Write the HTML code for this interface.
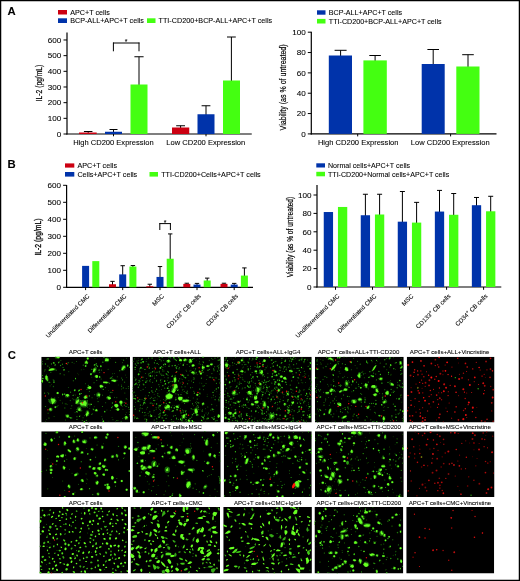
<!DOCTYPE html>
<html><head><meta charset="utf-8"><title>Figure</title>
<style>
html,body{margin:0;padding:0;background:#fff;}
body{width:520px;height:581px;overflow:hidden;position:relative;font-family:"Liberation Sans",sans-serif;}
#frame{position:absolute;left:0;top:0;width:520px;height:581px;box-sizing:border-box;border:1.3px solid #000;}
svg text{font-family:"Liberation Sans",sans-serif;fill:#000;stroke:#000;stroke-width:0.08px;}
</style></head><body>
<svg width="520" height="581" viewBox="0 0 520 581" style="position:absolute;left:0;top:0;will-change:transform">
<text x="7.5" y="15" font-size="11.3" text-anchor="start" font-weight="bold">A</text>
<text x="7.5" y="168.3" font-size="11.3" text-anchor="start" font-weight="bold">B</text>
<text x="7.7" y="359.3" font-size="11.3" text-anchor="start" font-weight="bold">C</text>
<rect x="58.00" y="10.00" width="9.00" height="4.50" fill="#cc0011"/>
<text x="70.2" y="15" font-size="7.2" text-anchor="start" font-weight="normal">APC+T cells</text>
<rect x="58.00" y="18.30" width="9.00" height="4.70" fill="#0033aa"/>
<text x="70.2" y="23.3" font-size="7.2" text-anchor="start" font-weight="normal">BCP-ALL+APC+T cells</text>
<rect x="147.00" y="18.30" width="8.50" height="4.70" fill="#44ff11"/>
<text x="158.6" y="23.3" font-size="7.2" text-anchor="start" font-weight="normal">TTI-CD200+BCP-ALL+APC+T cells</text>
<line x1="67.00" y1="32.50" x2="67.00" y2="134.50" stroke="#000" stroke-width="1.2"/>
<line x1="66.40" y1="134.00" x2="251.75" y2="134.00" stroke="#000" stroke-width="1.2"/>
<line x1="63.50" y1="134.00" x2="67.00" y2="134.00" stroke="#000" stroke-width="1"/>
<text x="61.2" y="136.75" font-size="8.1" text-anchor="end" font-weight="normal">0</text>
<line x1="63.50" y1="118.33" x2="67.00" y2="118.33" stroke="#000" stroke-width="1"/>
<text x="61.2" y="121.08" font-size="8.1" text-anchor="end" font-weight="normal">100</text>
<line x1="63.50" y1="102.66" x2="67.00" y2="102.66" stroke="#000" stroke-width="1"/>
<text x="61.2" y="105.41" font-size="8.1" text-anchor="end" font-weight="normal">200</text>
<line x1="63.50" y1="86.99" x2="67.00" y2="86.99" stroke="#000" stroke-width="1"/>
<text x="61.2" y="89.74" font-size="8.1" text-anchor="end" font-weight="normal">300</text>
<line x1="63.50" y1="71.32" x2="67.00" y2="71.32" stroke="#000" stroke-width="1"/>
<text x="61.2" y="74.07" font-size="8.1" text-anchor="end" font-weight="normal">400</text>
<line x1="63.50" y1="55.65" x2="67.00" y2="55.65" stroke="#000" stroke-width="1"/>
<text x="61.2" y="58.39999999999999" font-size="8.1" text-anchor="end" font-weight="normal">500</text>
<line x1="63.50" y1="39.98" x2="67.00" y2="39.98" stroke="#000" stroke-width="1"/>
<text x="61.2" y="42.72999999999999" font-size="8.1" text-anchor="end" font-weight="normal">600</text>
<text font-size="8.8" text-anchor="middle" style="stroke-width:0.2px" transform="translate(41.5 83) rotate(-90) scale(0.766 1)">IL-2 (pg/mL)</text>
<line x1="88.20" y1="131.50" x2="88.20" y2="133.00" stroke="#000" stroke-width="1"/>
<line x1="83.95" y1="131.50" x2="92.45" y2="131.50" stroke="#000" stroke-width="1"/>
<rect x="79.00" y="132.50" width="17.70" height="1.50" fill="#cc0011"/>
<line x1="113.50" y1="129.50" x2="113.50" y2="136.30" stroke="#000" stroke-width="1"/>
<line x1="109.50" y1="129.50" x2="117.50" y2="129.50" stroke="#000" stroke-width="1"/>
<rect x="105.00" y="131.75" width="17.00" height="2.25" fill="#0033aa"/>
<line x1="139.00" y1="56.75" x2="139.00" y2="90.00" stroke="#000" stroke-width="1"/>
<line x1="134.40" y1="56.75" x2="143.60" y2="56.75" stroke="#000" stroke-width="1"/>
<rect x="130.50" y="84.50" width="17.00" height="49.50" fill="#44ff11"/>
<line x1="113.00" y1="43.00" x2="139.50" y2="43.00" stroke="#000" stroke-width="1"/>
<line x1="113.40" y1="42.50" x2="113.40" y2="51.30" stroke="#000" stroke-width="1"/>
<line x1="139.00" y1="42.50" x2="139.00" y2="51.30" stroke="#000" stroke-width="1"/>
<text x="126" y="43.5" font-size="7" text-anchor="middle" font-weight="normal">*</text>
<line x1="180.60" y1="125.75" x2="180.60" y2="128.00" stroke="#000" stroke-width="1"/>
<line x1="176.20" y1="125.75" x2="185.00" y2="125.75" stroke="#000" stroke-width="1"/>
<rect x="172.00" y="127.50" width="17.25" height="6.50" fill="#cc0011"/>
<line x1="206.00" y1="105.75" x2="206.00" y2="136.30" stroke="#000" stroke-width="1"/>
<line x1="201.60" y1="105.75" x2="210.40" y2="105.75" stroke="#000" stroke-width="1"/>
<rect x="197.50" y="114.25" width="17.00" height="19.75" fill="#0033aa"/>
<line x1="231.40" y1="37.00" x2="231.40" y2="85.00" stroke="#000" stroke-width="1"/>
<line x1="227.00" y1="37.00" x2="235.80" y2="37.00" stroke="#000" stroke-width="1"/>
<rect x="223.00" y="80.50" width="17.00" height="53.50" fill="#44ff11"/>
<text x="113.4" y="145.2" font-size="7.55" text-anchor="middle" font-weight="normal">High CD200 Expression</text>
<text x="205.8" y="145.2" font-size="7.55" text-anchor="middle" font-weight="normal">Low CD200 Expression</text>
<rect x="317.00" y="10.30" width="8.50" height="4.40" fill="#0033aa"/>
<text x="328.8" y="15" font-size="7.15" text-anchor="start" font-weight="normal">BCP-ALL+APC+T cells</text>
<rect x="317.00" y="18.90" width="8.50" height="4.60" fill="#44ff11"/>
<text x="328.8" y="23.7" font-size="7.15" text-anchor="start" font-weight="normal">TTI-CD200+BCP-ALL+APC+T cells</text>
<line x1="311.30" y1="31.70" x2="311.30" y2="134.40" stroke="#000" stroke-width="1.2"/>
<line x1="310.70" y1="133.90" x2="496.50" y2="133.90" stroke="#000" stroke-width="1.2"/>
<line x1="307.80" y1="133.90" x2="311.30" y2="133.90" stroke="#000" stroke-width="1"/>
<text x="305.7" y="136.65" font-size="8.1" text-anchor="end" font-weight="normal">0</text>
<line x1="307.80" y1="113.56" x2="311.30" y2="113.56" stroke="#000" stroke-width="1"/>
<text x="305.7" y="116.31" font-size="8.1" text-anchor="end" font-weight="normal">20</text>
<line x1="307.80" y1="93.22" x2="311.30" y2="93.22" stroke="#000" stroke-width="1"/>
<text x="305.7" y="95.97000000000001" font-size="8.1" text-anchor="end" font-weight="normal">40</text>
<line x1="307.80" y1="72.88" x2="311.30" y2="72.88" stroke="#000" stroke-width="1"/>
<text x="305.7" y="75.63000000000001" font-size="8.1" text-anchor="end" font-weight="normal">60</text>
<line x1="307.80" y1="52.54" x2="311.30" y2="52.54" stroke="#000" stroke-width="1"/>
<text x="305.7" y="55.29000000000002" font-size="8.1" text-anchor="end" font-weight="normal">80</text>
<line x1="307.80" y1="32.20" x2="311.30" y2="32.20" stroke="#000" stroke-width="1"/>
<text x="305.7" y="34.95000000000002" font-size="8.1" text-anchor="end" font-weight="normal">100</text>
<text font-size="8.6" text-anchor="middle" style="stroke-width:0.2px" transform="translate(285.9 87.4) rotate(-90) scale(0.82 1)">Viability (as % of untreated)</text>
<line x1="340.60" y1="50.30" x2="340.60" y2="60.00" stroke="#000" stroke-width="1"/>
<line x1="334.60" y1="50.30" x2="346.60" y2="50.30" stroke="#000" stroke-width="1"/>
<rect x="328.80" y="55.50" width="23.20" height="78.40" fill="#0033aa"/>
<line x1="375.10" y1="55.50" x2="375.10" y2="65.00" stroke="#000" stroke-width="1"/>
<line x1="369.30" y1="55.50" x2="380.90" y2="55.50" stroke="#000" stroke-width="1"/>
<rect x="363.40" y="60.40" width="23.40" height="73.50" fill="#44ff11"/>
<line x1="357.70" y1="133.90" x2="357.70" y2="136.40" stroke="#000" stroke-width="1"/>
<line x1="433.20" y1="49.50" x2="433.20" y2="70.00" stroke="#000" stroke-width="1"/>
<line x1="427.40" y1="49.50" x2="439.00" y2="49.50" stroke="#000" stroke-width="1"/>
<rect x="421.70" y="64.00" width="23.00" height="69.90" fill="#0033aa"/>
<line x1="468.00" y1="54.70" x2="468.00" y2="70.00" stroke="#000" stroke-width="1"/>
<line x1="462.20" y1="54.70" x2="473.80" y2="54.70" stroke="#000" stroke-width="1"/>
<rect x="456.30" y="66.50" width="23.20" height="67.40" fill="#44ff11"/>
<line x1="450.60" y1="133.90" x2="450.60" y2="136.40" stroke="#000" stroke-width="1"/>
<text x="358.2" y="145.2" font-size="7.55" text-anchor="middle" font-weight="normal">High CD200 Expression</text>
<text x="450.2" y="145.2" font-size="7.55" text-anchor="middle" font-weight="normal">Low CD200 Expression</text>
<rect x="65.00" y="163.40" width="9.30" height="4.20" fill="#cc0011"/>
<text x="77.4" y="168.2" font-size="7.2" text-anchor="start" font-weight="normal">APC+T cells</text>
<rect x="65.00" y="172.00" width="9.30" height="4.60" fill="#0033aa"/>
<text x="77.4" y="176.7" font-size="7.2" text-anchor="start" font-weight="normal">Cells+APC+T cells</text>
<rect x="149.50" y="172.00" width="8.50" height="4.60" fill="#44ff11"/>
<text x="161.2" y="176.7" font-size="7.2" text-anchor="start" font-weight="normal">TTI-CD200+Cells+APC+T cells</text>
<line x1="66.60" y1="185.00" x2="66.60" y2="287.80" stroke="#000" stroke-width="1.2"/>
<line x1="66.00" y1="287.30" x2="253.00" y2="287.30" stroke="#000" stroke-width="1.2"/>
<line x1="63.10" y1="287.30" x2="66.60" y2="287.30" stroke="#000" stroke-width="1"/>
<text x="60.9" y="290.05" font-size="8.1" text-anchor="end" font-weight="normal">0</text>
<line x1="63.10" y1="270.30" x2="66.60" y2="270.30" stroke="#000" stroke-width="1"/>
<text x="60.9" y="273.05" font-size="8.1" text-anchor="end" font-weight="normal">100</text>
<line x1="63.10" y1="253.30" x2="66.60" y2="253.30" stroke="#000" stroke-width="1"/>
<text x="60.9" y="256.05" font-size="8.1" text-anchor="end" font-weight="normal">200</text>
<line x1="63.10" y1="236.30" x2="66.60" y2="236.30" stroke="#000" stroke-width="1"/>
<text x="60.9" y="239.05" font-size="8.1" text-anchor="end" font-weight="normal">300</text>
<line x1="63.10" y1="219.30" x2="66.60" y2="219.30" stroke="#000" stroke-width="1"/>
<text x="60.9" y="222.05" font-size="8.1" text-anchor="end" font-weight="normal">400</text>
<line x1="63.10" y1="202.30" x2="66.60" y2="202.30" stroke="#000" stroke-width="1"/>
<text x="60.9" y="205.05" font-size="8.1" text-anchor="end" font-weight="normal">500</text>
<line x1="63.10" y1="185.30" x2="66.60" y2="185.30" stroke="#000" stroke-width="1"/>
<text x="60.9" y="188.05" font-size="8.1" text-anchor="end" font-weight="normal">600</text>
<text font-size="8.7" text-anchor="middle" style="stroke-width:0.3px" transform="translate(41.1 237) rotate(-90) scale(0.786 1)">IL-2 (pg/mL)</text>
<rect x="82.10" y="265.88" width="7.00" height="21.42" fill="#0033aa"/>
<rect x="92.30" y="261.12" width="7.00" height="26.18" fill="#44ff11"/>
<line x1="85.60" y1="287.30" x2="85.60" y2="290.10" stroke="#000" stroke-width="1"/>
<line x1="112.50" y1="281.35" x2="112.50" y2="285.24" stroke="#000" stroke-width="1"/>
<line x1="110.30" y1="281.35" x2="114.70" y2="281.35" stroke="#000" stroke-width="1"/>
<rect x="109.00" y="284.24" width="7.00" height="3.06" fill="#cc0011"/>
<line x1="122.70" y1="265.71" x2="122.70" y2="275.38" stroke="#000" stroke-width="1"/>
<line x1="120.50" y1="265.71" x2="124.90" y2="265.71" stroke="#000" stroke-width="1"/>
<rect x="119.20" y="274.38" width="7.00" height="12.92" fill="#0033aa"/>
<line x1="132.90" y1="265.54" x2="132.90" y2="267.56" stroke="#000" stroke-width="1"/>
<line x1="130.70" y1="265.54" x2="135.10" y2="265.54" stroke="#000" stroke-width="1"/>
<rect x="129.40" y="266.56" width="7.00" height="20.74" fill="#44ff11"/>
<line x1="122.70" y1="287.30" x2="122.70" y2="290.10" stroke="#000" stroke-width="1"/>
<line x1="149.80" y1="284.24" x2="149.80" y2="287.28" stroke="#000" stroke-width="1"/>
<line x1="147.60" y1="284.24" x2="152.00" y2="284.24" stroke="#000" stroke-width="1"/>
<rect x="146.30" y="286.28" width="7.00" height="1.02" fill="#cc0011"/>
<line x1="160.00" y1="266.56" x2="160.00" y2="277.93" stroke="#000" stroke-width="1"/>
<line x1="157.80" y1="266.56" x2="162.20" y2="266.56" stroke="#000" stroke-width="1"/>
<rect x="156.50" y="276.93" width="7.00" height="10.37" fill="#0033aa"/>
<line x1="170.20" y1="233.92" x2="170.20" y2="259.74" stroke="#000" stroke-width="1"/>
<line x1="168.00" y1="233.92" x2="172.40" y2="233.92" stroke="#000" stroke-width="1"/>
<rect x="166.70" y="258.74" width="7.00" height="28.56" fill="#44ff11"/>
<line x1="160.00" y1="287.30" x2="160.00" y2="290.10" stroke="#000" stroke-width="1"/>
<line x1="186.80" y1="283.22" x2="186.80" y2="284.90" stroke="#000" stroke-width="1"/>
<line x1="184.60" y1="283.22" x2="189.00" y2="283.22" stroke="#000" stroke-width="1"/>
<rect x="183.30" y="283.90" width="7.00" height="3.40" fill="#cc0011"/>
<line x1="197.00" y1="283.39" x2="197.00" y2="285.58" stroke="#000" stroke-width="1"/>
<line x1="194.80" y1="283.39" x2="199.20" y2="283.39" stroke="#000" stroke-width="1"/>
<rect x="193.50" y="284.58" width="7.00" height="2.72" fill="#0033aa"/>
<line x1="207.20" y1="278.12" x2="207.20" y2="281.50" stroke="#000" stroke-width="1"/>
<line x1="205.00" y1="278.12" x2="209.40" y2="278.12" stroke="#000" stroke-width="1"/>
<rect x="203.70" y="280.50" width="7.00" height="6.80" fill="#44ff11"/>
<line x1="197.00" y1="287.30" x2="197.00" y2="290.10" stroke="#000" stroke-width="1"/>
<line x1="224.00" y1="283.22" x2="224.00" y2="284.90" stroke="#000" stroke-width="1"/>
<line x1="221.80" y1="283.22" x2="226.20" y2="283.22" stroke="#000" stroke-width="1"/>
<rect x="220.50" y="283.90" width="7.00" height="3.40" fill="#cc0011"/>
<line x1="234.20" y1="283.39" x2="234.20" y2="285.58" stroke="#000" stroke-width="1"/>
<line x1="232.00" y1="283.39" x2="236.40" y2="283.39" stroke="#000" stroke-width="1"/>
<rect x="230.70" y="284.58" width="7.00" height="2.72" fill="#0033aa"/>
<line x1="244.40" y1="267.92" x2="244.40" y2="276.57" stroke="#000" stroke-width="1"/>
<line x1="242.20" y1="267.92" x2="246.60" y2="267.92" stroke="#000" stroke-width="1"/>
<rect x="240.90" y="275.57" width="7.00" height="11.73" fill="#44ff11"/>
<line x1="234.20" y1="287.30" x2="234.20" y2="290.10" stroke="#000" stroke-width="1"/>
<line x1="159.40" y1="223.60" x2="170.80" y2="223.60" stroke="#000" stroke-width="1"/>
<line x1="159.80" y1="223.10" x2="159.80" y2="230.00" stroke="#000" stroke-width="1"/>
<line x1="170.40" y1="223.10" x2="170.40" y2="230.00" stroke="#000" stroke-width="1"/>
<text x="165" y="224.5" font-size="7" text-anchor="middle" font-weight="normal">*</text>
<text font-size="6.15" text-anchor="end" transform="translate(89.89999999999999 296.5) rotate(-45)">Undifferentiated CMC</text>
<text font-size="6.15" text-anchor="end" transform="translate(127.0 296.5) rotate(-45)">Differentiated CMC</text>
<text font-size="6.15" text-anchor="end" transform="translate(164.3 296.5) rotate(-45)">MSC</text>
<text font-size="6.15" text-anchor="end" transform="translate(201.3 296.5) rotate(-45)">CD133<tspan dy="-2.5" font-size="4.5">+</tspan><tspan dy="2.5"> CB cells</tspan></text>
<text font-size="6.15" text-anchor="end" transform="translate(238.5 296.5) rotate(-45)">CD34<tspan dy="-2.5" font-size="4.5">+</tspan><tspan dy="2.5"> CB cells</tspan></text>
<rect x="316.30" y="163.30" width="8.70" height="4.20" fill="#0033aa"/>
<text x="328" y="168.3" font-size="7.08" text-anchor="start" font-weight="normal">Normal cells+APC+T cells</text>
<rect x="316.30" y="171.80" width="8.70" height="4.50" fill="#44ff11"/>
<text x="328" y="176.8" font-size="7.08" text-anchor="start" font-weight="normal">TTI-CD200+Normal cells+APC+T cells</text>
<line x1="317.00" y1="185.00" x2="317.00" y2="287.50" stroke="#000" stroke-width="1.2"/>
<line x1="316.40" y1="287.00" x2="501.30" y2="287.00" stroke="#000" stroke-width="1.2"/>
<line x1="313.50" y1="287.00" x2="317.00" y2="287.00" stroke="#000" stroke-width="1"/>
<text x="311.4" y="289.75" font-size="8.1" text-anchor="end" font-weight="normal">0</text>
<line x1="313.50" y1="268.60" x2="317.00" y2="268.60" stroke="#000" stroke-width="1"/>
<text x="311.4" y="271.35" font-size="8.1" text-anchor="end" font-weight="normal">20</text>
<line x1="313.50" y1="250.20" x2="317.00" y2="250.20" stroke="#000" stroke-width="1"/>
<text x="311.4" y="252.95" font-size="8.1" text-anchor="end" font-weight="normal">40</text>
<line x1="313.50" y1="231.80" x2="317.00" y2="231.80" stroke="#000" stroke-width="1"/>
<text x="311.4" y="234.55" font-size="8.1" text-anchor="end" font-weight="normal">60</text>
<line x1="313.50" y1="213.40" x2="317.00" y2="213.40" stroke="#000" stroke-width="1"/>
<text x="311.4" y="216.14999999999998" font-size="8.1" text-anchor="end" font-weight="normal">80</text>
<line x1="313.50" y1="195.00" x2="317.00" y2="195.00" stroke="#000" stroke-width="1"/>
<text x="311.4" y="197.75" font-size="8.1" text-anchor="end" font-weight="normal">100</text>
<text font-size="8.8" text-anchor="middle" style="stroke-width:0.2px" transform="translate(292.7 237) rotate(-90) scale(0.75 1)">Viability (as % of untreated)</text>
<rect x="323.75" y="212.02" width="9.30" height="74.98" fill="#0033aa"/>
<rect x="337.95" y="206.96" width="9.30" height="80.04" fill="#44ff11"/>
<line x1="335.50" y1="287.00" x2="335.50" y2="289.80" stroke="#000" stroke-width="1"/>
<line x1="365.40" y1="194.26" x2="365.40" y2="216.24" stroke="#000" stroke-width="1"/>
<line x1="362.90" y1="194.26" x2="367.90" y2="194.26" stroke="#000" stroke-width="1"/>
<rect x="360.75" y="215.24" width="9.30" height="71.76" fill="#0033aa"/>
<line x1="379.60" y1="194.26" x2="379.60" y2="215.50" stroke="#000" stroke-width="1"/>
<line x1="377.10" y1="194.26" x2="382.10" y2="194.26" stroke="#000" stroke-width="1"/>
<rect x="374.95" y="214.50" width="9.30" height="72.50" fill="#44ff11"/>
<line x1="372.50" y1="287.00" x2="372.50" y2="289.80" stroke="#000" stroke-width="1"/>
<line x1="402.40" y1="191.50" x2="402.40" y2="222.68" stroke="#000" stroke-width="1"/>
<line x1="399.90" y1="191.50" x2="404.90" y2="191.50" stroke="#000" stroke-width="1"/>
<rect x="397.75" y="221.68" width="9.30" height="65.32" fill="#0033aa"/>
<line x1="416.60" y1="202.36" x2="416.60" y2="223.60" stroke="#000" stroke-width="1"/>
<line x1="414.10" y1="202.36" x2="419.10" y2="202.36" stroke="#000" stroke-width="1"/>
<rect x="411.95" y="222.60" width="9.30" height="64.40" fill="#44ff11"/>
<line x1="409.50" y1="287.00" x2="409.50" y2="289.80" stroke="#000" stroke-width="1"/>
<line x1="439.50" y1="190.40" x2="439.50" y2="212.56" stroke="#000" stroke-width="1"/>
<line x1="437.00" y1="190.40" x2="442.00" y2="190.40" stroke="#000" stroke-width="1"/>
<rect x="434.85" y="211.56" width="9.30" height="75.44" fill="#0033aa"/>
<line x1="453.70" y1="193.53" x2="453.70" y2="215.78" stroke="#000" stroke-width="1"/>
<line x1="451.20" y1="193.53" x2="456.20" y2="193.53" stroke="#000" stroke-width="1"/>
<rect x="449.05" y="214.78" width="9.30" height="72.22" fill="#44ff11"/>
<line x1="446.60" y1="287.00" x2="446.60" y2="289.80" stroke="#000" stroke-width="1"/>
<line x1="476.50" y1="197.48" x2="476.50" y2="206.21" stroke="#000" stroke-width="1"/>
<line x1="474.00" y1="197.48" x2="479.00" y2="197.48" stroke="#000" stroke-width="1"/>
<rect x="471.85" y="205.21" width="9.30" height="81.79" fill="#0033aa"/>
<line x1="490.70" y1="196.29" x2="490.70" y2="212.28" stroke="#000" stroke-width="1"/>
<line x1="488.20" y1="196.29" x2="493.20" y2="196.29" stroke="#000" stroke-width="1"/>
<rect x="486.05" y="211.28" width="9.30" height="75.72" fill="#44ff11"/>
<line x1="483.60" y1="287.00" x2="483.60" y2="289.80" stroke="#000" stroke-width="1"/>
<text font-size="6.15" text-anchor="end" transform="translate(339.8 296.5) rotate(-45)">Undifferentiated CMC</text>
<text font-size="6.15" text-anchor="end" transform="translate(376.8 296.5) rotate(-45)">Differentiated CMC</text>
<text font-size="6.15" text-anchor="end" transform="translate(413.8 296.5) rotate(-45)">MSC</text>
<text font-size="6.15" text-anchor="end" transform="translate(450.90000000000003 296.5) rotate(-45)">CD133<tspan dy="-2.5" font-size="4.5">+</tspan><tspan dy="2.5"> CB cells</tspan></text>
<text font-size="6.15" text-anchor="end" transform="translate(487.90000000000003 296.5) rotate(-45)">CD34<tspan dy="-2.5" font-size="4.5">+</tspan><tspan dy="2.5"> CB cells</tspan></text>
<defs><filter id="bl" x="-5%" y="-5%" width="110%" height="110%"><feGaussianBlur stdDeviation="0.42"/></filter></defs>
<text x="85.625" y="354.15" font-size="6.1" text-anchor="middle" font-weight="normal">APC+T cells</text>
<svg x="41.25" y="356.75" width="88.75" height="65.75" viewBox="0 0 88.75 65.75">
<rect width="88.75" height="65.75" fill="#000"/>
<g filter="url(#bl)">
<circle cx="40.1" cy="36.8" r="0.54" fill="rgb(46,184,23)"/>
<circle cx="45.1" cy="38.6" r="0.64" fill="rgb(27,108,13)"/>
<circle cx="42.2" cy="40.4" r="0.43" fill="rgb(27,108,13)"/>
<circle cx="26.9" cy="6.0" r="0.59" fill="rgb(43,173,21)"/>
<circle cx="52.8" cy="26.0" r="0.60" fill="rgb(35,142,17)"/>
<circle cx="54.6" cy="10.4" r="0.65" fill="rgb(21,86,10)"/>
<circle cx="5.6" cy="2.3" r="0.58" fill="rgb(28,115,14)"/>
<circle cx="69.1" cy="21.5" r="0.65" fill="rgb(40,160,20)"/>
<circle cx="46.1" cy="42.1" r="0.40" fill="rgb(37,148,18)"/>
<circle cx="7.5" cy="43.1" r="0.70" fill="rgb(34,137,17)"/>
<circle cx="88.4" cy="55.2" r="0.48" fill="rgb(43,175,21)"/>
<circle cx="67.3" cy="33.7" r="0.42" fill="rgb(22,88,11)"/>
<circle cx="68.0" cy="26.3" r="0.52" fill="rgb(30,122,15)"/>
<circle cx="85.0" cy="55.7" r="0.46" fill="rgb(21,85,10)"/>
<circle cx="82.3" cy="3.4" r="0.69" fill="rgb(33,133,16)"/>
<circle cx="35.3" cy="4.8" r="0.46" fill="rgb(41,165,20)"/>
<circle cx="59.9" cy="22.2" r="0.50" fill="rgb(31,124,15)"/>
<circle cx="85.6" cy="49.8" r="0.44" fill="rgb(25,100,12)"/>
<circle cx="62.7" cy="0.7" r="0.64" fill="rgb(36,144,18)"/>
<circle cx="15.8" cy="36.8" r="0.55" fill="rgb(35,142,17)"/>
<circle cx="87.4" cy="50.6" r="0.59" fill="rgb(34,138,17)"/>
<circle cx="10.3" cy="27.7" r="0.40" fill="rgb(28,112,14)"/>
<circle cx="76.7" cy="64.1" r="0.49" fill="rgb(40,160,20)"/>
<circle cx="78.5" cy="13.9" r="0.70" fill="rgb(33,135,16)"/>
<circle cx="53.4" cy="37.9" r="0.70" fill="rgb(22,90,11)"/>
<circle cx="18.9" cy="17.0" r="0.58" fill="rgb(45,183,22)"/>
<circle cx="73.7" cy="25.4" r="0.43" fill="rgb(23,94,11)"/>
<circle cx="51.7" cy="16.0" r="0.51" fill="rgb(40,161,20)"/>
<circle cx="55.2" cy="8.4" r="0.55" fill="rgb(40,160,20)"/>
<circle cx="51.0" cy="57.0" r="0.59" fill="rgb(27,108,13)"/>
<circle cx="27.6" cy="15.0" r="0.47" fill="rgb(40,163,20)"/>
<circle cx="16.8" cy="48.6" r="0.46" fill="rgb(38,155,19)"/>
<circle cx="84.3" cy="58.0" r="0.42" fill="rgb(40,162,20)"/>
<circle cx="4.2" cy="7.2" r="0.69" fill="rgb(37,150,18)"/>
<circle cx="21.2" cy="46.3" r="0.53" fill="rgb(29,117,14)"/>
<circle cx="80.3" cy="32.3" r="0.45" fill="rgb(37,151,18)"/>
<circle cx="63.9" cy="4.5" r="0.54" fill="rgb(28,114,14)"/>
<circle cx="58.0" cy="40.5" r="0.48" fill="rgb(23,94,11)"/>
<circle cx="81.4" cy="13.4" r="0.42" fill="rgb(21,87,10)"/>
<circle cx="36.5" cy="16.4" r="0.45" fill="rgb(22,90,11)"/>
<circle cx="32.7" cy="37.6" r="0.43" fill="rgb(25,101,12)"/>
<circle cx="12.3" cy="29.6" r="0.60" fill="rgb(31,127,15)"/>
<circle cx="61.3" cy="38.4" r="0.58" fill="rgb(25,102,12)"/>
<circle cx="82.0" cy="31.2" r="0.61" fill="rgb(32,130,16)"/>
<circle cx="85.4" cy="1.4" r="0.42" fill="rgb(41,166,20)"/>
<circle cx="6.0" cy="20.5" r="0.70" fill="rgb(25,102,12)"/>
<circle cx="6.7" cy="35.9" r="0.41" fill="rgb(44,179,22)"/>
<circle cx="83.1" cy="48.5" r="0.64" fill="rgb(25,101,12)"/>
<circle cx="81.2" cy="23.1" r="0.54" fill="rgb(43,172,21)"/>
<circle cx="6.9" cy="56.4" r="0.66" fill="rgb(22,88,11)"/>
<circle cx="50.8" cy="41.1" r="0.51" fill="rgb(33,133,16)"/>
<circle cx="1.1" cy="4.8" r="0.59" fill="rgb(24,96,12)"/>
<circle cx="88.2" cy="57.8" r="0.50" fill="rgb(44,178,22)"/>
<circle cx="82.9" cy="45.6" r="0.53" fill="rgb(35,143,17)"/>
<circle cx="74.4" cy="5.5" r="0.55" fill="rgb(45,181,22)"/>
<circle cx="27.5" cy="5.8" r="0.47" fill="rgb(21,87,10)"/>
<circle cx="62.0" cy="32.7" r="0.60" fill="rgb(40,163,20)"/>
<circle cx="43.2" cy="58.9" r="0.49" fill="rgb(33,132,16)"/>
<circle cx="60.2" cy="13.3" r="0.63" fill="rgb(26,106,13)"/>
<circle cx="30.4" cy="61.2" r="0.67" fill="rgb(37,148,18)"/>
<circle cx="29.0" cy="43.8" r="0.59" fill="rgb(27,110,13)"/>
<circle cx="71.3" cy="49.6" r="0.66" fill="rgb(27,110,13)"/>
<circle cx="34.1" cy="38.3" r="0.46" fill="rgb(31,125,15)"/>
<circle cx="11.9" cy="23.1" r="0.61" fill="rgb(22,90,11)"/>
<circle cx="84.3" cy="18.2" r="0.43" fill="rgb(26,106,13)"/>
<circle cx="41.8" cy="60.9" r="0.51" fill="rgb(34,137,17)"/>
<circle cx="46.1" cy="44.2" r="0.65" fill="rgb(44,176,22)"/>
<circle cx="87.2" cy="29.8" r="0.65" fill="rgb(23,94,11)"/>
<circle cx="24.7" cy="39.9" r="0.61" fill="rgb(42,171,21)"/>
<circle cx="50.6" cy="20.3" r="0.41" fill="rgb(39,157,19)"/>
<circle cx="12.1" cy="29.9" r="0.63" fill="rgb(22,88,11)"/>
<circle cx="23.6" cy="51.2" r="0.70" fill="rgb(22,91,11)"/>
<circle cx="10.2" cy="7.2" r="0.60" fill="rgb(38,153,19)"/>
<circle cx="71.7" cy="63.0" r="0.46" fill="rgb(43,172,21)"/>
<circle cx="73.1" cy="16.8" r="0.40" fill="rgb(44,176,22)"/>
<circle cx="41.9" cy="47.0" r="0.47" fill="rgb(26,107,13)"/>
<circle cx="69.1" cy="35.5" r="0.55" fill="rgb(37,151,18)"/>
<circle cx="88.5" cy="10.5" r="0.67" fill="rgb(43,174,21)"/>
<circle cx="7.7" cy="61.3" r="0.52" fill="rgb(44,177,22)"/>
<circle cx="40.0" cy="12.9" r="0.51" fill="rgb(21,85,10)"/>
<circle cx="50.5" cy="57.8" r="0.54" fill="rgb(32,128,16)"/>
<circle cx="57.8" cy="13.5" r="0.66" fill="rgb(44,177,22)"/>
<circle cx="70.8" cy="60.8" r="0.46" fill="rgb(25,100,12)"/>
<circle cx="79.9" cy="64.5" r="0.56" fill="rgb(31,124,15)"/>
<circle cx="70.2" cy="21.1" r="0.66" fill="rgb(44,176,22)"/>
<circle cx="30.9" cy="5.4" r="0.50" fill="rgb(35,141,17)"/>
<circle cx="37.4" cy="18.1" r="0.47" fill="rgb(22,88,11)"/>
<circle cx="77.0" cy="28.2" r="0.45" fill="rgb(22,89,11)"/>
<circle cx="29.7" cy="51.8" r="0.54" fill="rgb(25,102,12)"/>
<circle cx="88.7" cy="59.2" r="0.65" fill="rgb(37,151,18)"/>
<circle cx="61.2" cy="62.2" r="0.57" fill="rgb(37,148,18)"/>
<circle cx="61.2" cy="49.8" r="0.56" fill="rgb(35,141,17)"/>
<circle cx="25.8" cy="47.9" r="0.45" fill="rgb(41,166,20)"/>
<circle cx="45.6" cy="59.6" r="0.49" fill="rgb(29,117,14)"/>
<circle cx="33.8" cy="55.6" r="0.46" fill="rgb(40,163,20)"/>
<circle cx="75.5" cy="63.7" r="0.48" fill="rgb(38,152,19)"/>
<circle cx="44.2" cy="27.0" r="0.55" fill="rgb(24,99,12)"/>
<circle cx="53.7" cy="1.8" r="0.55" fill="rgb(22,90,11)"/>
<circle cx="35.6" cy="52.7" r="0.44" fill="rgb(39,157,19)"/>
<circle cx="8.3" cy="11.0" r="0.54" fill="rgb(38,153,19)"/>
<circle cx="81.7" cy="52.6" r="0.48" fill="rgb(34,136,17)"/>
<circle cx="42.0" cy="8.3" r="0.67" fill="rgb(35,140,17)"/>
<circle cx="83.0" cy="60.5" r="0.50" fill="rgb(38,152,19)"/>
<circle cx="17.0" cy="40.6" r="0.44" fill="rgb(29,118,14)"/>
<circle cx="69.2" cy="1.5" r="0.45" fill="rgb(27,109,13)"/>
<circle cx="1.1" cy="18.7" r="0.51" fill="rgb(44,177,22)"/>
<circle cx="55.0" cy="6.9" r="0.57" fill="rgb(44,178,22)"/>
<circle cx="75.6" cy="41.0" r="0.46" fill="rgb(44,176,22)"/>
<circle cx="47.1" cy="28.7" r="0.59" fill="rgb(33,133,16)"/>
<circle cx="73.2" cy="40.5" r="0.46" fill="rgb(38,153,19)"/>
<circle cx="56.0" cy="42.0" r="0.46" fill="rgb(38,152,19)"/>
<circle cx="48.2" cy="38.6" r="0.47" fill="rgb(25,102,12)"/>
<circle cx="65.7" cy="53.3" r="0.49" fill="rgb(27,108,13)"/>
<circle cx="28.0" cy="60.7" r="0.63" fill="rgb(28,112,14)"/>
<circle cx="17.3" cy="6.4" r="0.44" fill="rgb(28,115,14)"/>
<circle cx="7.8" cy="25.5" r="0.65" fill="rgb(35,140,17)"/>
<circle cx="37.4" cy="51.9" r="0.46" fill="rgb(25,101,12)"/>
<circle cx="55.7" cy="52.5" r="0.46" fill="rgb(24,97,12)"/>
<circle cx="60.6" cy="59.9" r="0.43" fill="rgb(32,131,16)"/>
<circle cx="44.9" cy="49.8" r="0.70" fill="rgb(37,149,18)"/>
<circle cx="73.9" cy="52.8" r="0.43" fill="rgb(36,146,18)"/>
<circle cx="3.3" cy="36.3" r="0.67" fill="rgb(37,150,18)"/>
<circle cx="42.7" cy="12.5" r="0.46" fill="rgb(24,99,12)"/>
<circle cx="74.6" cy="65.1" r="0.43" fill="rgb(42,171,21)"/>
<circle cx="5.5" cy="62.6" r="0.42" fill="rgb(36,144,18)"/>
<circle cx="8.6" cy="25.7" r="0.55" fill="rgb(34,139,17)"/>
<circle cx="38.2" cy="39.5" r="0.59" fill="rgb(21,86,10)"/>
<circle cx="3.6" cy="13.2" r="0.54" fill="rgb(34,137,17)"/>
<circle cx="65.6" cy="26.6" r="0.58" fill="rgb(27,109,13)"/>
<circle cx="8.4" cy="52.1" r="0.67" fill="rgb(31,126,15)"/>
<circle cx="71.2" cy="46.3" r="0.68" fill="rgb(41,165,20)"/>
<circle cx="50.6" cy="12.6" r="0.69" fill="rgb(39,159,19)"/>
<circle cx="71.4" cy="17.0" r="0.62" fill="rgb(24,99,12)"/>
<circle cx="69.0" cy="53.6" r="0.44" fill="rgb(34,136,17)"/>
<circle cx="29.3" cy="35.4" r="0.63" fill="rgb(33,132,16)"/>
<circle cx="67.9" cy="26.7" r="0.46" fill="rgb(44,177,22)"/>
<circle cx="70.8" cy="19.8" r="0.40" fill="rgb(24,97,12)"/>
<circle cx="31.6" cy="42.0" r="0.41" fill="rgb(41,164,20)"/>
<circle cx="24.2" cy="63.2" r="0.50" fill="rgb(30,123,15)"/>
<circle cx="58.6" cy="37.4" r="0.42" fill="rgb(38,153,19)"/>
<circle cx="45.7" cy="32.7" r="0.61" fill="rgb(28,112,14)"/>
<circle cx="67.6" cy="64.4" r="0.43" fill="rgb(21,87,10)"/>
<circle cx="9.6" cy="15.6" r="0.52" fill="rgb(35,141,17)"/>
<circle cx="4.5" cy="12.9" r="0.40" fill="rgb(33,133,16)"/>
<circle cx="22.9" cy="18.1" r="0.57" fill="rgb(32,128,16)"/>
<circle cx="45.1" cy="63.6" r="0.65" fill="rgb(39,157,19)"/>
<circle cx="8.8" cy="29.2" r="0.42" fill="rgb(41,167,20)"/>
<circle cx="53.0" cy="49.9" r="0.52" fill="rgb(22,90,11)"/>
<circle cx="83.3" cy="25.4" r="0.66" fill="rgb(26,106,13)"/>
<circle cx="48.1" cy="39.2" r="0.68" fill="rgb(34,139,17)"/>
<circle cx="37.3" cy="34.6" r="0.49" fill="rgb(40,161,20)"/>
<circle cx="47.1" cy="31.8" r="0.57" fill="rgb(29,119,14)"/>
<circle cx="25.2" cy="47.1" r="0.41" fill="rgb(30,122,15)"/>
<circle cx="68.6" cy="38.5" r="0.45" fill="rgb(41,166,20)"/>
<circle cx="67.0" cy="25.6" r="0.62" fill="rgb(31,125,15)"/>
<circle cx="4.5" cy="65.0" r="0.42" fill="rgb(31,125,15)"/>
<circle cx="80.4" cy="28.2" r="0.48" fill="rgb(36,146,18)"/>
<circle cx="67.1" cy="3.0" r="0.68" fill="rgb(24,97,12)"/>
<circle cx="64.1" cy="30.8" r="0.58" fill="rgb(29,116,14)"/>
<circle cx="10.2" cy="41.0" r="0.44" fill="rgb(35,143,17)"/>
<circle cx="76.4" cy="23.5" r="0.44" fill="rgb(26,104,13)"/>
<circle cx="39.3" cy="43.9" r="0.58" fill="rgb(35,143,17)"/>
<circle cx="56.8" cy="44.8" r="0.63" fill="rgb(32,131,16)"/>
<circle cx="47.1" cy="65.6" r="0.62" fill="rgb(30,122,15)"/>
<circle cx="21.2" cy="7.5" r="0.64" fill="rgb(31,124,15)"/>
<circle cx="55.5" cy="23.6" r="0.58" fill="rgb(29,119,14)"/>
<circle cx="64.4" cy="46.0" r="0.59" fill="rgb(27,109,13)"/>
<circle cx="66.9" cy="12.5" r="0.55" fill="rgb(29,116,14)"/>
<circle cx="57.9" cy="12.9" r="0.41" fill="rgb(43,172,21)"/>
<circle cx="5.4" cy="17.8" r="0.41" fill="rgb(34,139,17)"/>
<circle cx="3.4" cy="14.6" r="0.42" fill="rgb(30,120,15)"/>
<circle cx="7.7" cy="44.5" r="0.47" fill="rgb(38,155,19)"/>
<circle cx="87.1" cy="31.8" r="0.46" fill="rgb(32,130,16)"/>
<circle cx="30.5" cy="49.0" r="0.64" fill="rgb(23,94,11)"/>
<circle cx="39.7" cy="54.0" r="0.63" fill="rgb(45,183,22)"/>
<circle cx="39.4" cy="49.1" r="0.64" fill="rgb(33,134,16)"/>
<circle cx="32.7" cy="43.0" r="0.50" fill="rgb(40,161,20)"/>
<circle cx="48.7" cy="49.1" r="0.53" fill="rgb(27,108,13)"/>
<circle cx="32.8" cy="6.4" r="0.42" fill="rgb(31,126,15)"/>
<circle cx="7.4" cy="37.1" r="0.64" fill="rgb(36,147,18)"/>
<circle cx="41.1" cy="54.1" r="0.42" fill="rgb(21,86,10)"/>
<circle cx="18.9" cy="43.5" r="0.61" fill="rgb(23,95,11)"/>
<circle cx="43.9" cy="50.2" r="0.48" fill="rgb(31,126,15)"/>
<circle cx="12.7" cy="23.5" r="0.50" fill="rgb(44,177,22)"/>
<circle cx="80.4" cy="21.2" r="0.57" fill="rgb(35,141,17)"/>
<circle cx="81.5" cy="61.8" r="0.53" fill="rgb(30,120,15)"/>
<circle cx="71.3" cy="20.0" r="0.47" fill="rgb(31,125,15)"/>
<circle cx="85.9" cy="48.0" r="0.47" fill="rgb(37,151,18)"/>
<circle cx="32.1" cy="24.0" r="0.60" fill="rgb(32,131,16)"/>
<circle cx="51.9" cy="52.3" r="0.57" fill="rgb(44,179,22)"/>
<circle cx="70.7" cy="35.5" r="0.57" fill="rgb(40,160,20)"/>
<circle cx="15.7" cy="49.9" r="0.64" fill="rgb(30,121,15)"/>
<circle cx="19.6" cy="3.8" r="0.57" fill="rgb(26,105,13)"/>
<circle cx="85.8" cy="42.8" r="0.42" fill="rgb(34,139,17)"/>
<circle cx="48.5" cy="51.8" r="0.50" fill="rgb(23,95,11)"/>
<circle cx="24.3" cy="6.9" r="0.43" fill="rgb(31,125,15)"/>
<circle cx="56.3" cy="9.5" r="0.64" fill="rgb(45,180,22)"/>
<circle cx="37.5" cy="46.8" r="0.63" fill="rgb(36,147,18)"/>
<circle cx="46.3" cy="50.3" r="0.51" fill="rgb(33,135,16)"/>
<circle cx="71.6" cy="21.9" r="0.55" fill="rgb(25,102,12)"/>
<circle cx="47.7" cy="47.4" r="0.59" fill="rgb(43,175,21)"/>
<circle cx="4.1" cy="49.8" r="0.50" fill="rgb(42,170,21)"/>
<circle cx="0.3" cy="24.9" r="0.67" fill="rgb(24,96,12)"/>
<circle cx="85.0" cy="42.1" r="0.51" fill="rgb(38,152,19)"/>
<circle cx="0.9" cy="7.2" r="0.67" fill="rgb(34,138,17)"/>
<circle cx="21.8" cy="10.7" r="0.51" fill="rgb(41,166,20)"/>
<circle cx="14.9" cy="13.4" r="0.56" fill="rgb(34,139,17)"/>
<circle cx="24.3" cy="58.3" r="0.49" fill="rgb(36,145,18)"/>
<circle cx="10.2" cy="42.6" r="0.68" fill="rgb(46,184,23)"/>
<circle cx="81.0" cy="49.5" r="0.58" fill="rgb(21,87,10)"/>
<circle cx="80.7" cy="2.4" r="0.46" fill="rgb(24,98,12)"/>
<circle cx="31.9" cy="38.7" r="0.62" fill="rgb(40,161,20)"/>
<circle cx="52.8" cy="14.7" r="0.67" fill="rgb(27,108,13)"/>
<circle cx="35.7" cy="59.9" r="0.59" fill="rgb(31,124,15)"/>
<circle cx="83.6" cy="36.2" r="0.55" fill="rgb(29,118,14)"/>
<circle cx="35.7" cy="62.8" r="0.56" fill="rgb(42,169,21)"/>
<circle cx="84.9" cy="31.7" r="0.52" fill="rgb(28,113,14)"/>
<circle cx="19.3" cy="8.8" r="0.69" fill="rgb(33,134,16)"/>
<circle cx="70.5" cy="50.9" r="0.70" fill="rgb(46,185,23)"/>
<circle cx="58.4" cy="15.6" r="0.66" fill="rgb(21,86,10)"/>
<circle cx="80.3" cy="29.6" r="0.61" fill="rgb(29,116,14)"/>
<circle cx="53.8" cy="10.3" r="0.63" fill="rgb(26,105,13)"/>
<circle cx="12.8" cy="59.7" r="0.44" fill="rgb(37,151,18)"/>
<circle cx="65.8" cy="40.7" r="0.56" fill="rgb(37,151,18)"/>
<circle cx="13.4" cy="50.7" r="0.46" fill="rgb(21,85,10)"/>
<circle cx="81.3" cy="9.8" r="0.42" fill="rgb(25,101,12)"/>
<circle cx="24.0" cy="47.1" r="0.67" fill="rgb(24,97,12)"/>
<circle cx="61.6" cy="5.4" r="0.58" fill="rgb(45,180,22)"/>
<circle cx="76.1" cy="20.0" r="0.53" fill="rgb(27,109,13)"/>
<circle cx="81.4" cy="6.0" r="0.46" fill="rgb(35,141,17)"/>
<circle cx="48.2" cy="34.6" r="0.68" fill="rgb(26,105,13)"/>
<circle cx="85.5" cy="20.8" r="0.42" fill="rgb(34,136,17)"/>
<circle cx="27.1" cy="30.7" r="0.42" fill="rgb(44,176,22)"/>
<circle cx="6.6" cy="9.2" r="0.52" fill="rgb(42,170,21)"/>
<circle cx="41.0" cy="63.6" r="0.60" fill="rgb(25,100,12)"/>
<circle cx="1.1" cy="24.8" r="0.54" fill="rgb(43,175,21)"/>
<circle cx="26.0" cy="7.5" r="0.40" fill="rgb(45,183,22)"/>
<circle cx="88.0" cy="52.6" r="0.67" fill="rgb(27,111,13)"/>
<circle cx="13.5" cy="41.3" r="0.62" fill="rgb(38,154,19)"/>
<circle cx="84.7" cy="49.6" r="0.60" fill="rgb(39,156,19)"/>
<ellipse cx="22.8" cy="13.1" rx="0.99" ry="0.69" transform="rotate(170 22.8 13.1)" fill="#3ed818"/>
<ellipse cx="49.9" cy="47.6" rx="0.83" ry="0.71" transform="rotate(17 49.9 47.6)" fill="#3ed818"/>
<ellipse cx="12.5" cy="6.2" rx="0.97" ry="0.79" transform="rotate(32 12.5 6.2)" fill="#3ed818"/>
<ellipse cx="35.7" cy="55.0" rx="0.94" ry="0.59" transform="rotate(41 35.7 55.0)" fill="#3ed818"/>
<ellipse cx="13.9" cy="8.2" rx="0.86" ry="0.54" transform="rotate(166 13.9 8.2)" fill="#3ed818"/>
<ellipse cx="37.9" cy="33.6" rx="0.96" ry="0.80" transform="rotate(148 37.9 33.6)" fill="#3ed818"/>
<ellipse cx="34.3" cy="21.8" rx="0.86" ry="0.52" transform="rotate(72 34.3 21.8)" fill="#3ed818"/>
<ellipse cx="62.1" cy="64.6" rx="1.02" ry="0.81" transform="rotate(110 62.1 64.6)" fill="#3ed818"/>
<ellipse cx="1.6" cy="21.8" rx="0.84" ry="0.67" transform="rotate(19 1.6 21.8)" fill="#3ed818"/>
<ellipse cx="33.5" cy="33.5" rx="1.02" ry="0.86" transform="rotate(110 33.5 33.5)" fill="#3ed818"/>
<ellipse cx="14.1" cy="50.4" rx="1.06" ry="0.81" transform="rotate(63 14.1 50.4)" fill="#3ed818"/>
<ellipse cx="44.4" cy="9.3" rx="0.99" ry="0.88" transform="rotate(93 44.4 9.3)" fill="#3ed818"/>
<ellipse cx="63.5" cy="54.9" rx="0.78" ry="0.69" transform="rotate(113 63.5 54.9)" fill="#3ed818"/>
<ellipse cx="17.6" cy="5.5" rx="0.80" ry="0.62" transform="rotate(125 17.6 5.5)" fill="#3ed818"/>
<ellipse cx="29.2" cy="61.1" rx="0.84" ry="0.62" transform="rotate(22 29.2 61.1)" fill="#3ed818"/>
<ellipse cx="86.4" cy="8.9" rx="1.06" ry="0.81" transform="rotate(101 86.4 8.9)" fill="#3ed818"/>
<ellipse cx="49.7" cy="17.4" rx="1.06" ry="0.95" transform="rotate(147 49.7 17.4)" fill="#3ed818"/>
<ellipse cx="53.4" cy="8.1" rx="1.03" ry="0.71" transform="rotate(161 53.4 8.1)" fill="#3ed818"/>
<ellipse cx="21.4" cy="37.7" rx="1.03" ry="0.68" transform="rotate(99 21.4 37.7)" fill="#3ed818"/>
<ellipse cx="6.8" cy="2.1" rx="0.77" ry="0.69" transform="rotate(169 6.8 2.1)" fill="#3ed818"/>
<ellipse cx="58.4" cy="20.2" rx="0.97" ry="0.80" transform="rotate(69 58.4 20.2)" fill="#3ed818"/>
<ellipse cx="52.5" cy="52.9" rx="0.71" ry="0.47" transform="rotate(84 52.5 52.9)" fill="#3ed818"/>
<ellipse cx="12.7" cy="25.4" rx="0.93" ry="0.61" transform="rotate(94 12.7 25.4)" fill="#3ed818"/>
<ellipse cx="23.4" cy="37.3" rx="0.83" ry="0.66" transform="rotate(7 23.4 37.3)" fill="#3ed818"/>
<ellipse cx="59.6" cy="9.5" rx="1.08" ry="0.85" transform="rotate(85 59.6 9.5)" fill="#3ed818"/>
<ellipse cx="36.5" cy="41.0" rx="0.98" ry="0.81" transform="rotate(135 36.5 41.0)" fill="#3ed818"/>
<ellipse cx="43.1" cy="65.4" rx="1.04" ry="0.89" transform="rotate(74 43.1 65.4)" fill="#3ed818"/>
<ellipse cx="38.5" cy="37.2" rx="1.06" ry="0.80" transform="rotate(95 38.5 37.2)" fill="#3ed818"/>
<ellipse cx="38.4" cy="59.5" rx="0.83" ry="0.51" transform="rotate(131 38.4 59.5)" fill="#3ed818"/>
<ellipse cx="79.9" cy="48.1" rx="0.94" ry="0.78" transform="rotate(55 79.9 48.1)" fill="#3ed818"/>
<ellipse cx="16.1" cy="0.4" rx="2.70" ry="1.62" fill="#185f0a"/>
<ellipse cx="10.8" cy="12.8" rx="3.78" ry="1.30" transform="rotate(-10 10.8 12.8)" fill="#185f0a"/>
<ellipse cx="5.5" cy="21.6" rx="3.24" ry="1.62" transform="rotate(70 5.5 21.6)" fill="#185f0a"/>
<ellipse cx="45.1" cy="5.7" rx="1.94" ry="1.94" fill="#185f0a"/>
<ellipse cx="46.5" cy="1.8" rx="1.30" ry="1.30" fill="#185f0a"/>
<ellipse cx="53.6" cy="13.3" rx="3.24" ry="1.62" transform="rotate(-70 53.6 13.3)" fill="#185f0a"/>
<ellipse cx="55.0" cy="19.8" rx="1.73" ry="1.73" fill="#185f0a"/>
<ellipse cx="65.6" cy="3.2" rx="2.37" ry="2.37" fill="#185f0a"/>
<ellipse cx="82.3" cy="11.0" rx="3.02" ry="2.16" transform="rotate(-60 82.3 11.0)" fill="#185f0a"/>
<ellipse cx="64.2" cy="25.7" rx="2.70" ry="1.30" fill="#185f0a"/>
<ellipse cx="72.7" cy="23.9" rx="3.02" ry="1.30" fill="#185f0a"/>
<ellipse cx="60.3" cy="29.7" rx="1.94" ry="1.94" fill="#185f0a"/>
<ellipse cx="47.9" cy="31.0" rx="2.37" ry="1.62" fill="#185f0a"/>
<ellipse cx="57.1" cy="38.1" rx="2.16" ry="2.70" fill="#185f0a"/>
<ellipse cx="44.4" cy="40.4" rx="2.16" ry="1.62" fill="#185f0a"/>
<ellipse cx="26.2" cy="38.9" rx="2.16" ry="1.94" fill="#185f0a"/>
<ellipse cx="11.5" cy="44.6" rx="3.78" ry="3.02" fill="#185f0a"/>
<ellipse cx="36.3" cy="44.6" rx="2.37" ry="3.24" fill="#185f0a"/>
<ellipse cx="42.6" cy="46.9" rx="4.32" ry="3.78" fill="#185f0a"/>
<ellipse cx="38.0" cy="52.2" rx="2.37" ry="2.37" fill="#185f0a"/>
<ellipse cx="46.2" cy="56.6" rx="1.94" ry="3.02" fill="#185f0a"/>
<ellipse cx="26.2" cy="59.3" rx="1.94" ry="1.94" fill="#185f0a"/>
<ellipse cx="9.4" cy="52.7" rx="1.94" ry="1.94" fill="#185f0a"/>
<ellipse cx="67.4" cy="41.1" rx="2.37" ry="1.94" fill="#185f0a"/>
<ellipse cx="75.2" cy="49.0" rx="2.16" ry="2.16" fill="#185f0a"/>
<ellipse cx="76.6" cy="52.7" rx="1.62" ry="1.62" fill="#185f0a"/>
<ellipse cx="79.8" cy="45.7" rx="1.94" ry="1.94" fill="#185f0a"/>
<ellipse cx="85.1" cy="61.1" rx="1.94" ry="1.94" fill="#185f0a"/>
<ellipse cx="55.0" cy="53.4" rx="1.51" ry="1.51" fill="#185f0a"/>
<ellipse cx="16.4" cy="36.3" rx="1.30" ry="1.30" fill="#185f0a"/>
<ellipse cx="0.9" cy="24.8" rx="1.08" ry="1.62" fill="#185f0a"/>
<polygon points="18.5,0.8 16.9,1.7 15.8,1.1 15.1,0.4 14.2,-0.7 15.6,-1.2 18.1,-0.6" fill="#66ff22"/>
<polygon points="10.6,13.8 7.4,14.2 8.0,12.7 9.7,11.8 12.3,11.6 12.5,12.5 13.7,13.1" fill="#66ff22"/>
<polygon points="6.3,22.3 6.8,24.6 5.2,23.0 4.2,22.2 4.1,19.4 5.1,18.4 6.3,19.4" fill="#66ff22"/>
<polygon points="46.5,7.2 44.9,6.4 43.4,6.8 44.2,5.2 45.0,3.5 45.9,5.1 46.3,5.6" fill="#66ff22"/>
<ellipse cx="46.5" cy="1.8" rx="0.96" ry="0.96" fill="#66ff22"/>
<polygon points="54.3,13.3 53.9,14.1 52.6,15.4 51.5,15.0 52.6,11.2 53.8,12.2 54.6,11.6" fill="#66ff22"/>
<polygon points="56.5,18.6 56.8,20.2 55.9,21.2 54.9,21.1 54.2,20.1 53.9,19.5 54.7,18.3" fill="#66ff22"/>
<polygon points="65.4,4.3 63.6,4.3 63.8,3.2 64.5,1.5 66.3,1.9 67.7,2.9 66.9,4.3" fill="#66ff22"/>
<polygon points="84.1,10.4 82.8,11.6 81.3,13.5 80.0,13.5 81.1,10.8 81.9,9.5 83.3,9.3" fill="#66ff22"/>
<polygon points="65.3,25.1 67.0,25.5 65.4,26.5 63.9,26.2 61.8,26.0 61.9,25.0 63.9,25.0" fill="#66ff22"/>
<polygon points="73.1,25.2 71.6,24.4 69.8,23.4 72.2,23.0 74.0,23.2 75.1,23.8 74.4,24.7" fill="#66ff22"/>
<polygon points="59.6,28.1 60.8,28.8 62.3,29.6 61.4,30.2 60.2,30.6 59.0,31.0 58.2,29.1" fill="#66ff22"/>
<polygon points="46.0,30.5 47.0,30.0 48.7,29.3 50.1,30.3 49.8,32.0 47.5,32.4 47.0,31.3" fill="#66ff22"/>
<polygon points="56.4,39.2 56.2,38.1 56.8,36.9 57.7,36.7 59.0,37.4 58.5,39.7 57.0,39.1" fill="#66ff22"/>
<polygon points="43.0,40.3 43.7,38.7 44.9,39.1 46.0,40.3 45.4,41.3 44.3,41.9 42.9,41.7" fill="#66ff22"/>
<polygon points="26.4,40.3 25.7,39.5 24.0,38.6 25.3,37.6 26.7,37.3 28.1,38.4 26.9,39.5" fill="#66ff22"/>
<polygon points="14.4,43.8 13.0,45.8 11.0,47.7 10.4,45.5 10.0,44.2 9.5,41.7 12.9,42.1" fill="#66ff22"/>
<polygon points="37.0,45.5 36.1,46.7 34.2,47.0 35.1,43.8 35.8,43.7 37.5,42.5 37.8,44.2" fill="#66ff22"/>
<polygon points="42.2,44.9 43.8,43.6 45.6,46.2 44.8,49.5 42.7,48.7 40.1,48.7 38.1,46.2" fill="#66ff22"/>
<polygon points="37.0,53.7 36.9,52.3 37.3,51.7 37.9,51.4 38.9,51.5 39.4,52.8 38.9,54.6" fill="#66ff22"/>
<polygon points="45.5,56.0 46.1,54.6 47.0,54.9 47.7,56.6 46.7,58.1 45.4,59.9 44.2,58.0" fill="#66ff22"/>
<polygon points="27.2,60.3 26.3,60.7 25.6,60.0 24.4,59.3 25.5,58.5 26.7,58.4 27.7,58.7" fill="#66ff22"/>
<polygon points="8.8,53.4 8.0,53.2 8.5,51.5 9.7,51.5 10.3,52.1 10.1,53.1 10.2,54.0" fill="#66ff22"/>
<polygon points="69.8,41.9 67.7,42.9 66.8,41.7 66.3,41.2 66.2,39.7 67.4,40.1 69.1,40.4" fill="#66ff22"/>
<polygon points="76.3,47.6 77.2,49.2 75.6,50.7 74.3,50.2 73.0,49.1 73.4,47.5 75.6,47.3" fill="#66ff22"/>
<polygon points="75.9,51.8 76.7,51.6 77.5,52.1 78.2,53.0 76.8,53.9 76.0,53.7 75.1,52.7" fill="#66ff22"/>
<polygon points="79.7,47.4 78.9,46.4 78.1,45.5 78.7,43.9 80.4,44.1 81.1,45.1 81.0,46.3" fill="#66ff22"/>
<polygon points="86.1,61.3 85.2,61.7 84.1,62.9 84.1,61.0 84.0,59.9 84.9,59.1 86.5,60.4" fill="#66ff22"/>
<polygon points="54.4,53.1 54.7,53.0 55.5,52.2 55.9,53.3 56.3,54.6 55.0,54.3 53.8,54.0" fill="#66ff22"/>
<ellipse cx="16.4" cy="36.3" rx="0.96" ry="0.96" fill="#66ff22"/>
<polygon points="1.8,24.6 1.3,25.7 0.8,25.5 0.0,25.2 0.0,23.8 0.5,23.1 1.8,23.5" fill="#66ff22"/>
<circle cx="25.3" cy="6.7" r="0.72" fill="rgb(252,18,18)"/>
<circle cx="62.8" cy="15.9" r="0.72" fill="rgb(219,15,15)"/>
<circle cx="39.8" cy="32.8" r="0.72" fill="rgb(230,16,16)"/>
<circle cx="4.1" cy="39.3" r="0.72" fill="rgb(222,15,15)"/>
<circle cx="45.6" cy="39.3" r="0.72" fill="rgb(243,17,17)"/>
<circle cx="41.2" cy="46.0" r="0.72" fill="rgb(230,16,16)"/>
<circle cx="74.5" cy="45.1" r="0.72" fill="rgb(247,17,17)"/>
<circle cx="6.7" cy="53.1" r="0.72" fill="rgb(240,17,17)"/>
<circle cx="71.6" cy="33.6" r="0.72" fill="rgb(218,15,15)"/>
<circle cx="84.6" cy="46.4" r="0.72" fill="rgb(245,17,17)"/>
</g></svg>
<text x="176.925" y="354.15" font-size="6.1" text-anchor="middle" font-weight="normal">APC+T cells+ALL</text>
<svg x="132.50" y="356.75" width="88.25" height="65.75" viewBox="0 0 88.25 65.75">
<rect width="88.25" height="65.75" fill="#000"/>
<g filter="url(#bl)">
<circle cx="61.3" cy="34.6" r="0.56" fill="rgb(28,115,14)"/>
<circle cx="58.0" cy="61.8" r="0.70" fill="rgb(23,93,11)"/>
<circle cx="64.5" cy="57.3" r="0.66" fill="rgb(33,132,16)"/>
<circle cx="37.2" cy="52.9" r="0.59" fill="rgb(28,113,14)"/>
<circle cx="37.2" cy="8.1" r="0.43" fill="rgb(23,94,11)"/>
<circle cx="69.9" cy="8.1" r="0.57" fill="rgb(38,153,19)"/>
<circle cx="40.0" cy="19.5" r="0.49" fill="rgb(44,178,22)"/>
<circle cx="28.7" cy="4.1" r="0.64" fill="rgb(35,142,17)"/>
<circle cx="35.1" cy="23.4" r="0.47" fill="rgb(39,159,19)"/>
<circle cx="27.0" cy="29.9" r="0.49" fill="rgb(31,125,15)"/>
<circle cx="44.0" cy="61.4" r="0.54" fill="rgb(46,184,23)"/>
<circle cx="18.2" cy="19.4" r="0.67" fill="rgb(43,173,21)"/>
<circle cx="17.3" cy="55.1" r="0.67" fill="rgb(32,130,16)"/>
<circle cx="1.4" cy="41.8" r="0.70" fill="rgb(43,174,21)"/>
<circle cx="17.8" cy="41.6" r="0.68" fill="rgb(27,109,13)"/>
<circle cx="86.2" cy="42.7" r="0.62" fill="rgb(31,124,15)"/>
<circle cx="27.6" cy="59.2" r="0.61" fill="rgb(34,138,17)"/>
<circle cx="11.9" cy="45.8" r="0.53" fill="rgb(46,184,23)"/>
<circle cx="7.0" cy="14.7" r="0.44" fill="rgb(31,124,15)"/>
<circle cx="61.0" cy="17.7" r="0.47" fill="rgb(44,177,22)"/>
<circle cx="58.7" cy="52.0" r="0.64" fill="rgb(33,132,16)"/>
<circle cx="46.3" cy="7.6" r="0.47" fill="rgb(37,151,18)"/>
<circle cx="26.6" cy="60.9" r="0.47" fill="rgb(42,170,21)"/>
<circle cx="11.7" cy="43.9" r="0.69" fill="rgb(36,144,18)"/>
<circle cx="38.9" cy="34.7" r="0.67" fill="rgb(38,152,19)"/>
<circle cx="0.6" cy="38.6" r="0.48" fill="rgb(38,153,19)"/>
<circle cx="70.9" cy="5.7" r="0.70" fill="rgb(30,121,15)"/>
<circle cx="16.7" cy="11.8" r="0.56" fill="rgb(44,178,22)"/>
<circle cx="16.4" cy="59.0" r="0.59" fill="rgb(22,89,11)"/>
<circle cx="80.9" cy="38.5" r="0.68" fill="rgb(21,85,10)"/>
<circle cx="44.1" cy="11.8" r="0.63" fill="rgb(39,156,19)"/>
<circle cx="80.3" cy="21.1" r="0.63" fill="rgb(36,146,18)"/>
<circle cx="45.6" cy="33.2" r="0.61" fill="rgb(41,166,20)"/>
<circle cx="45.9" cy="62.6" r="0.58" fill="rgb(26,107,13)"/>
<circle cx="68.1" cy="7.4" r="0.47" fill="rgb(35,140,17)"/>
<circle cx="38.9" cy="50.8" r="0.61" fill="rgb(46,185,23)"/>
<circle cx="63.7" cy="17.1" r="0.47" fill="rgb(38,154,19)"/>
<circle cx="51.2" cy="32.8" r="0.46" fill="rgb(22,89,11)"/>
<circle cx="85.7" cy="3.5" r="0.66" fill="rgb(35,142,17)"/>
<circle cx="15.9" cy="10.0" r="0.58" fill="rgb(21,87,10)"/>
<circle cx="71.1" cy="33.1" r="0.48" fill="rgb(44,177,22)"/>
<circle cx="70.5" cy="4.8" r="0.57" fill="rgb(26,107,13)"/>
<circle cx="47.9" cy="52.0" r="0.59" fill="rgb(28,115,14)"/>
<circle cx="4.8" cy="28.0" r="0.49" fill="rgb(43,174,21)"/>
<circle cx="54.8" cy="34.5" r="0.63" fill="rgb(29,118,14)"/>
<circle cx="44.0" cy="42.7" r="0.45" fill="rgb(37,150,18)"/>
<circle cx="22.5" cy="10.5" r="0.60" fill="rgb(43,173,21)"/>
<circle cx="52.6" cy="29.9" r="0.52" fill="rgb(31,125,15)"/>
<circle cx="32.2" cy="14.2" r="0.44" fill="rgb(22,90,11)"/>
<circle cx="66.7" cy="39.5" r="0.44" fill="rgb(25,102,12)"/>
<circle cx="40.2" cy="49.0" r="0.40" fill="rgb(22,90,11)"/>
<circle cx="36.2" cy="34.6" r="0.52" fill="rgb(24,96,12)"/>
<circle cx="26.3" cy="27.9" r="0.69" fill="rgb(23,94,11)"/>
<circle cx="60.0" cy="47.1" r="0.58" fill="rgb(44,178,22)"/>
<circle cx="26.1" cy="7.8" r="0.53" fill="rgb(28,115,14)"/>
<circle cx="7.6" cy="14.9" r="0.50" fill="rgb(31,124,15)"/>
<circle cx="86.6" cy="40.2" r="0.45" fill="rgb(22,90,11)"/>
<circle cx="51.6" cy="65.4" r="0.50" fill="rgb(44,179,22)"/>
<circle cx="61.3" cy="56.8" r="0.68" fill="rgb(40,160,20)"/>
<circle cx="15.6" cy="56.5" r="0.51" fill="rgb(28,112,14)"/>
<circle cx="69.0" cy="14.2" r="0.47" fill="rgb(32,129,16)"/>
<circle cx="70.0" cy="52.9" r="0.46" fill="rgb(36,146,18)"/>
<circle cx="18.9" cy="30.8" r="0.54" fill="rgb(31,124,15)"/>
<circle cx="43.3" cy="41.2" r="0.66" fill="rgb(27,108,13)"/>
<circle cx="18.1" cy="25.2" r="0.41" fill="rgb(23,94,11)"/>
<circle cx="24.4" cy="62.4" r="0.41" fill="rgb(41,164,20)"/>
<circle cx="16.1" cy="17.2" r="0.57" fill="rgb(33,135,16)"/>
<circle cx="57.3" cy="14.3" r="0.51" fill="rgb(24,98,12)"/>
<circle cx="13.5" cy="61.6" r="0.44" fill="rgb(32,131,16)"/>
<circle cx="21.3" cy="55.2" r="0.41" fill="rgb(25,100,12)"/>
<circle cx="28.4" cy="25.3" r="0.66" fill="rgb(23,95,11)"/>
<circle cx="33.7" cy="16.9" r="0.60" fill="rgb(37,151,18)"/>
<circle cx="26.7" cy="40.0" r="0.41" fill="rgb(36,147,18)"/>
<circle cx="13.3" cy="39.1" r="0.46" fill="rgb(22,89,11)"/>
<circle cx="36.2" cy="31.5" r="0.44" fill="rgb(43,173,21)"/>
<circle cx="62.4" cy="17.1" r="0.54" fill="rgb(44,177,22)"/>
<circle cx="33.3" cy="57.9" r="0.56" fill="rgb(30,120,15)"/>
<circle cx="39.7" cy="9.0" r="0.66" fill="rgb(37,151,18)"/>
<circle cx="19.9" cy="19.2" r="0.58" fill="rgb(32,129,16)"/>
<circle cx="12.4" cy="55.8" r="0.59" fill="rgb(45,180,22)"/>
<circle cx="49.9" cy="53.2" r="0.49" fill="rgb(45,180,22)"/>
<circle cx="59.2" cy="60.4" r="0.57" fill="rgb(28,112,14)"/>
<circle cx="31.2" cy="8.0" r="0.66" fill="rgb(46,184,23)"/>
<circle cx="20.7" cy="41.6" r="0.64" fill="rgb(24,96,12)"/>
<circle cx="10.6" cy="32.4" r="0.52" fill="rgb(36,147,18)"/>
<circle cx="29.0" cy="32.7" r="0.47" fill="rgb(30,120,15)"/>
<circle cx="81.7" cy="13.3" r="0.45" fill="rgb(45,183,22)"/>
<circle cx="58.7" cy="15.8" r="0.62" fill="rgb(24,96,12)"/>
<circle cx="80.1" cy="52.9" r="0.57" fill="rgb(36,146,18)"/>
<circle cx="61.9" cy="36.4" r="0.67" fill="rgb(43,174,21)"/>
<circle cx="79.6" cy="7.9" r="0.67" fill="rgb(23,93,11)"/>
<circle cx="24.0" cy="24.8" r="0.49" fill="rgb(39,159,19)"/>
<circle cx="63.5" cy="58.3" r="0.41" fill="rgb(23,94,11)"/>
<circle cx="30.6" cy="58.6" r="0.49" fill="rgb(39,157,19)"/>
<circle cx="71.9" cy="58.3" r="0.54" fill="rgb(41,167,20)"/>
<circle cx="54.3" cy="62.8" r="0.41" fill="rgb(32,131,16)"/>
<circle cx="62.4" cy="14.2" r="0.59" fill="rgb(23,94,11)"/>
<circle cx="54.8" cy="27.0" r="0.42" fill="rgb(34,138,17)"/>
<circle cx="6.0" cy="30.5" r="0.51" fill="rgb(35,142,17)"/>
<circle cx="80.3" cy="2.5" r="0.61" fill="rgb(25,102,12)"/>
<circle cx="24.1" cy="32.5" r="0.69" fill="rgb(36,145,18)"/>
<circle cx="13.2" cy="12.7" r="0.48" fill="rgb(28,114,14)"/>
<circle cx="19.4" cy="34.2" r="0.69" fill="rgb(38,154,19)"/>
<circle cx="0.3" cy="36.0" r="0.63" fill="rgb(42,168,21)"/>
<circle cx="7.0" cy="54.1" r="0.69" fill="rgb(43,173,21)"/>
<circle cx="29.4" cy="22.8" r="0.49" fill="rgb(21,87,10)"/>
<circle cx="63.2" cy="45.7" r="0.45" fill="rgb(43,172,21)"/>
<circle cx="17.0" cy="10.6" r="0.59" fill="rgb(31,127,15)"/>
<circle cx="43.3" cy="37.1" r="0.52" fill="rgb(33,132,16)"/>
<circle cx="32.4" cy="43.9" r="0.47" fill="rgb(37,148,18)"/>
<circle cx="22.0" cy="21.4" r="0.68" fill="rgb(26,107,13)"/>
<circle cx="65.1" cy="57.7" r="0.65" fill="rgb(23,93,11)"/>
<circle cx="78.2" cy="20.4" r="0.55" fill="rgb(35,142,17)"/>
<circle cx="59.9" cy="2.7" r="0.66" fill="rgb(41,164,20)"/>
<circle cx="76.8" cy="3.5" r="0.52" fill="rgb(29,117,14)"/>
<circle cx="65.3" cy="45.6" r="0.61" fill="rgb(29,117,14)"/>
<circle cx="22.2" cy="47.1" r="0.46" fill="rgb(31,126,15)"/>
<circle cx="75.5" cy="13.5" r="0.65" fill="rgb(39,157,19)"/>
<circle cx="50.1" cy="27.7" r="0.44" fill="rgb(43,175,21)"/>
<circle cx="65.3" cy="17.7" r="0.44" fill="rgb(26,105,13)"/>
<circle cx="33.3" cy="44.0" r="0.60" fill="rgb(28,114,14)"/>
<circle cx="85.9" cy="31.0" r="0.68" fill="rgb(43,173,21)"/>
<circle cx="85.6" cy="8.8" r="0.48" fill="rgb(43,173,21)"/>
<circle cx="22.2" cy="43.8" r="0.68" fill="rgb(33,134,16)"/>
<circle cx="87.3" cy="3.2" r="0.70" fill="rgb(44,176,22)"/>
<circle cx="76.8" cy="12.7" r="0.62" fill="rgb(32,130,16)"/>
<circle cx="87.7" cy="7.9" r="0.67" fill="rgb(31,127,15)"/>
<circle cx="73.5" cy="56.3" r="0.51" fill="rgb(26,106,13)"/>
<circle cx="27.3" cy="52.6" r="0.49" fill="rgb(42,168,21)"/>
<circle cx="34.6" cy="40.6" r="0.44" fill="rgb(45,182,22)"/>
<circle cx="50.9" cy="44.4" r="0.56" fill="rgb(28,112,14)"/>
<circle cx="70.6" cy="9.7" r="0.65" fill="rgb(26,107,13)"/>
<circle cx="49.1" cy="59.0" r="0.53" fill="rgb(36,147,18)"/>
<circle cx="13.4" cy="58.2" r="0.57" fill="rgb(29,119,14)"/>
<circle cx="12.7" cy="41.1" r="0.50" fill="rgb(30,120,15)"/>
<circle cx="7.1" cy="13.2" r="0.48" fill="rgb(38,155,19)"/>
<circle cx="4.5" cy="4.2" r="0.49" fill="rgb(45,182,22)"/>
<circle cx="6.9" cy="12.0" r="0.44" fill="rgb(36,146,18)"/>
<circle cx="69.6" cy="65.2" r="0.55" fill="rgb(34,137,17)"/>
<circle cx="36.6" cy="53.1" r="0.57" fill="rgb(33,135,16)"/>
<circle cx="19.0" cy="40.5" r="0.48" fill="rgb(41,164,20)"/>
<circle cx="16.6" cy="19.1" r="0.70" fill="rgb(29,116,14)"/>
<circle cx="39.1" cy="54.8" r="0.41" fill="rgb(44,177,22)"/>
<circle cx="75.7" cy="62.1" r="0.44" fill="rgb(38,153,19)"/>
<circle cx="6.6" cy="23.6" r="0.57" fill="rgb(45,181,22)"/>
<circle cx="5.6" cy="30.6" r="0.42" fill="rgb(27,111,13)"/>
<circle cx="32.2" cy="50.4" r="0.64" fill="rgb(29,118,14)"/>
<circle cx="69.9" cy="48.4" r="0.49" fill="rgb(34,136,17)"/>
<circle cx="46.9" cy="43.8" r="0.43" fill="rgb(45,183,22)"/>
<circle cx="83.9" cy="26.4" r="0.52" fill="rgb(43,175,21)"/>
<circle cx="79.3" cy="41.0" r="0.57" fill="rgb(21,86,10)"/>
<circle cx="20.1" cy="25.5" r="0.55" fill="rgb(33,132,16)"/>
<circle cx="24.4" cy="65.2" r="0.59" fill="rgb(41,165,20)"/>
<circle cx="31.2" cy="18.4" r="0.50" fill="rgb(42,168,21)"/>
<circle cx="8.3" cy="22.0" r="0.45" fill="rgb(44,179,22)"/>
<circle cx="4.1" cy="8.6" r="0.60" fill="rgb(30,123,15)"/>
<circle cx="15.6" cy="7.0" r="0.51" fill="rgb(25,103,12)"/>
<circle cx="16.1" cy="1.4" r="0.55" fill="rgb(34,136,17)"/>
<circle cx="35.6" cy="21.1" r="0.65" fill="rgb(38,153,19)"/>
<circle cx="67.2" cy="1.4" r="0.50" fill="rgb(26,107,13)"/>
<circle cx="66.6" cy="7.1" r="0.53" fill="rgb(31,126,15)"/>
<circle cx="85.0" cy="14.4" r="0.63" fill="rgb(34,137,17)"/>
<circle cx="78.3" cy="53.4" r="0.60" fill="rgb(23,93,11)"/>
<circle cx="83.6" cy="21.2" r="0.63" fill="rgb(27,108,13)"/>
<circle cx="46.3" cy="0.7" r="0.59" fill="rgb(44,178,22)"/>
<circle cx="33.4" cy="42.3" r="0.58" fill="rgb(28,112,14)"/>
<circle cx="30.4" cy="28.9" r="0.59" fill="rgb(44,176,22)"/>
<circle cx="44.6" cy="37.3" r="0.44" fill="rgb(24,99,12)"/>
<circle cx="65.2" cy="48.9" r="0.60" fill="rgb(35,140,17)"/>
<circle cx="37.0" cy="25.3" r="0.51" fill="rgb(28,114,14)"/>
<circle cx="47.8" cy="2.8" r="0.56" fill="rgb(22,89,11)"/>
<circle cx="39.9" cy="18.7" r="0.58" fill="rgb(22,90,11)"/>
<circle cx="82.2" cy="10.0" r="0.50" fill="rgb(36,144,18)"/>
<circle cx="22.6" cy="41.0" r="0.62" fill="rgb(27,109,13)"/>
<circle cx="87.3" cy="26.4" r="0.63" fill="rgb(25,101,12)"/>
<circle cx="79.2" cy="7.3" r="0.65" fill="rgb(27,108,13)"/>
<circle cx="57.3" cy="61.7" r="0.64" fill="rgb(24,99,12)"/>
<circle cx="45.1" cy="65.3" r="0.46" fill="rgb(23,93,11)"/>
<circle cx="3.4" cy="22.5" r="0.64" fill="rgb(37,151,18)"/>
<circle cx="40.1" cy="35.3" r="0.46" fill="rgb(34,139,17)"/>
<circle cx="24.7" cy="42.3" r="0.43" fill="rgb(23,94,11)"/>
<circle cx="38.9" cy="49.8" r="0.42" fill="rgb(28,115,14)"/>
<circle cx="43.8" cy="3.7" r="0.69" fill="rgb(38,155,19)"/>
<circle cx="5.8" cy="61.9" r="0.45" fill="rgb(32,131,16)"/>
<circle cx="29.5" cy="61.1" r="0.65" fill="rgb(28,113,14)"/>
<circle cx="10.4" cy="11.9" r="0.41" fill="rgb(33,134,16)"/>
<circle cx="60.2" cy="30.6" r="0.42" fill="rgb(36,147,18)"/>
<circle cx="87.2" cy="13.6" r="0.49" fill="rgb(41,165,20)"/>
<circle cx="84.5" cy="63.8" r="0.60" fill="rgb(39,156,19)"/>
<circle cx="38.0" cy="1.0" r="0.61" fill="rgb(32,128,16)"/>
<circle cx="74.5" cy="62.2" r="0.58" fill="rgb(42,169,21)"/>
<circle cx="61.3" cy="11.9" r="0.45" fill="rgb(25,101,12)"/>
<circle cx="51.2" cy="2.7" r="0.43" fill="rgb(30,120,15)"/>
<circle cx="83.0" cy="40.1" r="0.49" fill="rgb(32,130,16)"/>
<circle cx="0.7" cy="4.5" r="0.62" fill="rgb(27,111,13)"/>
<circle cx="31.8" cy="20.4" r="0.46" fill="rgb(34,137,17)"/>
<circle cx="6.3" cy="17.5" r="0.65" fill="rgb(33,132,16)"/>
<circle cx="36.1" cy="30.0" r="0.44" fill="rgb(37,149,18)"/>
<circle cx="8.4" cy="33.8" r="0.47" fill="rgb(34,138,17)"/>
<circle cx="51.1" cy="18.7" r="0.69" fill="rgb(30,121,15)"/>
<circle cx="6.9" cy="42.6" r="0.68" fill="rgb(28,113,14)"/>
<circle cx="34.2" cy="48.9" r="0.47" fill="rgb(40,161,20)"/>
<circle cx="56.4" cy="24.1" r="0.48" fill="rgb(31,127,15)"/>
<circle cx="38.9" cy="62.8" r="0.60" fill="rgb(30,122,15)"/>
<circle cx="1.1" cy="40.1" r="0.52" fill="rgb(21,86,10)"/>
<circle cx="11.7" cy="58.9" r="0.52" fill="rgb(29,117,14)"/>
<circle cx="24.6" cy="6.7" r="0.58" fill="rgb(45,183,22)"/>
<circle cx="48.2" cy="6.5" r="0.43" fill="rgb(27,111,13)"/>
<circle cx="32.1" cy="24.6" r="0.58" fill="rgb(44,177,22)"/>
<circle cx="61.5" cy="65.1" r="0.60" fill="rgb(21,87,10)"/>
<circle cx="13.7" cy="4.8" r="0.54" fill="rgb(26,106,13)"/>
<circle cx="27.9" cy="44.1" r="0.42" fill="rgb(40,162,20)"/>
<circle cx="19.6" cy="1.4" r="0.53" fill="rgb(33,135,16)"/>
<circle cx="20.3" cy="35.6" r="0.70" fill="rgb(24,99,12)"/>
<circle cx="5.9" cy="30.4" r="0.64" fill="rgb(34,136,17)"/>
<circle cx="82.3" cy="34.0" r="0.46" fill="rgb(39,159,19)"/>
<circle cx="32.6" cy="9.4" r="0.43" fill="rgb(33,135,16)"/>
<circle cx="70.1" cy="0.2" r="0.61" fill="rgb(42,168,21)"/>
<circle cx="69.4" cy="59.6" r="0.64" fill="rgb(42,169,21)"/>
<circle cx="64.5" cy="51.0" r="0.53" fill="rgb(25,100,12)"/>
<circle cx="13.7" cy="24.4" r="0.68" fill="rgb(32,131,16)"/>
<circle cx="79.1" cy="1.6" r="0.52" fill="rgb(32,129,16)"/>
<circle cx="49.5" cy="64.1" r="0.64" fill="rgb(46,184,23)"/>
<circle cx="26.6" cy="33.4" r="0.42" fill="rgb(25,100,12)"/>
<circle cx="21.0" cy="43.6" r="0.55" fill="rgb(37,150,18)"/>
<circle cx="25.9" cy="51.1" r="0.58" fill="rgb(29,116,14)"/>
<circle cx="41.2" cy="65.1" r="0.54" fill="rgb(40,160,20)"/>
<circle cx="49.3" cy="30.2" r="0.64" fill="rgb(24,98,12)"/>
<circle cx="44.5" cy="9.5" r="0.56" fill="rgb(39,157,19)"/>
<circle cx="35.9" cy="40.3" r="0.69" fill="rgb(44,176,22)"/>
<circle cx="36.5" cy="0.7" r="0.64" fill="rgb(26,104,13)"/>
<circle cx="9.7" cy="48.5" r="0.45" fill="rgb(33,133,16)"/>
<circle cx="46.9" cy="1.9" r="0.55" fill="rgb(24,99,12)"/>
<circle cx="80.5" cy="35.7" r="0.65" fill="rgb(45,182,22)"/>
<circle cx="4.1" cy="27.4" r="0.46" fill="rgb(23,95,11)"/>
<circle cx="47.4" cy="43.2" r="0.50" fill="rgb(34,138,17)"/>
<circle cx="43.2" cy="43.0" r="0.68" fill="rgb(39,156,19)"/>
<circle cx="50.1" cy="32.9" r="0.52" fill="rgb(24,97,12)"/>
<circle cx="26.4" cy="48.6" r="0.47" fill="rgb(29,118,14)"/>
<circle cx="7.5" cy="52.1" r="0.51" fill="rgb(33,134,16)"/>
<circle cx="38.0" cy="29.6" r="0.49" fill="rgb(22,91,11)"/>
<circle cx="46.9" cy="10.7" r="0.56" fill="rgb(33,133,16)"/>
<circle cx="35.3" cy="14.6" r="0.61" fill="rgb(24,97,12)"/>
<circle cx="2.9" cy="23.6" r="0.56" fill="rgb(28,114,14)"/>
<circle cx="46.5" cy="48.2" r="0.52" fill="rgb(33,132,16)"/>
<circle cx="85.3" cy="0.5" r="0.51" fill="rgb(40,160,20)"/>
<circle cx="21.7" cy="63.3" r="0.51" fill="rgb(43,173,21)"/>
<circle cx="26.6" cy="40.1" r="0.42" fill="rgb(40,160,20)"/>
<circle cx="16.2" cy="7.8" r="0.63" fill="rgb(45,182,22)"/>
<circle cx="4.7" cy="6.1" r="0.58" fill="rgb(29,117,14)"/>
<circle cx="71.3" cy="62.1" r="0.66" fill="rgb(41,167,20)"/>
<circle cx="35.5" cy="18.8" r="0.43" fill="rgb(43,172,21)"/>
<circle cx="35.0" cy="14.8" r="0.50" fill="rgb(29,117,14)"/>
<circle cx="28.0" cy="53.9" r="0.49" fill="rgb(46,185,23)"/>
<circle cx="24.9" cy="65.7" r="0.41" fill="rgb(36,147,18)"/>
<circle cx="55.1" cy="36.3" r="0.59" fill="rgb(32,128,16)"/>
<circle cx="2.0" cy="61.4" r="0.46" fill="rgb(45,181,22)"/>
<circle cx="48.3" cy="54.2" r="0.53" fill="rgb(36,146,18)"/>
<circle cx="60.0" cy="64.7" r="0.45" fill="rgb(23,94,11)"/>
<circle cx="7.4" cy="45.1" r="0.51" fill="rgb(25,102,12)"/>
<circle cx="39.5" cy="28.7" r="0.53" fill="rgb(25,100,12)"/>
<circle cx="79.2" cy="47.8" r="0.69" fill="rgb(24,99,12)"/>
<circle cx="31.4" cy="54.7" r="0.43" fill="rgb(44,176,22)"/>
<circle cx="10.4" cy="20.4" r="0.57" fill="rgb(42,168,21)"/>
<circle cx="81.4" cy="13.9" r="0.50" fill="rgb(34,138,17)"/>
<circle cx="12.4" cy="62.3" r="0.66" fill="rgb(26,104,13)"/>
<circle cx="41.7" cy="2.1" r="0.68" fill="rgb(35,140,17)"/>
<circle cx="17.7" cy="46.2" r="0.55" fill="rgb(37,148,18)"/>
<circle cx="60.9" cy="25.5" r="0.54" fill="rgb(46,184,23)"/>
<circle cx="48.5" cy="56.2" r="0.58" fill="rgb(45,183,22)"/>
<circle cx="17.8" cy="22.8" r="0.60" fill="rgb(26,105,13)"/>
<circle cx="33.3" cy="52.8" r="0.52" fill="rgb(43,172,21)"/>
<circle cx="50.7" cy="55.4" r="0.63" fill="rgb(32,130,16)"/>
<circle cx="13.0" cy="46.3" r="0.50" fill="rgb(33,135,16)"/>
<circle cx="61.5" cy="15.4" r="0.51" fill="rgb(29,118,14)"/>
<circle cx="36.3" cy="3.0" r="0.64" fill="rgb(23,93,11)"/>
<circle cx="22.5" cy="16.0" r="0.53" fill="rgb(28,112,14)"/>
<circle cx="54.5" cy="36.8" r="0.67" fill="rgb(34,137,17)"/>
<circle cx="40.2" cy="32.0" r="0.46" fill="rgb(28,114,14)"/>
<circle cx="54.7" cy="44.7" r="0.65" fill="rgb(37,149,18)"/>
<circle cx="3.1" cy="45.9" r="0.45" fill="rgb(39,157,19)"/>
<circle cx="43.3" cy="32.2" r="0.69" fill="rgb(35,142,17)"/>
<circle cx="67.5" cy="53.0" r="0.47" fill="rgb(24,97,12)"/>
<circle cx="13.8" cy="64.8" r="0.62" fill="rgb(38,153,19)"/>
<circle cx="30.4" cy="10.7" r="0.57" fill="rgb(27,109,13)"/>
<circle cx="79.4" cy="60.7" r="0.50" fill="rgb(43,173,21)"/>
<circle cx="9.6" cy="51.8" r="0.58" fill="rgb(30,122,15)"/>
<circle cx="73.3" cy="64.6" r="0.47" fill="rgb(24,99,12)"/>
<circle cx="1.8" cy="35.3" r="0.60" fill="rgb(29,117,14)"/>
<circle cx="25.3" cy="36.9" r="0.55" fill="rgb(29,118,14)"/>
<circle cx="24.1" cy="18.7" r="0.68" fill="rgb(30,120,15)"/>
<circle cx="13.4" cy="25.6" r="0.66" fill="rgb(38,154,19)"/>
<circle cx="53.8" cy="35.8" r="0.45" fill="rgb(44,178,22)"/>
<circle cx="66.2" cy="46.2" r="0.63" fill="rgb(40,160,20)"/>
<circle cx="22.9" cy="3.6" r="0.51" fill="rgb(46,184,23)"/>
<circle cx="69.5" cy="15.3" r="0.61" fill="rgb(35,142,17)"/>
<circle cx="30.5" cy="14.2" r="0.55" fill="rgb(41,166,20)"/>
<circle cx="50.0" cy="22.9" r="0.42" fill="rgb(28,114,14)"/>
<circle cx="48.5" cy="37.8" r="0.62" fill="rgb(42,169,21)"/>
<circle cx="26.7" cy="0.2" r="0.69" fill="rgb(39,157,19)"/>
<circle cx="17.2" cy="24.2" r="0.66" fill="rgb(32,130,16)"/>
<circle cx="5.4" cy="43.8" r="0.44" fill="rgb(23,93,11)"/>
<circle cx="36.5" cy="9.4" r="0.69" fill="rgb(43,172,21)"/>
<circle cx="86.0" cy="60.5" r="0.42" fill="rgb(38,154,19)"/>
<circle cx="46.5" cy="12.1" r="0.61" fill="rgb(38,152,19)"/>
<circle cx="54.1" cy="60.8" r="0.43" fill="rgb(43,175,21)"/>
<circle cx="12.3" cy="12.7" r="0.55" fill="rgb(43,173,21)"/>
<circle cx="49.2" cy="63.9" r="0.43" fill="rgb(39,156,19)"/>
<circle cx="79.4" cy="16.8" r="0.61" fill="rgb(28,113,14)"/>
<circle cx="82.9" cy="64.2" r="0.66" fill="rgb(26,104,13)"/>
<circle cx="82.5" cy="1.3" r="0.64" fill="rgb(36,147,18)"/>
<circle cx="87.9" cy="37.6" r="0.49" fill="rgb(40,163,20)"/>
<circle cx="15.0" cy="50.6" r="0.69" fill="rgb(26,105,13)"/>
<circle cx="2.8" cy="7.3" r="0.69" fill="rgb(30,123,15)"/>
<circle cx="2.1" cy="2.1" r="0.61" fill="rgb(27,108,13)"/>
<circle cx="45.9" cy="38.1" r="0.60" fill="rgb(45,181,22)"/>
<circle cx="7.3" cy="24.4" r="0.69" fill="rgb(28,112,14)"/>
<circle cx="73.5" cy="26.8" r="0.47" fill="rgb(31,127,15)"/>
<circle cx="34.6" cy="59.1" r="0.48" fill="rgb(28,115,14)"/>
<circle cx="51.7" cy="34.6" r="0.56" fill="rgb(31,127,15)"/>
<circle cx="31.1" cy="42.8" r="0.45" fill="rgb(34,138,17)"/>
<circle cx="13.2" cy="16.7" r="0.47" fill="rgb(36,146,18)"/>
<circle cx="81.1" cy="12.2" r="0.60" fill="rgb(42,171,21)"/>
<circle cx="23.0" cy="34.4" r="0.57" fill="rgb(29,117,14)"/>
<circle cx="2.0" cy="20.4" r="0.49" fill="rgb(23,93,11)"/>
<circle cx="29.1" cy="47.8" r="0.41" fill="rgb(42,171,21)"/>
<circle cx="21.9" cy="6.1" r="0.63" fill="rgb(43,172,21)"/>
<circle cx="21.6" cy="14.3" r="0.57" fill="rgb(34,138,17)"/>
<circle cx="12.2" cy="44.0" r="0.67" fill="rgb(23,93,11)"/>
<circle cx="87.4" cy="25.5" r="0.53" fill="rgb(25,102,12)"/>
<circle cx="59.2" cy="15.3" r="0.51" fill="rgb(27,111,13)"/>
<circle cx="25.3" cy="39.0" r="0.42" fill="rgb(44,179,22)"/>
<circle cx="86.0" cy="60.0" r="0.55" fill="rgb(22,91,11)"/>
<circle cx="33.6" cy="4.3" r="0.44" fill="rgb(26,105,13)"/>
<circle cx="18.1" cy="57.7" r="0.68" fill="rgb(28,113,14)"/>
<circle cx="30.2" cy="61.2" r="0.64" fill="rgb(25,103,12)"/>
<circle cx="28.2" cy="2.8" r="0.44" fill="rgb(28,115,14)"/>
<circle cx="59.9" cy="58.0" r="0.67" fill="rgb(44,177,22)"/>
<circle cx="59.0" cy="24.2" r="0.44" fill="rgb(44,178,22)"/>
<circle cx="24.1" cy="61.7" r="0.70" fill="rgb(23,94,11)"/>
<circle cx="64.0" cy="44.5" r="0.49" fill="rgb(25,100,12)"/>
<circle cx="16.1" cy="8.1" r="0.56" fill="rgb(38,152,19)"/>
<circle cx="72.0" cy="29.1" r="0.48" fill="rgb(38,152,19)"/>
<circle cx="8.1" cy="43.0" r="0.42" fill="rgb(21,87,10)"/>
<circle cx="27.3" cy="50.0" r="0.55" fill="rgb(42,171,21)"/>
<circle cx="14.1" cy="21.7" r="0.43" fill="rgb(39,157,19)"/>
<circle cx="42.7" cy="58.7" r="0.54" fill="rgb(40,161,20)"/>
<circle cx="53.2" cy="55.6" r="0.41" fill="rgb(36,144,18)"/>
<circle cx="13.0" cy="30.8" r="0.41" fill="rgb(42,171,21)"/>
<circle cx="67.3" cy="26.3" r="0.48" fill="rgb(22,91,11)"/>
<circle cx="4.0" cy="26.4" r="0.69" fill="rgb(28,112,14)"/>
<circle cx="2.1" cy="27.9" r="0.58" fill="rgb(37,148,18)"/>
<circle cx="5.6" cy="1.6" r="0.40" fill="rgb(32,128,16)"/>
<circle cx="26.9" cy="2.7" r="0.65" fill="rgb(29,118,14)"/>
<circle cx="49.6" cy="45.2" r="0.59" fill="rgb(29,117,14)"/>
<circle cx="28.0" cy="23.4" r="0.57" fill="rgb(39,159,19)"/>
<circle cx="36.8" cy="35.5" r="0.48" fill="rgb(35,143,17)"/>
<circle cx="83.8" cy="32.3" r="0.68" fill="rgb(42,171,21)"/>
<circle cx="75.3" cy="58.0" r="0.54" fill="rgb(26,105,13)"/>
<circle cx="49.5" cy="60.5" r="0.45" fill="rgb(45,182,22)"/>
<circle cx="63.8" cy="15.5" r="0.52" fill="rgb(39,159,19)"/>
<circle cx="62.0" cy="22.3" r="0.43" fill="rgb(41,166,20)"/>
<circle cx="60.7" cy="22.8" r="0.43" fill="rgb(39,156,19)"/>
<circle cx="65.8" cy="52.6" r="0.51" fill="rgb(42,168,21)"/>
<circle cx="0.1" cy="32.6" r="0.55" fill="rgb(29,119,14)"/>
<circle cx="74.7" cy="37.4" r="0.43" fill="rgb(23,92,11)"/>
<circle cx="43.9" cy="31.7" r="0.44" fill="rgb(41,167,20)"/>
<circle cx="2.4" cy="35.4" r="0.43" fill="rgb(22,91,11)"/>
<circle cx="70.6" cy="15.4" r="0.64" fill="rgb(34,136,17)"/>
<circle cx="22.5" cy="59.4" r="0.43" fill="rgb(37,149,18)"/>
<circle cx="31.2" cy="3.8" r="0.55" fill="rgb(23,94,11)"/>
<circle cx="42.6" cy="19.1" r="0.55" fill="rgb(42,170,21)"/>
<circle cx="30.2" cy="12.9" r="0.61" fill="rgb(28,112,14)"/>
<circle cx="39.4" cy="19.6" r="0.68" fill="rgb(42,170,21)"/>
<circle cx="60.5" cy="52.4" r="0.48" fill="rgb(44,176,22)"/>
<circle cx="26.3" cy="57.9" r="0.64" fill="rgb(25,100,12)"/>
<circle cx="26.8" cy="16.0" r="0.69" fill="rgb(21,87,10)"/>
<circle cx="58.1" cy="31.0" r="0.58" fill="rgb(41,167,20)"/>
<circle cx="80.4" cy="61.3" r="0.66" fill="rgb(41,167,20)"/>
<circle cx="86.2" cy="10.5" r="0.69" fill="rgb(29,118,14)"/>
<circle cx="76.9" cy="20.4" r="0.58" fill="rgb(27,108,13)"/>
<circle cx="68.4" cy="17.2" r="0.59" fill="rgb(43,175,21)"/>
<circle cx="11.1" cy="47.8" r="0.53" fill="rgb(23,92,11)"/>
<circle cx="36.0" cy="25.9" r="0.66" fill="rgb(45,181,22)"/>
<circle cx="50.2" cy="62.0" r="0.68" fill="rgb(41,166,20)"/>
<circle cx="19.9" cy="46.8" r="0.41" fill="rgb(22,90,11)"/>
<circle cx="14.2" cy="52.3" r="0.47" fill="rgb(28,114,14)"/>
<circle cx="54.6" cy="7.7" r="0.55" fill="rgb(26,104,13)"/>
<circle cx="27.9" cy="17.9" r="0.41" fill="rgb(27,108,13)"/>
<circle cx="23.6" cy="50.7" r="0.50" fill="rgb(24,98,12)"/>
<circle cx="81.8" cy="59.9" r="0.56" fill="rgb(30,122,15)"/>
<circle cx="51.2" cy="19.9" r="0.63" fill="rgb(36,144,18)"/>
<circle cx="29.4" cy="18.4" r="0.70" fill="rgb(37,151,18)"/>
<circle cx="5.8" cy="6.4" r="0.56" fill="rgb(43,175,21)"/>
<circle cx="41.7" cy="49.0" r="0.49" fill="rgb(29,116,14)"/>
<circle cx="82.3" cy="23.9" r="0.50" fill="rgb(35,140,17)"/>
<circle cx="6.2" cy="3.4" r="0.49" fill="rgb(32,130,16)"/>
<circle cx="75.9" cy="56.3" r="0.52" fill="rgb(38,153,19)"/>
<circle cx="35.9" cy="15.5" r="0.67" fill="rgb(36,145,18)"/>
<circle cx="7.0" cy="28.2" r="0.61" fill="rgb(36,145,18)"/>
<circle cx="67.3" cy="36.5" r="0.68" fill="rgb(41,167,20)"/>
<circle cx="44.1" cy="62.3" r="0.56" fill="rgb(40,160,20)"/>
<circle cx="88.0" cy="34.7" r="0.45" fill="rgb(27,109,13)"/>
<circle cx="87.1" cy="40.5" r="0.57" fill="rgb(27,108,13)"/>
<circle cx="24.1" cy="47.3" r="0.68" fill="rgb(44,178,22)"/>
<circle cx="23.7" cy="52.4" r="0.61" fill="rgb(22,90,11)"/>
<circle cx="40.3" cy="28.4" r="0.69" fill="rgb(24,98,12)"/>
<circle cx="17.1" cy="16.6" r="0.57" fill="rgb(23,92,11)"/>
<circle cx="0.2" cy="30.6" r="0.53" fill="rgb(40,163,20)"/>
<circle cx="11.3" cy="28.0" r="0.64" fill="rgb(39,158,19)"/>
<circle cx="21.6" cy="53.6" r="0.60" fill="rgb(28,115,14)"/>
<circle cx="54.3" cy="3.1" r="0.57" fill="rgb(43,175,21)"/>
<circle cx="21.6" cy="37.5" r="0.41" fill="rgb(34,136,17)"/>
<circle cx="6.4" cy="25.7" r="0.59" fill="rgb(36,144,18)"/>
<circle cx="18.4" cy="16.1" r="0.55" fill="rgb(44,179,22)"/>
<circle cx="51.9" cy="20.8" r="0.44" fill="rgb(41,166,20)"/>
<circle cx="26.8" cy="14.5" r="0.55" fill="rgb(44,177,22)"/>
<circle cx="36.2" cy="26.2" r="0.48" fill="rgb(27,109,13)"/>
<circle cx="69.8" cy="46.6" r="0.46" fill="rgb(35,142,17)"/>
<circle cx="58.5" cy="13.5" r="0.49" fill="rgb(35,140,17)"/>
<circle cx="55.1" cy="27.0" r="0.59" fill="rgb(30,123,15)"/>
<circle cx="7.9" cy="48.3" r="0.66" fill="rgb(41,165,20)"/>
<circle cx="40.1" cy="24.7" r="0.69" fill="rgb(37,149,18)"/>
<circle cx="69.3" cy="26.4" r="0.42" fill="rgb(42,170,21)"/>
<circle cx="20.0" cy="15.0" r="0.68" fill="rgb(40,162,20)"/>
<circle cx="57.9" cy="44.0" r="0.46" fill="rgb(35,140,17)"/>
<circle cx="26.3" cy="39.5" r="0.56" fill="rgb(23,95,11)"/>
<circle cx="86.5" cy="22.5" r="0.52" fill="rgb(44,176,22)"/>
<circle cx="74.1" cy="22.7" r="0.48" fill="rgb(34,139,17)"/>
<circle cx="54.1" cy="14.5" r="0.49" fill="rgb(33,135,16)"/>
<circle cx="84.3" cy="49.1" r="0.42" fill="rgb(35,140,17)"/>
<circle cx="51.4" cy="54.0" r="0.52" fill="rgb(42,168,21)"/>
<circle cx="52.1" cy="46.8" r="0.50" fill="rgb(45,182,22)"/>
<circle cx="32.2" cy="31.4" r="0.61" fill="rgb(29,117,14)"/>
<circle cx="49.5" cy="35.8" r="0.44" fill="rgb(22,88,11)"/>
<circle cx="68.9" cy="21.4" r="0.55" fill="rgb(44,178,22)"/>
<circle cx="1.9" cy="49.8" r="0.56" fill="rgb(32,128,16)"/>
<circle cx="43.7" cy="11.0" r="0.64" fill="rgb(41,165,20)"/>
<circle cx="43.6" cy="32.0" r="0.60" fill="rgb(34,138,17)"/>
<circle cx="8.7" cy="3.2" r="0.56" fill="rgb(36,144,18)"/>
<circle cx="87.5" cy="37.4" r="0.51" fill="rgb(30,122,15)"/>
<circle cx="67.0" cy="5.0" r="0.56" fill="rgb(30,123,15)"/>
<circle cx="14.8" cy="23.9" r="0.51" fill="rgb(28,112,14)"/>
<circle cx="24.1" cy="23.6" r="0.55" fill="rgb(38,153,19)"/>
<circle cx="47.6" cy="26.2" r="0.44" fill="rgb(34,136,17)"/>
<circle cx="27.5" cy="57.4" r="0.47" fill="rgb(40,163,20)"/>
<circle cx="15.7" cy="7.7" r="0.59" fill="rgb(23,95,11)"/>
<circle cx="2.4" cy="12.6" r="0.55" fill="rgb(21,87,10)"/>
<circle cx="61.4" cy="1.8" r="0.66" fill="rgb(30,122,15)"/>
<circle cx="18.6" cy="46.3" r="0.50" fill="rgb(43,174,21)"/>
<circle cx="71.6" cy="59.5" r="0.61" fill="rgb(36,145,18)"/>
<circle cx="2.4" cy="60.3" r="0.57" fill="rgb(46,185,23)"/>
<circle cx="53.8" cy="64.9" r="0.56" fill="rgb(28,113,14)"/>
<circle cx="53.1" cy="21.0" r="0.69" fill="rgb(41,167,20)"/>
<circle cx="30.1" cy="28.9" r="0.45" fill="rgb(35,140,17)"/>
<circle cx="16.1" cy="39.0" r="0.45" fill="rgb(45,182,22)"/>
<circle cx="31.3" cy="46.4" r="0.63" fill="rgb(28,112,14)"/>
<circle cx="28.1" cy="56.2" r="0.51" fill="rgb(36,146,18)"/>
<circle cx="20.2" cy="47.2" r="0.66" fill="rgb(22,91,11)"/>
<circle cx="65.8" cy="50.4" r="0.56" fill="rgb(43,172,21)"/>
<circle cx="51.5" cy="6.3" r="0.58" fill="rgb(22,90,11)"/>
<circle cx="67.2" cy="32.3" r="0.66" fill="rgb(38,153,19)"/>
<circle cx="5.5" cy="6.7" r="0.67" fill="rgb(21,87,10)"/>
<circle cx="54.2" cy="36.4" r="0.60" fill="rgb(22,90,11)"/>
<circle cx="61.4" cy="21.2" r="0.63" fill="rgb(36,144,18)"/>
<circle cx="19.5" cy="1.3" r="0.51" fill="rgb(29,116,14)"/>
<circle cx="22.0" cy="19.2" r="0.40" fill="rgb(29,118,14)"/>
<circle cx="32.1" cy="27.4" r="0.48" fill="rgb(26,107,13)"/>
<circle cx="10.0" cy="55.6" r="0.60" fill="rgb(36,145,18)"/>
<circle cx="16.8" cy="35.8" r="0.66" fill="rgb(45,181,22)"/>
<circle cx="70.6" cy="29.2" r="0.55" fill="rgb(44,176,22)"/>
<circle cx="36.5" cy="25.6" r="0.48" fill="rgb(37,149,18)"/>
<circle cx="39.2" cy="37.8" r="0.64" fill="rgb(46,185,23)"/>
<circle cx="74.6" cy="18.7" r="0.49" fill="rgb(30,122,15)"/>
<circle cx="2.8" cy="52.4" r="0.54" fill="rgb(41,164,20)"/>
<circle cx="46.1" cy="24.2" r="0.61" fill="rgb(39,156,19)"/>
<circle cx="61.0" cy="49.0" r="0.43" fill="rgb(35,143,17)"/>
<circle cx="44.2" cy="14.9" r="0.70" fill="rgb(39,159,19)"/>
<circle cx="80.9" cy="54.9" r="0.43" fill="rgb(23,94,11)"/>
<circle cx="47.2" cy="22.1" r="0.55" fill="rgb(34,139,17)"/>
<circle cx="27.3" cy="56.7" r="0.51" fill="rgb(37,151,18)"/>
<circle cx="84.3" cy="35.0" r="0.40" fill="rgb(24,99,12)"/>
<circle cx="13.1" cy="25.6" r="0.63" fill="rgb(41,166,20)"/>
<circle cx="39.5" cy="65.1" r="0.58" fill="rgb(35,140,17)"/>
<circle cx="48.2" cy="3.7" r="0.45" fill="rgb(43,175,21)"/>
<circle cx="40.9" cy="59.2" r="0.55" fill="rgb(42,171,21)"/>
<circle cx="82.6" cy="42.9" r="0.70" fill="rgb(32,128,16)"/>
<circle cx="81.3" cy="40.4" r="0.47" fill="rgb(21,86,10)"/>
<circle cx="58.0" cy="14.1" r="0.47" fill="rgb(23,94,11)"/>
<circle cx="27.5" cy="11.7" r="0.56" fill="rgb(39,156,19)"/>
<circle cx="86.2" cy="12.1" r="0.64" fill="rgb(27,109,13)"/>
<circle cx="63.9" cy="49.9" r="0.50" fill="rgb(23,92,11)"/>
<circle cx="64.1" cy="47.1" r="0.59" fill="rgb(27,110,13)"/>
<circle cx="65.3" cy="58.3" r="0.69" fill="rgb(41,167,20)"/>
<circle cx="28.4" cy="17.1" r="0.46" fill="rgb(44,179,22)"/>
<circle cx="56.0" cy="40.4" r="0.41" fill="rgb(43,172,21)"/>
<circle cx="49.7" cy="25.2" r="0.48" fill="rgb(42,169,21)"/>
<circle cx="63.1" cy="12.2" r="0.60" fill="rgb(37,148,18)"/>
<circle cx="3.1" cy="38.9" r="0.68" fill="rgb(29,119,14)"/>
<circle cx="59.5" cy="4.3" r="0.61" fill="rgb(27,108,13)"/>
<circle cx="33.6" cy="61.5" r="0.61" fill="rgb(42,170,21)"/>
<circle cx="86.5" cy="44.0" r="0.61" fill="rgb(41,165,20)"/>
<circle cx="82.5" cy="21.0" r="0.42" fill="rgb(21,85,10)"/>
<circle cx="43.4" cy="25.3" r="0.48" fill="rgb(38,152,19)"/>
<circle cx="10.3" cy="23.7" r="0.51" fill="rgb(40,162,20)"/>
<circle cx="29.1" cy="9.8" r="0.59" fill="rgb(40,160,20)"/>
<circle cx="53.6" cy="13.4" r="0.55" fill="rgb(21,86,10)"/>
<circle cx="67.6" cy="37.2" r="0.53" fill="rgb(28,115,14)"/>
<circle cx="42.8" cy="2.8" r="0.66" fill="rgb(38,154,19)"/>
<circle cx="3.0" cy="12.5" r="0.47" fill="rgb(36,144,18)"/>
<circle cx="38.5" cy="24.7" r="0.63" fill="rgb(26,105,13)"/>
<circle cx="63.8" cy="3.4" r="0.44" fill="rgb(23,93,11)"/>
<circle cx="14.3" cy="2.5" r="0.47" fill="rgb(22,88,11)"/>
<circle cx="57.1" cy="9.5" r="0.41" fill="rgb(44,176,22)"/>
<circle cx="74.7" cy="39.6" r="0.58" fill="rgb(22,89,11)"/>
<circle cx="20.3" cy="11.8" r="0.43" fill="rgb(35,142,17)"/>
<circle cx="17.7" cy="42.1" r="0.42" fill="rgb(26,106,13)"/>
<circle cx="72.9" cy="52.0" r="0.44" fill="rgb(34,137,17)"/>
<circle cx="50.1" cy="33.4" r="0.40" fill="rgb(33,134,16)"/>
<circle cx="27.1" cy="64.9" r="0.46" fill="rgb(22,88,11)"/>
<circle cx="29.6" cy="0.6" r="0.58" fill="rgb(46,185,23)"/>
<circle cx="34.6" cy="35.6" r="0.44" fill="rgb(42,170,21)"/>
<circle cx="33.8" cy="46.6" r="0.68" fill="rgb(33,132,16)"/>
<circle cx="9.5" cy="42.9" r="0.49" fill="rgb(29,118,14)"/>
<circle cx="25.8" cy="49.3" r="0.43" fill="rgb(46,185,23)"/>
<circle cx="64.7" cy="42.3" r="0.52" fill="rgb(41,165,20)"/>
<circle cx="75.3" cy="50.3" r="0.57" fill="rgb(24,99,12)"/>
<circle cx="10.7" cy="27.3" r="0.51" fill="rgb(43,172,21)"/>
<circle cx="53.4" cy="63.0" r="0.67" fill="rgb(39,158,19)"/>
<circle cx="24.5" cy="15.4" r="0.60" fill="rgb(36,146,18)"/>
<circle cx="84.8" cy="9.5" r="0.55" fill="rgb(34,136,17)"/>
<circle cx="7.9" cy="51.1" r="0.42" fill="rgb(42,168,21)"/>
<circle cx="55.5" cy="18.4" r="0.69" fill="rgb(31,126,15)"/>
<circle cx="34.4" cy="17.6" r="0.66" fill="rgb(42,170,21)"/>
<circle cx="87.1" cy="17.3" r="0.55" fill="rgb(32,131,16)"/>
<circle cx="53.4" cy="35.7" r="0.46" fill="rgb(29,118,14)"/>
<circle cx="49.1" cy="22.3" r="0.43" fill="rgb(21,85,10)"/>
<circle cx="60.7" cy="41.2" r="0.48" fill="rgb(41,167,20)"/>
<circle cx="87.5" cy="41.9" r="0.53" fill="rgb(23,93,11)"/>
<circle cx="81.1" cy="52.7" r="0.62" fill="rgb(26,107,13)"/>
<ellipse cx="75.6" cy="61.5" rx="0.87" ry="0.60" transform="rotate(72 75.6 61.5)" fill="#3ed818"/>
<ellipse cx="27.6" cy="48.8" rx="0.89" ry="0.71" transform="rotate(27 27.6 48.8)" fill="#3ed818"/>
<ellipse cx="69.1" cy="63.6" rx="0.78" ry="0.61" transform="rotate(29 69.1 63.6)" fill="#3ed818"/>
<ellipse cx="3.1" cy="27.2" rx="0.77" ry="0.63" transform="rotate(103 3.1 27.2)" fill="#3ed818"/>
<ellipse cx="59.5" cy="63.6" rx="0.72" ry="0.46" transform="rotate(6 59.5 63.6)" fill="#3ed818"/>
<ellipse cx="40.5" cy="54.2" rx="0.97" ry="0.74" transform="rotate(154 40.5 54.2)" fill="#3ed818"/>
<ellipse cx="32.8" cy="7.4" rx="0.96" ry="0.58" transform="rotate(41 32.8 7.4)" fill="#3ed818"/>
<ellipse cx="2.6" cy="10.6" rx="0.73" ry="0.55" transform="rotate(23 2.6 10.6)" fill="#3ed818"/>
<ellipse cx="53.3" cy="54.2" rx="0.84" ry="0.53" transform="rotate(121 53.3 54.2)" fill="#3ed818"/>
<ellipse cx="64.3" cy="58.1" rx="0.92" ry="0.71" transform="rotate(155 64.3 58.1)" fill="#3ed818"/>
<ellipse cx="59.8" cy="64.1" rx="0.81" ry="0.68" transform="rotate(114 59.8 64.1)" fill="#3ed818"/>
<ellipse cx="41.3" cy="0.7" rx="0.89" ry="0.60" transform="rotate(108 41.3 0.7)" fill="#3ed818"/>
<ellipse cx="45.0" cy="33.6" rx="0.72" ry="0.46" transform="rotate(109 45.0 33.6)" fill="#3ed818"/>
<ellipse cx="60.2" cy="65.1" rx="1.02" ry="0.70" transform="rotate(82 60.2 65.1)" fill="#3ed818"/>
<ellipse cx="44.6" cy="52.9" rx="0.86" ry="0.75" transform="rotate(87 44.6 52.9)" fill="#3ed818"/>
<ellipse cx="35.1" cy="31.5" rx="0.84" ry="0.76" transform="rotate(8 35.1 31.5)" fill="#3ed818"/>
<ellipse cx="35.3" cy="5.2" rx="0.97" ry="0.63" transform="rotate(27 35.3 5.2)" fill="#3ed818"/>
<ellipse cx="37.4" cy="39.6" rx="1.01" ry="0.74" transform="rotate(53 37.4 39.6)" fill="#3ed818"/>
<ellipse cx="32.5" cy="58.4" rx="0.79" ry="0.47" transform="rotate(159 32.5 58.4)" fill="#3ed818"/>
<ellipse cx="42.6" cy="8.7" rx="0.75" ry="0.65" transform="rotate(135 42.6 8.7)" fill="#3ed818"/>
<ellipse cx="5.7" cy="44.4" rx="0.79" ry="0.58" transform="rotate(109 5.7 44.4)" fill="#3ed818"/>
<ellipse cx="4.5" cy="61.5" rx="0.83" ry="0.54" transform="rotate(140 4.5 61.5)" fill="#3ed818"/>
<ellipse cx="9.6" cy="2.4" rx="0.96" ry="0.71" transform="rotate(162 9.6 2.4)" fill="#3ed818"/>
<ellipse cx="69.8" cy="13.6" rx="0.72" ry="0.56" transform="rotate(85 69.8 13.6)" fill="#3ed818"/>
<ellipse cx="26.6" cy="60.3" rx="0.78" ry="0.62" transform="rotate(13 26.6 60.3)" fill="#3ed818"/>
<ellipse cx="81.5" cy="62.4" rx="0.95" ry="0.66" transform="rotate(130 81.5 62.4)" fill="#3ed818"/>
<ellipse cx="79.7" cy="52.3" rx="0.72" ry="0.54" transform="rotate(25 79.7 52.3)" fill="#3ed818"/>
<ellipse cx="48.2" cy="62.5" rx="1.05" ry="0.71" transform="rotate(99 48.2 62.5)" fill="#3ed818"/>
<ellipse cx="28.0" cy="11.1" rx="1.00" ry="0.83" transform="rotate(61 28.0 11.1)" fill="#3ed818"/>
<ellipse cx="37.1" cy="45.8" rx="0.99" ry="0.73" transform="rotate(21 37.1 45.8)" fill="#3ed818"/>
<ellipse cx="8.4" cy="11.1" rx="1.03" ry="0.77" transform="rotate(116 8.4 11.1)" fill="#3ed818"/>
<ellipse cx="32.2" cy="24.3" rx="0.77" ry="0.69" transform="rotate(109 32.2 24.3)" fill="#3ed818"/>
<ellipse cx="11.4" cy="46.2" rx="0.94" ry="0.74" transform="rotate(139 11.4 46.2)" fill="#3ed818"/>
<ellipse cx="53.7" cy="57.6" rx="1.09" ry="0.79" transform="rotate(117 53.7 57.6)" fill="#3ed818"/>
<ellipse cx="33.0" cy="27.0" rx="0.85" ry="0.67" transform="rotate(63 33.0 27.0)" fill="#3ed818"/>
<ellipse cx="31.1" cy="55.7" rx="1.02" ry="0.82" transform="rotate(152 31.1 55.7)" fill="#3ed818"/>
<ellipse cx="34.1" cy="42.3" rx="0.80" ry="0.56" transform="rotate(18 34.1 42.3)" fill="#3ed818"/>
<ellipse cx="70.5" cy="60.6" rx="0.82" ry="0.59" transform="rotate(21 70.5 60.6)" fill="#3ed818"/>
<ellipse cx="12.5" cy="42.0" rx="1.06" ry="0.66" transform="rotate(46 12.5 42.0)" fill="#3ed818"/>
<ellipse cx="67.0" cy="14.9" rx="1.05" ry="0.74" transform="rotate(85 67.0 14.9)" fill="#3ed818"/>
<ellipse cx="17.8" cy="19.1" rx="0.87" ry="0.59" transform="rotate(131 17.8 19.1)" fill="#3ed818"/>
<ellipse cx="2.7" cy="42.0" rx="1.02" ry="0.71" transform="rotate(34 2.7 42.0)" fill="#3ed818"/>
<ellipse cx="10.6" cy="5.1" rx="1.02" ry="0.79" transform="rotate(3 10.6 5.1)" fill="#3ed818"/>
<ellipse cx="40.0" cy="39.4" rx="0.83" ry="0.51" transform="rotate(76 40.0 39.4)" fill="#3ed818"/>
<ellipse cx="31.2" cy="63.9" rx="0.84" ry="0.74" transform="rotate(156 31.2 63.9)" fill="#3ed818"/>
<ellipse cx="50.7" cy="8.3" rx="1.02" ry="0.64" transform="rotate(100 50.7 8.3)" fill="#3ed818"/>
<ellipse cx="8.6" cy="6.1" rx="0.86" ry="0.56" transform="rotate(179 8.6 6.1)" fill="#3ed818"/>
<ellipse cx="51.0" cy="59.0" rx="1.08" ry="0.90" transform="rotate(116 51.0 59.0)" fill="#3ed818"/>
<ellipse cx="41.7" cy="51.1" rx="0.97" ry="0.63" transform="rotate(95 41.7 51.1)" fill="#3ed818"/>
<ellipse cx="36.5" cy="33.9" rx="0.99" ry="0.79" transform="rotate(103 36.5 33.9)" fill="#3ed818"/>
<ellipse cx="69.6" cy="54.3" rx="0.74" ry="0.47" transform="rotate(8 69.6 54.3)" fill="#3ed818"/>
<ellipse cx="14.2" cy="63.1" rx="0.82" ry="0.60" transform="rotate(84 14.2 63.1)" fill="#3ed818"/>
<ellipse cx="49.8" cy="18.4" rx="1.01" ry="0.71" transform="rotate(152 49.8 18.4)" fill="#3ed818"/>
<ellipse cx="70.9" cy="0.1" rx="0.92" ry="0.58" transform="rotate(159 70.9 0.1)" fill="#3ed818"/>
<ellipse cx="6.1" cy="17.6" rx="1.01" ry="0.78" transform="rotate(120 6.1 17.6)" fill="#3ed818"/>
<ellipse cx="36.0" cy="4.4" rx="2.16" ry="1.51" fill="#185f0a"/>
<ellipse cx="48.0" cy="3.6" rx="1.51" ry="1.51" fill="#185f0a"/>
<ellipse cx="52.5" cy="3.2" rx="2.37" ry="1.51" fill="#185f0a"/>
<ellipse cx="57.8" cy="4.4" rx="1.94" ry="2.37" fill="#185f0a"/>
<ellipse cx="60.4" cy="8.9" rx="1.73" ry="1.30" fill="#185f0a"/>
<ellipse cx="70.7" cy="11.0" rx="1.73" ry="2.16" fill="#185f0a"/>
<ellipse cx="75.5" cy="9.2" rx="1.94" ry="1.30" fill="#185f0a"/>
<ellipse cx="79.0" cy="7.4" rx="1.51" ry="1.30" fill="#185f0a"/>
<ellipse cx="60.8" cy="15.9" rx="2.16" ry="1.51" fill="#185f0a"/>
<ellipse cx="68.4" cy="16.8" rx="1.30" ry="1.30" fill="#185f0a"/>
<ellipse cx="42.4" cy="23.0" rx="1.73" ry="3.24" fill="#185f0a"/>
<ellipse cx="42.7" cy="30.1" rx="2.70" ry="3.24" fill="#185f0a"/>
<ellipse cx="41.0" cy="33.6" rx="2.16" ry="2.70" fill="#185f0a"/>
<ellipse cx="36.5" cy="39.8" rx="3.78" ry="3.24" fill="#185f0a"/>
<ellipse cx="48.0" cy="41.6" rx="2.70" ry="2.16" fill="#185f0a"/>
<ellipse cx="53.3" cy="43.9" rx="3.78" ry="1.94" fill="#185f0a"/>
<ellipse cx="34.8" cy="50.4" rx="3.02" ry="2.70" fill="#185f0a"/>
<ellipse cx="44.9" cy="49.9" rx="1.94" ry="1.94" fill="#185f0a"/>
<ellipse cx="70.7" cy="46.9" rx="1.51" ry="1.51" fill="#185f0a"/>
<ellipse cx="63.6" cy="54.0" rx="1.94" ry="3.24" fill="#185f0a"/>
<ellipse cx="51.6" cy="59.8" rx="1.73" ry="2.37" fill="#185f0a"/>
<ellipse cx="56.5" cy="64.1" rx="1.51" ry="1.51" fill="#185f0a"/>
<ellipse cx="64.8" cy="38.1" rx="1.30" ry="1.30" fill="#185f0a"/>
<ellipse cx="18.8" cy="59.3" rx="1.30" ry="1.08" fill="#185f0a"/>
<ellipse cx="86.1" cy="59.3" rx="1.30" ry="1.94" fill="#185f0a"/>
<polygon points="36.9,4.7 36.5,5.5 35.4,5.2 35.2,4.7 34.1,3.7 36.1,2.9 37.4,3.9" fill="#66ff22"/>
<polygon points="49.2,4.5 47.9,4.2 46.7,4.3 46.6,3.3 47.4,2.0 48.9,2.6 49.5,3.6" fill="#66ff22"/>
<polygon points="50.9,3.9 51.7,3.1 52.2,1.7 53.6,2.1 53.8,3.3 53.0,3.7 52.1,4.4" fill="#66ff22"/>
<polygon points="56.7,2.7 58.0,2.1 59.1,3.5 59.4,5.5 58.1,5.6 56.6,6.3 57.1,4.3" fill="#66ff22"/>
<polygon points="61.5,7.7 62.3,8.5 61.2,9.5 60.0,9.9 59.3,9.1 59.5,8.3 60.3,7.6" fill="#66ff22"/>
<polygon points="70.6,11.8 69.6,12.4 69.4,11.0 69.6,9.1 71.1,10.1 72.5,10.2 71.4,11.5" fill="#66ff22"/>
<polygon points="77.1,9.0 76.6,9.6 75.6,10.3 73.7,10.0 74.4,9.0 74.3,8.2 75.8,8.7" fill="#66ff22"/>
<polygon points="77.4,7.4 78.5,7.1 79.2,6.9 79.9,6.9 80.1,7.8 79.3,8.5 78.3,8.5" fill="#66ff22"/>
<polygon points="61.8,15.8 62.2,16.8 60.6,16.8 59.3,16.3 58.6,15.7 60.5,14.2 61.2,15.2" fill="#66ff22"/>
<ellipse cx="68.4" cy="16.8" rx="0.96" ry="0.96" fill="#66ff22"/>
<polygon points="43.8,22.6 43.3,24.9 41.7,25.8 41.6,23.9 41.3,21.5 42.3,21.1 43.2,20.5" fill="#66ff22"/>
<polygon points="45.3,30.4 43.5,31.6 42.1,33.2 41.3,30.7 41.7,29.7 41.7,27.6 44.3,27.5" fill="#66ff22"/>
<polygon points="40.4,33.0 40.7,31.6 42.9,32.5 43.2,33.8 41.5,36.6 39.9,35.7 39.5,34.5" fill="#66ff22"/>
<polygon points="36.8,36.6 40.2,38.6 39.6,41.0 36.7,42.3 34.3,41.9 33.0,39.3 34.9,37.7" fill="#66ff22"/>
<polygon points="49.8,40.3 49.8,42.0 49.0,43.7 46.7,43.4 45.5,41.9 46.1,39.9 48.2,40.3" fill="#66ff22"/>
<polygon points="57.0,44.0 54.5,45.0 53.1,45.3 50.4,44.9 49.9,43.0 52.8,43.2 54.4,42.7" fill="#66ff22"/>
<polygon points="33.4,52.3 32.0,51.1 33.9,49.5 35.4,47.6 37.6,49.3 36.8,51.3 35.1,51.3" fill="#66ff22"/>
<polygon points="44.4,51.1 42.8,49.7 44.2,49.3 44.8,49.2 45.4,49.3 46.6,50.9 45.3,50.9" fill="#66ff22"/>
<polygon points="70.7,48.1 69.3,47.8 69.5,46.8 70.4,46.3 71.3,45.7 71.4,46.5 71.2,47.4" fill="#66ff22"/>
<polygon points="62.8,52.5 63.8,51.8 64.6,53.2 65.5,55.2 64.3,56.8 62.7,56.5 62.1,53.9" fill="#66ff22"/>
<polygon points="52.1,60.1 51.8,61.4 50.7,61.2 49.9,60.8 50.2,58.2 51.9,57.6 52.9,57.9" fill="#66ff22"/>
<polygon points="55.8,64.8 55.3,63.9 55.6,62.8 57.0,63.0 57.2,63.8 57.8,64.9 56.6,64.7" fill="#66ff22"/>
<ellipse cx="64.8" cy="38.1" rx="0.96" ry="0.96" fill="#66ff22"/>
<ellipse cx="18.8" cy="59.3" rx="0.96" ry="0.80" fill="#66ff22"/>
<polygon points="86.1,57.6 87.3,58.5 87.4,60.1 86.3,60.4 85.6,61.2 85.0,59.5 85.5,58.6" fill="#66ff22"/>
<circle cx="14.8" cy="10.3" r="0.72" fill="rgb(241,17,17)"/>
<circle cx="22.9" cy="12.0" r="0.72" fill="rgb(236,16,16)"/>
<circle cx="43.6" cy="15.6" r="0.72" fill="rgb(248,17,17)"/>
<circle cx="48.4" cy="17.7" r="0.72" fill="rgb(228,16,16)"/>
<circle cx="9.1" cy="20.4" r="0.72" fill="rgb(242,17,17)"/>
<circle cx="67.9" cy="15.1" r="0.72" fill="rgb(244,17,17)"/>
<circle cx="66.6" cy="11.0" r="0.72" fill="rgb(217,15,15)"/>
<circle cx="40.6" cy="28.3" r="0.72" fill="rgb(231,16,16)"/>
<circle cx="50.7" cy="26.2" r="0.72" fill="rgb(218,15,15)"/>
<circle cx="65.4" cy="35.8" r="0.72" fill="rgb(244,17,17)"/>
<circle cx="5.2" cy="41.1" r="0.72" fill="rgb(221,15,15)"/>
<circle cx="13.5" cy="41.6" r="0.72" fill="rgb(250,17,17)"/>
<circle cx="31.2" cy="45.7" r="0.72" fill="rgb(223,15,15)"/>
<circle cx="32.1" cy="54.0" r="0.72" fill="rgb(253,18,18)"/>
<circle cx="47.7" cy="54.0" r="0.72" fill="rgb(227,16,16)"/>
<circle cx="1.2" cy="58.4" r="0.72" fill="rgb(251,17,17)"/>
<circle cx="56.0" cy="58.4" r="0.72" fill="rgb(249,17,17)"/>
<circle cx="20.6" cy="48.7" r="0.72" fill="rgb(249,17,17)"/>
<circle cx="81.3" cy="23.0" r="0.72" fill="rgb(252,18,18)"/>
</g></svg>
<text x="268.1" y="354.15" font-size="6.1" text-anchor="middle" font-weight="normal">APC+T cells+ALL+IgG4</text>
<svg x="223.75" y="356.75" width="88.00" height="65.75" viewBox="0 0 88.00 65.75">
<rect width="88.00" height="65.75" fill="#000"/>
<g filter="url(#bl)">
<circle cx="43.1" cy="63.2" r="0.65" fill="rgb(28,112,14)"/>
<circle cx="33.4" cy="10.4" r="0.69" fill="rgb(42,169,21)"/>
<circle cx="15.7" cy="49.7" r="0.68" fill="rgb(37,148,18)"/>
<circle cx="18.4" cy="7.9" r="0.53" fill="rgb(26,106,13)"/>
<circle cx="80.2" cy="6.0" r="0.54" fill="rgb(21,85,10)"/>
<circle cx="11.2" cy="23.2" r="0.49" fill="rgb(28,115,14)"/>
<circle cx="74.5" cy="35.3" r="0.53" fill="rgb(32,129,16)"/>
<circle cx="40.2" cy="30.8" r="0.64" fill="rgb(33,132,16)"/>
<circle cx="44.5" cy="62.5" r="0.69" fill="rgb(31,126,15)"/>
<circle cx="61.4" cy="10.1" r="0.52" fill="rgb(38,152,19)"/>
<circle cx="31.6" cy="2.1" r="0.67" fill="rgb(23,95,11)"/>
<circle cx="58.8" cy="14.8" r="0.41" fill="rgb(32,129,16)"/>
<circle cx="27.9" cy="24.2" r="0.64" fill="rgb(31,124,15)"/>
<circle cx="5.2" cy="45.1" r="0.51" fill="rgb(41,164,20)"/>
<circle cx="15.5" cy="6.9" r="0.53" fill="rgb(21,86,10)"/>
<circle cx="67.4" cy="12.3" r="0.46" fill="rgb(23,95,11)"/>
<circle cx="33.3" cy="30.9" r="0.62" fill="rgb(24,96,12)"/>
<circle cx="26.7" cy="29.7" r="0.43" fill="rgb(32,130,16)"/>
<circle cx="8.8" cy="63.7" r="0.68" fill="rgb(23,93,11)"/>
<circle cx="52.9" cy="63.1" r="0.45" fill="rgb(24,97,12)"/>
<circle cx="87.2" cy="13.2" r="0.44" fill="rgb(28,113,14)"/>
<circle cx="26.6" cy="29.1" r="0.60" fill="rgb(40,160,20)"/>
<circle cx="17.9" cy="59.0" r="0.41" fill="rgb(37,150,18)"/>
<circle cx="26.0" cy="60.0" r="0.52" fill="rgb(34,138,17)"/>
<circle cx="6.8" cy="56.3" r="0.42" fill="rgb(34,138,17)"/>
<circle cx="21.6" cy="48.1" r="0.53" fill="rgb(32,128,16)"/>
<circle cx="44.0" cy="51.0" r="0.52" fill="rgb(31,124,15)"/>
<circle cx="48.1" cy="26.3" r="0.56" fill="rgb(39,157,19)"/>
<circle cx="32.5" cy="30.0" r="0.50" fill="rgb(22,90,11)"/>
<circle cx="43.2" cy="24.8" r="0.59" fill="rgb(29,119,14)"/>
<circle cx="0.7" cy="49.9" r="0.43" fill="rgb(26,105,13)"/>
<circle cx="2.6" cy="31.6" r="0.62" fill="rgb(21,87,10)"/>
<circle cx="2.5" cy="0.5" r="0.56" fill="rgb(38,153,19)"/>
<circle cx="2.1" cy="6.7" r="0.65" fill="rgb(46,185,23)"/>
<circle cx="57.5" cy="6.4" r="0.63" fill="rgb(33,134,16)"/>
<circle cx="44.3" cy="52.1" r="0.67" fill="rgb(43,174,21)"/>
<circle cx="63.9" cy="44.3" r="0.69" fill="rgb(36,144,18)"/>
<circle cx="79.0" cy="55.0" r="0.65" fill="rgb(37,151,18)"/>
<circle cx="75.5" cy="3.4" r="0.65" fill="rgb(45,181,22)"/>
<circle cx="47.3" cy="36.7" r="0.58" fill="rgb(22,91,11)"/>
<circle cx="11.7" cy="0.5" r="0.45" fill="rgb(39,159,19)"/>
<circle cx="49.5" cy="9.5" r="0.63" fill="rgb(45,181,22)"/>
<circle cx="9.9" cy="41.7" r="0.40" fill="rgb(35,140,17)"/>
<circle cx="19.8" cy="48.2" r="0.63" fill="rgb(43,173,21)"/>
<circle cx="24.2" cy="5.3" r="0.54" fill="rgb(43,175,21)"/>
<circle cx="81.9" cy="38.7" r="0.56" fill="rgb(43,174,21)"/>
<circle cx="2.9" cy="31.5" r="0.45" fill="rgb(32,128,16)"/>
<circle cx="51.0" cy="25.1" r="0.44" fill="rgb(36,144,18)"/>
<circle cx="39.2" cy="18.0" r="0.55" fill="rgb(42,171,21)"/>
<circle cx="16.0" cy="25.3" r="0.54" fill="rgb(37,150,18)"/>
<circle cx="38.3" cy="39.2" r="0.68" fill="rgb(21,87,10)"/>
<circle cx="79.8" cy="54.5" r="0.61" fill="rgb(28,114,14)"/>
<circle cx="17.4" cy="60.0" r="0.58" fill="rgb(36,146,18)"/>
<circle cx="30.8" cy="65.2" r="0.60" fill="rgb(31,124,15)"/>
<circle cx="11.4" cy="61.3" r="0.69" fill="rgb(44,178,22)"/>
<circle cx="83.1" cy="43.3" r="0.47" fill="rgb(24,97,12)"/>
<circle cx="69.2" cy="59.0" r="0.56" fill="rgb(29,118,14)"/>
<circle cx="39.1" cy="18.3" r="0.57" fill="rgb(44,176,22)"/>
<circle cx="11.3" cy="23.1" r="0.63" fill="rgb(37,150,18)"/>
<circle cx="84.1" cy="39.6" r="0.50" fill="rgb(43,174,21)"/>
<circle cx="56.3" cy="9.6" r="0.45" fill="rgb(28,112,14)"/>
<circle cx="65.5" cy="7.6" r="0.68" fill="rgb(22,89,11)"/>
<circle cx="74.0" cy="55.8" r="0.57" fill="rgb(31,127,15)"/>
<circle cx="6.5" cy="48.1" r="0.65" fill="rgb(45,180,22)"/>
<circle cx="3.8" cy="4.0" r="0.63" fill="rgb(44,178,22)"/>
<circle cx="4.2" cy="38.5" r="0.53" fill="rgb(43,172,21)"/>
<circle cx="59.4" cy="43.7" r="0.53" fill="rgb(43,173,21)"/>
<circle cx="5.2" cy="64.8" r="0.67" fill="rgb(45,182,22)"/>
<circle cx="63.7" cy="52.8" r="0.68" fill="rgb(36,144,18)"/>
<circle cx="13.2" cy="29.1" r="0.61" fill="rgb(38,155,19)"/>
<circle cx="13.8" cy="64.9" r="0.65" fill="rgb(29,116,14)"/>
<circle cx="12.1" cy="63.7" r="0.58" fill="rgb(43,173,21)"/>
<circle cx="11.8" cy="52.9" r="0.66" fill="rgb(42,170,21)"/>
<circle cx="53.6" cy="48.1" r="0.45" fill="rgb(40,163,20)"/>
<circle cx="7.3" cy="42.0" r="0.60" fill="rgb(32,129,16)"/>
<circle cx="4.8" cy="44.8" r="0.60" fill="rgb(22,91,11)"/>
<circle cx="53.3" cy="53.1" r="0.54" fill="rgb(36,144,18)"/>
<circle cx="1.3" cy="40.4" r="0.45" fill="rgb(41,166,20)"/>
<circle cx="73.7" cy="24.1" r="0.40" fill="rgb(23,92,11)"/>
<circle cx="73.1" cy="41.1" r="0.58" fill="rgb(36,147,18)"/>
<circle cx="75.0" cy="50.8" r="0.54" fill="rgb(27,111,13)"/>
<circle cx="79.0" cy="26.1" r="0.57" fill="rgb(21,86,10)"/>
<circle cx="80.7" cy="4.0" r="0.52" fill="rgb(39,157,19)"/>
<circle cx="24.2" cy="45.4" r="0.57" fill="rgb(24,97,12)"/>
<circle cx="65.5" cy="48.9" r="0.58" fill="rgb(24,96,12)"/>
<circle cx="37.2" cy="52.7" r="0.59" fill="rgb(32,128,16)"/>
<circle cx="60.2" cy="37.9" r="0.47" fill="rgb(30,123,15)"/>
<circle cx="1.3" cy="19.8" r="0.49" fill="rgb(43,173,21)"/>
<circle cx="43.0" cy="34.5" r="0.61" fill="rgb(29,119,14)"/>
<circle cx="31.5" cy="26.8" r="0.69" fill="rgb(30,121,15)"/>
<circle cx="68.3" cy="52.8" r="0.44" fill="rgb(40,161,20)"/>
<circle cx="27.3" cy="24.8" r="0.44" fill="rgb(32,129,16)"/>
<circle cx="65.8" cy="55.2" r="0.63" fill="rgb(38,153,19)"/>
<circle cx="13.9" cy="37.3" r="0.53" fill="rgb(41,164,20)"/>
<circle cx="40.8" cy="25.2" r="0.55" fill="rgb(31,125,15)"/>
<circle cx="23.7" cy="64.5" r="0.65" fill="rgb(33,134,16)"/>
<circle cx="64.7" cy="1.5" r="0.47" fill="rgb(24,97,12)"/>
<circle cx="26.6" cy="39.9" r="0.65" fill="rgb(31,125,15)"/>
<circle cx="85.9" cy="37.0" r="0.67" fill="rgb(27,111,13)"/>
<circle cx="81.1" cy="16.6" r="0.43" fill="rgb(32,130,16)"/>
<circle cx="51.2" cy="5.0" r="0.55" fill="rgb(24,97,12)"/>
<circle cx="60.6" cy="14.7" r="0.56" fill="rgb(44,177,22)"/>
<circle cx="0.1" cy="52.2" r="0.65" fill="rgb(23,92,11)"/>
<circle cx="67.7" cy="48.2" r="0.55" fill="rgb(35,142,17)"/>
<circle cx="39.5" cy="17.7" r="0.56" fill="rgb(42,168,21)"/>
<circle cx="81.4" cy="44.6" r="0.50" fill="rgb(24,99,12)"/>
<circle cx="15.5" cy="27.3" r="0.63" fill="rgb(44,177,22)"/>
<circle cx="50.9" cy="27.2" r="0.65" fill="rgb(38,152,19)"/>
<circle cx="76.0" cy="45.2" r="0.50" fill="rgb(30,122,15)"/>
<circle cx="67.9" cy="24.1" r="0.68" fill="rgb(27,109,13)"/>
<circle cx="8.8" cy="6.0" r="0.58" fill="rgb(46,184,23)"/>
<circle cx="5.5" cy="10.7" r="0.61" fill="rgb(22,91,11)"/>
<circle cx="29.4" cy="25.6" r="0.48" fill="rgb(30,122,15)"/>
<circle cx="7.4" cy="1.2" r="0.45" fill="rgb(22,88,11)"/>
<circle cx="51.1" cy="27.2" r="0.69" fill="rgb(38,155,19)"/>
<circle cx="27.6" cy="54.4" r="0.53" fill="rgb(38,153,19)"/>
<circle cx="40.8" cy="23.4" r="0.66" fill="rgb(41,164,20)"/>
<circle cx="4.4" cy="46.2" r="0.50" fill="rgb(28,114,14)"/>
<circle cx="74.9" cy="53.1" r="0.47" fill="rgb(27,110,13)"/>
<circle cx="13.7" cy="63.6" r="0.68" fill="rgb(24,98,12)"/>
<circle cx="47.6" cy="3.4" r="0.66" fill="rgb(33,132,16)"/>
<circle cx="19.0" cy="11.2" r="0.41" fill="rgb(43,172,21)"/>
<circle cx="77.5" cy="23.3" r="0.66" fill="rgb(23,95,11)"/>
<circle cx="4.1" cy="62.3" r="0.58" fill="rgb(28,115,14)"/>
<circle cx="57.9" cy="6.3" r="0.49" fill="rgb(38,153,19)"/>
<circle cx="11.0" cy="6.5" r="0.48" fill="rgb(44,179,22)"/>
<circle cx="72.4" cy="16.0" r="0.65" fill="rgb(33,135,16)"/>
<circle cx="23.3" cy="35.8" r="0.56" fill="rgb(33,133,16)"/>
<circle cx="62.9" cy="62.3" r="0.55" fill="rgb(43,173,21)"/>
<circle cx="86.1" cy="8.2" r="0.47" fill="rgb(30,121,15)"/>
<circle cx="87.0" cy="33.5" r="0.52" fill="rgb(32,129,16)"/>
<circle cx="4.4" cy="7.9" r="0.65" fill="rgb(41,165,20)"/>
<circle cx="77.5" cy="25.6" r="0.45" fill="rgb(28,115,14)"/>
<circle cx="63.9" cy="61.9" r="0.70" fill="rgb(27,111,13)"/>
<circle cx="21.3" cy="31.0" r="0.64" fill="rgb(32,129,16)"/>
<circle cx="53.3" cy="31.3" r="0.69" fill="rgb(24,99,12)"/>
<circle cx="1.3" cy="18.6" r="0.58" fill="rgb(22,88,11)"/>
<circle cx="56.6" cy="52.7" r="0.44" fill="rgb(40,161,20)"/>
<circle cx="26.8" cy="9.5" r="0.56" fill="rgb(36,147,18)"/>
<circle cx="55.7" cy="10.5" r="0.55" fill="rgb(42,169,21)"/>
<circle cx="80.3" cy="54.9" r="0.64" fill="rgb(44,178,22)"/>
<circle cx="19.0" cy="22.7" r="0.53" fill="rgb(23,92,11)"/>
<circle cx="40.4" cy="28.9" r="0.49" fill="rgb(25,102,12)"/>
<circle cx="37.9" cy="57.0" r="0.63" fill="rgb(30,122,15)"/>
<circle cx="77.7" cy="60.7" r="0.49" fill="rgb(29,119,14)"/>
<circle cx="48.5" cy="64.9" r="0.55" fill="rgb(39,157,19)"/>
<circle cx="12.8" cy="37.4" r="0.51" fill="rgb(23,93,11)"/>
<circle cx="87.3" cy="49.7" r="0.65" fill="rgb(36,146,18)"/>
<circle cx="65.1" cy="56.1" r="0.55" fill="rgb(35,143,17)"/>
<circle cx="70.0" cy="62.3" r="0.57" fill="rgb(25,100,12)"/>
<circle cx="35.9" cy="9.5" r="0.62" fill="rgb(35,143,17)"/>
<circle cx="12.1" cy="33.4" r="0.53" fill="rgb(42,168,21)"/>
<circle cx="12.1" cy="54.4" r="0.42" fill="rgb(40,163,20)"/>
<circle cx="39.2" cy="44.7" r="0.67" fill="rgb(30,120,15)"/>
<circle cx="54.1" cy="62.1" r="0.59" fill="rgb(39,158,19)"/>
<circle cx="4.2" cy="13.1" r="0.43" fill="rgb(35,140,17)"/>
<circle cx="65.9" cy="8.9" r="0.48" fill="rgb(23,93,11)"/>
<circle cx="4.1" cy="36.7" r="0.65" fill="rgb(34,137,17)"/>
<circle cx="45.1" cy="30.9" r="0.40" fill="rgb(28,112,14)"/>
<circle cx="2.5" cy="53.1" r="0.45" fill="rgb(34,136,17)"/>
<circle cx="1.4" cy="37.9" r="0.46" fill="rgb(29,116,14)"/>
<circle cx="17.6" cy="64.3" r="0.48" fill="rgb(38,152,19)"/>
<circle cx="53.4" cy="19.0" r="0.46" fill="rgb(45,182,22)"/>
<circle cx="65.4" cy="53.3" r="0.67" fill="rgb(28,112,14)"/>
<circle cx="30.4" cy="62.7" r="0.41" fill="rgb(39,159,19)"/>
<circle cx="70.1" cy="2.5" r="0.43" fill="rgb(44,178,22)"/>
<circle cx="3.5" cy="40.1" r="0.42" fill="rgb(28,115,14)"/>
<circle cx="16.8" cy="44.2" r="0.54" fill="rgb(45,181,22)"/>
<circle cx="16.6" cy="58.2" r="0.65" fill="rgb(21,85,10)"/>
<circle cx="73.4" cy="64.5" r="0.57" fill="rgb(40,162,20)"/>
<circle cx="21.4" cy="15.3" r="0.50" fill="rgb(40,163,20)"/>
<circle cx="33.4" cy="37.5" r="0.70" fill="rgb(29,116,14)"/>
<circle cx="34.5" cy="10.9" r="0.60" fill="rgb(28,113,14)"/>
<circle cx="21.4" cy="7.7" r="0.65" fill="rgb(25,102,12)"/>
<circle cx="48.1" cy="34.1" r="0.65" fill="rgb(40,162,20)"/>
<circle cx="3.1" cy="11.3" r="0.57" fill="rgb(46,185,23)"/>
<circle cx="20.8" cy="8.1" r="0.49" fill="rgb(35,141,17)"/>
<circle cx="9.4" cy="61.6" r="0.57" fill="rgb(21,87,10)"/>
<circle cx="45.6" cy="29.9" r="0.69" fill="rgb(26,107,13)"/>
<circle cx="53.8" cy="45.6" r="0.48" fill="rgb(43,172,21)"/>
<circle cx="17.9" cy="12.7" r="0.45" fill="rgb(23,95,11)"/>
<circle cx="63.0" cy="38.5" r="0.58" fill="rgb(43,172,21)"/>
<circle cx="55.0" cy="31.6" r="0.44" fill="rgb(40,163,20)"/>
<circle cx="44.6" cy="34.5" r="0.46" fill="rgb(38,152,19)"/>
<circle cx="64.5" cy="38.5" r="0.58" fill="rgb(30,123,15)"/>
<circle cx="48.3" cy="50.5" r="0.49" fill="rgb(30,121,15)"/>
<circle cx="67.1" cy="32.4" r="0.56" fill="rgb(44,177,22)"/>
<circle cx="31.3" cy="9.6" r="0.55" fill="rgb(37,149,18)"/>
<circle cx="87.6" cy="40.8" r="0.53" fill="rgb(33,134,16)"/>
<circle cx="10.5" cy="20.8" r="0.62" fill="rgb(45,181,22)"/>
<circle cx="54.2" cy="51.5" r="0.70" fill="rgb(35,140,17)"/>
<circle cx="42.8" cy="55.1" r="0.56" fill="rgb(42,171,21)"/>
<circle cx="58.7" cy="36.8" r="0.66" fill="rgb(24,96,12)"/>
<circle cx="48.2" cy="3.3" r="0.69" fill="rgb(36,146,18)"/>
<circle cx="42.3" cy="10.9" r="0.59" fill="rgb(37,150,18)"/>
<circle cx="26.2" cy="1.8" r="0.45" fill="rgb(26,104,13)"/>
<circle cx="62.7" cy="11.2" r="0.47" fill="rgb(37,151,18)"/>
<circle cx="25.7" cy="42.8" r="0.40" fill="rgb(35,142,17)"/>
<circle cx="86.0" cy="59.7" r="0.42" fill="rgb(35,142,17)"/>
<circle cx="69.1" cy="63.9" r="0.51" fill="rgb(32,130,16)"/>
<circle cx="25.2" cy="51.6" r="0.56" fill="rgb(40,163,20)"/>
<circle cx="41.5" cy="36.3" r="0.58" fill="rgb(39,157,19)"/>
<circle cx="28.5" cy="62.8" r="0.60" fill="rgb(40,161,20)"/>
<circle cx="30.0" cy="33.8" r="0.41" fill="rgb(40,160,20)"/>
<circle cx="57.0" cy="32.1" r="0.55" fill="rgb(30,121,15)"/>
<circle cx="39.0" cy="13.7" r="0.53" fill="rgb(28,114,14)"/>
<circle cx="52.9" cy="17.8" r="0.59" fill="rgb(41,164,20)"/>
<circle cx="55.9" cy="61.4" r="0.47" fill="rgb(26,107,13)"/>
<circle cx="86.0" cy="35.9" r="0.51" fill="rgb(31,127,15)"/>
<circle cx="38.2" cy="64.9" r="0.61" fill="rgb(37,148,18)"/>
<circle cx="22.5" cy="56.6" r="0.51" fill="rgb(29,118,14)"/>
<circle cx="87.9" cy="25.9" r="0.57" fill="rgb(34,139,17)"/>
<circle cx="46.0" cy="36.0" r="0.47" fill="rgb(39,156,19)"/>
<circle cx="13.4" cy="12.8" r="0.70" fill="rgb(32,130,16)"/>
<circle cx="1.4" cy="3.5" r="0.69" fill="rgb(30,120,15)"/>
<circle cx="69.4" cy="60.9" r="0.65" fill="rgb(24,98,12)"/>
<circle cx="1.7" cy="10.9" r="0.61" fill="rgb(21,86,10)"/>
<circle cx="34.4" cy="31.2" r="0.59" fill="rgb(40,163,20)"/>
<circle cx="75.2" cy="38.8" r="0.60" fill="rgb(22,89,11)"/>
<circle cx="21.1" cy="24.5" r="0.62" fill="rgb(36,146,18)"/>
<circle cx="36.5" cy="28.1" r="0.46" fill="rgb(28,113,14)"/>
<circle cx="43.3" cy="52.9" r="0.47" fill="rgb(29,119,14)"/>
<circle cx="5.1" cy="40.3" r="0.46" fill="rgb(23,92,11)"/>
<circle cx="44.5" cy="45.2" r="0.40" fill="rgb(28,114,14)"/>
<circle cx="82.0" cy="17.3" r="0.50" fill="rgb(22,89,11)"/>
<circle cx="87.7" cy="29.9" r="0.59" fill="rgb(37,150,18)"/>
<circle cx="22.1" cy="48.9" r="0.66" fill="rgb(24,98,12)"/>
<circle cx="9.7" cy="2.9" r="0.46" fill="rgb(22,88,11)"/>
<circle cx="23.2" cy="50.4" r="0.50" fill="rgb(35,142,17)"/>
<circle cx="40.7" cy="56.7" r="0.59" fill="rgb(38,155,19)"/>
<circle cx="39.2" cy="35.4" r="0.63" fill="rgb(43,174,21)"/>
<circle cx="37.8" cy="34.8" r="0.63" fill="rgb(21,87,10)"/>
<circle cx="9.1" cy="8.4" r="0.47" fill="rgb(37,149,18)"/>
<circle cx="54.9" cy="16.6" r="0.68" fill="rgb(21,85,10)"/>
<circle cx="38.1" cy="53.6" r="0.54" fill="rgb(42,171,21)"/>
<circle cx="67.6" cy="32.4" r="0.48" fill="rgb(34,136,17)"/>
<circle cx="35.7" cy="50.8" r="0.61" fill="rgb(31,126,15)"/>
<circle cx="27.9" cy="34.5" r="0.65" fill="rgb(32,130,16)"/>
<circle cx="19.3" cy="23.3" r="0.49" fill="rgb(36,146,18)"/>
<circle cx="73.0" cy="30.1" r="0.48" fill="rgb(39,159,19)"/>
<circle cx="35.5" cy="16.3" r="0.56" fill="rgb(40,161,20)"/>
<circle cx="62.9" cy="35.6" r="0.64" fill="rgb(37,151,18)"/>
<circle cx="48.5" cy="6.9" r="0.58" fill="rgb(36,147,18)"/>
<circle cx="66.5" cy="28.2" r="0.54" fill="rgb(40,161,20)"/>
<circle cx="65.0" cy="10.3" r="0.67" fill="rgb(41,165,20)"/>
<circle cx="34.8" cy="55.6" r="0.41" fill="rgb(45,180,22)"/>
<circle cx="79.9" cy="63.4" r="0.62" fill="rgb(33,132,16)"/>
<circle cx="67.3" cy="32.6" r="0.41" fill="rgb(26,106,13)"/>
<circle cx="67.5" cy="4.4" r="0.41" fill="rgb(28,114,14)"/>
<circle cx="44.4" cy="53.2" r="0.55" fill="rgb(36,144,18)"/>
<circle cx="70.4" cy="39.7" r="0.56" fill="rgb(38,152,19)"/>
<circle cx="19.7" cy="50.6" r="0.56" fill="rgb(30,121,15)"/>
<circle cx="52.4" cy="30.3" r="0.59" fill="rgb(41,166,20)"/>
<circle cx="50.9" cy="31.5" r="0.65" fill="rgb(36,144,18)"/>
<circle cx="46.8" cy="57.9" r="0.65" fill="rgb(23,95,11)"/>
<circle cx="67.9" cy="45.4" r="0.56" fill="rgb(38,155,19)"/>
<circle cx="51.5" cy="4.6" r="0.47" fill="rgb(30,121,15)"/>
<circle cx="53.9" cy="36.1" r="0.51" fill="rgb(40,162,20)"/>
<circle cx="79.3" cy="11.3" r="0.40" fill="rgb(43,174,21)"/>
<circle cx="12.2" cy="30.7" r="0.53" fill="rgb(37,149,18)"/>
<circle cx="37.8" cy="41.6" r="0.41" fill="rgb(45,181,22)"/>
<circle cx="48.7" cy="58.5" r="0.69" fill="rgb(39,159,19)"/>
<circle cx="39.5" cy="29.4" r="0.49" fill="rgb(42,168,21)"/>
<circle cx="18.3" cy="17.6" r="0.57" fill="rgb(28,114,14)"/>
<circle cx="45.7" cy="23.9" r="0.64" fill="rgb(21,86,10)"/>
<circle cx="57.4" cy="35.4" r="0.44" fill="rgb(46,185,23)"/>
<circle cx="79.5" cy="64.0" r="0.48" fill="rgb(43,172,21)"/>
<circle cx="1.7" cy="57.9" r="0.68" fill="rgb(23,93,11)"/>
<circle cx="30.6" cy="42.2" r="0.65" fill="rgb(37,151,18)"/>
<circle cx="73.4" cy="11.7" r="0.67" fill="rgb(37,149,18)"/>
<circle cx="66.5" cy="14.8" r="0.65" fill="rgb(31,127,15)"/>
<circle cx="25.5" cy="43.8" r="0.54" fill="rgb(25,103,12)"/>
<circle cx="67.5" cy="64.7" r="0.58" fill="rgb(40,162,20)"/>
<circle cx="62.7" cy="27.6" r="0.62" fill="rgb(33,133,16)"/>
<circle cx="50.0" cy="57.4" r="0.56" fill="rgb(27,108,13)"/>
<circle cx="65.9" cy="4.2" r="0.60" fill="rgb(33,132,16)"/>
<circle cx="4.1" cy="62.1" r="0.47" fill="rgb(36,144,18)"/>
<circle cx="76.5" cy="34.1" r="0.66" fill="rgb(25,102,12)"/>
<circle cx="48.5" cy="16.8" r="0.47" fill="rgb(36,145,18)"/>
<circle cx="3.8" cy="36.3" r="0.44" fill="rgb(34,138,17)"/>
<circle cx="22.3" cy="7.8" r="0.59" fill="rgb(22,88,11)"/>
<circle cx="40.0" cy="46.2" r="0.58" fill="rgb(25,102,12)"/>
<circle cx="57.9" cy="18.8" r="0.62" fill="rgb(32,129,16)"/>
<circle cx="62.4" cy="12.9" r="0.60" fill="rgb(35,140,17)"/>
<circle cx="15.7" cy="48.1" r="0.49" fill="rgb(26,104,13)"/>
<circle cx="32.4" cy="16.2" r="0.51" fill="rgb(30,123,15)"/>
<circle cx="14.1" cy="26.3" r="0.49" fill="rgb(24,96,12)"/>
<circle cx="69.1" cy="17.3" r="0.53" fill="rgb(26,107,13)"/>
<circle cx="85.8" cy="57.8" r="0.55" fill="rgb(43,175,21)"/>
<circle cx="23.8" cy="25.2" r="0.52" fill="rgb(35,142,17)"/>
<circle cx="52.2" cy="4.5" r="0.57" fill="rgb(32,131,16)"/>
<circle cx="35.2" cy="23.6" r="0.55" fill="rgb(45,181,22)"/>
<circle cx="70.0" cy="0.6" r="0.65" fill="rgb(44,177,22)"/>
<circle cx="55.6" cy="9.7" r="0.50" fill="rgb(42,170,21)"/>
<circle cx="60.5" cy="10.2" r="0.69" fill="rgb(39,158,19)"/>
<circle cx="39.5" cy="17.9" r="0.66" fill="rgb(31,124,15)"/>
<circle cx="29.3" cy="21.3" r="0.56" fill="rgb(23,92,11)"/>
<circle cx="59.0" cy="61.8" r="0.65" fill="rgb(23,95,11)"/>
<circle cx="55.7" cy="51.3" r="0.61" fill="rgb(43,173,21)"/>
<circle cx="74.4" cy="40.9" r="0.45" fill="rgb(41,165,20)"/>
<circle cx="26.8" cy="12.0" r="0.61" fill="rgb(30,121,15)"/>
<circle cx="32.8" cy="44.6" r="0.63" fill="rgb(45,181,22)"/>
<circle cx="14.0" cy="6.2" r="0.55" fill="rgb(44,178,22)"/>
<circle cx="46.9" cy="44.5" r="0.49" fill="rgb(26,105,13)"/>
<circle cx="69.1" cy="33.3" r="0.49" fill="rgb(37,151,18)"/>
<circle cx="24.8" cy="45.3" r="0.52" fill="rgb(22,89,11)"/>
<circle cx="72.8" cy="7.0" r="0.56" fill="rgb(35,140,17)"/>
<circle cx="76.8" cy="46.8" r="0.68" fill="rgb(35,143,17)"/>
<circle cx="82.6" cy="65.7" r="0.44" fill="rgb(38,154,19)"/>
<circle cx="23.5" cy="9.8" r="0.45" fill="rgb(24,98,12)"/>
<circle cx="56.5" cy="29.1" r="0.56" fill="rgb(42,171,21)"/>
<circle cx="0.7" cy="37.5" r="0.52" fill="rgb(45,182,22)"/>
<circle cx="28.4" cy="15.8" r="0.56" fill="rgb(31,125,15)"/>
<circle cx="25.6" cy="25.8" r="0.51" fill="rgb(21,85,10)"/>
<circle cx="61.7" cy="25.4" r="0.66" fill="rgb(46,185,23)"/>
<circle cx="47.9" cy="61.9" r="0.64" fill="rgb(38,154,19)"/>
<circle cx="77.3" cy="38.0" r="0.59" fill="rgb(40,163,20)"/>
<circle cx="8.6" cy="59.4" r="0.60" fill="rgb(35,142,17)"/>
<circle cx="18.3" cy="32.2" r="0.47" fill="rgb(34,139,17)"/>
<circle cx="73.7" cy="46.3" r="0.61" fill="rgb(44,179,22)"/>
<circle cx="14.6" cy="31.3" r="0.58" fill="rgb(45,183,22)"/>
<circle cx="64.6" cy="50.7" r="0.52" fill="rgb(45,180,22)"/>
<circle cx="34.8" cy="49.6" r="0.61" fill="rgb(22,88,11)"/>
<circle cx="14.9" cy="59.2" r="0.62" fill="rgb(43,174,21)"/>
<circle cx="75.8" cy="33.3" r="0.54" fill="rgb(43,173,21)"/>
<circle cx="77.5" cy="3.0" r="0.64" fill="rgb(40,163,20)"/>
<circle cx="25.3" cy="3.2" r="0.49" fill="rgb(26,107,13)"/>
<circle cx="80.3" cy="32.8" r="0.65" fill="rgb(22,89,11)"/>
<circle cx="62.5" cy="25.6" r="0.54" fill="rgb(27,108,13)"/>
<circle cx="9.6" cy="56.8" r="0.54" fill="rgb(26,107,13)"/>
<circle cx="14.6" cy="17.5" r="0.66" fill="rgb(27,108,13)"/>
<circle cx="27.9" cy="59.4" r="0.60" fill="rgb(23,92,11)"/>
<circle cx="22.1" cy="62.6" r="0.68" fill="rgb(34,139,17)"/>
<circle cx="12.6" cy="7.8" r="0.54" fill="rgb(38,154,19)"/>
<circle cx="65.7" cy="48.7" r="0.69" fill="rgb(31,124,15)"/>
<circle cx="24.9" cy="5.6" r="0.58" fill="rgb(43,172,21)"/>
<circle cx="10.3" cy="48.9" r="0.41" fill="rgb(26,107,13)"/>
<circle cx="60.1" cy="11.9" r="0.42" fill="rgb(45,181,22)"/>
<circle cx="32.1" cy="48.2" r="0.59" fill="rgb(24,99,12)"/>
<circle cx="33.6" cy="8.1" r="0.59" fill="rgb(43,172,21)"/>
<circle cx="20.2" cy="5.4" r="0.61" fill="rgb(33,134,16)"/>
<circle cx="18.2" cy="49.4" r="0.65" fill="rgb(21,86,10)"/>
<circle cx="82.5" cy="64.3" r="0.62" fill="rgb(22,89,11)"/>
<circle cx="33.0" cy="14.7" r="0.48" fill="rgb(35,141,17)"/>
<circle cx="6.7" cy="56.1" r="0.67" fill="rgb(29,117,14)"/>
<circle cx="49.8" cy="5.6" r="0.62" fill="rgb(44,179,22)"/>
<circle cx="49.7" cy="55.7" r="0.55" fill="rgb(35,142,17)"/>
<circle cx="85.9" cy="30.4" r="0.45" fill="rgb(35,142,17)"/>
<circle cx="86.0" cy="22.0" r="0.68" fill="rgb(35,141,17)"/>
<circle cx="23.9" cy="58.9" r="0.63" fill="rgb(32,129,16)"/>
<circle cx="26.2" cy="30.4" r="0.57" fill="rgb(42,169,21)"/>
<circle cx="63.7" cy="49.9" r="0.70" fill="rgb(26,106,13)"/>
<circle cx="62.5" cy="62.9" r="0.69" fill="rgb(30,120,15)"/>
<circle cx="80.6" cy="19.0" r="0.50" fill="rgb(23,95,11)"/>
<circle cx="4.9" cy="51.8" r="0.68" fill="rgb(45,181,22)"/>
<circle cx="12.4" cy="55.3" r="0.48" fill="rgb(41,167,20)"/>
<circle cx="40.7" cy="19.5" r="0.59" fill="rgb(27,111,13)"/>
<circle cx="31.6" cy="28.7" r="0.41" fill="rgb(28,112,14)"/>
<circle cx="53.3" cy="39.7" r="0.70" fill="rgb(38,154,19)"/>
<circle cx="43.1" cy="28.9" r="0.49" fill="rgb(24,96,12)"/>
<circle cx="19.6" cy="10.2" r="0.48" fill="rgb(36,146,18)"/>
<circle cx="42.2" cy="65.2" r="0.46" fill="rgb(30,120,15)"/>
<circle cx="38.3" cy="24.6" r="0.68" fill="rgb(27,111,13)"/>
<circle cx="44.5" cy="24.8" r="0.56" fill="rgb(41,165,20)"/>
<circle cx="80.3" cy="64.8" r="0.51" fill="rgb(31,125,15)"/>
<circle cx="23.5" cy="41.2" r="0.69" fill="rgb(25,101,12)"/>
<circle cx="80.8" cy="44.3" r="0.63" fill="rgb(33,134,16)"/>
<circle cx="46.7" cy="55.7" r="0.50" fill="rgb(36,147,18)"/>
<circle cx="28.2" cy="3.4" r="0.51" fill="rgb(24,99,12)"/>
<circle cx="28.4" cy="37.9" r="0.69" fill="rgb(35,140,17)"/>
<circle cx="33.5" cy="50.9" r="0.65" fill="rgb(35,142,17)"/>
<circle cx="79.4" cy="19.6" r="0.59" fill="rgb(23,92,11)"/>
<circle cx="2.2" cy="60.3" r="0.43" fill="rgb(32,128,16)"/>
<circle cx="54.3" cy="41.4" r="0.43" fill="rgb(44,179,22)"/>
<circle cx="69.4" cy="61.9" r="0.56" fill="rgb(45,183,22)"/>
<circle cx="8.0" cy="51.1" r="0.42" fill="rgb(37,149,18)"/>
<circle cx="18.9" cy="31.3" r="0.58" fill="rgb(26,106,13)"/>
<circle cx="51.6" cy="25.8" r="0.49" fill="rgb(34,136,17)"/>
<circle cx="84.0" cy="3.2" r="0.43" fill="rgb(45,182,22)"/>
<circle cx="6.3" cy="31.1" r="0.47" fill="rgb(34,138,17)"/>
<circle cx="52.4" cy="38.5" r="0.44" fill="rgb(34,136,17)"/>
<circle cx="69.3" cy="36.7" r="0.40" fill="rgb(33,132,16)"/>
<circle cx="42.2" cy="48.9" r="0.53" fill="rgb(23,95,11)"/>
<circle cx="31.1" cy="61.3" r="0.53" fill="rgb(41,164,20)"/>
<circle cx="34.0" cy="9.5" r="0.55" fill="rgb(44,178,22)"/>
<circle cx="6.1" cy="9.1" r="0.61" fill="rgb(37,150,18)"/>
<circle cx="51.5" cy="32.5" r="0.49" fill="rgb(46,184,23)"/>
<circle cx="61.8" cy="3.4" r="0.53" fill="rgb(40,161,20)"/>
<circle cx="15.2" cy="19.1" r="0.41" fill="rgb(41,165,20)"/>
<circle cx="56.7" cy="28.3" r="0.52" fill="rgb(43,174,21)"/>
<circle cx="6.4" cy="30.0" r="0.46" fill="rgb(40,163,20)"/>
<circle cx="15.7" cy="36.0" r="0.59" fill="rgb(41,166,20)"/>
<circle cx="50.5" cy="0.1" r="0.47" fill="rgb(27,109,13)"/>
<circle cx="2.4" cy="45.7" r="0.64" fill="rgb(30,123,15)"/>
<circle cx="75.3" cy="14.0" r="0.60" fill="rgb(31,124,15)"/>
<circle cx="49.4" cy="33.3" r="0.57" fill="rgb(29,119,14)"/>
<circle cx="20.6" cy="15.7" r="0.48" fill="rgb(23,95,11)"/>
<circle cx="25.1" cy="30.7" r="0.66" fill="rgb(41,167,20)"/>
<circle cx="84.4" cy="9.6" r="0.59" fill="rgb(37,149,18)"/>
<circle cx="0.5" cy="25.2" r="0.45" fill="rgb(32,131,16)"/>
<circle cx="67.7" cy="55.0" r="0.41" fill="rgb(36,146,18)"/>
<circle cx="39.5" cy="31.7" r="0.62" fill="rgb(28,114,14)"/>
<circle cx="41.2" cy="13.1" r="0.51" fill="rgb(35,143,17)"/>
<circle cx="66.2" cy="51.1" r="0.44" fill="rgb(32,130,16)"/>
<circle cx="11.3" cy="53.1" r="0.53" fill="rgb(34,138,17)"/>
<circle cx="25.7" cy="2.1" r="0.55" fill="rgb(36,146,18)"/>
<circle cx="71.2" cy="39.3" r="0.62" fill="rgb(25,100,12)"/>
<circle cx="60.9" cy="48.7" r="0.54" fill="rgb(43,173,21)"/>
<circle cx="75.6" cy="53.3" r="0.54" fill="rgb(38,155,19)"/>
<circle cx="32.3" cy="34.7" r="0.46" fill="rgb(28,115,14)"/>
<circle cx="44.1" cy="20.5" r="0.51" fill="rgb(44,176,22)"/>
<circle cx="43.7" cy="21.0" r="0.59" fill="rgb(26,107,13)"/>
<circle cx="34.9" cy="44.7" r="0.50" fill="rgb(36,145,18)"/>
<circle cx="81.9" cy="25.7" r="0.43" fill="rgb(31,127,15)"/>
<circle cx="54.2" cy="40.3" r="0.45" fill="rgb(40,163,20)"/>
<circle cx="55.2" cy="17.2" r="0.66" fill="rgb(43,173,21)"/>
<circle cx="38.3" cy="53.5" r="0.54" fill="rgb(42,170,21)"/>
<circle cx="83.3" cy="60.6" r="0.41" fill="rgb(28,112,14)"/>
<circle cx="33.2" cy="38.9" r="0.47" fill="rgb(46,184,23)"/>
<circle cx="42.7" cy="58.5" r="0.47" fill="rgb(44,177,22)"/>
<circle cx="77.1" cy="43.2" r="0.43" fill="rgb(41,165,20)"/>
<circle cx="85.0" cy="19.2" r="0.41" fill="rgb(40,163,20)"/>
<circle cx="42.8" cy="33.1" r="0.67" fill="rgb(31,124,15)"/>
<circle cx="69.6" cy="64.2" r="0.65" fill="rgb(24,97,12)"/>
<circle cx="26.9" cy="18.1" r="0.62" fill="rgb(37,151,18)"/>
<circle cx="24.7" cy="6.6" r="0.49" fill="rgb(26,107,13)"/>
<circle cx="59.8" cy="40.2" r="0.44" fill="rgb(33,132,16)"/>
<circle cx="7.6" cy="45.1" r="0.44" fill="rgb(28,112,14)"/>
<circle cx="45.2" cy="64.4" r="0.42" fill="rgb(32,131,16)"/>
<circle cx="58.1" cy="5.8" r="0.66" fill="rgb(45,180,22)"/>
<circle cx="68.1" cy="48.4" r="0.44" fill="rgb(32,128,16)"/>
<circle cx="80.1" cy="33.4" r="0.42" fill="rgb(37,149,18)"/>
<circle cx="56.3" cy="62.6" r="0.56" fill="rgb(26,104,13)"/>
<circle cx="87.5" cy="2.4" r="0.57" fill="rgb(28,115,14)"/>
<circle cx="58.1" cy="3.4" r="0.42" fill="rgb(27,110,13)"/>
<circle cx="28.2" cy="45.2" r="0.42" fill="rgb(24,96,12)"/>
<circle cx="16.0" cy="60.9" r="0.45" fill="rgb(39,158,19)"/>
<circle cx="6.5" cy="42.4" r="0.58" fill="rgb(41,166,20)"/>
<circle cx="87.7" cy="33.8" r="0.51" fill="rgb(43,174,21)"/>
<circle cx="74.5" cy="39.4" r="0.65" fill="rgb(40,163,20)"/>
<circle cx="13.7" cy="44.6" r="0.53" fill="rgb(28,114,14)"/>
<circle cx="7.5" cy="36.8" r="0.40" fill="rgb(28,113,14)"/>
<circle cx="74.4" cy="42.5" r="0.67" fill="rgb(34,138,17)"/>
<circle cx="11.1" cy="17.7" r="0.54" fill="rgb(37,151,18)"/>
<circle cx="9.6" cy="46.0" r="0.70" fill="rgb(25,100,12)"/>
<circle cx="35.5" cy="5.0" r="0.43" fill="rgb(38,152,19)"/>
<circle cx="24.8" cy="29.6" r="0.53" fill="rgb(38,154,19)"/>
<circle cx="75.0" cy="26.3" r="0.51" fill="rgb(45,182,22)"/>
<circle cx="18.4" cy="48.5" r="0.41" fill="rgb(33,132,16)"/>
<circle cx="2.5" cy="23.0" r="0.65" fill="rgb(36,146,18)"/>
<circle cx="38.5" cy="53.5" r="0.46" fill="rgb(36,145,18)"/>
<circle cx="75.6" cy="54.6" r="0.62" fill="rgb(35,142,17)"/>
<circle cx="7.4" cy="29.9" r="0.43" fill="rgb(29,117,14)"/>
<circle cx="2.4" cy="1.9" r="0.57" fill="rgb(32,129,16)"/>
<circle cx="3.6" cy="15.7" r="0.60" fill="rgb(29,118,14)"/>
<circle cx="66.8" cy="10.2" r="0.44" fill="rgb(21,86,10)"/>
<circle cx="16.5" cy="20.6" r="0.51" fill="rgb(37,150,18)"/>
<circle cx="15.7" cy="58.3" r="0.41" fill="rgb(23,94,11)"/>
<circle cx="2.4" cy="22.1" r="0.50" fill="rgb(34,139,17)"/>
<circle cx="28.3" cy="40.2" r="0.66" fill="rgb(21,86,10)"/>
<circle cx="18.5" cy="21.0" r="0.58" fill="rgb(26,107,13)"/>
<circle cx="29.5" cy="19.8" r="0.47" fill="rgb(31,125,15)"/>
<circle cx="21.7" cy="65.4" r="0.50" fill="rgb(44,176,22)"/>
<circle cx="67.7" cy="4.4" r="0.59" fill="rgb(39,159,19)"/>
<circle cx="20.0" cy="3.2" r="0.43" fill="rgb(38,154,19)"/>
<circle cx="24.5" cy="11.8" r="0.65" fill="rgb(41,165,20)"/>
<circle cx="21.3" cy="64.7" r="0.43" fill="rgb(40,163,20)"/>
<circle cx="78.5" cy="43.2" r="0.62" fill="rgb(43,172,21)"/>
<circle cx="58.3" cy="1.5" r="0.49" fill="rgb(43,172,21)"/>
<circle cx="67.9" cy="35.5" r="0.43" fill="rgb(36,147,18)"/>
<circle cx="80.0" cy="46.5" r="0.52" fill="rgb(21,85,10)"/>
<circle cx="75.0" cy="11.5" r="0.62" fill="rgb(32,129,16)"/>
<circle cx="64.3" cy="51.7" r="0.40" fill="rgb(41,166,20)"/>
<circle cx="85.2" cy="53.8" r="0.44" fill="rgb(36,146,18)"/>
<circle cx="85.7" cy="50.3" r="0.67" fill="rgb(30,122,15)"/>
<circle cx="35.8" cy="63.2" r="0.44" fill="rgb(41,164,20)"/>
<circle cx="33.2" cy="36.6" r="0.64" fill="rgb(45,180,22)"/>
<circle cx="38.7" cy="57.2" r="0.63" fill="rgb(43,173,21)"/>
<circle cx="7.0" cy="60.2" r="0.70" fill="rgb(38,154,19)"/>
<circle cx="31.3" cy="38.6" r="0.44" fill="rgb(27,110,13)"/>
<circle cx="77.7" cy="63.0" r="0.55" fill="rgb(32,130,16)"/>
<circle cx="39.2" cy="61.5" r="0.52" fill="rgb(39,158,19)"/>
<circle cx="27.5" cy="53.6" r="0.47" fill="rgb(46,185,23)"/>
<circle cx="72.9" cy="65.0" r="0.61" fill="rgb(25,102,12)"/>
<circle cx="19.1" cy="1.4" r="0.63" fill="rgb(30,123,15)"/>
<circle cx="62.7" cy="21.9" r="0.69" fill="rgb(35,141,17)"/>
<circle cx="69.9" cy="7.9" r="0.61" fill="rgb(35,140,17)"/>
<circle cx="40.7" cy="62.6" r="0.43" fill="rgb(41,165,20)"/>
<circle cx="43.8" cy="9.2" r="0.49" fill="rgb(22,91,11)"/>
<circle cx="43.9" cy="49.6" r="0.67" fill="rgb(39,158,19)"/>
<circle cx="75.0" cy="64.1" r="0.52" fill="rgb(44,178,22)"/>
<circle cx="84.9" cy="47.6" r="0.55" fill="rgb(23,92,11)"/>
<circle cx="9.3" cy="59.3" r="0.43" fill="rgb(33,132,16)"/>
<circle cx="78.3" cy="3.1" r="0.50" fill="rgb(27,111,13)"/>
<circle cx="83.4" cy="41.7" r="0.67" fill="rgb(35,140,17)"/>
<circle cx="39.0" cy="5.2" r="0.58" fill="rgb(31,127,15)"/>
<circle cx="43.6" cy="33.3" r="0.48" fill="rgb(34,137,17)"/>
<circle cx="51.2" cy="46.7" r="0.64" fill="rgb(35,143,17)"/>
<circle cx="27.7" cy="21.8" r="0.61" fill="rgb(35,140,17)"/>
<circle cx="44.5" cy="57.2" r="0.57" fill="rgb(30,120,15)"/>
<circle cx="62.9" cy="22.6" r="0.47" fill="rgb(44,178,22)"/>
<circle cx="63.6" cy="34.6" r="0.50" fill="rgb(28,114,14)"/>
<circle cx="49.3" cy="40.2" r="0.59" fill="rgb(36,144,18)"/>
<circle cx="34.2" cy="64.4" r="0.65" fill="rgb(29,119,14)"/>
<circle cx="48.7" cy="64.8" r="0.43" fill="rgb(24,98,12)"/>
<circle cx="79.9" cy="45.4" r="0.63" fill="rgb(36,144,18)"/>
<circle cx="51.9" cy="57.5" r="0.48" fill="rgb(43,174,21)"/>
<circle cx="33.5" cy="64.0" r="0.59" fill="rgb(40,161,20)"/>
<circle cx="55.4" cy="22.5" r="0.69" fill="rgb(24,96,12)"/>
<circle cx="5.5" cy="39.4" r="0.51" fill="rgb(42,168,21)"/>
<circle cx="22.7" cy="43.1" r="0.46" fill="rgb(23,95,11)"/>
<circle cx="8.8" cy="24.3" r="0.54" fill="rgb(46,184,23)"/>
<circle cx="70.3" cy="12.0" r="0.44" fill="rgb(32,130,16)"/>
<circle cx="76.8" cy="15.6" r="0.58" fill="rgb(32,131,16)"/>
<circle cx="57.7" cy="1.9" r="0.41" fill="rgb(32,131,16)"/>
<circle cx="45.9" cy="62.4" r="0.70" fill="rgb(39,156,19)"/>
<circle cx="51.9" cy="45.8" r="0.56" fill="rgb(36,146,18)"/>
<circle cx="32.9" cy="16.6" r="0.67" fill="rgb(30,122,15)"/>
<circle cx="75.1" cy="21.6" r="0.44" fill="rgb(37,148,18)"/>
<circle cx="44.6" cy="65.1" r="0.58" fill="rgb(46,185,23)"/>
<circle cx="17.3" cy="26.7" r="0.55" fill="rgb(45,183,22)"/>
<circle cx="1.5" cy="34.2" r="0.65" fill="rgb(22,89,11)"/>
<circle cx="40.2" cy="2.8" r="0.54" fill="rgb(44,178,22)"/>
<circle cx="19.2" cy="5.1" r="0.40" fill="rgb(25,100,12)"/>
<circle cx="19.9" cy="42.1" r="0.44" fill="rgb(45,182,22)"/>
<circle cx="17.8" cy="57.8" r="0.62" fill="rgb(21,86,10)"/>
<circle cx="39.7" cy="25.9" r="0.68" fill="rgb(46,184,23)"/>
<circle cx="74.3" cy="20.9" r="0.57" fill="rgb(44,178,22)"/>
<circle cx="29.1" cy="2.2" r="0.63" fill="rgb(44,177,22)"/>
<circle cx="69.2" cy="46.2" r="0.63" fill="rgb(34,139,17)"/>
<circle cx="86.6" cy="29.0" r="0.41" fill="rgb(22,89,11)"/>
<circle cx="39.4" cy="57.3" r="0.49" fill="rgb(43,175,21)"/>
<circle cx="41.9" cy="27.6" r="0.63" fill="rgb(28,113,14)"/>
<circle cx="83.9" cy="58.5" r="0.68" fill="rgb(35,141,17)"/>
<circle cx="38.0" cy="55.8" r="0.43" fill="rgb(21,86,10)"/>
<circle cx="56.3" cy="13.6" r="0.60" fill="rgb(41,165,20)"/>
<circle cx="70.0" cy="42.7" r="0.43" fill="rgb(43,173,21)"/>
<circle cx="25.2" cy="26.4" r="0.62" fill="rgb(45,180,22)"/>
<circle cx="87.2" cy="57.4" r="0.54" fill="rgb(38,152,19)"/>
<circle cx="70.4" cy="54.1" r="0.60" fill="rgb(43,175,21)"/>
<circle cx="75.1" cy="54.7" r="0.69" fill="rgb(26,105,13)"/>
<circle cx="82.9" cy="49.1" r="0.46" fill="rgb(29,116,14)"/>
<circle cx="74.9" cy="49.8" r="0.62" fill="rgb(26,106,13)"/>
<circle cx="87.5" cy="24.6" r="0.54" fill="rgb(26,105,13)"/>
<circle cx="85.4" cy="32.5" r="0.68" fill="rgb(41,167,20)"/>
<circle cx="10.6" cy="46.1" r="0.53" fill="rgb(38,155,19)"/>
<circle cx="8.0" cy="42.4" r="0.68" fill="rgb(28,114,14)"/>
<circle cx="9.4" cy="40.6" r="0.41" fill="rgb(40,163,20)"/>
<circle cx="78.2" cy="1.3" r="0.60" fill="rgb(44,177,22)"/>
<circle cx="5.5" cy="26.2" r="0.52" fill="rgb(42,168,21)"/>
<circle cx="5.7" cy="55.2" r="0.64" fill="rgb(37,148,18)"/>
<circle cx="30.1" cy="30.4" r="0.47" fill="rgb(23,93,11)"/>
<circle cx="71.8" cy="1.5" r="0.54" fill="rgb(21,87,10)"/>
<circle cx="10.0" cy="40.8" r="0.66" fill="rgb(25,100,12)"/>
<circle cx="21.1" cy="48.8" r="0.52" fill="rgb(32,130,16)"/>
<circle cx="37.8" cy="42.3" r="0.54" fill="rgb(24,97,12)"/>
<circle cx="37.3" cy="30.2" r="0.54" fill="rgb(39,156,19)"/>
<circle cx="27.9" cy="64.2" r="0.65" fill="rgb(36,145,18)"/>
<circle cx="59.9" cy="12.7" r="0.40" fill="rgb(25,102,12)"/>
<circle cx="17.6" cy="57.1" r="0.66" fill="rgb(40,162,20)"/>
<circle cx="84.9" cy="46.0" r="0.45" fill="rgb(33,132,16)"/>
<circle cx="34.3" cy="48.5" r="0.55" fill="rgb(39,157,19)"/>
<circle cx="56.0" cy="45.0" r="0.65" fill="rgb(41,165,20)"/>
<circle cx="75.7" cy="13.6" r="0.60" fill="rgb(38,154,19)"/>
<circle cx="68.1" cy="13.6" r="0.41" fill="rgb(33,132,16)"/>
<circle cx="49.5" cy="63.3" r="0.53" fill="rgb(29,118,14)"/>
<circle cx="84.9" cy="51.5" r="0.55" fill="rgb(26,106,13)"/>
<circle cx="11.2" cy="24.5" r="0.55" fill="rgb(23,95,11)"/>
<circle cx="2.4" cy="50.7" r="0.69" fill="rgb(34,136,17)"/>
<circle cx="46.9" cy="10.9" r="0.61" fill="rgb(26,107,13)"/>
<circle cx="56.3" cy="58.5" r="0.68" fill="rgb(37,148,18)"/>
<circle cx="44.4" cy="16.5" r="0.41" fill="rgb(21,85,10)"/>
<circle cx="43.6" cy="16.4" r="0.44" fill="rgb(39,159,19)"/>
<circle cx="64.8" cy="35.2" r="0.62" fill="rgb(41,167,20)"/>
<circle cx="54.4" cy="33.4" r="0.58" fill="rgb(24,99,12)"/>
<circle cx="40.2" cy="46.4" r="0.58" fill="rgb(34,137,17)"/>
<circle cx="23.3" cy="56.8" r="0.55" fill="rgb(38,154,19)"/>
<circle cx="50.5" cy="18.6" r="0.50" fill="rgb(37,148,18)"/>
<circle cx="50.6" cy="42.6" r="0.54" fill="rgb(40,160,20)"/>
<circle cx="66.7" cy="1.3" r="0.62" fill="rgb(38,155,19)"/>
<circle cx="48.8" cy="17.7" r="0.50" fill="rgb(28,113,14)"/>
<circle cx="37.1" cy="46.8" r="0.66" fill="rgb(22,88,11)"/>
<circle cx="71.8" cy="40.2" r="0.60" fill="rgb(37,150,18)"/>
<circle cx="80.2" cy="5.0" r="0.65" fill="rgb(31,126,15)"/>
<circle cx="48.8" cy="64.5" r="0.49" fill="rgb(38,154,19)"/>
<circle cx="50.2" cy="22.8" r="0.65" fill="rgb(45,183,22)"/>
<circle cx="15.7" cy="59.3" r="0.55" fill="rgb(42,171,21)"/>
<circle cx="49.0" cy="16.6" r="0.61" fill="rgb(34,137,17)"/>
<circle cx="44.4" cy="41.5" r="0.67" fill="rgb(31,124,15)"/>
<circle cx="42.3" cy="25.5" r="0.63" fill="rgb(44,176,22)"/>
<circle cx="8.5" cy="35.0" r="0.48" fill="rgb(44,177,22)"/>
<circle cx="57.0" cy="11.0" r="0.64" fill="rgb(30,123,15)"/>
<circle cx="13.0" cy="29.8" r="0.66" fill="rgb(45,182,22)"/>
<circle cx="56.4" cy="42.5" r="0.45" fill="rgb(45,182,22)"/>
<circle cx="35.0" cy="51.5" r="0.46" fill="rgb(24,96,12)"/>
<circle cx="66.3" cy="60.6" r="0.42" fill="rgb(44,179,22)"/>
<circle cx="80.6" cy="14.7" r="0.60" fill="rgb(25,101,12)"/>
<circle cx="38.6" cy="19.1" r="0.58" fill="rgb(23,95,11)"/>
<circle cx="47.2" cy="35.3" r="0.45" fill="rgb(37,150,18)"/>
<circle cx="41.6" cy="61.7" r="0.61" fill="rgb(33,133,16)"/>
<ellipse cx="72.8" cy="30.9" rx="0.96" ry="0.61" transform="rotate(15 72.8 30.9)" fill="#3ed818"/>
<ellipse cx="39.8" cy="44.8" rx="0.79" ry="0.70" transform="rotate(52 39.8 44.8)" fill="#3ed818"/>
<ellipse cx="43.2" cy="30.8" rx="1.09" ry="0.70" transform="rotate(45 43.2 30.8)" fill="#3ed818"/>
<ellipse cx="55.8" cy="23.8" rx="0.84" ry="0.54" transform="rotate(165 55.8 23.8)" fill="#3ed818"/>
<ellipse cx="38.9" cy="38.0" rx="0.80" ry="0.70" transform="rotate(19 38.9 38.0)" fill="#3ed818"/>
<ellipse cx="61.4" cy="4.3" rx="0.91" ry="0.64" transform="rotate(171 61.4 4.3)" fill="#3ed818"/>
<ellipse cx="38.6" cy="55.2" rx="0.71" ry="0.48" transform="rotate(178 38.6 55.2)" fill="#3ed818"/>
<ellipse cx="32.5" cy="2.5" rx="0.80" ry="0.57" transform="rotate(95 32.5 2.5)" fill="#3ed818"/>
<ellipse cx="33.6" cy="20.0" rx="0.89" ry="0.66" transform="rotate(33 33.6 20.0)" fill="#3ed818"/>
<ellipse cx="45.6" cy="37.9" rx="0.93" ry="0.76" transform="rotate(82 45.6 37.9)" fill="#3ed818"/>
<ellipse cx="18.7" cy="62.0" rx="0.75" ry="0.52" transform="rotate(75 18.7 62.0)" fill="#3ed818"/>
<ellipse cx="36.3" cy="13.9" rx="1.04" ry="0.72" transform="rotate(98 36.3 13.9)" fill="#3ed818"/>
<ellipse cx="53.6" cy="8.6" rx="0.87" ry="0.56" transform="rotate(98 53.6 8.6)" fill="#3ed818"/>
<ellipse cx="64.3" cy="56.2" rx="1.08" ry="0.68" transform="rotate(83 64.3 56.2)" fill="#3ed818"/>
<ellipse cx="58.6" cy="24.6" rx="1.08" ry="0.81" transform="rotate(157 58.6 24.6)" fill="#3ed818"/>
<ellipse cx="5.9" cy="25.6" rx="0.98" ry="0.83" transform="rotate(89 5.9 25.6)" fill="#3ed818"/>
<ellipse cx="75.5" cy="50.0" rx="0.87" ry="0.70" transform="rotate(93 75.5 50.0)" fill="#3ed818"/>
<ellipse cx="9.9" cy="59.1" rx="1.04" ry="0.90" transform="rotate(42 9.9 59.1)" fill="#3ed818"/>
<ellipse cx="68.4" cy="2.5" rx="0.90" ry="0.62" transform="rotate(91 68.4 2.5)" fill="#3ed818"/>
<ellipse cx="33.7" cy="36.2" rx="0.87" ry="0.72" transform="rotate(118 33.7 36.2)" fill="#3ed818"/>
<ellipse cx="24.5" cy="13.0" rx="0.80" ry="0.55" transform="rotate(76 24.5 13.0)" fill="#3ed818"/>
<ellipse cx="44.4" cy="50.3" rx="1.09" ry="0.74" transform="rotate(53 44.4 50.3)" fill="#3ed818"/>
<ellipse cx="45.6" cy="0.5" rx="0.95" ry="0.58" transform="rotate(107 45.6 0.5)" fill="#3ed818"/>
<ellipse cx="51.7" cy="25.2" rx="1.10" ry="0.76" transform="rotate(3 51.7 25.2)" fill="#3ed818"/>
<ellipse cx="9.4" cy="15.8" rx="1.00" ry="0.82" transform="rotate(64 9.4 15.8)" fill="#3ed818"/>
<ellipse cx="77.7" cy="10.7" rx="0.79" ry="0.61" transform="rotate(96 77.7 10.7)" fill="#3ed818"/>
<ellipse cx="69.6" cy="20.3" rx="1.06" ry="0.84" transform="rotate(124 69.6 20.3)" fill="#3ed818"/>
<ellipse cx="50.5" cy="13.9" rx="0.93" ry="0.82" transform="rotate(3 50.5 13.9)" fill="#3ed818"/>
<ellipse cx="29.1" cy="20.3" rx="0.80" ry="0.67" transform="rotate(117 29.1 20.3)" fill="#3ed818"/>
<ellipse cx="11.8" cy="46.3" rx="1.05" ry="0.65" transform="rotate(3 11.8 46.3)" fill="#3ed818"/>
<ellipse cx="52.9" cy="57.9" rx="0.92" ry="0.69" transform="rotate(73 52.9 57.9)" fill="#3ed818"/>
<ellipse cx="49.9" cy="60.0" rx="0.94" ry="0.77" transform="rotate(84 49.9 60.0)" fill="#3ed818"/>
<ellipse cx="77.8" cy="50.6" rx="0.90" ry="0.62" transform="rotate(54 77.8 50.6)" fill="#3ed818"/>
<ellipse cx="86.2" cy="42.1" rx="0.73" ry="0.55" transform="rotate(77 86.2 42.1)" fill="#3ed818"/>
<ellipse cx="52.7" cy="18.6" rx="1.06" ry="0.79" transform="rotate(149 52.7 18.6)" fill="#3ed818"/>
<ellipse cx="22.9" cy="58.4" rx="0.92" ry="0.70" transform="rotate(78 22.9 58.4)" fill="#3ed818"/>
<ellipse cx="82.9" cy="37.0" rx="0.91" ry="0.65" transform="rotate(82 82.9 37.0)" fill="#3ed818"/>
<ellipse cx="23.8" cy="29.3" rx="0.81" ry="0.50" transform="rotate(66 23.8 29.3)" fill="#3ed818"/>
<ellipse cx="2.4" cy="43.7" rx="0.74" ry="0.64" transform="rotate(57 2.4 43.7)" fill="#3ed818"/>
<ellipse cx="23.9" cy="36.1" rx="0.82" ry="0.67" transform="rotate(55 23.9 36.1)" fill="#3ed818"/>
<ellipse cx="81.1" cy="2.7" rx="0.72" ry="0.62" transform="rotate(124 81.1 2.7)" fill="#3ed818"/>
<ellipse cx="23.2" cy="42.3" rx="0.84" ry="0.64" transform="rotate(49 23.2 42.3)" fill="#3ed818"/>
<ellipse cx="47.5" cy="42.7" rx="1.04" ry="0.70" transform="rotate(103 47.5 42.7)" fill="#3ed818"/>
<ellipse cx="49.9" cy="57.5" rx="0.89" ry="0.77" transform="rotate(166 49.9 57.5)" fill="#3ed818"/>
<ellipse cx="35.9" cy="26.7" rx="1.09" ry="0.84" transform="rotate(96 35.9 26.7)" fill="#3ed818"/>
<ellipse cx="68.4" cy="39.7" rx="0.91" ry="0.72" transform="rotate(47 68.4 39.7)" fill="#3ed818"/>
<ellipse cx="33.3" cy="0.6" rx="0.99" ry="0.84" transform="rotate(132 33.3 0.6)" fill="#3ed818"/>
<ellipse cx="85.5" cy="49.7" rx="0.74" ry="0.52" transform="rotate(166 85.5 49.7)" fill="#3ed818"/>
<ellipse cx="9.5" cy="57.7" rx="1.02" ry="0.66" transform="rotate(38 9.5 57.7)" fill="#3ed818"/>
<ellipse cx="64.4" cy="42.9" rx="0.71" ry="0.54" transform="rotate(34 64.4 42.9)" fill="#3ed818"/>
<ellipse cx="75.5" cy="35.2" rx="0.71" ry="0.51" transform="rotate(2 75.5 35.2)" fill="#3ed818"/>
<ellipse cx="79.7" cy="58.3" rx="0.99" ry="0.59" transform="rotate(169 79.7 58.3)" fill="#3ed818"/>
<ellipse cx="23.2" cy="42.8" rx="1.01" ry="0.77" transform="rotate(21 23.2 42.8)" fill="#3ed818"/>
<ellipse cx="21.6" cy="48.1" rx="0.75" ry="0.53" transform="rotate(168 21.6 48.1)" fill="#3ed818"/>
<ellipse cx="36.0" cy="10.0" rx="0.96" ry="0.68" transform="rotate(142 36.0 10.0)" fill="#3ed818"/>
<ellipse cx="32.1" cy="54.5" rx="1.03" ry="0.67" transform="rotate(98 32.1 54.5)" fill="#3ed818"/>
<ellipse cx="39.2" cy="8.1" rx="1.07" ry="0.75" transform="rotate(110 39.2 8.1)" fill="#3ed818"/>
<ellipse cx="5.3" cy="62.5" rx="1.09" ry="0.88" transform="rotate(24 5.3 62.5)" fill="#3ed818"/>
<ellipse cx="58.3" cy="30.8" rx="0.89" ry="0.59" transform="rotate(27 58.3 30.8)" fill="#3ed818"/>
<ellipse cx="74.3" cy="39.7" rx="1.00" ry="0.82" transform="rotate(72 74.3 39.7)" fill="#3ed818"/>
<ellipse cx="48.4" cy="19.9" rx="0.96" ry="0.70" transform="rotate(141 48.4 19.9)" fill="#3ed818"/>
<ellipse cx="25.7" cy="25.1" rx="0.73" ry="0.45" transform="rotate(39 25.7 25.1)" fill="#3ed818"/>
<ellipse cx="1.5" cy="27.9" rx="0.85" ry="0.74" transform="rotate(8 1.5 27.9)" fill="#3ed818"/>
<ellipse cx="86.7" cy="6.2" rx="1.03" ry="0.73" transform="rotate(44 86.7 6.2)" fill="#3ed818"/>
<ellipse cx="53.7" cy="23.4" rx="0.71" ry="0.45" transform="rotate(122 53.7 23.4)" fill="#3ed818"/>
<ellipse cx="2.7" cy="8.0" rx="1.94" ry="2.70" fill="#185f0a"/>
<ellipse cx="15.1" cy="5.7" rx="1.73" ry="1.51" fill="#185f0a"/>
<ellipse cx="18.1" cy="3.6" rx="1.30" ry="1.30" fill="#185f0a"/>
<ellipse cx="18.1" cy="14.5" rx="1.94" ry="1.30" fill="#185f0a"/>
<ellipse cx="31.9" cy="14.5" rx="1.51" ry="1.51" fill="#185f0a"/>
<ellipse cx="37.5" cy="15.6" rx="1.94" ry="2.37" fill="#185f0a"/>
<ellipse cx="40.7" cy="3.9" rx="1.51" ry="1.51" fill="#185f0a"/>
<ellipse cx="51.3" cy="15.1" rx="1.73" ry="1.30" fill="#185f0a"/>
<ellipse cx="57.5" cy="19.8" rx="1.73" ry="1.30" fill="#185f0a"/>
<ellipse cx="61.1" cy="21.6" rx="1.73" ry="1.51" fill="#185f0a"/>
<ellipse cx="67.2" cy="14.2" rx="1.94" ry="1.51" fill="#185f0a"/>
<ellipse cx="55.2" cy="27.4" rx="1.51" ry="1.30" fill="#185f0a"/>
<ellipse cx="36.8" cy="27.4" rx="1.51" ry="1.51" fill="#185f0a"/>
<ellipse cx="34.5" cy="32.8" rx="3.24" ry="2.70" transform="rotate(-45 34.5 32.8)" fill="#185f0a"/>
<ellipse cx="25.7" cy="36.3" rx="2.37" ry="2.37" fill="#185f0a"/>
<ellipse cx="10.3" cy="36.3" rx="2.37" ry="2.70" fill="#185f0a"/>
<ellipse cx="31.9" cy="40.7" rx="1.73" ry="2.37" fill="#185f0a"/>
<ellipse cx="32.8" cy="45.1" rx="2.37" ry="1.51" fill="#185f0a"/>
<ellipse cx="28.7" cy="47.8" rx="1.73" ry="1.73" fill="#185f0a"/>
<ellipse cx="40.7" cy="47.8" rx="1.94" ry="3.78" fill="#185f0a"/>
<ellipse cx="14.5" cy="45.1" rx="1.73" ry="1.30" fill="#185f0a"/>
<ellipse cx="6.2" cy="56.6" rx="2.16" ry="1.94" fill="#185f0a"/>
<ellipse cx="11.5" cy="56.3" rx="1.51" ry="1.51" fill="#185f0a"/>
<ellipse cx="1.8" cy="61.1" rx="1.30" ry="1.30" fill="#185f0a"/>
<ellipse cx="47.8" cy="59.3" rx="2.70" ry="3.24" fill="#185f0a"/>
<ellipse cx="54.9" cy="33.6" rx="1.51" ry="1.51" fill="#185f0a"/>
<ellipse cx="64.1" cy="37.2" rx="1.51" ry="1.30" fill="#185f0a"/>
<ellipse cx="69.0" cy="46.0" rx="1.51" ry="1.73" fill="#185f0a"/>
<ellipse cx="61.1" cy="47.4" rx="1.51" ry="1.30" fill="#185f0a"/>
<ellipse cx="65.1" cy="54.0" rx="1.51" ry="1.51" fill="#185f0a"/>
<ellipse cx="61.6" cy="59.3" rx="1.30" ry="1.51" fill="#185f0a"/>
<ellipse cx="85.8" cy="60.2" rx="1.51" ry="1.51" fill="#185f0a"/>
<ellipse cx="86.4" cy="12.0" rx="1.08" ry="1.08" fill="#185f0a"/>
<polygon points="4.3,8.1 3.9,10.2 2.3,10.0 1.4,8.6 1.2,7.7 2.5,6.9 3.1,6.6" fill="#66ff22"/>
<polygon points="14.9,5.0 15.7,4.9 16.0,5.5 15.7,6.5 14.5,6.7 14.4,5.8 13.8,5.1" fill="#66ff22"/>
<ellipse cx="18.1" cy="3.6" rx="0.96" ry="0.96" fill="#66ff22"/>
<polygon points="17.3,14.1 18.8,13.2 19.0,14.2 19.8,14.8 18.5,15.7 17.4,14.9 16.3,14.9" fill="#66ff22"/>
<polygon points="33.0,15.5 31.9,15.2 31.2,15.2 31.3,14.4 31.6,13.8 32.1,13.9 33.4,13.8" fill="#66ff22"/>
<polygon points="39.2,14.2 39.1,16.3 37.8,17.5 36.8,16.5 35.9,15.9 37.0,15.0 37.9,13.1" fill="#66ff22"/>
<polygon points="41.8,4.5 40.9,5.3 39.8,5.1 39.2,4.0 40.4,3.3 40.8,2.4 41.9,3.3" fill="#66ff22"/>
<polygon points="50.2,15.6 50.5,14.7 51.2,14.0 52.3,14.2 52.7,15.0 52.3,16.1 51.2,15.5" fill="#66ff22"/>
<polygon points="56.1,20.5 56.3,19.9 56.9,19.1 57.8,19.1 59.0,19.4 58.7,20.6 57.9,21.1" fill="#66ff22"/>
<polygon points="60.4,22.5 59.2,21.8 60.0,20.2 61.7,20.1 62.2,21.2 62.6,22.7 61.2,22.7" fill="#66ff22"/>
<polygon points="68.2,15.4 67.1,14.8 65.1,14.4 65.4,13.5 67.2,13.6 67.9,13.8 69.1,14.6" fill="#66ff22"/>
<polygon points="54.2,26.4 55.8,26.7 55.8,27.2 56.3,28.0 55.0,28.9 53.9,28.1 54.7,27.5" fill="#66ff22"/>
<polygon points="37.5,26.9 37.5,27.5 37.1,28.2 36.6,28.1 35.5,27.9 35.9,26.7 37.0,26.3" fill="#66ff22"/>
<polygon points="34.5,36.0 33.3,34.3 33.5,33.0 32.9,30.6 34.8,31.2 36.0,32.0 35.8,33.0" fill="#66ff22"/>
<polygon points="25.6,37.3 24.7,37.1 24.5,36.1 24.0,34.4 26.2,34.1 27.9,36.0 27.5,38.3" fill="#66ff22"/>
<polygon points="9.7,35.1 11.0,33.5 11.8,36.0 11.1,37.0 10.5,37.7 8.7,37.0 8.7,36.1" fill="#66ff22"/>
<polygon points="30.3,41.6 30.2,39.7 31.7,39.7 33.2,39.1 33.4,40.8 33.4,42.2 31.2,42.9" fill="#66ff22"/>
<polygon points="31.4,44.3 32.8,44.2 34.1,44.0 34.8,45.5 33.6,46.7 31.5,46.5 30.7,45.6" fill="#66ff22"/>
<polygon points="28.1,48.0 27.0,47.8 28.1,46.3 29.0,47.0 30.6,47.5 29.7,48.3 28.6,48.6" fill="#66ff22"/>
<polygon points="41.4,49.9 40.1,49.2 39.3,49.0 39.9,46.9 40.6,44.7 41.5,46.0 42.1,48.4" fill="#66ff22"/>
<polygon points="14.2,45.6 13.8,45.0 14.1,44.7 15.0,44.3 15.6,44.6 15.9,45.6 14.6,45.8" fill="#66ff22"/>
<polygon points="5.6,57.1 4.0,55.7 5.6,55.6 6.9,55.3 8.2,56.1 7.1,57.8 6.3,57.8" fill="#66ff22"/>
<polygon points="12.8,56.2 12.3,56.9 11.1,57.6 9.9,56.9 11.0,56.1 11.5,55.0 12.0,55.8" fill="#66ff22"/>
<ellipse cx="1.8" cy="61.1" rx="0.96" ry="0.96" fill="#66ff22"/>
<polygon points="48.2,60.4 47.2,62.6 46.8,59.7 46.5,58.3 47.7,57.5 49.1,58.3 50.8,59.0" fill="#66ff22"/>
<polygon points="54.2,34.0 54.1,33.5 54.5,32.5 55.6,32.5 56.0,33.2 55.6,34.5 54.5,34.9" fill="#66ff22"/>
<polygon points="65.1,37.7 64.1,38.2 63.6,37.7 63.1,37.0 63.4,36.0 64.4,36.7 65.0,37.0" fill="#66ff22"/>
<polygon points="70.4,45.7 69.5,46.8 68.4,47.8 68.4,46.4 67.6,45.5 68.8,45.2 69.9,44.4" fill="#66ff22"/>
<polygon points="60.6,47.9 60.4,47.3 60.3,46.2 61.5,46.4 61.9,47.2 61.6,48.0 61.2,48.4" fill="#66ff22"/>
<polygon points="65.0,52.6 65.7,53.3 65.9,54.1 65.4,54.8 64.7,54.4 63.6,53.9 64.8,53.5" fill="#66ff22"/>
<polygon points="61.3,58.9 61.6,58.6 61.9,59.0 62.4,59.5 61.8,60.0 61.0,60.0 61.0,59.6" fill="#66ff22"/>
<polygon points="85.4,60.5 85.1,60.2 85.0,59.2 86.1,58.7 86.9,59.9 86.4,60.7 86.2,61.6" fill="#66ff22"/>
<ellipse cx="86.4" cy="12.0" rx="0.80" ry="0.80" fill="#66ff22"/>
<circle cx="14.5" cy="5.7" r="0.72" fill="rgb(221,15,15)"/>
<circle cx="33.3" cy="6.2" r="0.72" fill="rgb(231,16,16)"/>
<circle cx="36.3" cy="6.7" r="0.72" fill="rgb(244,17,17)"/>
<circle cx="39.3" cy="9.8" r="0.72" fill="rgb(239,17,17)"/>
<circle cx="4.4" cy="11.5" r="0.72" fill="rgb(236,16,16)"/>
<circle cx="5.0" cy="19.1" r="0.72" fill="rgb(248,17,17)"/>
<circle cx="15.1" cy="19.1" r="0.72" fill="rgb(232,16,16)"/>
<circle cx="14.5" cy="22.1" r="0.72" fill="rgb(241,17,17)"/>
<circle cx="35.4" cy="26.6" r="0.72" fill="rgb(231,16,16)"/>
<circle cx="49.2" cy="13.8" r="0.72" fill="rgb(227,16,16)"/>
<circle cx="75.7" cy="18.1" r="0.72" fill="rgb(242,17,17)"/>
<circle cx="81.4" cy="20.4" r="0.72" fill="rgb(231,16,16)"/>
<circle cx="10.6" cy="33.6" r="0.72" fill="rgb(243,17,17)"/>
<circle cx="53.4" cy="34.0" r="0.72" fill="rgb(233,16,16)"/>
<circle cx="58.8" cy="35.4" r="0.72" fill="rgb(249,17,17)"/>
<circle cx="62.8" cy="34.5" r="0.72" fill="rgb(247,17,17)"/>
<circle cx="72.6" cy="34.5" r="0.72" fill="rgb(237,16,16)"/>
<circle cx="53.1" cy="40.4" r="0.72" fill="rgb(241,17,17)"/>
<circle cx="69.0" cy="40.4" r="0.72" fill="rgb(229,16,16)"/>
<circle cx="77.5" cy="42.1" r="0.72" fill="rgb(239,17,17)"/>
<circle cx="86.7" cy="38.1" r="0.72" fill="rgb(225,16,16)"/>
<circle cx="39.3" cy="51.3" r="0.72" fill="rgb(246,17,17)"/>
<circle cx="61.6" cy="54.0" r="0.72" fill="rgb(220,15,15)"/>
<circle cx="77.5" cy="52.2" r="0.72" fill="rgb(254,18,18)"/>
<circle cx="15.9" cy="55.2" r="0.72" fill="rgb(234,16,16)"/>
<circle cx="25.7" cy="61.9" r="0.72" fill="rgb(245,17,17)"/>
<circle cx="60.2" cy="61.9" r="0.72" fill="rgb(241,17,17)"/>
<circle cx="76.1" cy="64.6" r="0.72" fill="rgb(217,15,15)"/>
<circle cx="66.4" cy="58.0" r="0.72" fill="rgb(223,15,15)"/>
<circle cx="48.7" cy="49.6" r="0.72" fill="rgb(242,17,17)"/>
</g></svg>
<text x="358.475" y="354.15" font-size="6.1" text-anchor="middle" font-weight="normal">APC+T cells+ALL+TTI-CD200</text>
<svg x="315.00" y="356.75" width="88.75" height="65.75" viewBox="0 0 88.75 65.75">
<rect width="88.75" height="65.75" fill="#000"/>
<g filter="url(#bl)">
<circle cx="36.2" cy="48.7" r="0.46" fill="rgb(43,174,21)"/>
<circle cx="2.8" cy="21.2" r="0.44" fill="rgb(31,126,15)"/>
<circle cx="46.4" cy="49.5" r="0.67" fill="rgb(26,106,13)"/>
<circle cx="9.0" cy="48.4" r="0.66" fill="rgb(31,126,15)"/>
<circle cx="31.2" cy="23.9" r="0.57" fill="rgb(43,174,21)"/>
<circle cx="58.4" cy="46.7" r="0.63" fill="rgb(34,138,17)"/>
<circle cx="86.1" cy="1.9" r="0.43" fill="rgb(43,174,21)"/>
<circle cx="13.5" cy="29.2" r="0.44" fill="rgb(26,107,13)"/>
<circle cx="74.9" cy="1.3" r="0.68" fill="rgb(37,151,18)"/>
<circle cx="81.6" cy="41.9" r="0.55" fill="rgb(28,113,14)"/>
<circle cx="10.7" cy="42.2" r="0.54" fill="rgb(43,173,21)"/>
<circle cx="51.6" cy="4.1" r="0.53" fill="rgb(32,131,16)"/>
<circle cx="74.9" cy="24.8" r="0.45" fill="rgb(22,90,11)"/>
<circle cx="83.3" cy="57.2" r="0.64" fill="rgb(34,136,17)"/>
<circle cx="74.9" cy="1.2" r="0.67" fill="rgb(46,185,23)"/>
<circle cx="84.5" cy="56.3" r="0.47" fill="rgb(43,172,21)"/>
<circle cx="73.0" cy="25.6" r="0.63" fill="rgb(44,179,22)"/>
<circle cx="55.1" cy="53.0" r="0.48" fill="rgb(42,168,21)"/>
<circle cx="78.8" cy="11.9" r="0.63" fill="rgb(42,170,21)"/>
<circle cx="4.7" cy="59.2" r="0.49" fill="rgb(44,179,22)"/>
<circle cx="68.8" cy="50.7" r="0.45" fill="rgb(23,92,11)"/>
<circle cx="18.7" cy="24.6" r="0.62" fill="rgb(31,126,15)"/>
<circle cx="78.2" cy="34.3" r="0.56" fill="rgb(28,112,14)"/>
<circle cx="11.8" cy="20.6" r="0.63" fill="rgb(30,122,15)"/>
<circle cx="10.4" cy="44.1" r="0.53" fill="rgb(26,105,13)"/>
<circle cx="87.8" cy="16.7" r="0.45" fill="rgb(27,109,13)"/>
<circle cx="56.9" cy="18.6" r="0.55" fill="rgb(37,150,18)"/>
<circle cx="64.1" cy="21.9" r="0.62" fill="rgb(42,169,21)"/>
<circle cx="71.1" cy="35.5" r="0.54" fill="rgb(24,99,12)"/>
<circle cx="84.4" cy="29.2" r="0.50" fill="rgb(40,161,20)"/>
<circle cx="45.8" cy="36.8" r="0.51" fill="rgb(38,155,19)"/>
<circle cx="76.9" cy="59.2" r="0.61" fill="rgb(45,181,22)"/>
<circle cx="46.7" cy="26.6" r="0.66" fill="rgb(24,99,12)"/>
<circle cx="68.3" cy="53.8" r="0.42" fill="rgb(39,158,19)"/>
<circle cx="29.5" cy="19.5" r="0.43" fill="rgb(33,135,16)"/>
<circle cx="33.3" cy="24.1" r="0.50" fill="rgb(34,137,17)"/>
<circle cx="13.3" cy="2.7" r="0.57" fill="rgb(42,171,21)"/>
<circle cx="20.7" cy="29.5" r="0.50" fill="rgb(32,131,16)"/>
<circle cx="4.6" cy="52.7" r="0.68" fill="rgb(28,114,14)"/>
<circle cx="55.8" cy="63.1" r="0.56" fill="rgb(26,106,13)"/>
<circle cx="46.3" cy="45.4" r="0.57" fill="rgb(33,132,16)"/>
<circle cx="69.9" cy="60.1" r="0.60" fill="rgb(21,87,10)"/>
<circle cx="3.5" cy="54.3" r="0.53" fill="rgb(22,91,11)"/>
<circle cx="34.1" cy="25.0" r="0.47" fill="rgb(25,101,12)"/>
<circle cx="54.6" cy="46.7" r="0.55" fill="rgb(29,117,14)"/>
<circle cx="5.3" cy="2.5" r="0.44" fill="rgb(23,95,11)"/>
<circle cx="9.3" cy="20.0" r="0.45" fill="rgb(43,175,21)"/>
<circle cx="75.5" cy="23.6" r="0.42" fill="rgb(36,146,18)"/>
<circle cx="13.7" cy="40.8" r="0.41" fill="rgb(40,160,20)"/>
<circle cx="43.0" cy="61.0" r="0.52" fill="rgb(39,157,19)"/>
<circle cx="45.3" cy="16.9" r="0.55" fill="rgb(45,182,22)"/>
<circle cx="56.5" cy="46.8" r="0.69" fill="rgb(33,135,16)"/>
<circle cx="85.3" cy="53.3" r="0.69" fill="rgb(43,172,21)"/>
<circle cx="17.6" cy="11.0" r="0.65" fill="rgb(32,129,16)"/>
<circle cx="38.7" cy="1.4" r="0.49" fill="rgb(45,180,22)"/>
<circle cx="19.5" cy="41.5" r="0.46" fill="rgb(41,165,20)"/>
<circle cx="73.4" cy="17.5" r="0.51" fill="rgb(31,127,15)"/>
<circle cx="49.9" cy="45.0" r="0.56" fill="rgb(44,176,22)"/>
<circle cx="18.0" cy="23.9" r="0.47" fill="rgb(26,104,13)"/>
<circle cx="69.1" cy="10.0" r="0.68" fill="rgb(34,137,17)"/>
<circle cx="35.2" cy="52.2" r="0.46" fill="rgb(32,131,16)"/>
<circle cx="58.4" cy="31.9" r="0.41" fill="rgb(40,163,20)"/>
<circle cx="23.3" cy="7.0" r="0.62" fill="rgb(41,164,20)"/>
<circle cx="2.2" cy="2.5" r="0.62" fill="rgb(30,123,15)"/>
<circle cx="57.9" cy="19.2" r="0.67" fill="rgb(31,125,15)"/>
<circle cx="34.3" cy="39.8" r="0.67" fill="rgb(25,101,12)"/>
<circle cx="66.5" cy="26.3" r="0.60" fill="rgb(29,117,14)"/>
<circle cx="15.6" cy="6.5" r="0.52" fill="rgb(23,93,11)"/>
<circle cx="36.3" cy="13.1" r="0.51" fill="rgb(32,129,16)"/>
<circle cx="56.0" cy="14.4" r="0.40" fill="rgb(26,107,13)"/>
<circle cx="46.7" cy="37.8" r="0.57" fill="rgb(27,109,13)"/>
<circle cx="88.3" cy="58.6" r="0.63" fill="rgb(24,98,12)"/>
<circle cx="2.5" cy="44.8" r="0.59" fill="rgb(35,140,17)"/>
<circle cx="2.0" cy="4.2" r="0.65" fill="rgb(38,152,19)"/>
<circle cx="23.9" cy="61.0" r="0.43" fill="rgb(27,110,13)"/>
<circle cx="78.6" cy="0.9" r="0.49" fill="rgb(31,126,15)"/>
<circle cx="81.8" cy="53.3" r="0.41" fill="rgb(27,109,13)"/>
<circle cx="85.7" cy="13.8" r="0.55" fill="rgb(43,172,21)"/>
<circle cx="65.2" cy="6.4" r="0.55" fill="rgb(24,97,12)"/>
<circle cx="67.5" cy="37.0" r="0.60" fill="rgb(35,142,17)"/>
<circle cx="32.4" cy="64.7" r="0.54" fill="rgb(45,180,22)"/>
<circle cx="87.7" cy="30.5" r="0.69" fill="rgb(44,179,22)"/>
<circle cx="80.2" cy="53.3" r="0.48" fill="rgb(46,184,23)"/>
<circle cx="88.4" cy="65.1" r="0.68" fill="rgb(41,167,20)"/>
<circle cx="76.1" cy="32.6" r="0.54" fill="rgb(45,181,22)"/>
<circle cx="50.2" cy="43.0" r="0.44" fill="rgb(29,116,14)"/>
<circle cx="27.3" cy="55.6" r="0.59" fill="rgb(21,85,10)"/>
<circle cx="76.0" cy="17.6" r="0.51" fill="rgb(26,106,13)"/>
<circle cx="33.9" cy="65.0" r="0.55" fill="rgb(43,172,21)"/>
<circle cx="60.8" cy="6.9" r="0.41" fill="rgb(26,107,13)"/>
<circle cx="18.8" cy="57.2" r="0.60" fill="rgb(23,94,11)"/>
<circle cx="50.1" cy="63.3" r="0.65" fill="rgb(41,165,20)"/>
<circle cx="68.7" cy="65.3" r="0.65" fill="rgb(30,120,15)"/>
<circle cx="85.7" cy="13.5" r="0.48" fill="rgb(26,107,13)"/>
<circle cx="20.5" cy="65.3" r="0.61" fill="rgb(38,155,19)"/>
<circle cx="85.9" cy="17.7" r="0.62" fill="rgb(29,117,14)"/>
<circle cx="45.2" cy="7.4" r="0.53" fill="rgb(35,140,17)"/>
<circle cx="52.6" cy="61.0" r="0.43" fill="rgb(27,111,13)"/>
<circle cx="18.2" cy="22.5" r="0.45" fill="rgb(38,155,19)"/>
<circle cx="36.9" cy="35.0" r="0.55" fill="rgb(22,90,11)"/>
<circle cx="82.6" cy="28.2" r="0.50" fill="rgb(28,114,14)"/>
<circle cx="88.5" cy="28.8" r="0.48" fill="rgb(30,123,15)"/>
<circle cx="12.7" cy="27.5" r="0.49" fill="rgb(35,141,17)"/>
<circle cx="61.4" cy="23.2" r="0.63" fill="rgb(28,114,14)"/>
<circle cx="20.5" cy="35.0" r="0.48" fill="rgb(38,152,19)"/>
<circle cx="75.3" cy="63.7" r="0.47" fill="rgb(38,155,19)"/>
<circle cx="57.3" cy="37.7" r="0.41" fill="rgb(21,85,10)"/>
<circle cx="25.5" cy="54.9" r="0.69" fill="rgb(36,145,18)"/>
<circle cx="20.9" cy="40.1" r="0.45" fill="rgb(42,171,21)"/>
<circle cx="61.6" cy="64.9" r="0.61" fill="rgb(43,175,21)"/>
<circle cx="25.9" cy="28.7" r="0.60" fill="rgb(41,167,20)"/>
<circle cx="85.1" cy="7.6" r="0.60" fill="rgb(42,170,21)"/>
<circle cx="25.5" cy="53.0" r="0.49" fill="rgb(41,167,20)"/>
<circle cx="33.2" cy="52.1" r="0.61" fill="rgb(38,154,19)"/>
<circle cx="57.6" cy="64.8" r="0.44" fill="rgb(43,175,21)"/>
<circle cx="73.1" cy="50.9" r="0.44" fill="rgb(42,168,21)"/>
<circle cx="63.9" cy="0.6" r="0.61" fill="rgb(26,106,13)"/>
<circle cx="31.9" cy="0.8" r="0.42" fill="rgb(24,99,12)"/>
<circle cx="3.8" cy="39.1" r="0.53" fill="rgb(28,112,14)"/>
<circle cx="18.6" cy="1.3" r="0.42" fill="rgb(26,105,13)"/>
<circle cx="22.8" cy="5.2" r="0.62" fill="rgb(27,110,13)"/>
<circle cx="12.8" cy="7.3" r="0.55" fill="rgb(22,88,11)"/>
<circle cx="28.0" cy="51.6" r="0.54" fill="rgb(28,113,14)"/>
<circle cx="60.6" cy="57.0" r="0.42" fill="rgb(35,143,17)"/>
<circle cx="10.8" cy="53.0" r="0.47" fill="rgb(46,184,23)"/>
<circle cx="59.2" cy="49.8" r="0.44" fill="rgb(33,134,16)"/>
<circle cx="18.2" cy="4.1" r="0.67" fill="rgb(43,173,21)"/>
<circle cx="30.7" cy="13.4" r="0.59" fill="rgb(36,147,18)"/>
<circle cx="24.2" cy="28.8" r="0.65" fill="rgb(40,160,20)"/>
<circle cx="16.1" cy="28.1" r="0.60" fill="rgb(22,91,11)"/>
<circle cx="54.8" cy="14.9" r="0.67" fill="rgb(36,145,18)"/>
<circle cx="19.5" cy="46.5" r="0.57" fill="rgb(42,168,21)"/>
<circle cx="65.4" cy="58.9" r="0.66" fill="rgb(28,114,14)"/>
<circle cx="23.7" cy="60.1" r="0.50" fill="rgb(32,131,16)"/>
<circle cx="66.3" cy="65.7" r="0.46" fill="rgb(28,114,14)"/>
<circle cx="58.5" cy="65.0" r="0.48" fill="rgb(34,136,17)"/>
<circle cx="25.6" cy="29.6" r="0.56" fill="rgb(33,134,16)"/>
<circle cx="57.1" cy="5.0" r="0.50" fill="rgb(27,108,13)"/>
<circle cx="69.8" cy="2.9" r="0.64" fill="rgb(45,182,22)"/>
<circle cx="32.4" cy="55.1" r="0.52" fill="rgb(32,130,16)"/>
<circle cx="16.0" cy="57.9" r="0.69" fill="rgb(33,135,16)"/>
<circle cx="71.6" cy="1.6" r="0.68" fill="rgb(21,86,10)"/>
<circle cx="53.3" cy="32.2" r="0.44" fill="rgb(26,105,13)"/>
<circle cx="86.0" cy="30.2" r="0.67" fill="rgb(36,145,18)"/>
<circle cx="64.7" cy="36.4" r="0.48" fill="rgb(36,146,18)"/>
<circle cx="48.3" cy="17.0" r="0.56" fill="rgb(29,119,14)"/>
<circle cx="14.3" cy="48.6" r="0.53" fill="rgb(24,96,12)"/>
<circle cx="40.1" cy="8.6" r="0.40" fill="rgb(43,175,21)"/>
<circle cx="69.6" cy="2.9" r="0.52" fill="rgb(30,121,15)"/>
<circle cx="30.3" cy="7.8" r="0.57" fill="rgb(38,154,19)"/>
<circle cx="62.3" cy="4.4" r="0.45" fill="rgb(30,122,15)"/>
<circle cx="71.8" cy="13.0" r="0.55" fill="rgb(24,98,12)"/>
<circle cx="78.3" cy="35.6" r="0.59" fill="rgb(41,167,20)"/>
<circle cx="85.5" cy="39.0" r="0.62" fill="rgb(27,110,13)"/>
<circle cx="44.0" cy="19.0" r="0.64" fill="rgb(36,147,18)"/>
<circle cx="23.3" cy="20.1" r="0.60" fill="rgb(22,90,11)"/>
<circle cx="59.9" cy="37.1" r="0.62" fill="rgb(25,102,12)"/>
<circle cx="43.5" cy="17.5" r="0.40" fill="rgb(32,130,16)"/>
<circle cx="79.5" cy="34.7" r="0.63" fill="rgb(22,88,11)"/>
<circle cx="6.1" cy="7.3" r="0.56" fill="rgb(33,132,16)"/>
<circle cx="80.9" cy="57.4" r="0.49" fill="rgb(35,141,17)"/>
<circle cx="72.1" cy="33.5" r="0.51" fill="rgb(25,101,12)"/>
<circle cx="5.5" cy="53.4" r="0.43" fill="rgb(45,180,22)"/>
<circle cx="8.0" cy="22.8" r="0.61" fill="rgb(26,107,13)"/>
<circle cx="48.3" cy="29.2" r="0.44" fill="rgb(36,145,18)"/>
<circle cx="67.9" cy="39.4" r="0.56" fill="rgb(26,105,13)"/>
<circle cx="38.1" cy="59.3" r="0.52" fill="rgb(43,172,21)"/>
<circle cx="32.6" cy="20.9" r="0.43" fill="rgb(42,170,21)"/>
<circle cx="70.4" cy="42.8" r="0.60" fill="rgb(36,145,18)"/>
<circle cx="0.5" cy="31.5" r="0.52" fill="rgb(43,173,21)"/>
<circle cx="30.4" cy="52.7" r="0.68" fill="rgb(37,149,18)"/>
<circle cx="86.0" cy="40.8" r="0.47" fill="rgb(27,110,13)"/>
<circle cx="27.9" cy="20.9" r="0.67" fill="rgb(29,119,14)"/>
<circle cx="31.1" cy="61.4" r="0.41" fill="rgb(39,157,19)"/>
<circle cx="2.6" cy="65.6" r="0.63" fill="rgb(37,148,18)"/>
<circle cx="25.6" cy="27.6" r="0.40" fill="rgb(38,155,19)"/>
<circle cx="76.9" cy="61.2" r="0.42" fill="rgb(34,136,17)"/>
<circle cx="5.6" cy="33.0" r="0.58" fill="rgb(41,166,20)"/>
<circle cx="86.8" cy="45.3" r="0.42" fill="rgb(32,131,16)"/>
<circle cx="36.6" cy="20.7" r="0.56" fill="rgb(40,161,20)"/>
<circle cx="47.8" cy="14.5" r="0.51" fill="rgb(25,103,12)"/>
<circle cx="32.5" cy="39.6" r="0.68" fill="rgb(39,159,19)"/>
<circle cx="24.1" cy="15.0" r="0.49" fill="rgb(44,179,22)"/>
<circle cx="49.3" cy="21.0" r="0.52" fill="rgb(27,110,13)"/>
<circle cx="5.4" cy="6.1" r="0.41" fill="rgb(38,155,19)"/>
<circle cx="0.3" cy="34.5" r="0.54" fill="rgb(28,112,14)"/>
<circle cx="50.1" cy="43.1" r="0.63" fill="rgb(45,180,22)"/>
<circle cx="24.7" cy="46.2" r="0.62" fill="rgb(26,105,13)"/>
<circle cx="2.2" cy="7.8" r="0.57" fill="rgb(29,117,14)"/>
<circle cx="29.0" cy="0.0" r="0.64" fill="rgb(32,130,16)"/>
<circle cx="69.8" cy="33.0" r="0.53" fill="rgb(38,155,19)"/>
<circle cx="8.7" cy="35.6" r="0.50" fill="rgb(35,143,17)"/>
<circle cx="31.1" cy="26.9" r="0.46" fill="rgb(43,175,21)"/>
<circle cx="28.6" cy="38.3" r="0.53" fill="rgb(42,169,21)"/>
<circle cx="32.9" cy="50.4" r="0.68" fill="rgb(36,146,18)"/>
<circle cx="4.4" cy="58.5" r="0.45" fill="rgb(39,156,19)"/>
<circle cx="56.6" cy="20.1" r="0.41" fill="rgb(21,87,10)"/>
<circle cx="19.7" cy="42.7" r="0.44" fill="rgb(31,127,15)"/>
<circle cx="34.4" cy="25.6" r="0.60" fill="rgb(23,93,11)"/>
<circle cx="50.1" cy="16.6" r="0.51" fill="rgb(28,112,14)"/>
<circle cx="2.1" cy="28.0" r="0.49" fill="rgb(34,138,17)"/>
<circle cx="87.6" cy="26.8" r="0.68" fill="rgb(24,96,12)"/>
<circle cx="46.2" cy="18.8" r="0.41" fill="rgb(38,155,19)"/>
<circle cx="84.1" cy="28.3" r="0.66" fill="rgb(35,143,17)"/>
<circle cx="1.6" cy="29.7" r="0.45" fill="rgb(40,161,20)"/>
<circle cx="62.5" cy="64.4" r="0.48" fill="rgb(22,90,11)"/>
<circle cx="18.0" cy="44.1" r="0.67" fill="rgb(34,138,17)"/>
<circle cx="60.9" cy="43.6" r="0.66" fill="rgb(38,154,19)"/>
<circle cx="21.7" cy="54.2" r="0.41" fill="rgb(26,104,13)"/>
<circle cx="60.7" cy="17.3" r="0.57" fill="rgb(35,142,17)"/>
<circle cx="81.2" cy="5.8" r="0.64" fill="rgb(44,178,22)"/>
<circle cx="78.3" cy="47.3" r="0.59" fill="rgb(35,140,17)"/>
<circle cx="53.0" cy="31.2" r="0.44" fill="rgb(35,141,17)"/>
<circle cx="1.7" cy="12.6" r="0.56" fill="rgb(35,143,17)"/>
<circle cx="38.6" cy="33.9" r="0.60" fill="rgb(43,175,21)"/>
<circle cx="1.4" cy="33.9" r="0.47" fill="rgb(42,168,21)"/>
<circle cx="0.0" cy="7.9" r="0.45" fill="rgb(23,95,11)"/>
<circle cx="23.7" cy="59.6" r="0.63" fill="rgb(34,139,17)"/>
<circle cx="39.1" cy="57.4" r="0.64" fill="rgb(32,131,16)"/>
<circle cx="43.5" cy="27.5" r="0.57" fill="rgb(38,152,19)"/>
<circle cx="11.0" cy="9.7" r="0.69" fill="rgb(30,122,15)"/>
<circle cx="10.2" cy="19.7" r="0.47" fill="rgb(29,117,14)"/>
<circle cx="86.1" cy="38.2" r="0.70" fill="rgb(21,86,10)"/>
<circle cx="58.5" cy="16.3" r="0.67" fill="rgb(26,106,13)"/>
<circle cx="0.3" cy="63.6" r="0.52" fill="rgb(42,168,21)"/>
<circle cx="5.4" cy="25.0" r="0.63" fill="rgb(42,169,21)"/>
<circle cx="35.5" cy="5.6" r="0.50" fill="rgb(41,167,20)"/>
<circle cx="15.5" cy="46.0" r="0.59" fill="rgb(25,101,12)"/>
<circle cx="56.5" cy="3.6" r="0.69" fill="rgb(37,150,18)"/>
<circle cx="61.5" cy="3.7" r="0.59" fill="rgb(39,157,19)"/>
<circle cx="73.0" cy="50.8" r="0.50" fill="rgb(26,106,13)"/>
<circle cx="4.6" cy="34.2" r="0.57" fill="rgb(34,136,17)"/>
<circle cx="59.1" cy="64.2" r="0.47" fill="rgb(37,151,18)"/>
<circle cx="23.0" cy="34.2" r="0.44" fill="rgb(25,100,12)"/>
<circle cx="30.3" cy="59.7" r="0.46" fill="rgb(22,90,11)"/>
<circle cx="46.9" cy="15.6" r="0.64" fill="rgb(33,134,16)"/>
<circle cx="48.6" cy="17.9" r="0.49" fill="rgb(29,119,14)"/>
<circle cx="9.0" cy="45.7" r="0.56" fill="rgb(28,112,14)"/>
<circle cx="86.3" cy="16.6" r="0.50" fill="rgb(35,143,17)"/>
<circle cx="80.6" cy="12.7" r="0.42" fill="rgb(30,122,15)"/>
<circle cx="23.9" cy="4.7" r="0.55" fill="rgb(30,121,15)"/>
<circle cx="25.8" cy="11.1" r="0.45" fill="rgb(37,148,18)"/>
<circle cx="80.2" cy="6.3" r="0.51" fill="rgb(39,159,19)"/>
<circle cx="22.9" cy="46.7" r="0.56" fill="rgb(34,138,17)"/>
<circle cx="65.4" cy="17.8" r="0.68" fill="rgb(44,178,22)"/>
<circle cx="49.8" cy="45.6" r="0.69" fill="rgb(39,156,19)"/>
<circle cx="49.2" cy="52.1" r="0.42" fill="rgb(22,90,11)"/>
<circle cx="3.5" cy="33.1" r="0.53" fill="rgb(36,145,18)"/>
<circle cx="41.8" cy="58.9" r="0.63" fill="rgb(45,183,22)"/>
<circle cx="86.2" cy="9.0" r="0.47" fill="rgb(35,143,17)"/>
<circle cx="2.9" cy="52.2" r="0.46" fill="rgb(25,100,12)"/>
<circle cx="25.0" cy="16.8" r="0.41" fill="rgb(43,172,21)"/>
<circle cx="19.4" cy="13.4" r="0.60" fill="rgb(42,169,21)"/>
<circle cx="27.4" cy="7.0" r="0.56" fill="rgb(42,171,21)"/>
<circle cx="59.9" cy="55.6" r="0.58" fill="rgb(41,166,20)"/>
<circle cx="2.6" cy="52.3" r="0.45" fill="rgb(32,129,16)"/>
<circle cx="34.0" cy="64.7" r="0.65" fill="rgb(32,130,16)"/>
<circle cx="74.8" cy="10.3" r="0.65" fill="rgb(22,88,11)"/>
<circle cx="17.8" cy="60.0" r="0.67" fill="rgb(23,93,11)"/>
<circle cx="8.2" cy="11.1" r="0.62" fill="rgb(26,107,13)"/>
<circle cx="42.6" cy="4.4" r="0.51" fill="rgb(34,136,17)"/>
<circle cx="69.1" cy="53.8" r="0.42" fill="rgb(41,165,20)"/>
<circle cx="36.6" cy="28.0" r="0.58" fill="rgb(28,115,14)"/>
<circle cx="63.9" cy="14.6" r="0.68" fill="rgb(45,180,22)"/>
<circle cx="88.3" cy="61.9" r="0.52" fill="rgb(31,124,15)"/>
<circle cx="1.3" cy="35.4" r="0.54" fill="rgb(42,169,21)"/>
<circle cx="77.6" cy="63.0" r="0.45" fill="rgb(38,153,19)"/>
<circle cx="76.2" cy="27.2" r="0.68" fill="rgb(39,156,19)"/>
<circle cx="8.0" cy="3.4" r="0.55" fill="rgb(22,91,11)"/>
<circle cx="51.8" cy="59.8" r="0.50" fill="rgb(46,185,23)"/>
<circle cx="52.6" cy="6.2" r="0.70" fill="rgb(27,111,13)"/>
<circle cx="50.0" cy="41.1" r="0.59" fill="rgb(33,134,16)"/>
<circle cx="87.3" cy="61.5" r="0.46" fill="rgb(44,176,22)"/>
<circle cx="42.0" cy="11.2" r="0.56" fill="rgb(25,102,12)"/>
<circle cx="74.3" cy="2.0" r="0.65" fill="rgb(41,165,20)"/>
<circle cx="37.7" cy="62.6" r="0.55" fill="rgb(23,92,11)"/>
<circle cx="68.5" cy="64.8" r="0.63" fill="rgb(43,174,21)"/>
<circle cx="26.5" cy="42.0" r="0.59" fill="rgb(38,154,19)"/>
<circle cx="80.9" cy="52.9" r="0.51" fill="rgb(43,174,21)"/>
<circle cx="67.7" cy="42.5" r="0.68" fill="rgb(27,110,13)"/>
<circle cx="71.1" cy="7.2" r="0.62" fill="rgb(37,149,18)"/>
<circle cx="69.3" cy="49.7" r="0.46" fill="rgb(25,102,12)"/>
<circle cx="0.9" cy="57.2" r="0.50" fill="rgb(36,144,18)"/>
<circle cx="53.3" cy="25.3" r="0.62" fill="rgb(33,134,16)"/>
<circle cx="30.0" cy="50.8" r="0.51" fill="rgb(37,150,18)"/>
<circle cx="43.9" cy="29.6" r="0.56" fill="rgb(34,139,17)"/>
<circle cx="81.5" cy="63.7" r="0.63" fill="rgb(22,88,11)"/>
<circle cx="82.6" cy="25.4" r="0.48" fill="rgb(41,165,20)"/>
<circle cx="33.8" cy="44.2" r="0.45" fill="rgb(32,129,16)"/>
<circle cx="41.5" cy="25.4" r="0.58" fill="rgb(29,117,14)"/>
<circle cx="82.2" cy="31.0" r="0.65" fill="rgb(41,166,20)"/>
<circle cx="67.1" cy="26.3" r="0.65" fill="rgb(38,154,19)"/>
<circle cx="21.2" cy="43.7" r="0.42" fill="rgb(45,180,22)"/>
<circle cx="33.0" cy="56.0" r="0.55" fill="rgb(31,124,15)"/>
<circle cx="75.9" cy="18.8" r="0.42" fill="rgb(35,142,17)"/>
<circle cx="41.0" cy="31.5" r="0.65" fill="rgb(37,149,18)"/>
<circle cx="16.5" cy="65.2" r="0.46" fill="rgb(22,90,11)"/>
<circle cx="76.4" cy="35.6" r="0.46" fill="rgb(22,90,11)"/>
<circle cx="88.2" cy="63.8" r="0.70" fill="rgb(32,129,16)"/>
<circle cx="27.5" cy="64.4" r="0.58" fill="rgb(33,133,16)"/>
<ellipse cx="18.2" cy="18.3" rx="0.99" ry="0.65" transform="rotate(63 18.2 18.3)" fill="#3ed818"/>
<ellipse cx="0.5" cy="21.1" rx="0.82" ry="0.52" transform="rotate(17 0.5 21.1)" fill="#3ed818"/>
<ellipse cx="36.1" cy="5.4" rx="1.07" ry="0.73" transform="rotate(66 36.1 5.4)" fill="#3ed818"/>
<ellipse cx="5.7" cy="53.4" rx="0.78" ry="0.48" transform="rotate(67 5.7 53.4)" fill="#3ed818"/>
<ellipse cx="81.0" cy="60.4" rx="0.89" ry="0.69" transform="rotate(13 81.0 60.4)" fill="#3ed818"/>
<ellipse cx="80.1" cy="49.6" rx="0.80" ry="0.68" transform="rotate(29 80.1 49.6)" fill="#3ed818"/>
<ellipse cx="42.8" cy="18.8" rx="0.93" ry="0.63" transform="rotate(98 42.8 18.8)" fill="#3ed818"/>
<ellipse cx="22.7" cy="1.0" rx="0.75" ry="0.62" transform="rotate(81 22.7 1.0)" fill="#3ed818"/>
<ellipse cx="45.5" cy="43.4" rx="0.80" ry="0.53" transform="rotate(73 45.5 43.4)" fill="#3ed818"/>
<ellipse cx="66.7" cy="48.1" rx="0.88" ry="0.69" transform="rotate(46 66.7 48.1)" fill="#3ed818"/>
<ellipse cx="84.1" cy="42.1" rx="1.02" ry="0.73" transform="rotate(104 84.1 42.1)" fill="#3ed818"/>
<ellipse cx="63.0" cy="35.0" rx="1.00" ry="0.68" transform="rotate(141 63.0 35.0)" fill="#3ed818"/>
<ellipse cx="28.2" cy="33.9" rx="0.76" ry="0.55" transform="rotate(160 28.2 33.9)" fill="#3ed818"/>
<ellipse cx="2.7" cy="12.4" rx="0.92" ry="0.73" transform="rotate(124 2.7 12.4)" fill="#3ed818"/>
<ellipse cx="60.9" cy="47.3" rx="0.94" ry="0.61" transform="rotate(98 60.9 47.3)" fill="#3ed818"/>
<ellipse cx="24.9" cy="0.4" rx="0.90" ry="0.81" transform="rotate(84 24.9 0.4)" fill="#3ed818"/>
<ellipse cx="67.5" cy="41.0" rx="0.71" ry="0.55" transform="rotate(178 67.5 41.0)" fill="#3ed818"/>
<ellipse cx="58.0" cy="19.6" rx="1.06" ry="0.85" transform="rotate(168 58.0 19.6)" fill="#3ed818"/>
<ellipse cx="75.3" cy="38.4" rx="0.89" ry="0.67" transform="rotate(57 75.3 38.4)" fill="#3ed818"/>
<ellipse cx="75.7" cy="8.4" rx="1.10" ry="0.77" transform="rotate(79 75.7 8.4)" fill="#3ed818"/>
<ellipse cx="54.0" cy="20.5" rx="0.94" ry="0.58" transform="rotate(157 54.0 20.5)" fill="#3ed818"/>
<ellipse cx="9.3" cy="57.4" rx="1.04" ry="0.87" transform="rotate(135 9.3 57.4)" fill="#3ed818"/>
<ellipse cx="16.6" cy="37.3" rx="0.72" ry="0.60" transform="rotate(142 16.6 37.3)" fill="#3ed818"/>
<ellipse cx="18.7" cy="29.1" rx="0.74" ry="0.59" transform="rotate(126 18.7 29.1)" fill="#3ed818"/>
<ellipse cx="5.3" cy="40.3" rx="1.05" ry="0.69" transform="rotate(163 5.3 40.3)" fill="#3ed818"/>
<ellipse cx="24.2" cy="1.1" rx="0.73" ry="0.61" transform="rotate(35 24.2 1.1)" fill="#3ed818"/>
<ellipse cx="76.3" cy="28.6" rx="0.73" ry="0.62" transform="rotate(59 76.3 28.6)" fill="#3ed818"/>
<ellipse cx="11.7" cy="0.3" rx="0.82" ry="0.61" transform="rotate(89 11.7 0.3)" fill="#3ed818"/>
<ellipse cx="51.7" cy="5.3" rx="0.70" ry="0.61" transform="rotate(76 51.7 5.3)" fill="#3ed818"/>
<ellipse cx="64.2" cy="58.8" rx="0.94" ry="0.77" transform="rotate(40 64.2 58.8)" fill="#3ed818"/>
<ellipse cx="18.8" cy="33.7" rx="1.09" ry="0.98" transform="rotate(42 18.8 33.7)" fill="#3ed818"/>
<ellipse cx="56.3" cy="19.1" rx="0.84" ry="0.58" transform="rotate(179 56.3 19.1)" fill="#3ed818"/>
<ellipse cx="34.0" cy="30.5" rx="0.73" ry="0.63" transform="rotate(15 34.0 30.5)" fill="#3ed818"/>
<ellipse cx="73.6" cy="15.8" rx="0.79" ry="0.49" transform="rotate(64 73.6 15.8)" fill="#3ed818"/>
<ellipse cx="84.8" cy="23.8" rx="0.83" ry="0.69" transform="rotate(41 84.8 23.8)" fill="#3ed818"/>
<ellipse cx="15.7" cy="2.1" rx="3.24" ry="1.51" transform="rotate(20 15.7 2.1)" fill="#185f0a"/>
<ellipse cx="18.9" cy="10.3" rx="4.32" ry="1.30" transform="rotate(-50 18.9 10.3)" fill="#185f0a"/>
<ellipse cx="31.6" cy="12.4" rx="1.94" ry="2.37" fill="#185f0a"/>
<ellipse cx="44.4" cy="18.6" rx="1.51" ry="3.24" fill="#185f0a"/>
<ellipse cx="59.0" cy="11.5" rx="3.78" ry="1.08" transform="rotate(-55 59.0 11.5)" fill="#185f0a"/>
<ellipse cx="66.1" cy="22.1" rx="1.94" ry="1.94" fill="#185f0a"/>
<ellipse cx="76.7" cy="27.4" rx="2.70" ry="1.51" transform="rotate(30 76.7 27.4)" fill="#185f0a"/>
<ellipse cx="85.6" cy="6.2" rx="1.51" ry="1.94" fill="#185f0a"/>
<ellipse cx="86.5" cy="10.6" rx="2.16" ry="1.08" transform="rotate(-40 86.5 10.6)" fill="#185f0a"/>
<ellipse cx="31.6" cy="26.9" rx="1.94" ry="3.02" fill="#185f0a"/>
<ellipse cx="30.7" cy="32.8" rx="2.37" ry="1.73" fill="#185f0a"/>
<ellipse cx="26.0" cy="34.5" rx="2.16" ry="1.08" transform="rotate(-30 26.0 34.5)" fill="#185f0a"/>
<ellipse cx="16.6" cy="33.6" rx="2.37" ry="1.94" fill="#185f0a"/>
<ellipse cx="12.2" cy="36.3" rx="2.16" ry="1.51" fill="#185f0a"/>
<ellipse cx="51.1" cy="28.7" rx="1.73" ry="2.70" fill="#185f0a"/>
<ellipse cx="59.0" cy="30.1" rx="3.24" ry="1.73" fill="#185f0a"/>
<ellipse cx="61.7" cy="33.3" rx="1.94" ry="2.37" fill="#185f0a"/>
<ellipse cx="60.3" cy="38.1" rx="2.16" ry="1.73" fill="#185f0a"/>
<ellipse cx="72.3" cy="36.3" rx="1.94" ry="2.37" fill="#185f0a"/>
<ellipse cx="69.7" cy="45.1" rx="2.70" ry="1.73" transform="rotate(-20 69.7 45.1)" fill="#185f0a"/>
<ellipse cx="39.0" cy="44.6" rx="3.02" ry="2.37" fill="#185f0a"/>
<ellipse cx="44.9" cy="42.8" rx="2.37" ry="1.94" fill="#185f0a"/>
<ellipse cx="24.5" cy="47.4" rx="2.70" ry="1.73" transform="rotate(30 24.5 47.4)" fill="#185f0a"/>
<ellipse cx="14.8" cy="54.5" rx="3.24" ry="1.51" transform="rotate(-70 14.8 54.5)" fill="#185f0a"/>
<ellipse cx="29.0" cy="60.5" rx="3.02" ry="1.51" transform="rotate(-25 29.0 60.5)" fill="#185f0a"/>
<ellipse cx="53.2" cy="50.4" rx="2.37" ry="1.51" transform="rotate(-40 53.2 50.4)" fill="#185f0a"/>
<ellipse cx="68.8" cy="61.9" rx="1.51" ry="2.37" fill="#185f0a"/>
<ellipse cx="88.2" cy="54.5" rx="1.08" ry="1.30" fill="#185f0a"/>
<ellipse cx="45.8" cy="31.0" rx="1.08" ry="1.08" fill="#185f0a"/>
<ellipse cx="37.8" cy="24.8" rx="0.86" ry="1.51" fill="#185f0a"/>
<polygon points="14.7,1.2 15.4,0.8 17.1,2.0 18.1,3.6 16.2,3.0 15.3,2.5 13.4,1.8" fill="#66ff22"/>
<polygon points="21.5,7.5 20.6,9.6 19.8,11.3 16.7,14.0 16.1,13.1 17.7,10.5 19.8,8.0" fill="#66ff22"/>
<polygon points="32.0,14.3 30.8,13.5 29.7,12.7 30.2,10.6 32.0,10.8 32.8,11.9 33.3,14.0" fill="#66ff22"/>
<polygon points="45.2,20.9 44.1,20.8 43.1,20.3 43.2,18.4 44.0,16.3 44.9,17.1 45.1,18.5" fill="#66ff22"/>
<polygon points="58.3,12.1 58.5,11.0 60.2,8.9 61.6,8.3 60.0,11.2 59.0,13.0 57.0,14.3" fill="#66ff22"/>
<polygon points="65.3,23.1 64.2,22.8 65.2,20.9 66.3,21.3 67.3,21.6 67.0,22.4 66.4,23.1" fill="#66ff22"/>
<polygon points="78.4,27.3 79.0,28.6 77.1,28.7 75.7,27.7 75.9,27.1 75.9,26.7 76.7,26.2" fill="#66ff22"/>
<polygon points="84.7,5.7 84.8,4.6 86.4,4.9 86.3,6.1 86.7,7.5 85.3,7.5 84.9,6.7" fill="#66ff22"/>
<polygon points="86.8,9.7 87.4,9.7 87.3,10.3 86.5,11.1 85.8,11.8 85.6,11.1 85.6,10.5" fill="#66ff22"/>
<polygon points="31.2,28.0 30.7,26.5 30.9,24.8 31.8,25.7 32.9,25.9 32.5,28.2 31.8,28.0" fill="#66ff22"/>
<polygon points="28.7,32.5 29.9,31.8 30.6,31.8 31.9,32.2 32.0,33.0 31.6,33.9 29.4,33.9" fill="#66ff22"/>
<polygon points="26.4,33.6 26.8,34.1 26.5,34.7 26.2,35.0 24.7,36.1 24.1,34.8 25.3,33.9" fill="#66ff22"/>
<polygon points="18.1,32.5 17.8,33.6 17.0,34.2 16.0,35.8 14.3,34.2 15.5,33.3 15.9,31.5" fill="#66ff22"/>
<polygon points="14.4,36.2 12.5,36.8 11.6,37.1 11.1,36.6 10.4,35.4 12.2,35.4 13.4,35.1" fill="#66ff22"/>
<polygon points="52.9,27.8 51.9,29.3 51.3,31.6 50.5,29.4 49.5,28.6 50.4,26.6 51.3,27.3" fill="#66ff22"/>
<polygon points="60.5,29.7 60.5,30.3 60.3,31.2 58.4,30.9 56.0,30.4 57.0,28.6 59.7,28.2" fill="#66ff22"/>
<polygon points="60.9,33.3 61.0,32.2 62.1,31.9 62.4,32.8 63.1,33.5 62.7,35.4 61.1,35.1" fill="#66ff22"/>
<polygon points="60.9,38.6 60.3,39.4 59.4,39.2 57.9,38.0 59.7,37.1 60.8,36.7 62.0,37.5" fill="#66ff22"/>
<polygon points="73.7,36.9 72.8,38.0 70.6,37.5 70.3,36.1 71.2,34.9 73.2,34.0 73.6,35.4" fill="#66ff22"/>
<polygon points="70.2,44.1 70.6,44.8 70.5,45.4 69.3,46.5 68.1,46.6 68.4,45.1 69.2,44.3" fill="#66ff22"/>
<polygon points="37.9,46.3 37.9,45.2 37.2,43.6 38.5,43.3 40.0,43.4 40.7,44.7 40.2,46.6" fill="#66ff22"/>
<polygon points="45.8,42.3 47.2,43.3 45.0,43.5 44.0,43.8 43.1,42.5 44.3,41.8 45.1,41.3" fill="#66ff22"/>
<polygon points="22.9,47.9 22.0,46.6 24.0,46.7 26.2,46.3 25.8,47.8 26.1,49.4 24.2,49.0" fill="#66ff22"/>
<polygon points="13.7,55.6 14.2,54.6 14.6,52.5 15.8,52.0 15.6,54.4 15.1,55.4 14.3,57.5" fill="#66ff22"/>
<polygon points="27.8,60.6 28.7,59.4 31.3,58.7 31.7,59.4 30.3,60.8 28.5,61.4 27.3,61.5" fill="#66ff22"/>
<polygon points="51.7,51.2 52.2,50.2 53.3,49.1 53.9,49.6 54.0,50.3 53.6,52.0 52.5,52.1" fill="#66ff22"/>
<polygon points="70.2,62.7 69.0,63.0 68.3,63.4 67.7,62.2 68.0,60.8 68.5,59.3 69.7,61.3" fill="#66ff22"/>
<ellipse cx="88.2" cy="54.5" rx="0.80" ry="0.96" fill="#66ff22"/>
<ellipse cx="45.8" cy="31.0" rx="0.80" ry="0.80" fill="#66ff22"/>
<polygon points="38.3,24.9 38.1,25.5 37.6,25.6 37.4,25.1 37.1,24.1 37.6,23.7 38.3,23.9" fill="#66ff22"/>
<circle cx="20.6" cy="3.2" r="0.72" fill="rgb(249,17,17)"/>
<circle cx="35.2" cy="5.0" r="0.72" fill="rgb(235,16,16)"/>
<circle cx="1.5" cy="11.5" r="0.72" fill="rgb(217,15,15)"/>
<circle cx="15.3" cy="12.0" r="0.72" fill="rgb(244,17,17)"/>
<circle cx="39.6" cy="23.0" r="0.72" fill="rgb(241,17,17)"/>
<circle cx="23.7" cy="26.2" r="0.72" fill="rgb(252,18,18)"/>
<circle cx="1.9" cy="40.7" r="0.72" fill="rgb(221,15,15)"/>
<circle cx="70.2" cy="39.3" r="0.72" fill="rgb(255,18,18)"/>
<circle cx="40.8" cy="49.6" r="0.72" fill="rgb(236,16,16)"/>
<circle cx="51.1" cy="49.6" r="0.72" fill="rgb(252,18,18)"/>
<circle cx="23.1" cy="49.6" r="0.72" fill="rgb(246,17,17)"/>
<circle cx="33.7" cy="46.9" r="0.72" fill="rgb(245,17,17)"/>
<circle cx="43.6" cy="57.5" r="0.72" fill="rgb(237,16,16)"/>
<circle cx="66.6" cy="59.3" r="0.72" fill="rgb(226,16,16)"/>
<circle cx="78.5" cy="64.1" r="0.72" fill="rgb(227,16,16)"/>
</g></svg>
<text x="449.625" y="354.15" font-size="6.1" text-anchor="middle" font-weight="normal">APC+T cells+ALL+Vincristine</text>
<svg x="406.75" y="356.75" width="87.75" height="65.75" viewBox="0 0 87.75 65.75">
<rect width="87.75" height="65.75" fill="#000"/>
<g filter="url(#bl)">
<circle cx="33.1" cy="41.4" r="0.81" fill="rgb(210,15,15)"/>
<circle cx="78.3" cy="64.6" r="0.70" fill="rgb(169,12,12)"/>
<circle cx="77.4" cy="17.5" r="0.56" fill="rgb(214,15,15)"/>
<circle cx="37.1" cy="34.5" r="0.99" fill="rgb(217,15,15)"/>
<circle cx="40.4" cy="5.6" r="0.92" fill="rgb(246,17,17)"/>
<circle cx="32.3" cy="60.8" r="0.90" fill="rgb(188,13,13)"/>
<circle cx="33.1" cy="57.4" r="0.98" fill="rgb(154,11,11)"/>
<circle cx="77.8" cy="33.8" r="0.50" fill="rgb(225,16,16)"/>
<circle cx="1.3" cy="38.7" r="0.74" fill="rgb(249,17,17)"/>
<circle cx="83.3" cy="20.6" r="0.87" fill="rgb(175,12,12)"/>
<circle cx="32.0" cy="10.3" r="0.73" fill="rgb(197,14,14)"/>
<circle cx="77.0" cy="37.0" r="0.71" fill="rgb(246,17,17)"/>
<circle cx="51.9" cy="39.1" r="0.48" fill="rgb(239,17,17)"/>
<circle cx="48.2" cy="29.5" r="0.89" fill="rgb(224,16,16)"/>
<circle cx="29.6" cy="63.3" r="0.49" fill="rgb(225,16,16)"/>
<circle cx="56.6" cy="32.5" r="1.02" fill="rgb(209,14,14)"/>
<circle cx="8.3" cy="41.9" r="0.59" fill="rgb(220,15,15)"/>
<circle cx="4.3" cy="31.0" r="0.49" fill="rgb(232,16,16)"/>
<circle cx="18.8" cy="25.9" r="0.99" fill="rgb(143,10,10)"/>
<circle cx="19.7" cy="15.0" r="0.52" fill="rgb(200,14,14)"/>
<circle cx="38.4" cy="8.3" r="0.53" fill="rgb(192,13,13)"/>
<circle cx="22.3" cy="47.1" r="0.82" fill="rgb(201,14,14)"/>
<circle cx="9.3" cy="55.3" r="0.62" fill="rgb(174,12,12)"/>
<circle cx="36.2" cy="14.2" r="0.72" fill="rgb(158,11,11)"/>
<circle cx="67.5" cy="24.9" r="0.63" fill="rgb(141,10,10)"/>
<circle cx="32.4" cy="0.6" r="0.85" fill="rgb(235,16,16)"/>
<circle cx="16.0" cy="61.2" r="0.95" fill="rgb(205,14,14)"/>
<circle cx="43.4" cy="28.7" r="0.61" fill="rgb(195,13,13)"/>
<circle cx="51.7" cy="6.3" r="0.49" fill="rgb(146,10,10)"/>
<circle cx="13.6" cy="56.3" r="0.73" fill="rgb(186,13,13)"/>
<circle cx="55.3" cy="21.2" r="0.87" fill="rgb(160,11,11)"/>
<circle cx="75.3" cy="19.4" r="0.81" fill="rgb(141,10,10)"/>
<circle cx="39.2" cy="51.3" r="0.53" fill="rgb(144,10,10)"/>
<circle cx="85.7" cy="14.1" r="0.79" fill="rgb(206,14,14)"/>
<circle cx="23.6" cy="33.8" r="0.78" fill="rgb(192,13,13)"/>
<circle cx="49.3" cy="35.5" r="0.81" fill="rgb(230,16,16)"/>
<circle cx="22.3" cy="28.7" r="0.86" fill="rgb(183,13,13)"/>
<circle cx="59.1" cy="58.2" r="0.93" fill="rgb(232,16,16)"/>
<circle cx="22.6" cy="23.5" r="1.00" fill="rgb(154,11,11)"/>
<circle cx="41.3" cy="17.8" r="0.67" fill="rgb(251,17,17)"/>
<circle cx="44.9" cy="61.4" r="0.56" fill="rgb(178,12,12)"/>
<circle cx="20.8" cy="54.3" r="0.75" fill="rgb(166,11,11)"/>
<circle cx="31.0" cy="8.1" r="0.64" fill="rgb(212,15,15)"/>
<circle cx="48.2" cy="55.2" r="0.80" fill="rgb(213,15,15)"/>
<circle cx="33.6" cy="17.0" r="1.01" fill="rgb(148,10,10)"/>
<circle cx="72.4" cy="10.7" r="0.82" fill="rgb(235,16,16)"/>
<circle cx="49.4" cy="50.1" r="0.83" fill="rgb(175,12,12)"/>
<circle cx="44.8" cy="19.5" r="0.63" fill="rgb(251,17,17)"/>
<circle cx="52.4" cy="22.3" r="0.99" fill="rgb(215,15,15)"/>
<circle cx="58.5" cy="52.0" r="0.68" fill="rgb(236,16,16)"/>
<circle cx="70.1" cy="50.6" r="0.47" fill="rgb(204,14,14)"/>
<circle cx="11.2" cy="18.0" r="0.88" fill="rgb(147,10,10)"/>
<circle cx="58.4" cy="41.7" r="0.70" fill="rgb(183,13,13)"/>
<circle cx="78.0" cy="29.0" r="0.96" fill="rgb(160,11,11)"/>
<circle cx="5.7" cy="5.3" r="0.90" fill="rgb(227,16,16)"/>
<circle cx="4.7" cy="35.3" r="1.02" fill="rgb(187,13,13)"/>
<circle cx="28.6" cy="2.9" r="0.91" fill="rgb(144,10,10)"/>
<circle cx="79.3" cy="4.7" r="0.95" fill="rgb(142,10,10)"/>
<circle cx="30.7" cy="50.7" r="0.58" fill="rgb(202,14,14)"/>
<circle cx="59.8" cy="14.7" r="0.56" fill="rgb(187,13,13)"/>
<circle cx="84.0" cy="29.5" r="0.55" fill="rgb(218,15,15)"/>
<circle cx="71.9" cy="27.8" r="0.50" fill="rgb(237,16,16)"/>
<circle cx="56.6" cy="62.4" r="1.03" fill="rgb(224,16,16)"/>
<circle cx="51.7" cy="63.1" r="0.88" fill="rgb(184,13,13)"/>
<circle cx="52.7" cy="17.5" r="0.59" fill="rgb(146,10,10)"/>
<circle cx="12.5" cy="36.3" r="0.94" fill="rgb(173,12,12)"/>
<circle cx="14.8" cy="23.2" r="0.57" fill="rgb(225,16,16)"/>
<circle cx="83.7" cy="12.3" r="0.90" fill="rgb(171,12,12)"/>
<circle cx="18.3" cy="43.9" r="0.97" fill="rgb(234,16,16)"/>
<circle cx="36.5" cy="64.9" r="0.52" fill="rgb(157,11,11)"/>
<circle cx="80.2" cy="13.1" r="0.67" fill="rgb(177,12,12)"/>
<circle cx="32.7" cy="31.2" r="0.70" fill="rgb(215,15,15)"/>
<circle cx="41.3" cy="38.8" r="0.64" fill="rgb(234,16,16)"/>
<circle cx="60.4" cy="10.2" r="0.82" fill="rgb(216,15,15)"/>
<circle cx="56.8" cy="53.8" r="0.74" fill="rgb(155,11,11)"/>
<circle cx="36.2" cy="18.0" r="0.47" fill="rgb(218,15,15)"/>
<circle cx="22.4" cy="39.8" r="0.74" fill="rgb(170,12,12)"/>
<circle cx="10.9" cy="14.2" r="0.66" fill="rgb(237,16,16)"/>
<circle cx="26.6" cy="45.1" r="0.91" fill="rgb(164,11,11)"/>
<circle cx="64.9" cy="35.7" r="0.53" fill="rgb(201,14,14)"/>
<circle cx="5.7" cy="65.0" r="0.66" fill="rgb(175,12,12)"/>
<circle cx="40.5" cy="54.8" r="0.74" fill="rgb(168,12,12)"/>
<circle cx="21.9" cy="18.4" r="0.73" fill="rgb(227,16,16)"/>
<circle cx="12.9" cy="25.6" r="0.69" fill="rgb(217,15,15)"/>
<circle cx="60.0" cy="36.2" r="0.48" fill="rgb(255,18,18)"/>
<circle cx="28.5" cy="8.8" r="0.62" fill="rgb(223,15,15)"/>
<circle cx="24.1" cy="50.3" r="0.49" fill="rgb(158,11,11)"/>
<circle cx="15.8" cy="64.7" r="1.00" fill="rgb(183,13,13)"/>
<circle cx="0.7" cy="53.9" r="0.88" fill="rgb(173,12,12)"/>
<circle cx="4.2" cy="43.8" r="0.52" fill="rgb(236,16,16)"/>
<circle cx="51.0" cy="1.6" r="0.73" fill="rgb(223,15,15)"/>
<circle cx="65.6" cy="54.9" r="0.70" fill="rgb(240,17,17)"/>
<circle cx="3.8" cy="18.7" r="0.96" fill="rgb(158,11,11)"/>
<circle cx="73.4" cy="13.2" r="0.54" fill="rgb(196,14,14)"/>
<circle cx="13.0" cy="52.6" r="0.63" fill="rgb(140,10,10)"/>
<circle cx="86.4" cy="64.5" r="0.79" fill="rgb(163,11,11)"/>
<circle cx="17.3" cy="9.1" r="0.92" fill="rgb(193,13,13)"/>
<circle cx="1.4" cy="8.2" r="1.03" fill="rgb(192,13,13)"/>
<circle cx="66.0" cy="12.2" r="0.67" fill="rgb(228,16,16)"/>
<circle cx="34.9" cy="36.0" r="0.60" fill="rgb(220,15,15)"/>
<circle cx="14.2" cy="4.2" r="0.84" fill="rgb(217,15,15)"/>
<circle cx="17.1" cy="19.9" r="0.75" fill="rgb(188,13,13)"/>
<circle cx="3.7" cy="63.6" r="0.86" fill="rgb(199,14,14)"/>
<circle cx="80.3" cy="62.5" r="0.83" fill="rgb(194,13,13)"/>
<circle cx="24.5" cy="37.9" r="0.69" fill="rgb(157,11,11)"/>
<circle cx="86.5" cy="32.9" r="0.96" fill="rgb(149,10,10)"/>
<circle cx="58.7" cy="6.7" r="0.86" fill="rgb(186,13,13)"/>
<circle cx="34.8" cy="43.0" r="0.73" fill="rgb(148,10,10)"/>
<circle cx="18.3" cy="63.3" r="0.95" fill="rgb(178,12,12)"/>
<circle cx="68.0" cy="20.7" r="0.88" fill="rgb(225,16,16)"/>
<circle cx="61.4" cy="47.9" r="0.71" fill="rgb(186,13,13)"/>
<circle cx="29.9" cy="38.3" r="0.86" fill="rgb(194,13,13)"/>
<circle cx="39.3" cy="31.1" r="1.00" fill="rgb(216,15,15)"/>
<circle cx="11.4" cy="34.1" r="0.79" fill="rgb(193,13,13)"/>
<circle cx="18.4" cy="60.7" r="0.54" fill="rgb(223,15,15)"/>
<circle cx="18.4" cy="29.5" r="0.54" fill="rgb(214,15,15)"/>
<circle cx="7.4" cy="15.5" r="0.83" fill="rgb(210,15,15)"/>
<circle cx="61.7" cy="23.1" r="0.66" fill="rgb(192,13,13)"/>
<circle cx="26.8" cy="32.5" r="0.51" fill="rgb(253,18,18)"/>
<circle cx="29.5" cy="19.7" r="0.74" fill="rgb(216,15,15)"/>
<circle cx="85.9" cy="40.8" r="0.94" fill="rgb(244,17,17)"/>
<circle cx="31.9" cy="24.2" r="1.02" fill="rgb(235,16,16)"/>
<circle cx="24.6" cy="6.7" r="0.93" fill="rgb(192,13,13)"/>
<circle cx="41.5" cy="35.1" r="0.52" fill="rgb(251,17,17)"/>
<circle cx="69.5" cy="5.6" r="0.55" fill="rgb(198,14,14)"/>
<circle cx="3.1" cy="59.3" r="0.80" fill="rgb(215,15,15)"/>
<circle cx="31.8" cy="47.4" r="0.64" fill="rgb(237,16,16)"/>
<circle cx="15.9" cy="51.0" r="0.59" fill="rgb(212,15,15)"/>
<circle cx="38.7" cy="14.1" r="0.86" fill="rgb(245,17,17)"/>
<circle cx="78.5" cy="20.6" r="0.45" fill="rgb(183,13,13)"/>
<circle cx="28.0" cy="22.5" r="0.82" fill="rgb(155,11,11)"/>
<circle cx="83.8" cy="1.6" r="0.90" fill="rgb(194,13,13)"/>
<circle cx="32.0" cy="36.0" r="0.50" fill="rgb(177,12,12)"/>
<circle cx="63.1" cy="28.2" r="0.97" fill="rgb(232,16,16)"/>
<circle cx="13.5" cy="59.5" r="0.91" fill="rgb(195,13,13)"/>
<circle cx="66.1" cy="50.9" r="1.05" fill="rgb(222,15,15)"/>
<circle cx="76.5" cy="26.5" r="0.98" fill="rgb(203,14,14)"/>
<circle cx="16.0" cy="36.1" r="0.68" fill="rgb(172,12,12)"/>
<circle cx="56.7" cy="16.4" r="0.71" fill="rgb(179,12,12)"/>
<circle cx="74.9" cy="64.1" r="0.89" fill="rgb(155,11,11)"/>
<circle cx="57.7" cy="35.3" r="0.64" fill="rgb(253,18,18)"/>
<circle cx="45.2" cy="10.3" r="0.64" fill="rgb(175,12,12)"/>
<circle cx="85.0" cy="54.2" r="0.62" fill="rgb(168,12,12)"/>
<circle cx="16.9" cy="41.0" r="0.79" fill="rgb(252,18,18)"/>
<circle cx="69.1" cy="60.8" r="0.73" fill="rgb(203,14,14)"/>
<circle cx="1.6" cy="51.0" r="0.52" fill="rgb(188,13,13)"/>
<circle cx="62.1" cy="45.7" r="0.99" fill="rgb(239,17,17)"/>
<circle cx="15.3" cy="31.5" r="0.48" fill="rgb(191,13,13)"/>
<circle cx="15.3" cy="17.5" r="0.63" fill="rgb(159,11,11)"/>
<circle cx="14.1" cy="14.2" r="0.66" fill="rgb(196,14,14)"/>
<circle cx="9.3" cy="27.2" r="0.54" fill="rgb(193,13,13)"/>
<circle cx="15.9" cy="26.6" r="0.72" fill="rgb(194,13,13)"/>
<circle cx="6.7" cy="19.7" r="0.54" fill="rgb(240,17,17)"/>
<circle cx="4.4" cy="48.4" r="0.96" fill="rgb(168,12,12)"/>
<circle cx="11.1" cy="30.9" r="0.83" fill="rgb(171,12,12)"/>
<circle cx="12.3" cy="44.7" r="0.62" fill="rgb(186,13,13)"/>
<circle cx="85.0" cy="46.1" r="0.94" fill="rgb(165,11,11)"/>
<circle cx="7.9" cy="13.1" r="0.79" fill="rgb(193,13,13)"/>
<circle cx="7.7" cy="49.9" r="0.48" fill="rgb(220,15,15)"/>
<circle cx="37.4" cy="27.6" r="1.04" fill="rgb(189,13,13)"/>
<circle cx="31.0" cy="42.8" r="0.67" fill="rgb(164,11,11)"/>
<circle cx="42.4" cy="46.2" r="0.52" fill="rgb(210,15,15)"/>
<circle cx="24.6" cy="20.8" r="1.04" fill="rgb(252,18,18)"/>
<circle cx="5.8" cy="59.0" r="0.87" fill="rgb(190,13,13)"/>
<circle cx="60.0" cy="60.7" r="0.56" fill="rgb(157,11,11)"/>
<circle cx="48.6" cy="20.9" r="0.7" fill="#2fae14"/>
<circle cx="11.0" cy="31.2" r="0.7" fill="#2fae14"/>
<circle cx="71.4" cy="32.0" r="0.7" fill="#2fae14"/>
</g></svg>
<text x="85.625" y="428.65" font-size="6.1" text-anchor="middle" font-weight="normal">APC+T cells</text>
<svg x="41.25" y="431.25" width="88.75" height="65.85" viewBox="0 0 88.75 65.85">
<rect width="88.75" height="65.85" fill="#000"/>
<g filter="url(#bl)">
<circle cx="21.4" cy="49.8" r="0.57" fill="rgb(23,92,11)"/>
<circle cx="11.3" cy="46.1" r="0.41" fill="rgb(37,150,18)"/>
<circle cx="77.3" cy="28.6" r="0.53" fill="rgb(39,157,19)"/>
<circle cx="30.8" cy="42.0" r="0.43" fill="rgb(34,137,17)"/>
<circle cx="48.7" cy="6.7" r="0.66" fill="rgb(24,98,12)"/>
<circle cx="23.5" cy="59.0" r="0.48" fill="rgb(40,160,20)"/>
<circle cx="18.2" cy="5.7" r="0.68" fill="rgb(24,98,12)"/>
<circle cx="33.5" cy="4.7" r="0.46" fill="rgb(43,174,21)"/>
<circle cx="62.2" cy="12.6" r="0.41" fill="rgb(40,161,20)"/>
<circle cx="82.3" cy="27.0" r="0.55" fill="rgb(35,141,17)"/>
<circle cx="55.8" cy="13.8" r="0.56" fill="rgb(31,125,15)"/>
<circle cx="48.3" cy="57.4" r="0.68" fill="rgb(42,169,21)"/>
<circle cx="45.6" cy="47.7" r="0.46" fill="rgb(28,112,14)"/>
<circle cx="45.4" cy="17.2" r="0.46" fill="rgb(27,111,13)"/>
<circle cx="34.5" cy="26.7" r="0.66" fill="rgb(31,125,15)"/>
<circle cx="75.6" cy="47.2" r="0.51" fill="rgb(28,114,14)"/>
<circle cx="74.2" cy="54.9" r="0.56" fill="rgb(34,136,17)"/>
<circle cx="5.2" cy="38.9" r="0.57" fill="rgb(26,107,13)"/>
<circle cx="77.3" cy="15.1" r="0.70" fill="rgb(30,123,15)"/>
<circle cx="51.5" cy="63.3" r="0.65" fill="rgb(33,133,16)"/>
<circle cx="46.1" cy="48.6" r="0.46" fill="rgb(30,122,15)"/>
<circle cx="14.8" cy="33.5" r="0.47" fill="rgb(36,144,18)"/>
<circle cx="64.9" cy="35.3" r="0.41" fill="rgb(25,103,12)"/>
<circle cx="4.7" cy="2.0" r="0.62" fill="rgb(35,141,17)"/>
<circle cx="37.3" cy="53.0" r="0.49" fill="rgb(34,139,17)"/>
<circle cx="33.7" cy="60.9" r="0.45" fill="rgb(45,182,22)"/>
<circle cx="9.9" cy="31.6" r="0.46" fill="rgb(26,104,13)"/>
<circle cx="83.1" cy="26.6" r="0.43" fill="rgb(29,116,14)"/>
<circle cx="24.3" cy="23.9" r="0.70" fill="rgb(29,118,14)"/>
<circle cx="28.1" cy="37.9" r="0.44" fill="rgb(40,162,20)"/>
<circle cx="44.8" cy="42.7" r="0.65" fill="rgb(21,87,10)"/>
<circle cx="6.2" cy="19.0" r="0.42" fill="rgb(27,109,13)"/>
<circle cx="6.5" cy="57.6" r="0.64" fill="rgb(22,90,11)"/>
<circle cx="13.1" cy="7.0" r="0.53" fill="rgb(40,163,20)"/>
<circle cx="40.0" cy="30.5" r="0.61" fill="rgb(45,181,22)"/>
<circle cx="6.5" cy="27.4" r="0.52" fill="rgb(23,93,11)"/>
<circle cx="54.3" cy="25.9" r="0.64" fill="rgb(28,112,14)"/>
<circle cx="30.7" cy="5.8" r="0.43" fill="rgb(22,88,11)"/>
<circle cx="25.6" cy="28.0" r="0.44" fill="rgb(37,149,18)"/>
<circle cx="45.2" cy="52.1" r="0.44" fill="rgb(36,147,18)"/>
<ellipse cx="66.0" cy="38.7" rx="1.01" ry="0.86" transform="rotate(45 66.0 38.7)" fill="#3ed818"/>
<ellipse cx="46.5" cy="22.7" rx="0.88" ry="0.78" transform="rotate(157 46.5 22.7)" fill="#3ed818"/>
<ellipse cx="63.9" cy="53.8" rx="1.00" ry="0.75" transform="rotate(83 63.9 53.8)" fill="#3ed818"/>
<ellipse cx="23.2" cy="29.8" rx="0.76" ry="0.67" transform="rotate(34 23.2 29.8)" fill="#3ed818"/>
<ellipse cx="66.4" cy="55.9" rx="0.74" ry="0.49" transform="rotate(157 66.4 55.9)" fill="#3ed818"/>
<ellipse cx="15.6" cy="0.9" rx="1.51" ry="1.51" fill="#185f0a"/>
<ellipse cx="40.9" cy="0.5" rx="1.30" ry="1.30" fill="#185f0a"/>
<ellipse cx="27.9" cy="5.5" rx="1.30" ry="1.30" fill="#185f0a"/>
<ellipse cx="10.2" cy="9.0" rx="1.30" ry="1.73" fill="#185f0a"/>
<ellipse cx="3.7" cy="12.9" rx="1.73" ry="1.73" fill="#185f0a"/>
<ellipse cx="23.5" cy="12.5" rx="1.51" ry="2.37" fill="#185f0a"/>
<ellipse cx="32.7" cy="10.2" rx="1.73" ry="1.94" fill="#185f0a"/>
<ellipse cx="36.8" cy="9.0" rx="1.51" ry="1.94" fill="#185f0a"/>
<ellipse cx="43.3" cy="10.2" rx="2.70" ry="2.16" fill="#185f0a"/>
<ellipse cx="54.5" cy="6.2" rx="1.73" ry="1.73" fill="#185f0a"/>
<ellipse cx="66.3" cy="3.2" rx="1.30" ry="1.30" fill="#185f0a"/>
<ellipse cx="65.1" cy="6.2" rx="1.51" ry="1.51" fill="#185f0a"/>
<ellipse cx="61.0" cy="16.1" rx="1.30" ry="1.94" fill="#185f0a"/>
<ellipse cx="50.9" cy="17.9" rx="1.73" ry="1.30" fill="#185f0a"/>
<ellipse cx="36.3" cy="17.9" rx="1.94" ry="2.37" fill="#185f0a"/>
<ellipse cx="40.9" cy="21.4" rx="1.73" ry="1.30" fill="#185f0a"/>
<ellipse cx="27.9" cy="19.6" rx="2.37" ry="1.30" transform="rotate(40 27.9 19.6)" fill="#185f0a"/>
<ellipse cx="20.9" cy="24.4" rx="1.73" ry="1.94" fill="#185f0a"/>
<ellipse cx="16.4" cy="25.3" rx="1.51" ry="1.51" fill="#185f0a"/>
<ellipse cx="15.6" cy="29.7" rx="1.08" ry="1.08" fill="#185f0a"/>
<ellipse cx="33.2" cy="27.4" rx="1.51" ry="1.51" fill="#185f0a"/>
<ellipse cx="49.2" cy="28.5" rx="1.08" ry="1.08" fill="#185f0a"/>
<ellipse cx="63.9" cy="28.5" rx="1.30" ry="1.73" fill="#185f0a"/>
<ellipse cx="71.3" cy="25.3" rx="1.73" ry="1.73" fill="#185f0a"/>
<ellipse cx="75.7" cy="24.4" rx="1.51" ry="1.94" fill="#185f0a"/>
<ellipse cx="84.0" cy="15.6" rx="1.73" ry="1.94" fill="#185f0a"/>
<ellipse cx="88.1" cy="17.3" rx="1.30" ry="1.30" fill="#185f0a"/>
<ellipse cx="83.3" cy="22.1" rx="1.30" ry="1.30" fill="#185f0a"/>
<ellipse cx="9.7" cy="35.0" rx="1.51" ry="1.51" fill="#185f0a"/>
<ellipse cx="9.7" cy="38.6" rx="1.73" ry="1.73" fill="#185f0a"/>
<ellipse cx="9.7" cy="41.6" rx="1.30" ry="1.30" fill="#185f0a"/>
<ellipse cx="22.6" cy="36.3" rx="1.51" ry="2.16" fill="#185f0a"/>
<ellipse cx="48.6" cy="35.5" rx="1.51" ry="1.51" fill="#185f0a"/>
<ellipse cx="52.7" cy="37.3" rx="1.94" ry="1.51" fill="#185f0a"/>
<ellipse cx="58.5" cy="32.4" rx="1.51" ry="1.51" fill="#185f0a"/>
<ellipse cx="58.0" cy="37.3" rx="2.37" ry="1.73" fill="#185f0a"/>
<ellipse cx="62.4" cy="35.0" rx="1.94" ry="1.73" fill="#185f0a"/>
<ellipse cx="64.6" cy="38.6" rx="1.30" ry="1.30" fill="#185f0a"/>
<ellipse cx="53.9" cy="42.1" rx="1.51" ry="1.51" fill="#185f0a"/>
<ellipse cx="55.7" cy="44.4" rx="1.51" ry="1.51" fill="#185f0a"/>
<ellipse cx="62.4" cy="43.3" rx="1.51" ry="1.51" fill="#185f0a"/>
<ellipse cx="35.0" cy="43.3" rx="2.70" ry="1.51" transform="rotate(-30 35.0 43.3)" fill="#185f0a"/>
<ellipse cx="40.9" cy="49.2" rx="1.73" ry="1.73" fill="#185f0a"/>
<ellipse cx="71.3" cy="46.5" rx="1.51" ry="1.94" fill="#185f0a"/>
<ellipse cx="80.5" cy="49.7" rx="1.30" ry="1.30" fill="#185f0a"/>
<ellipse cx="73.9" cy="50.9" rx="1.30" ry="1.30" fill="#185f0a"/>
<ellipse cx="55.7" cy="51.5" rx="1.73" ry="2.16" fill="#185f0a"/>
<ellipse cx="66.3" cy="53.2" rx="1.51" ry="1.51" fill="#185f0a"/>
<ellipse cx="66.9" cy="56.2" rx="2.37" ry="1.94" fill="#185f0a"/>
<ellipse cx="27.9" cy="55.4" rx="1.51" ry="2.16" fill="#185f0a"/>
<ellipse cx="40.3" cy="58.0" rx="1.73" ry="1.30" fill="#185f0a"/>
<ellipse cx="32.0" cy="62.8" rx="1.30" ry="1.30" fill="#185f0a"/>
<ellipse cx="56.8" cy="62.8" rx="1.51" ry="1.73" fill="#185f0a"/>
<ellipse cx="85.4" cy="58.5" rx="1.30" ry="1.30" fill="#185f0a"/>
<ellipse cx="23.5" cy="66.0" rx="1.30" ry="1.30" fill="#185f0a"/>
<ellipse cx="88.1" cy="39.8" rx="1.08" ry="1.08" fill="#185f0a"/>
<ellipse cx="0.2" cy="40.3" rx="0.86" ry="0.86" fill="#185f0a"/>
<polygon points="15.3,1.7 15.0,0.9 14.9,0.5 15.3,-0.5 16.8,0.3 16.8,1.2 15.8,1.5" fill="#66ff22"/>
<ellipse cx="40.9" cy="0.5" rx="0.96" ry="0.96" fill="#66ff22"/>
<ellipse cx="27.9" cy="5.5" rx="0.96" ry="0.96" fill="#66ff22"/>
<polygon points="10.1,10.0 9.6,9.5 9.1,8.0 10.0,7.1 11.1,8.1 11.6,9.0 10.7,10.4" fill="#66ff22"/>
<polygon points="3.5,14.5 2.2,13.8 3.0,12.6 3.2,11.0 4.8,11.8 5.4,12.6 4.9,14.4" fill="#66ff22"/>
<polygon points="25.2,12.5 23.9,13.3 23.3,13.8 22.9,13.2 23.0,12.2 22.7,10.5 24.1,10.3" fill="#66ff22"/>
<polygon points="31.6,10.1 32.0,8.3 33.2,9.3 33.3,10.2 34.0,11.4 32.8,11.2 31.7,11.3" fill="#66ff22"/>
<polygon points="37.1,9.9 36.5,9.8 35.4,9.9 35.7,7.7 36.8,7.1 37.3,8.2 37.6,9.3" fill="#66ff22"/>
<polygon points="40.8,10.6 42.3,9.8 43.1,8.9 44.4,9.4 44.3,10.4 44.6,12.0 42.3,11.8" fill="#66ff22"/>
<polygon points="52.6,6.0 53.7,5.3 54.8,5.6 56.3,5.9 55.1,6.6 54.5,6.9 53.0,7.2" fill="#66ff22"/>
<ellipse cx="66.3" cy="3.2" rx="0.96" ry="0.96" fill="#66ff22"/>
<polygon points="64.6,6.8 64.3,6.0 64.5,4.9 65.3,5.6 66.0,5.6 65.6,6.3 65.4,7.8" fill="#66ff22"/>
<polygon points="61.4,16.6 61.0,17.7 60.3,16.8 60.4,16.2 60.5,14.1 61.2,15.3 62.4,15.4" fill="#66ff22"/>
<polygon points="51.4,19.2 49.7,18.5 50.2,17.8 49.9,16.8 51.1,17.3 51.5,17.7 52.0,18.4" fill="#66ff22"/>
<polygon points="36.1,18.8 35.7,18.2 34.8,16.9 36.0,16.3 36.9,16.4 37.8,18.0 36.9,19.0" fill="#66ff22"/>
<polygon points="41.6,20.5 41.9,21.4 41.5,21.8 40.8,21.9 39.1,21.9 40.2,21.1 40.3,20.0" fill="#66ff22"/>
<polygon points="30.0,20.7 28.8,21.0 27.4,19.9 26.8,19.5 26.6,18.0 28.0,18.6 29.6,19.8" fill="#66ff22"/>
<polygon points="20.8,26.1 19.3,25.4 19.0,24.0 20.6,23.8 22.1,22.8 22.7,23.9 22.1,25.9" fill="#66ff22"/>
<polygon points="17.7,26.5 16.5,25.8 15.3,26.3 14.8,25.0 15.7,24.5 16.7,24.2 18.0,25.1" fill="#66ff22"/>
<ellipse cx="15.6" cy="29.7" rx="0.80" ry="0.80" fill="#66ff22"/>
<polygon points="34.2,28.6 32.8,28.5 32.4,27.6 32.4,26.8 33.1,26.1 34.4,26.5 34.1,27.4" fill="#66ff22"/>
<ellipse cx="49.2" cy="28.5" rx="0.80" ry="0.80" fill="#66ff22"/>
<polygon points="65.1,28.9 64.1,29.0 63.6,30.2 62.7,29.2 63.1,28.1 63.7,27.9 64.2,27.8" fill="#66ff22"/>
<polygon points="71.0,24.4 72.1,24.3 72.3,24.8 72.0,26.2 71.4,26.2 69.8,26.0 70.6,24.9" fill="#66ff22"/>
<polygon points="76.3,26.4 75.2,24.9 75.1,24.2 75.0,22.4 75.8,23.7 76.4,24.2 76.4,24.8" fill="#66ff22"/>
<polygon points="83.1,16.0 83.4,14.7 83.9,14.4 85.0,14.7 85.3,16.1 84.4,17.3 83.5,17.4" fill="#66ff22"/>
<ellipse cx="88.1" cy="17.3" rx="0.96" ry="0.96" fill="#66ff22"/>
<ellipse cx="83.3" cy="22.1" rx="0.96" ry="0.96" fill="#66ff22"/>
<polygon points="10.4,35.1 10.0,35.5 9.1,36.2 8.7,35.5 8.7,34.5 9.5,33.9 10.4,33.6" fill="#66ff22"/>
<polygon points="9.0,39.6 8.6,38.3 9.3,37.9 10.2,37.7 10.9,37.9 11.5,39.0 10.0,40.0" fill="#66ff22"/>
<ellipse cx="9.7" cy="41.6" rx="0.96" ry="0.96" fill="#66ff22"/>
<polygon points="23.6,37.7 22.8,38.5 22.0,36.9 21.8,36.1 22.0,34.5 22.8,35.5 24.3,36.0" fill="#66ff22"/>
<polygon points="48.7,36.6 48.3,36.2 48.0,35.6 48.1,34.8 48.8,34.7 49.8,35.3 49.1,35.8" fill="#66ff22"/>
<polygon points="52.1,35.8 54.6,36.5 53.5,37.4 53.9,38.3 51.9,38.3 50.7,37.8 51.9,36.8" fill="#66ff22"/>
<polygon points="59.9,31.4 59.7,32.9 58.6,33.2 57.8,33.2 57.8,32.4 58.0,31.9 58.7,30.9" fill="#66ff22"/>
<polygon points="55.6,36.8 57.5,36.1 59.2,35.8 59.2,37.3 59.4,38.7 57.7,38.9 57.2,37.7" fill="#66ff22"/>
<polygon points="64.1,34.2 63.9,35.7 62.7,37.0 61.6,36.1 60.7,34.7 61.7,33.5 62.6,34.5" fill="#66ff22"/>
<ellipse cx="64.6" cy="38.6" rx="0.96" ry="0.96" fill="#66ff22"/>
<polygon points="54.7,40.9 55.3,41.9 54.8,43.1 53.9,43.3 52.8,42.5 52.5,41.2 53.3,40.7" fill="#66ff22"/>
<polygon points="55.4,45.0 54.9,44.4 55.4,43.9 56.1,43.2 56.3,43.8 56.8,44.9 56.1,44.9" fill="#66ff22"/>
<polygon points="61.8,44.0 60.9,43.3 62.2,42.6 62.9,42.2 63.6,43.2 63.6,44.3 62.6,44.6" fill="#66ff22"/>
<polygon points="35.6,44.1 34.3,44.7 33.1,44.2 32.8,43.6 34.6,42.4 35.5,42.6 35.9,43.1" fill="#66ff22"/>
<polygon points="42.5,49.8 41.8,50.9 40.4,49.8 40.1,49.2 39.9,48.4 41.1,47.7 41.5,48.6" fill="#66ff22"/>
<polygon points="71.4,44.4 71.9,46.0 72.8,46.4 71.9,47.4 71.0,48.4 69.9,47.4 69.9,45.3" fill="#66ff22"/>
<ellipse cx="80.5" cy="49.7" rx="0.96" ry="0.96" fill="#66ff22"/>
<ellipse cx="73.9" cy="50.9" rx="0.96" ry="0.96" fill="#66ff22"/>
<polygon points="56.6,52.7 55.7,53.4 54.8,52.3 54.4,51.2 55.4,50.8 56.2,49.5 57.4,50.8" fill="#66ff22"/>
<polygon points="67.0,52.6 67.1,53.6 66.8,54.7 65.6,54.0 65.3,53.5 65.6,52.7 66.3,52.7" fill="#66ff22"/>
<polygon points="68.8,55.2 68.6,57.1 67.7,58.2 65.6,57.8 65.7,56.6 65.4,55.2 67.2,54.8" fill="#66ff22"/>
<polygon points="29.2,55.7 28.3,56.8 27.5,56.0 26.3,55.2 26.9,53.6 28.0,53.4 28.4,54.9" fill="#66ff22"/>
<polygon points="38.9,58.3 39.2,57.4 40.5,56.7 41.2,57.6 41.2,58.3 40.8,58.7 39.4,59.0" fill="#66ff22"/>
<ellipse cx="32.0" cy="62.8" rx="0.96" ry="0.96" fill="#66ff22"/>
<polygon points="56.0,63.1 55.5,61.9 56.9,62.2 57.6,62.2 57.5,63.0 57.2,64.0 56.5,63.6" fill="#66ff22"/>
<ellipse cx="85.4" cy="58.5" rx="0.96" ry="0.96" fill="#66ff22"/>
<ellipse cx="23.5" cy="66.0" rx="0.96" ry="0.96" fill="#66ff22"/>
<ellipse cx="88.1" cy="39.8" rx="0.80" ry="0.80" fill="#66ff22"/>
<ellipse cx="0.2" cy="40.3" rx="0.64" ry="0.64" fill="#66ff22"/>
<circle cx="76.6" cy="6.2" r="0.72" fill="rgb(215,15,15)"/>
<circle cx="17.3" cy="13.3" r="0.72" fill="rgb(225,16,16)"/>
<circle cx="4.4" cy="17.9" r="0.72" fill="rgb(222,15,15)"/>
<circle cx="11.5" cy="32.7" r="0.72" fill="rgb(228,16,16)"/>
<circle cx="39.1" cy="36.8" r="0.72" fill="rgb(222,15,15)"/>
<circle cx="27.9" cy="60.3" r="0.72" fill="rgb(223,15,15)"/>
<circle cx="67.8" cy="59.8" r="0.72" fill="rgb(246,17,17)"/>
<circle cx="18.6" cy="63.9" r="0.72" fill="rgb(248,17,17)"/>
</g></svg>
<text x="176.625" y="428.65" font-size="6.1" text-anchor="middle" font-weight="normal">APC+T cells+MSC</text>
<svg x="132.50" y="431.25" width="88.25" height="65.85" viewBox="0 0 88.25 65.85">
<rect width="88.25" height="65.85" fill="#000"/>
<g filter="url(#bl)">
<circle cx="86.4" cy="45.4" r="0.68" fill="rgb(28,114,14)"/>
<circle cx="60.6" cy="56.9" r="0.55" fill="rgb(33,134,16)"/>
<circle cx="76.6" cy="44.2" r="0.41" fill="rgb(44,177,22)"/>
<circle cx="52.5" cy="23.6" r="0.58" fill="rgb(45,182,22)"/>
<circle cx="63.8" cy="58.3" r="0.57" fill="rgb(29,118,14)"/>
<circle cx="58.8" cy="16.9" r="0.55" fill="rgb(36,144,18)"/>
<circle cx="75.0" cy="45.5" r="0.47" fill="rgb(37,151,18)"/>
<circle cx="62.7" cy="52.6" r="0.59" fill="rgb(28,112,14)"/>
<circle cx="25.6" cy="54.1" r="0.43" fill="rgb(39,156,19)"/>
<circle cx="70.8" cy="39.9" r="0.48" fill="rgb(43,175,21)"/>
<circle cx="23.7" cy="17.7" r="0.68" fill="rgb(37,150,18)"/>
<circle cx="87.2" cy="46.9" r="0.66" fill="rgb(40,161,20)"/>
<circle cx="18.2" cy="0.1" r="0.52" fill="rgb(41,167,20)"/>
<circle cx="37.8" cy="0.8" r="0.43" fill="rgb(23,95,11)"/>
<circle cx="51.9" cy="40.7" r="0.62" fill="rgb(39,158,19)"/>
<circle cx="64.4" cy="29.1" r="0.57" fill="rgb(43,173,21)"/>
<circle cx="24.0" cy="63.3" r="0.57" fill="rgb(32,131,16)"/>
<circle cx="61.1" cy="37.4" r="0.54" fill="rgb(22,89,11)"/>
<circle cx="58.3" cy="12.5" r="0.48" fill="rgb(40,163,20)"/>
<circle cx="51.1" cy="7.5" r="0.61" fill="rgb(31,125,15)"/>
<circle cx="77.6" cy="25.7" r="0.48" fill="rgb(25,101,12)"/>
<circle cx="19.1" cy="59.6" r="0.52" fill="rgb(45,183,22)"/>
<circle cx="37.5" cy="27.0" r="0.41" fill="rgb(33,132,16)"/>
<circle cx="24.7" cy="7.9" r="0.48" fill="rgb(23,93,11)"/>
<circle cx="58.0" cy="14.8" r="0.45" fill="rgb(33,132,16)"/>
<circle cx="16.6" cy="52.7" r="0.43" fill="rgb(41,165,20)"/>
<circle cx="82.4" cy="57.9" r="0.67" fill="rgb(22,88,11)"/>
<circle cx="6.4" cy="24.9" r="0.41" fill="rgb(29,116,14)"/>
<circle cx="26.5" cy="32.7" r="0.50" fill="rgb(39,156,19)"/>
<circle cx="87.0" cy="21.2" r="0.70" fill="rgb(43,175,21)"/>
<circle cx="72.0" cy="8.9" r="0.70" fill="rgb(35,140,17)"/>
<circle cx="21.9" cy="48.7" r="0.66" fill="rgb(31,126,15)"/>
<circle cx="35.7" cy="44.6" r="0.63" fill="rgb(38,152,19)"/>
<circle cx="19.0" cy="3.3" r="0.51" fill="rgb(38,153,19)"/>
<circle cx="71.0" cy="19.8" r="0.42" fill="rgb(22,91,11)"/>
<circle cx="49.6" cy="10.9" r="0.40" fill="rgb(26,107,13)"/>
<circle cx="25.7" cy="13.5" r="0.48" fill="rgb(21,86,10)"/>
<circle cx="35.0" cy="13.8" r="0.63" fill="rgb(44,178,22)"/>
<circle cx="36.4" cy="54.5" r="0.51" fill="rgb(33,134,16)"/>
<circle cx="20.0" cy="33.7" r="0.67" fill="rgb(27,109,13)"/>
<circle cx="33.0" cy="59.8" r="0.59" fill="rgb(22,91,11)"/>
<circle cx="59.9" cy="40.8" r="0.69" fill="rgb(39,159,19)"/>
<circle cx="52.3" cy="34.5" r="0.60" fill="rgb(40,160,20)"/>
<circle cx="77.5" cy="64.5" r="0.49" fill="rgb(32,130,16)"/>
<circle cx="13.0" cy="29.3" r="0.59" fill="rgb(22,91,11)"/>
<circle cx="80.5" cy="38.1" r="0.58" fill="rgb(45,183,22)"/>
<circle cx="87.1" cy="51.7" r="0.66" fill="rgb(31,124,15)"/>
<circle cx="29.0" cy="11.8" r="0.56" fill="rgb(43,174,21)"/>
<circle cx="54.5" cy="48.1" r="0.59" fill="rgb(22,88,11)"/>
<circle cx="72.3" cy="0.1" r="0.66" fill="rgb(33,133,16)"/>
<circle cx="20.6" cy="55.3" r="0.53" fill="rgb(29,118,14)"/>
<circle cx="75.4" cy="7.2" r="0.63" fill="rgb(24,97,12)"/>
<circle cx="4.7" cy="32.0" r="0.51" fill="rgb(21,86,10)"/>
<circle cx="84.7" cy="60.0" r="0.49" fill="rgb(26,105,13)"/>
<circle cx="39.0" cy="4.5" r="0.40" fill="rgb(21,85,10)"/>
<circle cx="84.7" cy="12.1" r="0.52" fill="rgb(23,95,11)"/>
<circle cx="85.0" cy="1.1" r="0.57" fill="rgb(36,147,18)"/>
<circle cx="83.2" cy="65.6" r="0.65" fill="rgb(25,101,12)"/>
<circle cx="82.7" cy="26.3" r="0.67" fill="rgb(43,175,21)"/>
<circle cx="32.3" cy="22.0" r="0.65" fill="rgb(33,132,16)"/>
<circle cx="66.8" cy="60.7" r="0.66" fill="rgb(28,115,14)"/>
<circle cx="16.4" cy="22.4" r="0.62" fill="rgb(37,148,18)"/>
<circle cx="41.1" cy="26.9" r="0.69" fill="rgb(45,182,22)"/>
<circle cx="43.3" cy="34.0" r="0.40" fill="rgb(24,99,12)"/>
<circle cx="78.8" cy="43.3" r="0.60" fill="rgb(25,102,12)"/>
<circle cx="72.1" cy="30.0" r="0.50" fill="rgb(35,140,17)"/>
<circle cx="0.5" cy="18.3" r="0.47" fill="rgb(39,157,19)"/>
<circle cx="5.7" cy="16.0" r="0.50" fill="rgb(45,180,22)"/>
<circle cx="86.5" cy="24.1" r="0.47" fill="rgb(30,121,15)"/>
<circle cx="71.4" cy="55.8" r="0.60" fill="rgb(31,126,15)"/>
<circle cx="87.7" cy="29.7" r="0.50" fill="rgb(36,147,18)"/>
<circle cx="81.7" cy="4.2" r="0.62" fill="rgb(22,91,11)"/>
<circle cx="5.4" cy="11.2" r="0.68" fill="rgb(37,148,18)"/>
<circle cx="8.7" cy="40.8" r="0.46" fill="rgb(42,170,21)"/>
<circle cx="3.4" cy="6.4" r="0.43" fill="rgb(45,181,22)"/>
<circle cx="78.8" cy="16.2" r="0.69" fill="rgb(22,90,11)"/>
<circle cx="34.1" cy="50.5" r="0.45" fill="rgb(27,111,13)"/>
<circle cx="16.4" cy="57.9" r="0.44" fill="rgb(32,130,16)"/>
<circle cx="37.6" cy="1.6" r="0.44" fill="rgb(40,163,20)"/>
<circle cx="31.5" cy="63.5" r="0.55" fill="rgb(26,107,13)"/>
<circle cx="50.0" cy="2.8" r="0.41" fill="rgb(32,131,16)"/>
<circle cx="60.9" cy="23.6" r="0.41" fill="rgb(25,103,12)"/>
<circle cx="47.5" cy="14.3" r="0.47" fill="rgb(22,89,11)"/>
<circle cx="13.0" cy="44.9" r="0.48" fill="rgb(27,110,13)"/>
<circle cx="62.1" cy="3.3" r="0.61" fill="rgb(30,122,15)"/>
<circle cx="30.7" cy="26.4" r="0.50" fill="rgb(32,131,16)"/>
<circle cx="40.2" cy="62.6" r="0.55" fill="rgb(37,151,18)"/>
<circle cx="14.8" cy="50.6" r="0.49" fill="rgb(30,123,15)"/>
<circle cx="6.5" cy="60.9" r="0.62" fill="rgb(30,123,15)"/>
<circle cx="59.7" cy="25.8" r="0.51" fill="rgb(46,184,23)"/>
<ellipse cx="70.9" cy="61.8" rx="0.97" ry="0.84" transform="rotate(106 70.9 61.8)" fill="#3ed818"/>
<ellipse cx="7.5" cy="44.6" rx="0.80" ry="0.68" transform="rotate(162 7.5 44.6)" fill="#3ed818"/>
<ellipse cx="41.1" cy="46.4" rx="0.72" ry="0.56" transform="rotate(119 41.1 46.4)" fill="#3ed818"/>
<ellipse cx="81.1" cy="4.6" rx="0.78" ry="0.64" transform="rotate(110 81.1 4.6)" fill="#3ed818"/>
<ellipse cx="39.7" cy="64.0" rx="0.73" ry="0.63" transform="rotate(20 39.7 64.0)" fill="#3ed818"/>
<ellipse cx="21.4" cy="43.3" rx="0.72" ry="0.60" transform="rotate(56 21.4 43.3)" fill="#3ed818"/>
<ellipse cx="70.3" cy="39.5" rx="0.80" ry="0.67" transform="rotate(165 70.3 39.5)" fill="#3ed818"/>
<ellipse cx="69.8" cy="6.2" rx="0.88" ry="0.54" transform="rotate(81 69.8 6.2)" fill="#3ed818"/>
<ellipse cx="24.9" cy="34.9" rx="1.05" ry="0.86" transform="rotate(143 24.9 34.9)" fill="#3ed818"/>
<ellipse cx="4.9" cy="32.0" rx="0.87" ry="0.71" transform="rotate(160 4.9 32.0)" fill="#3ed818"/>
<ellipse cx="0.7" cy="56.8" rx="0.83" ry="0.51" transform="rotate(111 0.7 56.8)" fill="#3ed818"/>
<ellipse cx="47.2" cy="63.3" rx="1.02" ry="0.76" transform="rotate(140 47.2 63.3)" fill="#3ed818"/>
<ellipse cx="12.7" cy="2.6" rx="3.78" ry="2.70" fill="#185f0a"/>
<ellipse cx="22.4" cy="6.2" rx="3.24" ry="1.51" fill="#185f0a"/>
<ellipse cx="3.5" cy="17.9" rx="2.16" ry="1.73" fill="#185f0a"/>
<ellipse cx="11.8" cy="17.3" rx="3.24" ry="2.37" fill="#185f0a"/>
<ellipse cx="16.2" cy="15.6" rx="2.16" ry="2.70" fill="#185f0a"/>
<ellipse cx="19.7" cy="20.0" rx="3.24" ry="1.51" fill="#185f0a"/>
<ellipse cx="10.0" cy="21.8" rx="2.70" ry="2.16" fill="#185f0a"/>
<ellipse cx="30.3" cy="15.0" rx="1.73" ry="1.30" fill="#185f0a"/>
<ellipse cx="38.8" cy="16.1" rx="1.73" ry="1.94" fill="#185f0a"/>
<ellipse cx="36.5" cy="21.4" rx="2.37" ry="1.94" fill="#185f0a"/>
<ellipse cx="44.1" cy="18.6" rx="1.73" ry="1.94" fill="#185f0a"/>
<ellipse cx="55.5" cy="19.6" rx="3.24" ry="3.02" fill="#185f0a"/>
<ellipse cx="41.0" cy="26.2" rx="2.37" ry="1.94" fill="#185f0a"/>
<ellipse cx="9.5" cy="29.7" rx="2.16" ry="1.94" fill="#185f0a"/>
<ellipse cx="21.5" cy="32.4" rx="2.70" ry="3.24" fill="#185f0a"/>
<ellipse cx="17.1" cy="35.9" rx="2.70" ry="1.73" fill="#185f0a"/>
<ellipse cx="11.2" cy="36.8" rx="3.24" ry="2.37" fill="#185f0a"/>
<ellipse cx="9.5" cy="35.0" rx="1.73" ry="1.73" fill="#185f0a"/>
<ellipse cx="15.3" cy="42.1" rx="3.02" ry="1.73" transform="rotate(30 15.3 42.1)" fill="#185f0a"/>
<ellipse cx="34.8" cy="38.6" rx="2.70" ry="3.24" fill="#185f0a"/>
<ellipse cx="48.9" cy="30.6" rx="3.78" ry="1.94" fill="#185f0a"/>
<ellipse cx="60.8" cy="26.2" rx="1.51" ry="3.02" fill="#185f0a"/>
<ellipse cx="58.7" cy="38.6" rx="3.78" ry="1.73" fill="#185f0a"/>
<ellipse cx="49.8" cy="41.6" rx="1.94" ry="2.37" fill="#185f0a"/>
<ellipse cx="74.2" cy="11.5" rx="1.94" ry="3.24" fill="#185f0a"/>
<ellipse cx="80.8" cy="3.7" rx="1.30" ry="1.30" fill="#185f0a"/>
<ellipse cx="77.2" cy="23.5" rx="1.73" ry="1.94" fill="#185f0a"/>
<ellipse cx="82.0" cy="24.4" rx="1.51" ry="1.51" fill="#185f0a"/>
<ellipse cx="75.5" cy="31.5" rx="1.94" ry="1.51" fill="#185f0a"/>
<ellipse cx="20.6" cy="45.6" rx="1.51" ry="1.51" fill="#185f0a"/>
<ellipse cx="56.0" cy="53.6" rx="2.70" ry="3.78" fill="#185f0a"/>
<ellipse cx="72.8" cy="55.7" rx="2.70" ry="1.51" transform="rotate(-50 72.8 55.7)" fill="#185f0a"/>
<ellipse cx="2.0" cy="57.1" rx="1.73" ry="1.73" fill="#185f0a"/>
<ellipse cx="4.2" cy="59.8" rx="1.51" ry="1.94" fill="#185f0a"/>
<ellipse cx="11.2" cy="61.0" rx="1.30" ry="1.30" fill="#185f0a"/>
<ellipse cx="47.7" cy="64.6" rx="1.51" ry="1.51" fill="#185f0a"/>
<ellipse cx="37.8" cy="66.0" rx="1.30" ry="1.30" fill="#185f0a"/>
<ellipse cx="87.8" cy="49.2" rx="1.08" ry="1.51" fill="#185f0a"/>
<ellipse cx="30.0" cy="25.3" rx="1.08" ry="1.08" fill="#185f0a"/>
<polygon points="14.9,4.2 12.7,5.0 11.5,3.4 8.8,2.0 11.9,1.4 13.1,1.5 16.3,1.9" fill="#66ff22"/>
<polygon points="20.9,6.4 19.3,5.7 21.9,5.0 25.1,5.2 26.0,6.1 23.5,6.9 22.0,6.7" fill="#66ff22"/>
<polygon points="2.3,17.3 3.3,17.2 5.1,16.9 4.7,17.8 4.5,19.6 2.8,19.6 1.5,18.2" fill="#66ff22"/>
<polygon points="10.3,18.4 9.8,16.9 10.5,15.4 13.7,15.5 13.9,16.8 13.0,18.2 11.6,18.4" fill="#66ff22"/>
<polygon points="17.0,16.6 15.9,18.6 14.7,17.5 15.2,14.9 15.7,14.5 16.8,13.4 18.4,14.2" fill="#66ff22"/>
<polygon points="20.6,20.7 19.4,20.5 17.8,20.0 17.0,19.0 19.9,18.6 22.5,19.2 22.8,20.3" fill="#66ff22"/>
<polygon points="9.7,19.9 12.4,20.3 12.5,22.4 10.6,22.9 9.3,22.9 8.2,22.8 7.2,21.0" fill="#66ff22"/>
<polygon points="31.0,15.3 30.4,15.8 29.5,15.6 28.5,14.9 29.2,13.9 30.9,14.4 32.0,14.6" fill="#66ff22"/>
<polygon points="38.5,15.3 39.8,14.5 39.7,15.9 39.8,17.2 38.8,17.4 38.0,16.8 37.6,15.9" fill="#66ff22"/>
<polygon points="38.0,20.5 37.6,21.9 37.0,22.8 35.8,22.0 34.4,21.8 35.7,20.4 36.5,20.2" fill="#66ff22"/>
<polygon points="44.7,18.0 45.4,18.1 45.4,20.2 44.2,19.3 43.2,19.6 42.9,18.4 43.7,17.1" fill="#66ff22"/>
<polygon points="55.5,18.1 56.3,18.7 56.6,19.9 56.6,21.9 54.4,22.7 53.1,20.3 53.1,18.5" fill="#66ff22"/>
<polygon points="40.2,25.6 41.6,24.2 42.1,25.4 43.1,27.0 42.4,27.8 39.6,27.6 39.7,26.3" fill="#66ff22"/>
<polygon points="8.4,29.9 8.3,28.6 9.1,28.9 10.6,28.1 10.7,30.1 10.5,30.8 9.1,30.7" fill="#66ff22"/>
<polygon points="21.4,31.1 23.0,30.0 22.4,32.6 22.7,33.9 20.7,35.5 20.5,32.4 20.7,31.7" fill="#66ff22"/>
<polygon points="19.1,35.4 18.7,37.0 16.8,37.1 14.8,36.5 15.9,35.9 15.8,34.4 17.6,34.4" fill="#66ff22"/>
<polygon points="11.9,37.6 10.3,38.7 8.4,37.7 10.4,36.0 11.6,34.4 12.8,36.3 14.8,37.2" fill="#66ff22"/>
<polygon points="10.3,35.1 9.8,35.5 8.8,36.4 8.3,35.6 8.3,34.5 9.2,33.8 10.3,33.4" fill="#66ff22"/>
<polygon points="17.0,40.9 17.2,42.3 16.5,43.4 16.0,44.2 13.0,42.3 12.6,40.9 13.8,40.0" fill="#66ff22"/>
<polygon points="35.7,36.2 35.7,38.0 35.9,39.4 35.0,39.8 34.0,39.9 33.2,38.5 34.3,37.5" fill="#66ff22"/>
<polygon points="50.1,29.7 51.6,30.6 50.7,32.1 49.4,32.5 46.3,31.2 46.1,30.1 48.4,29.2" fill="#66ff22"/>
<polygon points="60.7,24.0 62.0,24.4 62.1,26.9 61.4,28.1 60.6,27.3 60.2,26.8 60.1,24.9" fill="#66ff22"/>
<polygon points="55.6,38.6 56.1,37.6 59.0,37.8 60.3,38.2 60.3,38.8 60.0,40.3 57.0,39.5" fill="#66ff22"/>
<polygon points="48.7,41.1 48.8,39.2 50.1,40.7 51.6,40.9 50.2,42.3 49.5,43.9 48.6,43.1" fill="#66ff22"/>
<polygon points="73.6,13.9 72.7,12.0 73.3,10.0 74.5,7.8 75.3,8.9 75.1,11.4 74.9,14.0" fill="#66ff22"/>
<ellipse cx="80.8" cy="3.7" rx="0.96" ry="0.96" fill="#66ff22"/>
<polygon points="76.6,22.9 77.5,21.7 78.8,22.5 78.4,24.0 77.5,25.6 76.6,24.1 75.9,23.2" fill="#66ff22"/>
<polygon points="81.5,23.9 82.1,23.0 83.3,24.0 83.1,24.7 82.6,25.8 81.3,25.6 81.0,24.3" fill="#66ff22"/>
<polygon points="76.2,32.8 75.3,33.2 73.5,32.0 74.8,31.1 75.1,30.2 76.1,30.8 76.2,31.5" fill="#66ff22"/>
<polygon points="20.8,46.5 19.7,47.0 20.1,45.6 20.2,45.3 20.8,44.9 21.6,45.0 22.0,46.5" fill="#66ff22"/>
<polygon points="54.1,52.9 55.2,50.7 57.7,50.2 58.0,53.0 56.8,55.0 54.8,57.1 53.9,54.7" fill="#66ff22"/>
<polygon points="72.4,56.7 72.0,56.2 71.7,54.6 72.9,54.4 73.5,54.8 74.0,55.7 73.1,56.1" fill="#66ff22"/>
<polygon points="1.7,58.3 1.4,57.7 1.0,56.7 1.5,56.3 2.7,55.9 3.7,56.5 3.0,57.8" fill="#66ff22"/>
<polygon points="5.2,60.9 4.2,61.5 3.8,60.2 3.2,59.9 3.9,59.1 4.4,59.1 5.5,58.7" fill="#66ff22"/>
<ellipse cx="11.2" cy="61.0" rx="0.96" ry="0.96" fill="#66ff22"/>
<polygon points="46.6,63.3 48.0,63.5 49.1,64.4 48.7,65.0 48.0,65.5 46.6,65.6 46.9,64.3" fill="#66ff22"/>
<ellipse cx="37.8" cy="66.0" rx="0.96" ry="0.96" fill="#66ff22"/>
<polygon points="88.2,50.8 87.4,49.9 87.4,49.3 87.1,48.2 88.1,47.7 88.5,48.5 89.0,49.6" fill="#66ff22"/>
<ellipse cx="30.0" cy="25.3" rx="0.80" ry="0.80" fill="#66ff22"/>
<ellipse cx="25.9" cy="6.2" rx="1.27" ry="1.27" fill="#ff6a10"/>
<circle cx="21.1" cy="49.7" r="0.72" fill="rgb(248,17,17)"/>
<circle cx="44.9" cy="46.9" r="0.72" fill="rgb(216,15,15)"/>
<circle cx="79.9" cy="35.5" r="0.72" fill="rgb(235,16,16)"/>
<circle cx="21.5" cy="26.7" r="0.72" fill="rgb(232,16,16)"/>
<circle cx="28.6" cy="8.5" r="0.72" fill="rgb(230,16,16)"/>
</g></svg>
<text x="267.85" y="428.65" font-size="6.1" text-anchor="middle" font-weight="normal">APC+T cells+MSC+IgG4</text>
<svg x="223.75" y="431.25" width="88.00" height="65.85" viewBox="0 0 88.00 65.85">
<rect width="88.00" height="65.85" fill="#000"/>
<g filter="url(#bl)">
<circle cx="54.4" cy="10.8" r="0.49" fill="rgb(44,178,22)"/>
<circle cx="75.7" cy="30.0" r="0.41" fill="rgb(41,164,20)"/>
<circle cx="22.4" cy="39.0" r="0.48" fill="rgb(26,104,13)"/>
<circle cx="57.2" cy="50.3" r="0.48" fill="rgb(40,162,20)"/>
<circle cx="39.6" cy="60.1" r="0.41" fill="rgb(44,177,22)"/>
<circle cx="55.3" cy="47.8" r="0.44" fill="rgb(21,85,10)"/>
<circle cx="87.3" cy="62.7" r="0.40" fill="rgb(45,183,22)"/>
<circle cx="27.2" cy="21.6" r="0.58" fill="rgb(42,170,21)"/>
<circle cx="24.3" cy="14.2" r="0.41" fill="rgb(44,176,22)"/>
<circle cx="52.3" cy="24.5" r="0.53" fill="rgb(31,127,15)"/>
<circle cx="40.2" cy="5.9" r="0.67" fill="rgb(41,167,20)"/>
<circle cx="50.1" cy="45.1" r="0.53" fill="rgb(24,98,12)"/>
<circle cx="18.5" cy="17.6" r="0.67" fill="rgb(22,90,11)"/>
<circle cx="12.0" cy="27.8" r="0.70" fill="rgb(41,164,20)"/>
<circle cx="64.6" cy="5.9" r="0.50" fill="rgb(34,138,17)"/>
<circle cx="53.0" cy="58.8" r="0.52" fill="rgb(23,95,11)"/>
<circle cx="50.3" cy="51.1" r="0.46" fill="rgb(44,178,22)"/>
<circle cx="39.7" cy="7.8" r="0.66" fill="rgb(42,171,21)"/>
<circle cx="27.5" cy="0.6" r="0.46" fill="rgb(36,147,18)"/>
<circle cx="16.5" cy="47.9" r="0.66" fill="rgb(22,88,11)"/>
<circle cx="45.4" cy="42.0" r="0.51" fill="rgb(32,130,16)"/>
<circle cx="32.6" cy="58.1" r="0.53" fill="rgb(22,88,11)"/>
<circle cx="42.3" cy="6.8" r="0.49" fill="rgb(37,150,18)"/>
<circle cx="85.7" cy="63.7" r="0.51" fill="rgb(45,183,22)"/>
<circle cx="6.9" cy="13.3" r="0.61" fill="rgb(37,149,18)"/>
<circle cx="0.6" cy="64.7" r="0.63" fill="rgb(43,175,21)"/>
<circle cx="30.1" cy="41.9" r="0.45" fill="rgb(32,128,16)"/>
<circle cx="57.9" cy="56.4" r="0.60" fill="rgb(39,156,19)"/>
<circle cx="70.2" cy="16.3" r="0.58" fill="rgb(22,91,11)"/>
<circle cx="16.3" cy="61.0" r="0.63" fill="rgb(41,166,20)"/>
<circle cx="29.4" cy="53.1" r="0.64" fill="rgb(44,176,22)"/>
<circle cx="35.3" cy="62.8" r="0.66" fill="rgb(42,171,21)"/>
<circle cx="77.0" cy="35.0" r="0.52" fill="rgb(38,152,19)"/>
<circle cx="16.3" cy="5.1" r="0.61" fill="rgb(33,135,16)"/>
<circle cx="45.4" cy="37.1" r="0.43" fill="rgb(44,177,22)"/>
<circle cx="45.0" cy="62.6" r="0.56" fill="rgb(29,116,14)"/>
<circle cx="57.2" cy="5.3" r="0.49" fill="rgb(41,166,20)"/>
<circle cx="28.7" cy="35.8" r="0.69" fill="rgb(35,141,17)"/>
<circle cx="80.4" cy="57.8" r="0.43" fill="rgb(35,142,17)"/>
<circle cx="40.4" cy="62.2" r="0.52" fill="rgb(23,94,11)"/>
<circle cx="37.2" cy="53.7" r="0.46" fill="rgb(25,100,12)"/>
<circle cx="4.0" cy="12.3" r="0.56" fill="rgb(38,152,19)"/>
<circle cx="11.1" cy="7.9" r="0.63" fill="rgb(42,168,21)"/>
<circle cx="59.0" cy="17.3" r="0.46" fill="rgb(45,182,22)"/>
<circle cx="33.9" cy="17.0" r="0.45" fill="rgb(45,182,22)"/>
<circle cx="65.1" cy="4.2" r="0.70" fill="rgb(30,122,15)"/>
<circle cx="65.6" cy="39.6" r="0.50" fill="rgb(30,122,15)"/>
<circle cx="58.4" cy="54.1" r="0.65" fill="rgb(40,160,20)"/>
<circle cx="51.2" cy="9.2" r="0.51" fill="rgb(42,168,21)"/>
<circle cx="10.0" cy="2.5" r="0.68" fill="rgb(35,142,17)"/>
<circle cx="33.5" cy="12.5" r="0.47" fill="rgb(35,140,17)"/>
<circle cx="33.2" cy="14.0" r="0.65" fill="rgb(35,141,17)"/>
<circle cx="41.1" cy="17.9" r="0.64" fill="rgb(28,112,14)"/>
<circle cx="8.7" cy="31.5" r="0.50" fill="rgb(35,142,17)"/>
<circle cx="78.9" cy="0.9" r="0.44" fill="rgb(30,122,15)"/>
<circle cx="69.9" cy="62.3" r="0.58" fill="rgb(37,148,18)"/>
<circle cx="5.0" cy="6.8" r="0.54" fill="rgb(45,180,22)"/>
<circle cx="18.9" cy="13.5" r="0.58" fill="rgb(28,112,14)"/>
<circle cx="37.7" cy="57.7" r="0.47" fill="rgb(30,122,15)"/>
<circle cx="65.7" cy="42.1" r="0.47" fill="rgb(35,140,17)"/>
<circle cx="62.1" cy="19.4" r="0.40" fill="rgb(36,145,18)"/>
<circle cx="75.6" cy="43.1" r="0.46" fill="rgb(37,149,18)"/>
<circle cx="31.9" cy="23.3" r="0.61" fill="rgb(41,167,20)"/>
<circle cx="20.6" cy="5.3" r="0.40" fill="rgb(35,140,17)"/>
<circle cx="40.0" cy="48.3" r="0.69" fill="rgb(22,90,11)"/>
<circle cx="52.6" cy="36.1" r="0.50" fill="rgb(37,148,18)"/>
<circle cx="85.2" cy="18.7" r="0.54" fill="rgb(44,179,22)"/>
<circle cx="28.9" cy="18.7" r="0.43" fill="rgb(31,127,15)"/>
<circle cx="23.3" cy="48.2" r="0.69" fill="rgb(22,88,11)"/>
<circle cx="49.9" cy="13.0" r="0.65" fill="rgb(28,115,14)"/>
<circle cx="61.5" cy="24.8" r="0.60" fill="rgb(40,160,20)"/>
<circle cx="41.7" cy="8.5" r="0.60" fill="rgb(32,128,16)"/>
<circle cx="13.0" cy="36.3" r="0.54" fill="rgb(38,153,19)"/>
<circle cx="30.3" cy="27.9" r="0.61" fill="rgb(25,100,12)"/>
<circle cx="53.2" cy="32.5" r="0.48" fill="rgb(40,162,20)"/>
<circle cx="67.4" cy="46.2" r="0.56" fill="rgb(42,171,21)"/>
<circle cx="64.2" cy="26.2" r="0.69" fill="rgb(31,127,15)"/>
<circle cx="4.0" cy="35.1" r="0.66" fill="rgb(37,150,18)"/>
<circle cx="30.0" cy="3.4" r="0.56" fill="rgb(46,185,23)"/>
<circle cx="82.0" cy="28.6" r="0.59" fill="rgb(22,90,11)"/>
<circle cx="86.6" cy="41.6" r="0.64" fill="rgb(42,169,21)"/>
<circle cx="40.2" cy="13.4" r="0.61" fill="rgb(34,139,17)"/>
<circle cx="18.0" cy="25.5" r="0.43" fill="rgb(36,145,18)"/>
<circle cx="6.6" cy="63.8" r="0.57" fill="rgb(32,128,16)"/>
<circle cx="46.2" cy="30.3" r="0.54" fill="rgb(41,167,20)"/>
<circle cx="41.3" cy="25.9" r="0.55" fill="rgb(36,146,18)"/>
<circle cx="13.9" cy="7.1" r="0.60" fill="rgb(41,167,20)"/>
<circle cx="69.1" cy="31.9" r="0.50" fill="rgb(40,163,20)"/>
<circle cx="86.9" cy="54.1" r="0.66" fill="rgb(40,161,20)"/>
<circle cx="53.9" cy="4.8" r="0.51" fill="rgb(40,160,20)"/>
<circle cx="58.2" cy="10.8" r="0.43" fill="rgb(43,172,21)"/>
<circle cx="75.2" cy="25.6" r="0.47" fill="rgb(30,122,15)"/>
<circle cx="34.6" cy="35.5" r="0.46" fill="rgb(27,110,13)"/>
<circle cx="17.1" cy="35.0" r="0.55" fill="rgb(28,113,14)"/>
<circle cx="60.6" cy="53.0" r="0.60" fill="rgb(26,106,13)"/>
<circle cx="44.8" cy="4.8" r="0.59" fill="rgb(35,141,17)"/>
<circle cx="71.8" cy="7.2" r="0.67" fill="rgb(38,154,19)"/>
<circle cx="84.2" cy="48.3" r="0.67" fill="rgb(40,163,20)"/>
<circle cx="9.7" cy="14.1" r="0.66" fill="rgb(45,180,22)"/>
<circle cx="40.8" cy="60.1" r="0.56" fill="rgb(32,131,16)"/>
<circle cx="43.4" cy="14.5" r="0.69" fill="rgb(36,147,18)"/>
<circle cx="24.5" cy="63.2" r="0.44" fill="rgb(28,114,14)"/>
<circle cx="74.5" cy="30.3" r="0.47" fill="rgb(44,177,22)"/>
<circle cx="6.2" cy="61.3" r="0.70" fill="rgb(45,181,22)"/>
<circle cx="5.6" cy="48.5" r="0.62" fill="rgb(30,123,15)"/>
<circle cx="73.9" cy="10.1" r="0.56" fill="rgb(34,139,17)"/>
<circle cx="67.4" cy="18.7" r="0.50" fill="rgb(33,133,16)"/>
<circle cx="8.7" cy="27.0" r="0.46" fill="rgb(38,154,19)"/>
<circle cx="15.5" cy="16.7" r="0.47" fill="rgb(22,88,11)"/>
<circle cx="71.5" cy="56.9" r="0.69" fill="rgb(39,158,19)"/>
<circle cx="52.6" cy="43.3" r="0.53" fill="rgb(27,110,13)"/>
<circle cx="76.0" cy="28.1" r="0.49" fill="rgb(35,143,17)"/>
<circle cx="14.6" cy="33.8" r="0.49" fill="rgb(44,176,22)"/>
<circle cx="39.1" cy="1.1" r="0.40" fill="rgb(37,149,18)"/>
<circle cx="11.8" cy="59.1" r="0.65" fill="rgb(46,184,23)"/>
<circle cx="32.0" cy="26.4" r="0.41" fill="rgb(43,173,21)"/>
<circle cx="20.6" cy="22.7" r="0.42" fill="rgb(31,125,15)"/>
<circle cx="61.5" cy="13.9" r="0.44" fill="rgb(41,165,20)"/>
<circle cx="79.3" cy="64.8" r="0.42" fill="rgb(24,96,12)"/>
<circle cx="85.6" cy="56.6" r="0.70" fill="rgb(31,124,15)"/>
<circle cx="53.9" cy="42.7" r="0.42" fill="rgb(34,138,17)"/>
<circle cx="30.3" cy="16.5" r="0.46" fill="rgb(23,93,11)"/>
<circle cx="74.4" cy="12.8" r="0.44" fill="rgb(28,115,14)"/>
<circle cx="73.7" cy="28.0" r="0.47" fill="rgb(24,96,12)"/>
<circle cx="20.0" cy="17.0" r="0.41" fill="rgb(37,149,18)"/>
<circle cx="73.7" cy="29.5" r="0.64" fill="rgb(39,159,19)"/>
<circle cx="69.6" cy="1.1" r="0.64" fill="rgb(23,92,11)"/>
<circle cx="46.8" cy="45.9" r="0.65" fill="rgb(28,112,14)"/>
<circle cx="74.7" cy="50.8" r="0.50" fill="rgb(21,86,10)"/>
<circle cx="83.4" cy="19.2" r="0.41" fill="rgb(25,100,12)"/>
<circle cx="87.9" cy="6.9" r="0.51" fill="rgb(44,176,22)"/>
<circle cx="22.9" cy="21.2" r="0.57" fill="rgb(36,147,18)"/>
<circle cx="46.0" cy="3.9" r="0.67" fill="rgb(45,183,22)"/>
<circle cx="80.7" cy="9.2" r="0.67" fill="rgb(22,91,11)"/>
<circle cx="59.3" cy="20.4" r="0.55" fill="rgb(29,116,14)"/>
<circle cx="45.4" cy="18.1" r="0.45" fill="rgb(39,156,19)"/>
<circle cx="16.5" cy="12.8" r="0.66" fill="rgb(25,103,12)"/>
<circle cx="58.6" cy="30.7" r="0.41" fill="rgb(27,111,13)"/>
<circle cx="18.7" cy="24.2" r="0.57" fill="rgb(21,87,10)"/>
<circle cx="26.5" cy="30.2" r="0.64" fill="rgb(42,168,21)"/>
<circle cx="44.5" cy="11.0" r="0.50" fill="rgb(37,151,18)"/>
<circle cx="17.5" cy="22.7" r="0.65" fill="rgb(30,121,15)"/>
<circle cx="28.3" cy="62.5" r="0.67" fill="rgb(36,147,18)"/>
<circle cx="54.1" cy="54.1" r="0.54" fill="rgb(42,168,21)"/>
<circle cx="27.2" cy="50.6" r="0.43" fill="rgb(22,90,11)"/>
<circle cx="22.8" cy="44.1" r="0.42" fill="rgb(45,180,22)"/>
<circle cx="31.4" cy="6.2" r="0.40" fill="rgb(43,172,21)"/>
<circle cx="46.1" cy="4.5" r="0.57" fill="rgb(30,123,15)"/>
<circle cx="12.0" cy="30.3" r="0.44" fill="rgb(37,149,18)"/>
<circle cx="60.0" cy="24.6" r="0.59" fill="rgb(44,177,22)"/>
<circle cx="48.1" cy="53.0" r="0.50" fill="rgb(37,151,18)"/>
<circle cx="27.3" cy="31.4" r="0.50" fill="rgb(23,94,11)"/>
<circle cx="82.7" cy="38.8" r="0.49" fill="rgb(24,98,12)"/>
<circle cx="35.5" cy="65.0" r="0.44" fill="rgb(32,128,16)"/>
<circle cx="39.6" cy="17.9" r="0.66" fill="rgb(30,123,15)"/>
<circle cx="60.6" cy="5.0" r="0.67" fill="rgb(32,129,16)"/>
<circle cx="9.2" cy="54.0" r="0.65" fill="rgb(31,124,15)"/>
<circle cx="82.0" cy="20.2" r="0.43" fill="rgb(41,166,20)"/>
<circle cx="37.1" cy="58.9" r="0.67" fill="rgb(32,128,16)"/>
<circle cx="58.1" cy="25.2" r="0.52" fill="rgb(40,160,20)"/>
<circle cx="9.2" cy="60.1" r="0.45" fill="rgb(33,132,16)"/>
<circle cx="59.3" cy="65.2" r="0.61" fill="rgb(39,156,19)"/>
<circle cx="28.6" cy="33.4" r="0.62" fill="rgb(33,135,16)"/>
<circle cx="77.9" cy="26.3" r="0.63" fill="rgb(28,112,14)"/>
<circle cx="10.0" cy="51.9" r="0.57" fill="rgb(38,155,19)"/>
<circle cx="36.2" cy="5.0" r="0.67" fill="rgb(44,176,22)"/>
<circle cx="54.6" cy="23.5" r="0.51" fill="rgb(24,98,12)"/>
<circle cx="1.4" cy="24.3" r="0.44" fill="rgb(35,141,17)"/>
<circle cx="2.7" cy="3.5" r="0.46" fill="rgb(24,98,12)"/>
<circle cx="24.3" cy="32.4" r="0.43" fill="rgb(24,99,12)"/>
<ellipse cx="13.9" cy="38.3" rx="0.85" ry="0.68" transform="rotate(42 13.9 38.3)" fill="#3ed818"/>
<ellipse cx="57.3" cy="18.5" rx="0.87" ry="0.59" transform="rotate(16 57.3 18.5)" fill="#3ed818"/>
<ellipse cx="87.8" cy="17.0" rx="0.70" ry="0.55" transform="rotate(10 87.8 17.0)" fill="#3ed818"/>
<ellipse cx="9.0" cy="15.0" rx="0.78" ry="0.56" transform="rotate(60 9.0 15.0)" fill="#3ed818"/>
<ellipse cx="27.2" cy="51.2" rx="0.85" ry="0.74" transform="rotate(126 27.2 51.2)" fill="#3ed818"/>
<ellipse cx="77.8" cy="28.5" rx="0.83" ry="0.65" transform="rotate(180 77.8 28.5)" fill="#3ed818"/>
<ellipse cx="7.0" cy="44.9" rx="1.03" ry="0.79" transform="rotate(22 7.0 44.9)" fill="#3ed818"/>
<ellipse cx="87.8" cy="21.5" rx="1.07" ry="0.79" transform="rotate(21 87.8 21.5)" fill="#3ed818"/>
<ellipse cx="46.9" cy="19.4" rx="0.82" ry="0.71" transform="rotate(162 46.9 19.4)" fill="#3ed818"/>
<ellipse cx="50.6" cy="43.2" rx="0.97" ry="0.71" transform="rotate(138 50.6 43.2)" fill="#3ed818"/>
<ellipse cx="53.4" cy="65.4" rx="1.02" ry="0.88" transform="rotate(7 53.4 65.4)" fill="#3ed818"/>
<ellipse cx="41.1" cy="10.0" rx="0.82" ry="0.51" transform="rotate(156 41.1 10.0)" fill="#3ed818"/>
<ellipse cx="40.1" cy="36.7" rx="1.03" ry="0.86" transform="rotate(156 40.1 36.7)" fill="#3ed818"/>
<ellipse cx="3.2" cy="6.7" rx="0.89" ry="0.69" transform="rotate(177 3.2 6.7)" fill="#3ed818"/>
<ellipse cx="30.9" cy="9.1" rx="0.80" ry="0.51" transform="rotate(134 30.9 9.1)" fill="#3ed818"/>
<ellipse cx="48.0" cy="16.5" rx="1.00" ry="0.72" transform="rotate(35 48.0 16.5)" fill="#3ed818"/>
<ellipse cx="6.4" cy="51.2" rx="1.03" ry="0.84" transform="rotate(173 6.4 51.2)" fill="#3ed818"/>
<ellipse cx="84.8" cy="0.4" rx="0.75" ry="0.57" transform="rotate(93 84.8 0.4)" fill="#3ed818"/>
<ellipse cx="31.1" cy="14.2" rx="0.81" ry="0.72" transform="rotate(89 31.1 14.2)" fill="#3ed818"/>
<ellipse cx="37.1" cy="48.7" rx="0.99" ry="0.83" transform="rotate(141 37.1 48.7)" fill="#3ed818"/>
<ellipse cx="27.1" cy="16.1" rx="0.90" ry="0.74" transform="rotate(48 27.1 16.1)" fill="#3ed818"/>
<ellipse cx="79.8" cy="8.0" rx="0.79" ry="0.57" transform="rotate(32 79.8 8.0)" fill="#3ed818"/>
<ellipse cx="11.6" cy="20.5" rx="0.70" ry="0.55" transform="rotate(99 11.6 20.5)" fill="#3ed818"/>
<ellipse cx="12.6" cy="48.8" rx="0.86" ry="0.66" transform="rotate(159 12.6 48.8)" fill="#3ed818"/>
<ellipse cx="44.0" cy="7.2" rx="0.83" ry="0.54" transform="rotate(160 44.0 7.2)" fill="#3ed818"/>
<ellipse cx="20.9" cy="4.7" rx="0.88" ry="0.62" transform="rotate(141 20.9 4.7)" fill="#3ed818"/>
<ellipse cx="2.0" cy="14.7" rx="0.83" ry="0.52" transform="rotate(92 2.0 14.7)" fill="#3ed818"/>
<ellipse cx="78.7" cy="60.8" rx="0.93" ry="0.56" transform="rotate(115 78.7 60.8)" fill="#3ed818"/>
<ellipse cx="13.2" cy="35.3" rx="0.95" ry="0.84" transform="rotate(102 13.2 35.3)" fill="#3ed818"/>
<ellipse cx="22.3" cy="5.7" rx="1.00" ry="0.71" transform="rotate(56 22.3 5.7)" fill="#3ed818"/>
<ellipse cx="2.7" cy="1.4" rx="1.94" ry="1.51" fill="#185f0a"/>
<ellipse cx="21.6" cy="6.2" rx="2.70" ry="1.30" transform="rotate(-60 21.6 6.2)" fill="#185f0a"/>
<ellipse cx="26.6" cy="10.2" rx="1.30" ry="1.51" fill="#185f0a"/>
<ellipse cx="35.4" cy="6.7" rx="2.16" ry="1.30" fill="#185f0a"/>
<ellipse cx="46.9" cy="3.2" rx="1.51" ry="1.94" fill="#185f0a"/>
<ellipse cx="49.6" cy="6.2" rx="1.30" ry="1.30" fill="#185f0a"/>
<ellipse cx="54.5" cy="6.7" rx="1.51" ry="1.73" fill="#185f0a"/>
<ellipse cx="65.5" cy="6.2" rx="1.30" ry="1.94" fill="#185f0a"/>
<ellipse cx="71.7" cy="5.8" rx="2.70" ry="1.94" fill="#185f0a"/>
<ellipse cx="76.1" cy="6.7" rx="1.30" ry="2.16" fill="#185f0a"/>
<ellipse cx="88.5" cy="4.4" rx="1.08" ry="1.51" fill="#185f0a"/>
<ellipse cx="67.6" cy="12.0" rx="2.37" ry="2.37" fill="#185f0a"/>
<ellipse cx="59.8" cy="15.6" rx="1.51" ry="2.16" fill="#185f0a"/>
<ellipse cx="63.7" cy="18.6" rx="2.70" ry="1.51" transform="rotate(-30 63.7 18.6)" fill="#185f0a"/>
<ellipse cx="55.2" cy="21.4" rx="2.37" ry="1.51" fill="#185f0a"/>
<ellipse cx="50.4" cy="24.4" rx="1.51" ry="1.94" fill="#185f0a"/>
<ellipse cx="44.6" cy="25.6" rx="1.94" ry="1.94" fill="#185f0a"/>
<ellipse cx="34.5" cy="26.2" rx="1.30" ry="1.73" fill="#185f0a"/>
<ellipse cx="41.1" cy="29.2" rx="1.08" ry="1.51" fill="#185f0a"/>
<ellipse cx="38.6" cy="32.4" rx="1.30" ry="1.30" fill="#185f0a"/>
<ellipse cx="23.0" cy="29.7" rx="3.78" ry="1.73" transform="rotate(-65 23.0 29.7)" fill="#185f0a"/>
<ellipse cx="21.2" cy="25.6" rx="1.08" ry="1.51" fill="#185f0a"/>
<ellipse cx="77.0" cy="14.3" rx="1.08" ry="1.73" fill="#185f0a"/>
<ellipse cx="78.8" cy="21.4" rx="1.08" ry="1.30" fill="#185f0a"/>
<ellipse cx="85.8" cy="18.6" rx="1.73" ry="1.08" fill="#185f0a"/>
<ellipse cx="71.7" cy="25.3" rx="1.51" ry="1.08" fill="#185f0a"/>
<ellipse cx="65.5" cy="27.1" rx="2.16" ry="1.08" fill="#185f0a"/>
<ellipse cx="82.8" cy="32.4" rx="1.51" ry="1.30" fill="#185f0a"/>
<ellipse cx="53.1" cy="41.2" rx="1.51" ry="2.16" fill="#185f0a"/>
<ellipse cx="42.5" cy="37.3" rx="1.51" ry="1.30" fill="#185f0a"/>
<ellipse cx="11.5" cy="44.8" rx="1.73" ry="1.73" fill="#185f0a"/>
<ellipse cx="0.9" cy="49.2" rx="1.30" ry="1.73" fill="#185f0a"/>
<ellipse cx="13.3" cy="56.2" rx="1.94" ry="1.73" fill="#185f0a"/>
<ellipse cx="33.3" cy="51.5" rx="2.70" ry="1.30" fill="#185f0a"/>
<ellipse cx="39.3" cy="53.9" rx="1.08" ry="1.08" fill="#185f0a"/>
<ellipse cx="47.4" cy="53.9" rx="1.51" ry="1.51" fill="#185f0a"/>
<ellipse cx="75.7" cy="50.1" rx="2.16" ry="1.30" fill="#185f0a"/>
<ellipse cx="73.4" cy="53.2" rx="2.81" ry="3.78" fill="#185f0a"/>
<ellipse cx="54.5" cy="60.3" rx="1.51" ry="1.51" fill="#185f0a"/>
<ellipse cx="58.8" cy="65.1" rx="1.30" ry="1.30" fill="#185f0a"/>
<ellipse cx="80.0" cy="41.2" rx="2.37" ry="1.08" transform="rotate(30 80.0 41.2)" fill="#185f0a"/>
<ellipse cx="76.1" cy="36.3" rx="1.30" ry="1.30" fill="#185f0a"/>
<ellipse cx="6.7" cy="9.7" rx="0.86" ry="0.86" fill="#185f0a"/>
<ellipse cx="7.1" cy="15.6" rx="0.86" ry="0.86" fill="#185f0a"/>
<polygon points="4.2,1.0 3.4,1.9 2.3,3.0 1.1,2.4 1.4,1.1 2.1,0.8 3.2,0.8" fill="#66ff22"/>
<polygon points="21.4,7.0 20.9,7.3 20.6,6.5 21.7,4.1 22.6,3.9 22.8,5.6 21.8,6.7" fill="#66ff22"/>
<polygon points="27.4,10.6 27.0,11.4 26.3,11.6 25.3,10.6 25.4,9.8 26.5,8.9 27.3,9.3" fill="#66ff22"/>
<polygon points="36.1,7.1 35.4,7.7 34.0,7.1 33.4,6.4 35.2,6.1 36.3,5.6 36.9,6.6" fill="#66ff22"/>
<polygon points="48.1,3.2 47.5,3.8 46.8,4.9 45.5,4.4 45.6,2.5 46.9,2.5 47.6,2.3" fill="#66ff22"/>
<ellipse cx="49.6" cy="6.2" rx="0.96" ry="0.96" fill="#66ff22"/>
<polygon points="55.4,6.8 54.8,7.2 54.3,8.2 54.0,7.2 53.5,5.6 54.3,5.9 55.2,6.0" fill="#66ff22"/>
<polygon points="65.1,5.4 65.7,5.1 66.3,5.2 66.2,6.9 65.5,6.8 64.8,7.1 64.5,6.7" fill="#66ff22"/>
<polygon points="71.9,4.0 73.3,4.7 74.4,6.5 73.8,7.4 70.4,7.4 70.7,6.2 70.1,4.9" fill="#66ff22"/>
<polygon points="76.7,7.4 76.1,8.4 75.4,7.6 75.0,5.6 76.0,5.8 76.5,6.0 76.8,6.4" fill="#66ff22"/>
<polygon points="89.2,4.1 89.2,5.2 88.6,5.4 87.9,5.3 87.7,4.4 87.8,3.4 88.7,3.4" fill="#66ff22"/>
<polygon points="66.4,13.6 65.2,12.2 66.1,11.2 67.9,10.5 68.8,10.8 68.5,12.4 68.6,14.4" fill="#66ff22"/>
<polygon points="60.8,13.5 60.9,16.1 60.2,16.9 59.7,16.3 58.6,15.9 58.2,14.8 59.6,13.5" fill="#66ff22"/>
<polygon points="66.1,17.7 64.4,19.5 63.1,19.8 62.4,19.6 62.2,18.4 63.2,17.0 64.9,16.8" fill="#66ff22"/>
<polygon points="54.0,21.4 53.2,20.3 55.5,20.4 55.9,20.9 56.0,21.6 56.2,22.3 53.7,22.6" fill="#66ff22"/>
<polygon points="50.3,22.2 50.8,23.9 50.9,24.6 50.7,25.3 50.3,25.6 49.3,25.1 49.4,23.1" fill="#66ff22"/>
<polygon points="46.7,25.5 45.1,26.2 44.3,26.4 43.0,26.3 43.8,25.3 44.5,24.6 46.0,24.5" fill="#66ff22"/>
<polygon points="33.6,25.8 34.0,24.9 34.8,25.5 35.8,25.6 34.9,26.6 34.5,27.7 34.1,26.9" fill="#66ff22"/>
<polygon points="40.4,28.4 41.0,27.6 41.5,28.8 41.6,29.2 41.5,30.3 40.8,29.9 40.7,29.4" fill="#66ff22"/>
<ellipse cx="38.6" cy="32.4" rx="0.96" ry="0.96" fill="#66ff22"/>
<polygon points="24.6,28.2 24.0,30.3 23.2,32.5 21.3,32.3 22.1,30.0 22.2,27.9 24.0,26.9" fill="#66ff22"/>
<polygon points="20.3,26.5 20.7,25.5 21.1,24.3 21.6,24.6 22.3,25.3 22.1,26.8 20.9,26.8" fill="#66ff22"/>
<polygon points="77.4,13.2 77.8,14.6 77.3,15.0 76.8,16.0 76.0,14.8 76.4,14.0 77.0,13.3" fill="#66ff22"/>
<ellipse cx="78.8" cy="21.4" rx="0.80" ry="0.96" fill="#66ff22"/>
<polygon points="87.0,18.2 87.0,19.0 85.9,19.8 85.1,19.3 85.2,18.6 85.4,17.8 86.0,17.7" fill="#66ff22"/>
<polygon points="71.0,26.2 70.7,25.2 70.7,24.7 71.5,24.1 72.2,25.1 73.1,25.7 71.9,26.4" fill="#66ff22"/>
<polygon points="66.1,26.8 67.4,26.9 66.1,27.5 65.0,27.6 63.7,27.7 64.8,26.9 65.5,26.7" fill="#66ff22"/>
<polygon points="83.0,31.8 83.7,31.8 83.8,32.6 83.5,33.7 82.5,32.9 81.7,32.6 82.3,32.0" fill="#66ff22"/>
<polygon points="52.4,39.6 53.5,40.2 53.8,41.2 53.7,41.7 53.1,43.2 51.9,41.9 52.1,40.9" fill="#66ff22"/>
<polygon points="44.0,36.8 43.7,38.3 42.2,38.5 41.5,37.7 41.0,37.1 41.8,36.2 42.7,36.6" fill="#66ff22"/>
<polygon points="11.6,45.7 10.6,45.4 10.7,44.3 11.1,43.8 12.2,43.6 12.7,44.6 12.3,45.3" fill="#66ff22"/>
<polygon points="-0.2,50.0 0.1,48.9 0.7,48.6 1.5,47.9 1.9,49.1 1.3,49.8 0.9,50.2" fill="#66ff22"/>
<polygon points="14.1,57.8 12.2,57.9 11.3,56.3 12.5,55.2 14.0,54.6 14.5,55.7 14.0,56.4" fill="#66ff22"/>
<polygon points="34.4,51.8 34.0,52.8 32.0,52.5 32.0,51.4 31.9,50.8 33.9,50.3 35.6,50.8" fill="#66ff22"/>
<ellipse cx="39.3" cy="53.9" rx="0.80" ry="0.80" fill="#66ff22"/>
<polygon points="46.8,52.8 48.0,52.8 48.7,53.7 48.0,54.3 47.2,55.3 46.6,54.9 46.6,53.7" fill="#66ff22"/>
<polygon points="77.2,51.1 75.5,51.1 74.9,50.3 73.9,49.9 74.5,48.8 76.2,49.6 77.7,49.8" fill="#66ff22"/>
<polygon points="74.9,50.5 75.4,54.3 74.5,56.3 73.2,55.5 71.4,54.3 70.8,51.5 73.2,49.5" fill="#66ff22"/>
<polygon points="53.6,59.2 54.7,59.3 55.6,59.6 55.4,60.8 54.8,61.0 54.0,60.8 53.7,60.2" fill="#66ff22"/>
<ellipse cx="58.8" cy="65.1" rx="0.96" ry="0.96" fill="#66ff22"/>
<polygon points="79.7,39.9 80.9,40.6 81.5,41.7 80.9,42.2 79.9,42.1 78.7,41.0 78.5,40.4" fill="#66ff22"/>
<ellipse cx="76.1" cy="36.3" rx="0.96" ry="0.96" fill="#66ff22"/>
<ellipse cx="6.7" cy="9.7" rx="0.64" ry="0.64" fill="#66ff22"/>
<ellipse cx="7.1" cy="15.6" rx="0.64" ry="0.64" fill="#66ff22"/>
<ellipse cx="69.9" cy="54.5" rx="2.79" ry="1.43" transform="rotate(-65 69.9 54.5)" fill="#ff1208"/>
<circle cx="46.4" cy="47.9" r="0.80" fill="rgb(249,17,17)"/>
</g></svg>
<text x="358.725" y="428.65" font-size="6.1" text-anchor="middle" font-weight="normal">APC+T cells+MSC+TTI-CD200</text>
<svg x="315.00" y="431.25" width="88.75" height="65.85" viewBox="0 0 88.75 65.85">
<rect width="88.75" height="65.85" fill="#000"/>
<g filter="url(#bl)">
<circle cx="59.6" cy="31.4" r="0.40" fill="rgb(42,169,21)"/>
<circle cx="74.3" cy="43.6" r="0.60" fill="rgb(45,182,22)"/>
<circle cx="58.4" cy="17.8" r="0.64" fill="rgb(32,129,16)"/>
<circle cx="19.6" cy="50.6" r="0.48" fill="rgb(27,110,13)"/>
<circle cx="40.5" cy="63.5" r="0.41" fill="rgb(41,166,20)"/>
<circle cx="80.8" cy="33.6" r="0.64" fill="rgb(25,101,12)"/>
<circle cx="0.2" cy="9.4" r="0.68" fill="rgb(40,163,20)"/>
<circle cx="82.0" cy="11.4" r="0.54" fill="rgb(44,176,22)"/>
<circle cx="39.1" cy="3.1" r="0.66" fill="rgb(43,175,21)"/>
<circle cx="26.8" cy="50.7" r="0.44" fill="rgb(41,167,20)"/>
<circle cx="45.2" cy="28.5" r="0.45" fill="rgb(44,178,22)"/>
<circle cx="40.6" cy="2.3" r="0.49" fill="rgb(22,89,11)"/>
<circle cx="35.7" cy="28.6" r="0.58" fill="rgb(27,110,13)"/>
<circle cx="87.6" cy="2.9" r="0.40" fill="rgb(33,132,16)"/>
<circle cx="69.7" cy="40.9" r="0.45" fill="rgb(35,142,17)"/>
<circle cx="16.7" cy="43.5" r="0.70" fill="rgb(24,96,12)"/>
<circle cx="34.1" cy="0.9" r="0.45" fill="rgb(43,175,21)"/>
<circle cx="51.6" cy="16.2" r="0.70" fill="rgb(44,179,22)"/>
<circle cx="50.7" cy="61.2" r="0.46" fill="rgb(34,138,17)"/>
<circle cx="86.7" cy="64.8" r="0.52" fill="rgb(26,104,13)"/>
<circle cx="27.9" cy="11.6" r="0.57" fill="rgb(37,149,18)"/>
<circle cx="63.9" cy="39.9" r="0.48" fill="rgb(28,113,14)"/>
<circle cx="49.9" cy="17.1" r="0.49" fill="rgb(27,111,13)"/>
<circle cx="11.5" cy="54.1" r="0.49" fill="rgb(25,101,12)"/>
<circle cx="49.0" cy="56.1" r="0.70" fill="rgb(40,163,20)"/>
<circle cx="21.6" cy="57.9" r="0.47" fill="rgb(31,127,15)"/>
<circle cx="11.2" cy="7.4" r="0.61" fill="rgb(44,176,22)"/>
<circle cx="68.1" cy="25.0" r="0.65" fill="rgb(43,173,21)"/>
<circle cx="60.6" cy="61.3" r="0.54" fill="rgb(34,138,17)"/>
<circle cx="16.3" cy="40.0" r="0.48" fill="rgb(29,118,14)"/>
<circle cx="52.2" cy="42.8" r="0.50" fill="rgb(27,108,13)"/>
<circle cx="58.4" cy="39.7" r="0.44" fill="rgb(26,105,13)"/>
<circle cx="23.2" cy="11.6" r="0.49" fill="rgb(25,103,12)"/>
<circle cx="40.2" cy="5.6" r="0.46" fill="rgb(38,154,19)"/>
<circle cx="62.9" cy="12.4" r="0.56" fill="rgb(35,142,17)"/>
<circle cx="24.3" cy="14.3" r="0.60" fill="rgb(44,176,22)"/>
<circle cx="72.8" cy="65.5" r="0.49" fill="rgb(41,166,20)"/>
<circle cx="59.9" cy="8.5" r="0.52" fill="rgb(35,142,17)"/>
<circle cx="42.0" cy="25.8" r="0.48" fill="rgb(41,165,20)"/>
<circle cx="48.2" cy="22.3" r="0.65" fill="rgb(39,157,19)"/>
<circle cx="66.6" cy="41.7" r="0.58" fill="rgb(21,85,10)"/>
<circle cx="74.1" cy="30.6" r="0.55" fill="rgb(23,95,11)"/>
<circle cx="69.0" cy="18.1" r="0.69" fill="rgb(45,180,22)"/>
<circle cx="86.7" cy="50.0" r="0.56" fill="rgb(22,91,11)"/>
<circle cx="51.4" cy="10.3" r="0.65" fill="rgb(31,124,15)"/>
<circle cx="37.1" cy="36.8" r="0.50" fill="rgb(33,135,16)"/>
<circle cx="12.9" cy="62.4" r="0.57" fill="rgb(40,161,20)"/>
<circle cx="9.3" cy="7.9" r="0.57" fill="rgb(34,139,17)"/>
<circle cx="24.6" cy="0.2" r="0.60" fill="rgb(27,108,13)"/>
<circle cx="80.0" cy="22.5" r="0.52" fill="rgb(21,85,10)"/>
<circle cx="21.7" cy="21.2" r="0.41" fill="rgb(25,100,12)"/>
<circle cx="85.9" cy="46.6" r="0.67" fill="rgb(31,124,15)"/>
<circle cx="44.1" cy="39.1" r="0.69" fill="rgb(41,165,20)"/>
<circle cx="78.3" cy="28.6" r="0.56" fill="rgb(35,141,17)"/>
<circle cx="56.0" cy="47.6" r="0.59" fill="rgb(28,113,14)"/>
<circle cx="87.6" cy="31.9" r="0.69" fill="rgb(23,94,11)"/>
<circle cx="84.9" cy="63.2" r="0.64" fill="rgb(35,140,17)"/>
<circle cx="4.6" cy="52.5" r="0.45" fill="rgb(25,101,12)"/>
<circle cx="9.8" cy="59.4" r="0.53" fill="rgb(26,107,13)"/>
<circle cx="41.6" cy="50.0" r="0.69" fill="rgb(30,123,15)"/>
<circle cx="78.2" cy="5.5" r="0.41" fill="rgb(22,89,11)"/>
<circle cx="42.5" cy="61.8" r="0.41" fill="rgb(42,168,21)"/>
<circle cx="50.5" cy="12.8" r="0.53" fill="rgb(26,104,13)"/>
<circle cx="75.0" cy="17.8" r="0.40" fill="rgb(30,121,15)"/>
<circle cx="1.4" cy="22.3" r="0.56" fill="rgb(33,132,16)"/>
<circle cx="63.4" cy="40.0" r="0.70" fill="rgb(33,133,16)"/>
<circle cx="4.0" cy="30.8" r="0.60" fill="rgb(24,98,12)"/>
<circle cx="23.7" cy="38.1" r="0.51" fill="rgb(35,142,17)"/>
<circle cx="86.3" cy="39.1" r="0.61" fill="rgb(34,136,17)"/>
<circle cx="14.4" cy="65.0" r="0.53" fill="rgb(24,96,12)"/>
<circle cx="41.3" cy="51.4" r="0.49" fill="rgb(22,91,11)"/>
<circle cx="37.1" cy="39.4" r="0.41" fill="rgb(38,154,19)"/>
<circle cx="64.3" cy="5.7" r="0.64" fill="rgb(22,90,11)"/>
<circle cx="9.9" cy="6.9" r="0.61" fill="rgb(42,170,21)"/>
<circle cx="52.3" cy="58.2" r="0.43" fill="rgb(41,165,20)"/>
<circle cx="7.3" cy="29.5" r="0.41" fill="rgb(26,106,13)"/>
<circle cx="69.1" cy="17.7" r="0.64" fill="rgb(30,123,15)"/>
<circle cx="35.5" cy="22.9" r="0.44" fill="rgb(29,118,14)"/>
<circle cx="6.1" cy="20.5" r="0.43" fill="rgb(42,168,21)"/>
<circle cx="19.8" cy="36.0" r="0.45" fill="rgb(21,85,10)"/>
<circle cx="77.5" cy="57.9" r="0.43" fill="rgb(45,183,22)"/>
<circle cx="33.5" cy="22.8" r="0.69" fill="rgb(32,130,16)"/>
<circle cx="67.6" cy="60.2" r="0.55" fill="rgb(23,94,11)"/>
<circle cx="64.6" cy="21.5" r="0.44" fill="rgb(44,178,22)"/>
<circle cx="13.0" cy="38.3" r="0.62" fill="rgb(39,157,19)"/>
<circle cx="38.8" cy="14.2" r="0.46" fill="rgb(45,182,22)"/>
<circle cx="76.5" cy="37.5" r="0.41" fill="rgb(25,103,12)"/>
<circle cx="87.5" cy="26.8" r="0.67" fill="rgb(28,112,14)"/>
<circle cx="34.8" cy="32.9" r="0.42" fill="rgb(22,89,11)"/>
<circle cx="6.3" cy="5.1" r="0.43" fill="rgb(35,143,17)"/>
<circle cx="84.6" cy="21.4" r="0.47" fill="rgb(31,124,15)"/>
<circle cx="53.6" cy="31.4" r="0.43" fill="rgb(28,113,14)"/>
<circle cx="37.1" cy="5.3" r="0.61" fill="rgb(34,137,17)"/>
<circle cx="20.1" cy="42.6" r="0.64" fill="rgb(42,171,21)"/>
<circle cx="74.7" cy="22.4" r="0.51" fill="rgb(42,171,21)"/>
<circle cx="19.2" cy="58.6" r="0.47" fill="rgb(44,178,22)"/>
<circle cx="46.8" cy="10.4" r="0.44" fill="rgb(45,183,22)"/>
<circle cx="74.2" cy="23.5" r="0.51" fill="rgb(26,105,13)"/>
<circle cx="80.9" cy="29.8" r="0.64" fill="rgb(40,162,20)"/>
<circle cx="18.9" cy="32.1" r="0.49" fill="rgb(42,171,21)"/>
<circle cx="47.8" cy="48.5" r="0.61" fill="rgb(27,110,13)"/>
<circle cx="52.2" cy="31.7" r="0.46" fill="rgb(28,113,14)"/>
<circle cx="83.8" cy="27.6" r="0.67" fill="rgb(29,118,14)"/>
<circle cx="42.8" cy="51.1" r="0.46" fill="rgb(22,90,11)"/>
<circle cx="40.3" cy="27.6" r="0.53" fill="rgb(22,88,11)"/>
<circle cx="3.8" cy="3.9" r="0.67" fill="rgb(44,176,22)"/>
<circle cx="54.4" cy="1.8" r="0.49" fill="rgb(24,99,12)"/>
<circle cx="15.9" cy="27.1" r="0.67" fill="rgb(26,107,13)"/>
<circle cx="50.2" cy="49.0" r="0.55" fill="rgb(31,124,15)"/>
<circle cx="71.0" cy="38.3" r="0.64" fill="rgb(37,151,18)"/>
<circle cx="49.7" cy="56.5" r="0.68" fill="rgb(28,115,14)"/>
<circle cx="24.4" cy="50.6" r="0.58" fill="rgb(38,155,19)"/>
<circle cx="17.6" cy="54.6" r="0.40" fill="rgb(30,122,15)"/>
<circle cx="67.6" cy="1.6" r="0.53" fill="rgb(36,147,18)"/>
<circle cx="45.4" cy="50.9" r="0.43" fill="rgb(31,127,15)"/>
<circle cx="78.2" cy="61.6" r="0.47" fill="rgb(33,132,16)"/>
<circle cx="0.1" cy="7.5" r="0.59" fill="rgb(35,140,17)"/>
<circle cx="50.2" cy="6.0" r="0.43" fill="rgb(22,89,11)"/>
<circle cx="44.1" cy="53.8" r="0.48" fill="rgb(24,98,12)"/>
<circle cx="5.3" cy="4.5" r="0.53" fill="rgb(24,99,12)"/>
<circle cx="70.6" cy="56.2" r="0.57" fill="rgb(41,166,20)"/>
<circle cx="80.5" cy="33.6" r="0.52" fill="rgb(25,102,12)"/>
<circle cx="74.5" cy="15.7" r="0.45" fill="rgb(33,133,16)"/>
<circle cx="73.4" cy="59.3" r="0.70" fill="rgb(40,161,20)"/>
<circle cx="66.9" cy="26.7" r="0.49" fill="rgb(30,121,15)"/>
<circle cx="82.1" cy="7.6" r="0.68" fill="rgb(24,96,12)"/>
<circle cx="6.5" cy="58.8" r="0.62" fill="rgb(24,96,12)"/>
<circle cx="15.1" cy="62.1" r="0.52" fill="rgb(30,121,15)"/>
<circle cx="18.8" cy="31.5" r="0.66" fill="rgb(29,119,14)"/>
<circle cx="21.5" cy="61.0" r="0.43" fill="rgb(29,116,14)"/>
<circle cx="14.1" cy="14.0" r="0.64" fill="rgb(31,126,15)"/>
<circle cx="42.1" cy="65.7" r="0.50" fill="rgb(22,90,11)"/>
<circle cx="15.5" cy="37.7" r="0.64" fill="rgb(31,127,15)"/>
<circle cx="30.2" cy="59.0" r="0.62" fill="rgb(34,136,17)"/>
<circle cx="65.0" cy="40.4" r="0.57" fill="rgb(30,123,15)"/>
<circle cx="29.8" cy="11.0" r="0.68" fill="rgb(34,138,17)"/>
<circle cx="5.9" cy="58.4" r="0.62" fill="rgb(40,160,20)"/>
<circle cx="1.4" cy="32.0" r="0.55" fill="rgb(29,118,14)"/>
<circle cx="57.3" cy="40.0" r="0.59" fill="rgb(39,156,19)"/>
<circle cx="12.7" cy="45.6" r="0.51" fill="rgb(32,131,16)"/>
<circle cx="55.2" cy="62.8" r="0.69" fill="rgb(30,122,15)"/>
<circle cx="13.4" cy="28.2" r="0.47" fill="rgb(40,160,20)"/>
<circle cx="43.2" cy="1.6" r="0.57" fill="rgb(27,110,13)"/>
<circle cx="57.0" cy="63.3" r="0.69" fill="rgb(30,123,15)"/>
<circle cx="7.9" cy="30.5" r="0.64" fill="rgb(35,141,17)"/>
<circle cx="25.0" cy="59.2" r="0.68" fill="rgb(21,87,10)"/>
<circle cx="23.9" cy="52.9" r="0.43" fill="rgb(40,161,20)"/>
<circle cx="86.7" cy="23.0" r="0.60" fill="rgb(25,102,12)"/>
<circle cx="88.1" cy="14.1" r="0.51" fill="rgb(32,130,16)"/>
<circle cx="23.4" cy="54.1" r="0.41" fill="rgb(28,114,14)"/>
<circle cx="65.3" cy="2.7" r="0.47" fill="rgb(25,103,12)"/>
<circle cx="30.3" cy="36.5" r="0.68" fill="rgb(32,131,16)"/>
<circle cx="44.1" cy="3.3" r="0.65" fill="rgb(22,90,11)"/>
<circle cx="75.1" cy="33.7" r="0.54" fill="rgb(40,162,20)"/>
<circle cx="20.9" cy="47.7" r="0.56" fill="rgb(32,129,16)"/>
<circle cx="6.7" cy="11.4" r="0.59" fill="rgb(45,182,22)"/>
<circle cx="72.3" cy="42.5" r="0.69" fill="rgb(46,184,23)"/>
<circle cx="11.0" cy="8.4" r="0.58" fill="rgb(27,111,13)"/>
<circle cx="51.5" cy="26.9" r="0.54" fill="rgb(39,159,19)"/>
<circle cx="11.2" cy="57.8" r="0.69" fill="rgb(25,102,12)"/>
<circle cx="25.2" cy="21.4" r="0.45" fill="rgb(35,141,17)"/>
<circle cx="10.4" cy="52.1" r="0.64" fill="rgb(35,140,17)"/>
<circle cx="43.3" cy="28.8" r="0.64" fill="rgb(45,181,22)"/>
<circle cx="69.8" cy="48.7" r="0.50" fill="rgb(35,142,17)"/>
<circle cx="59.8" cy="35.8" r="0.45" fill="rgb(22,89,11)"/>
<circle cx="84.8" cy="25.9" r="0.50" fill="rgb(44,176,22)"/>
<circle cx="81.9" cy="64.6" r="0.62" fill="rgb(29,116,14)"/>
<circle cx="37.0" cy="33.8" r="0.41" fill="rgb(25,100,12)"/>
<circle cx="80.1" cy="12.9" r="0.43" fill="rgb(26,105,13)"/>
<circle cx="36.6" cy="39.5" r="0.57" fill="rgb(35,142,17)"/>
<ellipse cx="63.7" cy="55.2" rx="0.74" ry="0.53" transform="rotate(44 63.7 55.2)" fill="#3ed818"/>
<ellipse cx="33.6" cy="64.0" rx="0.94" ry="0.59" transform="rotate(111 33.6 64.0)" fill="#3ed818"/>
<ellipse cx="36.5" cy="27.7" rx="0.76" ry="0.50" transform="rotate(170 36.5 27.7)" fill="#3ed818"/>
<ellipse cx="27.1" cy="15.3" rx="0.96" ry="0.68" transform="rotate(36 27.1 15.3)" fill="#3ed818"/>
<ellipse cx="52.9" cy="42.5" rx="0.92" ry="0.61" transform="rotate(83 52.9 42.5)" fill="#3ed818"/>
<ellipse cx="19.2" cy="41.1" rx="0.87" ry="0.55" transform="rotate(42 19.2 41.1)" fill="#3ed818"/>
<ellipse cx="75.0" cy="28.3" rx="1.09" ry="0.77" transform="rotate(28 75.0 28.3)" fill="#3ed818"/>
<ellipse cx="30.0" cy="6.9" rx="1.02" ry="0.90" transform="rotate(154 30.0 6.9)" fill="#3ed818"/>
<ellipse cx="12.7" cy="3.2" rx="0.99" ry="0.87" transform="rotate(121 12.7 3.2)" fill="#3ed818"/>
<ellipse cx="63.8" cy="19.2" rx="0.97" ry="0.81" transform="rotate(13 63.8 19.2)" fill="#3ed818"/>
<ellipse cx="54.0" cy="9.2" rx="0.99" ry="0.73" transform="rotate(165 54.0 9.2)" fill="#3ed818"/>
<ellipse cx="32.8" cy="48.5" rx="0.97" ry="0.83" transform="rotate(142 32.8 48.5)" fill="#3ed818"/>
<ellipse cx="61.8" cy="40.3" rx="0.72" ry="0.45" transform="rotate(42 61.8 40.3)" fill="#3ed818"/>
<ellipse cx="81.3" cy="23.8" rx="0.98" ry="0.67" transform="rotate(53 81.3 23.8)" fill="#3ed818"/>
<ellipse cx="6.3" cy="44.4" rx="0.88" ry="0.66" transform="rotate(130 6.3 44.4)" fill="#3ed818"/>
<ellipse cx="27.5" cy="2.7" rx="0.85" ry="0.67" transform="rotate(97 27.5 2.7)" fill="#3ed818"/>
<ellipse cx="12.5" cy="10.6" rx="0.97" ry="0.61" transform="rotate(101 12.5 10.6)" fill="#3ed818"/>
<ellipse cx="56.3" cy="61.3" rx="0.89" ry="0.63" transform="rotate(127 56.3 61.3)" fill="#3ed818"/>
<ellipse cx="19.5" cy="32.9" rx="0.92" ry="0.72" transform="rotate(78 19.5 32.9)" fill="#3ed818"/>
<ellipse cx="26.4" cy="19.0" rx="1.07" ry="0.78" transform="rotate(145 26.4 19.0)" fill="#3ed818"/>
<ellipse cx="35.0" cy="7.5" rx="0.94" ry="0.61" transform="rotate(167 35.0 7.5)" fill="#3ed818"/>
<ellipse cx="58.5" cy="40.1" rx="0.89" ry="0.76" transform="rotate(76 58.5 40.1)" fill="#3ed818"/>
<ellipse cx="32.5" cy="31.5" rx="1.43" ry="1.99" fill="#2a9a12"/>
<ellipse cx="39.0" cy="1.4" rx="3.24" ry="1.51" fill="#185f0a"/>
<ellipse cx="44.9" cy="1.9" rx="2.70" ry="2.37" fill="#185f0a"/>
<ellipse cx="34.3" cy="7.2" rx="1.73" ry="1.08" fill="#185f0a"/>
<ellipse cx="26.0" cy="9.7" rx="1.51" ry="1.51" fill="#185f0a"/>
<ellipse cx="24.2" cy="12.5" rx="2.37" ry="1.73" fill="#185f0a"/>
<ellipse cx="39.0" cy="12.0" rx="1.30" ry="1.30" fill="#185f0a"/>
<ellipse cx="63.5" cy="4.1" rx="1.73" ry="1.51" fill="#185f0a"/>
<ellipse cx="70.2" cy="5.8" rx="1.30" ry="2.70" fill="#185f0a"/>
<ellipse cx="88.2" cy="17.3" rx="1.08" ry="2.16" fill="#185f0a"/>
<ellipse cx="36.9" cy="20.3" rx="1.51" ry="1.94" fill="#185f0a"/>
<ellipse cx="26.0" cy="17.9" rx="0.86" ry="0.86" fill="#185f0a"/>
<ellipse cx="5.1" cy="17.9" rx="2.70" ry="1.73" fill="#185f0a"/>
<ellipse cx="3.7" cy="20.9" rx="1.30" ry="1.30" fill="#185f0a"/>
<ellipse cx="5.4" cy="25.3" rx="3.02" ry="1.73" fill="#185f0a"/>
<ellipse cx="9.5" cy="29.2" rx="1.51" ry="1.94" fill="#185f0a"/>
<ellipse cx="5.4" cy="28.5" rx="1.08" ry="1.08" fill="#185f0a"/>
<ellipse cx="29.0" cy="25.6" rx="1.73" ry="1.51" fill="#185f0a"/>
<ellipse cx="29.5" cy="29.7" rx="1.51" ry="1.30" fill="#185f0a"/>
<ellipse cx="20.6" cy="31.5" rx="2.16" ry="1.30" fill="#185f0a"/>
<ellipse cx="22.4" cy="38.0" rx="1.73" ry="1.51" fill="#185f0a"/>
<ellipse cx="5.4" cy="39.4" rx="1.51" ry="1.51" fill="#185f0a"/>
<ellipse cx="13.0" cy="36.8" rx="1.08" ry="1.73" fill="#185f0a"/>
<ellipse cx="11.3" cy="45.1" rx="2.70" ry="1.51" transform="rotate(30 11.3 45.1)" fill="#185f0a"/>
<ellipse cx="17.8" cy="43.9" rx="2.37" ry="3.24" fill="#185f0a"/>
<ellipse cx="15.7" cy="47.4" rx="1.94" ry="2.16" fill="#185f0a"/>
<ellipse cx="24.9" cy="50.1" rx="2.70" ry="2.70" fill="#185f0a"/>
<ellipse cx="24.9" cy="45.1" rx="1.30" ry="1.30" fill="#185f0a"/>
<ellipse cx="7.7" cy="51.5" rx="1.51" ry="1.51" fill="#185f0a"/>
<ellipse cx="14.3" cy="58.0" rx="2.70" ry="3.78" fill="#185f0a"/>
<ellipse cx="10.7" cy="60.3" rx="1.30" ry="1.73" fill="#185f0a"/>
<ellipse cx="25.4" cy="64.2" rx="1.51" ry="1.51" fill="#185f0a"/>
<ellipse cx="68.8" cy="26.7" rx="1.30" ry="1.51" fill="#185f0a"/>
<ellipse cx="68.4" cy="35.0" rx="1.94" ry="1.94" fill="#185f0a"/>
<ellipse cx="65.2" cy="38.6" rx="1.94" ry="1.73" fill="#185f0a"/>
<ellipse cx="64.3" cy="42.6" rx="2.16" ry="1.73" fill="#185f0a"/>
<ellipse cx="59.9" cy="45.6" rx="1.94" ry="2.16" fill="#185f0a"/>
<ellipse cx="67.4" cy="43.9" rx="1.08" ry="1.08" fill="#185f0a"/>
<ellipse cx="75.0" cy="46.9" rx="1.51" ry="2.37" fill="#185f0a"/>
<ellipse cx="77.3" cy="50.9" rx="1.30" ry="1.30" fill="#185f0a"/>
<ellipse cx="73.2" cy="53.2" rx="1.51" ry="1.51" fill="#185f0a"/>
<ellipse cx="59.0" cy="55.0" rx="1.51" ry="1.73" fill="#185f0a"/>
<ellipse cx="66.1" cy="56.8" rx="1.73" ry="1.51" fill="#185f0a"/>
<ellipse cx="54.3" cy="60.7" rx="1.73" ry="1.51" fill="#185f0a"/>
<ellipse cx="82.9" cy="35.0" rx="1.30" ry="1.51" fill="#185f0a"/>
<ellipse cx="84.3" cy="65.1" rx="1.30" ry="1.30" fill="#185f0a"/>
<ellipse cx="58.5" cy="17.3" rx="0.86" ry="0.86" fill="#185f0a"/>
<ellipse cx="39.0" cy="39.1" rx="0.86" ry="0.86" fill="#185f0a"/>
<ellipse cx="43.6" cy="36.8" rx="0.86" ry="0.86" fill="#185f0a"/>
<polygon points="38.3,-0.2 40.7,0.1 40.7,1.5 41.1,2.6 38.6,2.7 35.9,2.2 36.1,0.9" fill="#66ff22"/>
<polygon points="43.6,1.9 42.9,0.7 44.6,-0.6 45.8,1.4 46.3,2.2 45.5,3.5 44.3,2.7" fill="#66ff22"/>
<polygon points="33.6,7.0 34.4,6.5 34.8,6.9 35.4,7.3 34.9,7.7 33.8,7.9 32.4,7.3" fill="#66ff22"/>
<polygon points="25.9,10.3 24.4,10.4 25.2,9.3 25.7,8.5 26.6,8.4 26.9,9.8 27.3,10.7" fill="#66ff22"/>
<polygon points="24.0,11.8 25.8,11.2 26.0,12.8 25.3,13.8 23.9,13.5 22.6,12.8 22.7,11.6" fill="#66ff22"/>
<ellipse cx="39.0" cy="12.0" rx="0.96" ry="0.96" fill="#66ff22"/>
<polygon points="62.8,3.9 63.4,2.9 64.8,2.9 65.2,4.4 65.0,5.0 63.4,5.6 62.5,4.4" fill="#66ff22"/>
<polygon points="70.4,3.6 70.7,4.6 70.9,6.5 70.4,6.7 69.6,7.2 69.3,5.9 69.5,4.8" fill="#66ff22"/>
<polygon points="88.2,16.2 89.4,16.4 89.1,17.6 88.4,19.3 87.9,18.7 87.3,17.6 87.4,16.3" fill="#66ff22"/>
<polygon points="37.6,20.2 38.0,21.3 36.6,21.5 35.5,21.2 35.6,20.1 36.3,18.3 37.7,19.4" fill="#66ff22"/>
<ellipse cx="26.0" cy="17.9" rx="0.64" ry="0.64" fill="#66ff22"/>
<polygon points="3.2,17.1 5.0,16.8 6.4,16.4 7.8,18.2 5.7,18.5 4.6,18.6 3.9,18.0" fill="#66ff22"/>
<ellipse cx="3.7" cy="20.9" rx="0.96" ry="0.96" fill="#66ff22"/>
<polygon points="6.0,24.7 6.5,25.2 7.7,26.4 5.9,26.6 4.1,26.0 3.7,25.0 4.9,24.7" fill="#66ff22"/>
<polygon points="10.8,29.8 10.0,30.5 9.1,29.8 8.8,29.4 8.9,28.1 9.7,27.9 10.2,28.8" fill="#66ff22"/>
<ellipse cx="5.4" cy="28.5" rx="0.80" ry="0.80" fill="#66ff22"/>
<polygon points="27.4,25.9 28.0,24.2 29.0,24.7 30.9,25.2 30.5,26.0 29.2,27.0 28.3,26.2" fill="#66ff22"/>
<polygon points="28.9,30.4 28.2,30.1 28.8,29.3 29.3,28.5 30.3,29.2 30.9,30.1 29.9,30.8" fill="#66ff22"/>
<polygon points="20.9,32.5 19.9,32.1 18.7,31.6 20.2,30.7 20.8,30.9 21.7,31.1 21.7,31.8" fill="#66ff22"/>
<polygon points="22.8,38.7 21.5,39.4 21.1,37.9 21.4,36.6 22.6,37.5 23.1,37.6 23.3,38.2" fill="#66ff22"/>
<polygon points="4.3,38.8 5.1,38.3 6.3,38.2 6.8,39.2 6.0,40.0 5.3,40.0 4.7,39.9" fill="#66ff22"/>
<polygon points="13.3,38.6 12.8,37.3 12.0,36.2 12.7,35.0 13.3,36.2 13.9,36.4 13.7,37.9" fill="#66ff22"/>
<polygon points="13.5,46.7 11.5,46.8 10.1,46.1 10.0,44.8 10.8,44.3 11.6,44.6 13.1,45.4" fill="#66ff22"/>
<polygon points="17.5,45.4 16.6,44.7 16.3,43.2 16.8,40.7 19.1,41.8 19.1,43.5 19.1,45.6" fill="#66ff22"/>
<polygon points="14.3,48.1 14.7,46.8 15.5,45.1 16.5,46.3 17.4,48.1 16.7,49.0 14.7,48.8" fill="#66ff22"/>
<polygon points="25.3,48.9 26.9,49.8 26.2,51.5 24.5,52.6 24.0,50.8 23.4,49.8 23.5,47.7" fill="#66ff22"/>
<ellipse cx="24.9" cy="45.1" rx="0.96" ry="0.96" fill="#66ff22"/>
<polygon points="6.7,51.7 6.8,51.0 7.8,50.4 8.9,50.8 8.8,51.6 8.2,52.7 7.3,52.2" fill="#66ff22"/>
<polygon points="12.1,59.8 12.2,57.0 13.6,56.0 14.6,56.4 16.4,56.7 14.9,59.0 13.8,60.4" fill="#66ff22"/>
<polygon points="10.6,58.4 11.3,59.9 11.5,60.8 10.8,60.9 10.5,60.8 9.5,60.6 10.0,59.6" fill="#66ff22"/>
<polygon points="25.2,64.7 24.5,64.4 24.2,63.5 25.3,63.7 26.7,63.2 26.5,64.5 25.9,65.4" fill="#66ff22"/>
<polygon points="68.4,26.0 68.9,26.1 69.7,26.4 69.6,27.2 68.6,27.6 67.8,27.6 67.6,26.3" fill="#66ff22"/>
<polygon points="70.4,35.5 68.8,35.7 68.2,35.7 66.4,35.8 66.5,34.0 68.3,34.3 69.4,34.1" fill="#66ff22"/>
<polygon points="65.0,38.0 66.6,37.2 67.1,38.4 66.3,39.4 65.0,40.2 64.4,39.0 64.4,38.2" fill="#66ff22"/>
<polygon points="62.7,42.1 63.4,41.5 65.0,40.8 65.4,42.2 66.6,43.4 64.5,43.7 63.5,43.2" fill="#66ff22"/>
<polygon points="60.8,44.8 60.7,45.7 60.5,46.9 59.0,47.8 59.0,45.8 58.6,44.6 59.8,43.9" fill="#66ff22"/>
<ellipse cx="67.4" cy="43.9" rx="0.80" ry="0.80" fill="#66ff22"/>
<polygon points="74.7,47.8 73.9,47.8 73.7,45.6 74.7,44.8 75.3,45.7 76.6,47.2 75.5,48.0" fill="#66ff22"/>
<ellipse cx="77.3" cy="50.9" rx="0.96" ry="0.96" fill="#66ff22"/>
<polygon points="74.0,52.1 74.2,53.7 73.8,54.5 73.1,54.1 72.1,53.7 71.8,52.6 73.1,51.8" fill="#66ff22"/>
<polygon points="59.8,55.6 59.2,56.0 58.6,55.6 58.5,55.1 58.5,54.4 59.1,54.1 60.4,53.9" fill="#66ff22"/>
<polygon points="66.5,57.2 66.0,57.3 64.6,57.1 65.4,56.6 66.1,56.1 67.3,55.5 67.6,56.8" fill="#66ff22"/>
<polygon points="55.0,62.1 53.4,62.2 53.2,61.1 53.2,60.0 53.8,59.6 54.7,60.2 54.9,60.6" fill="#66ff22"/>
<polygon points="82.9,34.4 83.6,34.3 84.1,35.1 83.3,36.1 82.7,35.5 82.1,35.0 82.5,34.5" fill="#66ff22"/>
<ellipse cx="84.3" cy="65.1" rx="0.96" ry="0.96" fill="#66ff22"/>
<ellipse cx="58.5" cy="17.3" rx="0.64" ry="0.64" fill="#66ff22"/>
<ellipse cx="39.0" cy="39.1" rx="0.64" ry="0.64" fill="#66ff22"/>
<ellipse cx="43.6" cy="36.8" rx="0.64" ry="0.64" fill="#66ff22"/>
<circle cx="15.3" cy="23.2" r="0.72" fill="rgb(218,15,15)"/>
<circle cx="32.5" cy="26.7" r="0.72" fill="rgb(218,15,15)"/>
<circle cx="37.8" cy="49.7" r="0.72" fill="rgb(219,15,15)"/>
<circle cx="51.4" cy="46.5" r="0.72" fill="rgb(248,17,17)"/>
<circle cx="21.0" cy="62.1" r="0.72" fill="rgb(251,17,17)"/>
</g></svg>
<text x="449.775" y="428.65" font-size="6.1" text-anchor="middle" font-weight="normal">APC+T cells+MSC+Vincristine</text>
<svg x="406.75" y="431.25" width="87.75" height="65.85" viewBox="0 0 87.75 65.85">
<rect width="87.75" height="65.85" fill="#000"/>
<g filter="url(#bl)">
<circle cx="33.9" cy="11.2" r="0.45" fill="rgb(148,10,10)"/>
<circle cx="14.7" cy="25.8" r="0.87" fill="rgb(206,14,14)"/>
<circle cx="41.8" cy="42.8" r="0.95" fill="rgb(122,8,8)"/>
<circle cx="12.6" cy="14.6" r="0.47" fill="rgb(174,12,12)"/>
<circle cx="33.1" cy="5.0" r="0.90" fill="rgb(157,11,11)"/>
<circle cx="51.1" cy="55.0" r="0.52" fill="rgb(160,11,11)"/>
<circle cx="78.7" cy="41.3" r="0.87" fill="rgb(171,12,12)"/>
<circle cx="20.0" cy="59.6" r="0.82" fill="rgb(128,9,9)"/>
<circle cx="15.8" cy="4.3" r="0.79" fill="rgb(130,9,9)"/>
<circle cx="11.7" cy="2.4" r="0.68" fill="rgb(210,15,15)"/>
<circle cx="47.2" cy="33.8" r="0.95" fill="rgb(174,12,12)"/>
<circle cx="44.1" cy="1.5" r="0.71" fill="rgb(190,13,13)"/>
<circle cx="78.8" cy="30.3" r="0.80" fill="rgb(152,10,10)"/>
<circle cx="3.7" cy="39.7" r="0.59" fill="rgb(212,15,15)"/>
<circle cx="79.1" cy="4.3" r="0.48" fill="rgb(132,9,9)"/>
<circle cx="58.8" cy="37.4" r="0.62" fill="rgb(159,11,11)"/>
<circle cx="0.5" cy="17.0" r="0.70" fill="rgb(207,14,14)"/>
<circle cx="10.7" cy="31.1" r="0.82" fill="rgb(181,12,12)"/>
<circle cx="41.6" cy="20.2" r="1.01" fill="rgb(190,13,13)"/>
<circle cx="60.9" cy="54.8" r="0.81" fill="rgb(132,9,9)"/>
<circle cx="2.2" cy="25.6" r="1.02" fill="rgb(113,8,8)"/>
<circle cx="20.9" cy="34.5" r="0.72" fill="rgb(116,8,8)"/>
<circle cx="32.6" cy="47.0" r="0.86" fill="rgb(117,8,8)"/>
<circle cx="67.2" cy="18.4" r="0.52" fill="rgb(111,7,7)"/>
<circle cx="35.0" cy="51.1" r="0.95" fill="rgb(173,12,12)"/>
<circle cx="36.8" cy="8.1" r="0.85" fill="rgb(144,10,10)"/>
<circle cx="48.1" cy="1.5" r="0.98" fill="rgb(207,14,14)"/>
<circle cx="15.7" cy="53.4" r="1.03" fill="rgb(137,9,9)"/>
<circle cx="51.1" cy="29.7" r="0.53" fill="rgb(182,13,13)"/>
<circle cx="78.0" cy="8.3" r="0.71" fill="rgb(161,11,11)"/>
<circle cx="23.2" cy="17.7" r="0.51" fill="rgb(166,11,11)"/>
<circle cx="65.9" cy="25.5" r="0.45" fill="rgb(119,8,8)"/>
<circle cx="3.4" cy="21.8" r="0.74" fill="rgb(126,9,9)"/>
<circle cx="5.4" cy="8.1" r="1.01" fill="rgb(184,13,13)"/>
<circle cx="35.5" cy="59.2" r="0.75" fill="rgb(135,9,9)"/>
<circle cx="29.8" cy="39.2" r="1.01" fill="rgb(155,11,11)"/>
<circle cx="42.6" cy="32.8" r="0.78" fill="rgb(183,13,13)"/>
<circle cx="72.4" cy="12.3" r="0.52" fill="rgb(134,9,9)"/>
<circle cx="31.3" cy="19.1" r="0.63" fill="rgb(142,10,10)"/>
<circle cx="19.9" cy="13.4" r="1.01" fill="rgb(185,13,13)"/>
<circle cx="52.8" cy="23.9" r="0.60" fill="rgb(118,8,8)"/>
<circle cx="55.1" cy="12.2" r="0.58" fill="rgb(181,12,12)"/>
<circle cx="30.1" cy="13.2" r="0.83" fill="rgb(215,15,15)"/>
<circle cx="72.3" cy="18.2" r="1.04" fill="rgb(176,12,12)"/>
<circle cx="26.7" cy="8.7" r="0.76" fill="rgb(195,13,13)"/>
<circle cx="49.5" cy="18.2" r="0.79" fill="rgb(196,14,14)"/>
<circle cx="59.6" cy="26.0" r="0.72" fill="rgb(202,14,14)"/>
<circle cx="52.6" cy="34.6" r="0.84" fill="rgb(191,13,13)"/>
<circle cx="80.7" cy="16.6" r="0.53" fill="rgb(215,15,15)"/>
<circle cx="48.5" cy="44.8" r="0.55" fill="rgb(179,12,12)"/>
<circle cx="65.7" cy="7.8" r="1.03" fill="rgb(138,9,9)"/>
<circle cx="37.1" cy="12.9" r="0.73" fill="rgb(144,10,10)"/>
<circle cx="62.0" cy="45.6" r="0.61" fill="rgb(173,12,12)"/>
<circle cx="69.1" cy="34.6" r="0.53" fill="rgb(176,12,12)"/>
<circle cx="53.0" cy="59.2" r="0.46" fill="rgb(114,8,8)"/>
<circle cx="36.6" cy="62.0" r="0.90" fill="rgb(193,13,13)"/>
<circle cx="25.7" cy="27.3" r="0.78" fill="rgb(112,8,8)"/>
<circle cx="39.1" cy="47.2" r="0.66" fill="rgb(191,13,13)"/>
<circle cx="51.4" cy="2.2" r="0.54" fill="rgb(176,12,12)"/>
<circle cx="33.2" cy="54.1" r="0.79" fill="rgb(159,11,11)"/>
<circle cx="38.5" cy="21.7" r="0.81" fill="rgb(130,9,9)"/>
<circle cx="22.1" cy="49.1" r="0.90" fill="rgb(178,12,12)"/>
<circle cx="4.5" cy="49.7" r="0.80" fill="rgb(128,9,9)"/>
<circle cx="25.1" cy="31.8" r="0.80" fill="rgb(205,14,14)"/>
<circle cx="72.6" cy="52.5" r="0.99" fill="rgb(125,8,8)"/>
<circle cx="67.2" cy="11.7" r="1.02" fill="rgb(111,7,7)"/>
<circle cx="12.7" cy="57.0" r="0.55" fill="rgb(164,11,11)"/>
<circle cx="35.4" cy="25.6" r="0.53" fill="rgb(143,10,10)"/>
<circle cx="17.2" cy="34.0" r="0.87" fill="rgb(188,13,13)"/>
<circle cx="30.4" cy="27.4" r="0.92" fill="rgb(147,10,10)"/>
<circle cx="77.3" cy="15.4" r="0.59" fill="rgb(207,14,14)"/>
<circle cx="1.5" cy="59.7" r="0.66" fill="rgb(209,14,14)"/>
<circle cx="31.1" cy="59.4" r="0.69" fill="rgb(204,14,14)"/>
<circle cx="8.0" cy="22.7" r="0.78" fill="rgb(176,12,12)"/>
<circle cx="81.0" cy="31.9" r="0.80" fill="rgb(115,8,8)"/>
<circle cx="86.7" cy="41.8" r="0.51" fill="rgb(204,14,14)"/>
<circle cx="75.3" cy="7.7" r="0.92" fill="rgb(137,9,9)"/>
<circle cx="13.1" cy="17.9" r="0.67" fill="rgb(111,7,7)"/>
<circle cx="68.2" cy="4.1" r="1.02" fill="rgb(149,10,10)"/>
<circle cx="81.4" cy="58.0" r="1.02" fill="rgb(213,15,15)"/>
<circle cx="54.5" cy="37.7" r="0.69" fill="rgb(155,11,11)"/>
<circle cx="10.2" cy="64.6" r="0.62" fill="rgb(161,11,11)"/>
<circle cx="18.6" cy="56.2" r="0.94" fill="rgb(114,8,8)"/>
<circle cx="45.2" cy="32.0" r="0.86" fill="rgb(148,10,10)"/>
<circle cx="33.1" cy="56.8" r="0.84" fill="rgb(124,8,8)"/>
<circle cx="27.2" cy="17.2" r="0.74" fill="rgb(148,10,10)"/>
<circle cx="83.5" cy="30.4" r="0.62" fill="rgb(123,8,8)"/>
<circle cx="66.0" cy="1.9" r="0.92" fill="rgb(207,14,14)"/>
<circle cx="28.1" cy="52.1" r="0.77" fill="rgb(179,12,12)"/>
<circle cx="54.2" cy="62.9" r="0.97" fill="rgb(151,10,10)"/>
<circle cx="14.9" cy="35.8" r="0.77" fill="rgb(115,8,8)"/>
<circle cx="79.8" cy="61.8" r="0.97" fill="rgb(153,10,10)"/>
<circle cx="26.2" cy="22.7" r="0.98" fill="rgb(196,14,14)"/>
<circle cx="85.3" cy="21.0" r="0.96" fill="rgb(201,14,14)"/>
<circle cx="86.0" cy="4.9" r="0.62" fill="rgb(147,10,10)"/>
<circle cx="25.8" cy="41.4" r="1.00" fill="rgb(133,9,9)"/>
<circle cx="76.4" cy="1.8" r="0.69" fill="rgb(193,13,13)"/>
<circle cx="17.9" cy="2.1" r="0.88" fill="rgb(168,12,12)"/>
<circle cx="21.0" cy="8.0" r="0.79" fill="rgb(197,14,14)"/>
<circle cx="59.0" cy="9.6" r="0.53" fill="rgb(159,11,11)"/>
<circle cx="84.7" cy="56.2" r="1.00" fill="rgb(206,14,14)"/>
<circle cx="23.8" cy="1.1" r="1.01" fill="rgb(183,13,13)"/>
<circle cx="8.4" cy="0.7" r="0.46" fill="rgb(191,13,13)"/>
<circle cx="7.9" cy="26.8" r="0.65" fill="rgb(157,11,11)"/>
<circle cx="62.9" cy="11.8" r="0.48" fill="rgb(146,10,10)"/>
<circle cx="31.2" cy="51.6" r="0.98" fill="rgb(150,10,10)"/>
<circle cx="7.0" cy="15.5" r="0.85" fill="rgb(139,9,9)"/>
<circle cx="67.2" cy="49.0" r="0.69" fill="rgb(175,12,12)"/>
<circle cx="13.0" cy="22.2" r="0.76" fill="rgb(170,12,12)"/>
<circle cx="37.0" cy="32.3" r="0.92" fill="rgb(121,8,8)"/>
<circle cx="30.5" cy="3.3" r="0.75" fill="rgb(135,9,9)"/>
<circle cx="34.4" cy="35.8" r="0.73" fill="rgb(128,9,9)"/>
<circle cx="80.0" cy="0.6" r="0.69" fill="rgb(206,14,14)"/>
<circle cx="70.3" cy="27.2" r="0.47" fill="rgb(191,13,13)"/>
<circle cx="18.3" cy="52.4" r="0.46" fill="rgb(161,11,11)"/>
<circle cx="64.3" cy="63.9" r="0.7" fill="#2fae14"/>
<circle cx="14.8" cy="25.8" r="0.7" fill="#2fae14"/>
</g></svg>
<text x="85.65" y="505.09999999999997" font-size="6.1" text-anchor="middle" font-weight="normal">APC+T cells</text>
<svg x="39.50" y="507.00" width="88.50" height="66.50" viewBox="0 0 88.50 66.50">
<rect width="88.50" height="66.50" fill="#000"/>
<g filter="url(#bl)">
<circle cx="67.0" cy="19.4" r="0.55" fill="rgb(34,137,17)"/>
<circle cx="48.2" cy="26.1" r="0.48" fill="rgb(25,103,12)"/>
<circle cx="44.9" cy="64.3" r="0.61" fill="rgb(41,165,20)"/>
<circle cx="52.1" cy="45.4" r="0.40" fill="rgb(41,167,20)"/>
<circle cx="24.4" cy="17.4" r="0.68" fill="rgb(34,139,17)"/>
<circle cx="64.9" cy="62.3" r="0.59" fill="rgb(24,98,12)"/>
<circle cx="7.5" cy="39.7" r="0.41" fill="rgb(40,163,20)"/>
<circle cx="8.2" cy="28.5" r="0.44" fill="rgb(30,120,15)"/>
<circle cx="44.5" cy="1.1" r="0.66" fill="rgb(39,158,19)"/>
<circle cx="37.1" cy="43.6" r="0.53" fill="rgb(35,141,17)"/>
<circle cx="7.8" cy="7.9" r="0.50" fill="rgb(42,170,21)"/>
<circle cx="66.8" cy="54.5" r="0.45" fill="rgb(33,133,16)"/>
<circle cx="70.0" cy="16.6" r="0.67" fill="rgb(37,151,18)"/>
<circle cx="27.0" cy="8.0" r="0.69" fill="rgb(34,139,17)"/>
<circle cx="35.3" cy="49.1" r="0.68" fill="rgb(25,102,12)"/>
<circle cx="60.4" cy="3.9" r="0.44" fill="rgb(36,145,18)"/>
<circle cx="7.0" cy="17.2" r="0.43" fill="rgb(42,168,21)"/>
<circle cx="40.6" cy="52.6" r="0.51" fill="rgb(33,134,16)"/>
<circle cx="50.4" cy="66.4" r="0.41" fill="rgb(26,104,13)"/>
<circle cx="82.6" cy="58.9" r="0.50" fill="rgb(37,148,18)"/>
<circle cx="73.3" cy="16.5" r="0.62" fill="rgb(36,146,18)"/>
<circle cx="0.1" cy="20.3" r="0.48" fill="rgb(32,131,16)"/>
<circle cx="7.1" cy="57.4" r="0.42" fill="rgb(39,157,19)"/>
<circle cx="3.9" cy="8.4" r="0.68" fill="rgb(30,123,15)"/>
<circle cx="31.9" cy="19.1" r="0.66" fill="rgb(35,143,17)"/>
<circle cx="10.5" cy="36.3" r="0.48" fill="rgb(38,152,19)"/>
<circle cx="36.0" cy="13.3" r="0.62" fill="rgb(37,149,18)"/>
<circle cx="15.5" cy="64.8" r="0.48" fill="rgb(37,148,18)"/>
<circle cx="52.6" cy="32.8" r="0.50" fill="rgb(30,123,15)"/>
<circle cx="41.9" cy="6.2" r="0.61" fill="rgb(29,118,14)"/>
<circle cx="54.4" cy="38.2" r="0.58" fill="rgb(29,117,14)"/>
<circle cx="40.3" cy="35.4" r="0.42" fill="rgb(28,114,14)"/>
<circle cx="17.5" cy="43.5" r="0.41" fill="rgb(36,147,18)"/>
<circle cx="40.9" cy="33.3" r="0.42" fill="rgb(31,124,15)"/>
<circle cx="23.7" cy="56.8" r="0.60" fill="rgb(33,133,16)"/>
<ellipse cx="20.4" cy="13.5" rx="1.05" ry="0.60" transform="rotate(178 20.4 13.5)" fill="#66ff22"/>
<ellipse cx="81.6" cy="56.5" rx="1.23" ry="0.83" transform="rotate(151 81.6 56.5)" fill="#66ff22"/>
<ellipse cx="85.4" cy="39.6" rx="1.05" ry="0.83" transform="rotate(130 85.4 39.6)" fill="#40c818"/>
<ellipse cx="40.8" cy="40.5" rx="1.02" ry="0.68" transform="rotate(169 40.8 40.5)" fill="#66ff22"/>
<ellipse cx="17.9" cy="37.5" rx="0.94" ry="0.60" transform="rotate(58 17.9 37.5)" fill="#66ff22"/>
<ellipse cx="84.9" cy="20.9" rx="1.00" ry="0.83" transform="rotate(101 84.9 20.9)" fill="#66ff22"/>
<ellipse cx="26.0" cy="41.9" rx="1.42" ry="1.06" transform="rotate(104 26.0 41.9)" fill="#66ff22"/>
<ellipse cx="60.7" cy="46.9" rx="0.97" ry="0.61" transform="rotate(33 60.7 46.9)" fill="#4fe01c"/>
<ellipse cx="54.1" cy="33.1" rx="1.06" ry="0.67" transform="rotate(116 54.1 33.1)" fill="#35a814"/>
<ellipse cx="74.8" cy="56.4" rx="1.00" ry="0.74" transform="rotate(59 74.8 56.4)" fill="#66ff22"/>
<ellipse cx="12.6" cy="9.8" rx="1.33" ry="0.74" transform="rotate(137 12.6 9.8)" fill="#66ff22"/>
<ellipse cx="17.5" cy="62.9" rx="1.17" ry="0.97" transform="rotate(67 17.5 62.9)" fill="#66ff22"/>
<ellipse cx="24.8" cy="57.2" rx="0.90" ry="0.68" transform="rotate(23 24.8 57.2)" fill="#4fe01c"/>
<ellipse cx="27.8" cy="3.0" rx="1.33" ry="0.86" transform="rotate(57 27.8 3.0)" fill="#66ff22"/>
<ellipse cx="69.4" cy="41.9" rx="0.97" ry="0.78" transform="rotate(2 69.4 41.9)" fill="#4fe01c"/>
<ellipse cx="21.2" cy="27.2" rx="1.22" ry="0.88" transform="rotate(73 21.2 27.2)" fill="#4fe01c"/>
<ellipse cx="55.8" cy="60.3" rx="0.93" ry="0.60" transform="rotate(97 55.8 60.3)" fill="#66ff22"/>
<ellipse cx="56.6" cy="36.7" rx="1.38" ry="0.80" transform="rotate(102 56.6 36.7)" fill="#4fe01c"/>
<ellipse cx="10.3" cy="40.4" rx="1.06" ry="0.78" transform="rotate(170 10.3 40.4)" fill="#4fe01c"/>
<ellipse cx="26.5" cy="6.5" rx="1.02" ry="0.68" transform="rotate(30 26.5 6.5)" fill="#40c818"/>
<ellipse cx="60.7" cy="62.9" rx="1.43" ry="1.03" transform="rotate(38 60.7 62.9)" fill="#66ff22"/>
<ellipse cx="58.5" cy="16.8" rx="1.09" ry="0.89" transform="rotate(105 58.5 16.8)" fill="#66ff22"/>
<ellipse cx="49.5" cy="45.2" rx="1.40" ry="0.82" transform="rotate(122 49.5 45.2)" fill="#4fe01c"/>
<ellipse cx="47.6" cy="61.5" rx="0.91" ry="0.60" transform="rotate(142 47.6 61.5)" fill="#40c818"/>
<ellipse cx="77.2" cy="24.5" rx="1.07" ry="0.66" transform="rotate(56 77.2 24.5)" fill="#4fe01c"/>
<ellipse cx="37.6" cy="48.5" rx="0.98" ry="0.78" transform="rotate(67 37.6 48.5)" fill="#66ff22"/>
<ellipse cx="23.9" cy="50.3" rx="1.43" ry="0.85" transform="rotate(67 23.9 50.3)" fill="#35a814"/>
<ellipse cx="83.2" cy="33.4" rx="0.93" ry="0.77" transform="rotate(53 83.2 33.4)" fill="#66ff22"/>
<ellipse cx="3.3" cy="24.4" rx="1.29" ry="1.04" transform="rotate(9 3.3 24.4)" fill="#66ff22"/>
<ellipse cx="77.4" cy="8.6" rx="0.96" ry="0.60" transform="rotate(24 77.4 8.6)" fill="#4fe01c"/>
<ellipse cx="4.7" cy="36.0" rx="1.30" ry="1.11" transform="rotate(119 4.7 36.0)" fill="#35a814"/>
<ellipse cx="9.4" cy="46.5" rx="0.90" ry="0.68" transform="rotate(160 9.4 46.5)" fill="#35a814"/>
<ellipse cx="83.1" cy="12.8" rx="0.95" ry="0.81" transform="rotate(166 83.1 12.8)" fill="#66ff22"/>
<ellipse cx="29.9" cy="25.0" rx="1.01" ry="0.89" transform="rotate(83 29.9 25.0)" fill="#4fe01c"/>
<ellipse cx="16.5" cy="58.5" rx="1.30" ry="0.98" transform="rotate(150 16.5 58.5)" fill="#66ff22"/>
<ellipse cx="2.4" cy="55.2" rx="1.18" ry="0.70" transform="rotate(57 2.4 55.2)" fill="#66ff22"/>
<ellipse cx="47.4" cy="50.4" rx="1.26" ry="0.80" transform="rotate(173 47.4 50.4)" fill="#35a814"/>
<ellipse cx="44.3" cy="59.9" rx="1.14" ry="0.70" transform="rotate(164 44.3 59.9)" fill="#40c818"/>
<ellipse cx="86.3" cy="8.1" rx="1.18" ry="1.02" transform="rotate(77 86.3 8.1)" fill="#66ff22"/>
<ellipse cx="71.4" cy="39.2" rx="1.43" ry="1.09" transform="rotate(68 71.4 39.2)" fill="#66ff22"/>
<ellipse cx="4.3" cy="20.3" rx="1.03" ry="0.70" transform="rotate(165 4.3 20.3)" fill="#40c818"/>
<ellipse cx="20.3" cy="4.8" rx="1.04" ry="0.80" transform="rotate(44 20.3 4.8)" fill="#4fe01c"/>
<ellipse cx="25.5" cy="27.0" rx="0.91" ry="0.60" transform="rotate(122 25.5 27.0)" fill="#35a814"/>
<ellipse cx="39.3" cy="44.2" rx="0.99" ry="0.86" transform="rotate(123 39.3 44.2)" fill="#4fe01c"/>
<ellipse cx="7.5" cy="30.2" rx="0.97" ry="0.76" transform="rotate(150 7.5 30.2)" fill="#35a814"/>
<ellipse cx="86.0" cy="17.1" rx="1.26" ry="0.77" transform="rotate(43 86.0 17.1)" fill="#66ff22"/>
<ellipse cx="8.6" cy="35.0" rx="1.12" ry="0.71" transform="rotate(90 8.6 35.0)" fill="#66ff22"/>
<ellipse cx="57.3" cy="41.2" rx="1.00" ry="0.83" transform="rotate(144 57.3 41.2)" fill="#66ff22"/>
<ellipse cx="13.2" cy="51.7" rx="1.01" ry="0.79" transform="rotate(128 13.2 51.7)" fill="#66ff22"/>
<ellipse cx="64.1" cy="58.0" rx="0.97" ry="0.86" transform="rotate(64 64.1 58.0)" fill="#66ff22"/>
<ellipse cx="71.5" cy="44.5" rx="0.97" ry="0.76" transform="rotate(88 71.5 44.5)" fill="#35a814"/>
<ellipse cx="20.3" cy="43.6" rx="1.30" ry="0.82" transform="rotate(1 20.3 43.6)" fill="#40c818"/>
<ellipse cx="26.9" cy="12.1" rx="0.95" ry="0.75" transform="rotate(86 26.9 12.1)" fill="#4fe01c"/>
<ellipse cx="79.1" cy="39.2" rx="1.39" ry="1.07" transform="rotate(112 79.1 39.2)" fill="#66ff22"/>
<ellipse cx="60.2" cy="11.5" rx="1.33" ry="1.08" transform="rotate(169 60.2 11.5)" fill="#66ff22"/>
<ellipse cx="52.1" cy="61.6" rx="1.13" ry="0.79" transform="rotate(166 52.1 61.6)" fill="#40c818"/>
<ellipse cx="27.1" cy="62.3" rx="1.29" ry="1.12" transform="rotate(147 27.1 62.3)" fill="#4fe01c"/>
<ellipse cx="16.6" cy="27.4" rx="1.15" ry="0.71" transform="rotate(157 16.6 27.4)" fill="#66ff22"/>
<ellipse cx="66.6" cy="45.6" rx="1.20" ry="1.02" transform="rotate(65 66.6 45.6)" fill="#35a814"/>
<ellipse cx="57.5" cy="8.7" rx="1.17" ry="0.96" transform="rotate(79 57.5 8.7)" fill="#40c818"/>
<ellipse cx="20.4" cy="51.8" rx="1.13" ry="0.66" transform="rotate(14 20.4 51.8)" fill="#40c818"/>
<ellipse cx="33.3" cy="47.0" rx="1.22" ry="0.94" transform="rotate(171 33.3 47.0)" fill="#66ff22"/>
<ellipse cx="17.7" cy="31.7" rx="1.05" ry="0.83" transform="rotate(138 17.7 31.7)" fill="#35a814"/>
<ellipse cx="20.9" cy="55.7" rx="1.09" ry="0.69" transform="rotate(167 20.9 55.7)" fill="#66ff22"/>
<ellipse cx="85.1" cy="48.5" rx="1.06" ry="0.94" transform="rotate(74 85.1 48.5)" fill="#66ff22"/>
<ellipse cx="59.2" cy="4.4" rx="0.91" ry="0.60" transform="rotate(155 59.2 4.4)" fill="#35a814"/>
<ellipse cx="50.3" cy="6.8" rx="0.91" ry="0.64" transform="rotate(55 50.3 6.8)" fill="#40c818"/>
<ellipse cx="81.7" cy="64.9" rx="0.94" ry="0.60" transform="rotate(167 81.7 64.9)" fill="#40c818"/>
<ellipse cx="82.5" cy="6.4" rx="1.26" ry="0.87" transform="rotate(74 82.5 6.4)" fill="#4fe01c"/>
<ellipse cx="85.6" cy="55.6" rx="1.09" ry="0.82" transform="rotate(19 85.6 55.6)" fill="#66ff22"/>
<ellipse cx="82.7" cy="1.0" rx="1.03" ry="0.60" transform="rotate(46 82.7 1.0)" fill="#66ff22"/>
<ellipse cx="65.7" cy="19.8" rx="1.18" ry="0.94" transform="rotate(23 65.7 19.8)" fill="#35a814"/>
<ellipse cx="45.3" cy="36.2" rx="1.29" ry="0.92" transform="rotate(30 45.3 36.2)" fill="#66ff22"/>
<ellipse cx="41.9" cy="64.6" rx="0.95" ry="0.69" transform="rotate(146 41.9 64.6)" fill="#4fe01c"/>
<ellipse cx="75.4" cy="47.4" rx="1.28" ry="0.93" transform="rotate(56 75.4 47.4)" fill="#40c818"/>
<ellipse cx="79.8" cy="26.7" rx="0.93" ry="0.60" transform="rotate(155 79.8 26.7)" fill="#66ff22"/>
<ellipse cx="31.1" cy="11.2" rx="0.91" ry="0.69" transform="rotate(43 31.1 11.2)" fill="#40c818"/>
<ellipse cx="32.5" cy="6.9" rx="0.95" ry="0.60" transform="rotate(148 32.5 6.9)" fill="#66ff22"/>
<ellipse cx="67.5" cy="36.5" rx="1.43" ry="1.06" transform="rotate(34 67.5 36.5)" fill="#66ff22"/>
<ellipse cx="31.1" cy="51.1" rx="1.33" ry="0.99" transform="rotate(37 31.1 51.1)" fill="#66ff22"/>
<ellipse cx="63.0" cy="4.6" rx="0.90" ry="0.60" transform="rotate(38 63.0 4.6)" fill="#4fe01c"/>
<ellipse cx="10.8" cy="20.1" rx="1.39" ry="1.25" transform="rotate(67 10.8 20.1)" fill="#40c818"/>
<ellipse cx="56.0" cy="29.4" rx="0.95" ry="0.76" transform="rotate(101 56.0 29.4)" fill="#66ff22"/>
<ellipse cx="49.4" cy="21.6" rx="0.99" ry="0.61" transform="rotate(78 49.4 21.6)" fill="#40c818"/>
<ellipse cx="9.0" cy="65.6" rx="1.29" ry="1.15" transform="rotate(106 9.0 65.6)" fill="#66ff22"/>
<ellipse cx="30.1" cy="18.1" rx="0.91" ry="0.60" transform="rotate(75 30.1 18.1)" fill="#66ff22"/>
<ellipse cx="68.1" cy="26.2" rx="0.90" ry="0.60" transform="rotate(131 68.1 26.2)" fill="#66ff22"/>
<ellipse cx="10.4" cy="27.0" rx="1.24" ry="0.82" transform="rotate(38 10.4 27.0)" fill="#66ff22"/>
<ellipse cx="31.9" cy="34.9" rx="0.92" ry="0.69" transform="rotate(159 31.9 34.9)" fill="#66ff22"/>
<ellipse cx="3.0" cy="3.4" rx="0.90" ry="0.81" transform="rotate(131 3.0 3.4)" fill="#35a814"/>
<ellipse cx="36.1" cy="21.0" rx="0.92" ry="0.72" transform="rotate(8 36.1 21.0)" fill="#40c818"/>
<ellipse cx="32.0" cy="54.7" rx="1.31" ry="0.90" transform="rotate(111 32.0 54.7)" fill="#66ff22"/>
<ellipse cx="42.1" cy="11.6" rx="0.94" ry="0.82" transform="rotate(143 42.1 11.6)" fill="#66ff22"/>
<ellipse cx="51.9" cy="27.9" rx="1.38" ry="1.13" transform="rotate(8 51.9 27.9)" fill="#35a814"/>
<ellipse cx="69.6" cy="4.5" rx="1.08" ry="0.62" transform="rotate(140 69.6 4.5)" fill="#66ff22"/>
<ellipse cx="73.3" cy="61.8" rx="0.91" ry="0.70" transform="rotate(149 73.3 61.8)" fill="#35a814"/>
<ellipse cx="53.4" cy="39.2" rx="1.03" ry="0.89" transform="rotate(104 53.4 39.2)" fill="#66ff22"/>
<ellipse cx="79.1" cy="43.5" rx="1.00" ry="0.60" transform="rotate(125 79.1 43.5)" fill="#66ff22"/>
<ellipse cx="64.1" cy="14.6" rx="0.97" ry="0.76" transform="rotate(48 64.1 14.6)" fill="#40c818"/>
<ellipse cx="73.3" cy="19.3" rx="0.94" ry="0.68" transform="rotate(177 73.3 19.3)" fill="#66ff22"/>
<ellipse cx="66.7" cy="60.4" rx="1.03" ry="0.60" transform="rotate(168 66.7 60.4)" fill="#66ff22"/>
<ellipse cx="70.1" cy="52.9" rx="1.41" ry="1.03" transform="rotate(159 70.1 52.9)" fill="#66ff22"/>
<ellipse cx="70.5" cy="31.4" rx="1.30" ry="1.07" transform="rotate(74 70.5 31.4)" fill="#4fe01c"/>
<ellipse cx="84.5" cy="25.3" rx="1.10" ry="0.95" transform="rotate(42 84.5 25.3)" fill="#35a814"/>
<ellipse cx="16.7" cy="11.5" rx="0.99" ry="0.61" transform="rotate(169 16.7 11.5)" fill="#40c818"/>
<ellipse cx="43.8" cy="45.8" rx="1.22" ry="0.93" transform="rotate(117 43.8 45.8)" fill="#66ff22"/>
<ellipse cx="40.8" cy="59.4" rx="1.13" ry="0.93" transform="rotate(62 40.8 59.4)" fill="#35a814"/>
<ellipse cx="73.7" cy="7.5" rx="1.24" ry="0.74" transform="rotate(73 73.7 7.5)" fill="#66ff22"/>
<ellipse cx="9.7" cy="7.6" rx="1.01" ry="0.83" transform="rotate(176 9.7 7.6)" fill="#35a814"/>
<ellipse cx="23.1" cy="0.8" rx="0.93" ry="0.60" transform="rotate(55 23.1 0.8)" fill="#66ff22"/>
<ellipse cx="40.3" cy="53.2" rx="0.95" ry="0.60" transform="rotate(32 40.3 53.2)" fill="#40c818"/>
<ellipse cx="73.5" cy="65.9" rx="1.26" ry="1.09" transform="rotate(30 73.5 65.9)" fill="#4fe01c"/>
<ellipse cx="29.2" cy="37.9" rx="1.24" ry="1.06" transform="rotate(87 29.2 37.9)" fill="#4fe01c"/>
<ellipse cx="59.6" cy="27.1" rx="0.94" ry="0.80" transform="rotate(3 59.6 27.1)" fill="#66ff22"/>
<ellipse cx="17.6" cy="22.0" rx="1.09" ry="0.81" transform="rotate(3 17.6 22.0)" fill="#66ff22"/>
<ellipse cx="56.9" cy="47.8" rx="0.97" ry="0.82" transform="rotate(150 56.9 47.8)" fill="#40c818"/>
<ellipse cx="34.2" cy="60.3" rx="0.95" ry="0.62" transform="rotate(102 34.2 60.3)" fill="#66ff22"/>
<ellipse cx="46.3" cy="39.5" rx="1.04" ry="0.84" transform="rotate(19 46.3 39.5)" fill="#35a814"/>
<ellipse cx="21.1" cy="19.5" rx="1.01" ry="0.61" transform="rotate(22 21.1 19.5)" fill="#40c818"/>
<ellipse cx="3.3" cy="49.8" rx="1.26" ry="1.07" transform="rotate(172 3.3 49.8)" fill="#40c818"/>
<ellipse cx="18.7" cy="48.0" rx="1.07" ry="0.67" transform="rotate(75 18.7 48.0)" fill="#66ff22"/>
<ellipse cx="22.8" cy="46.4" rx="1.06" ry="0.95" transform="rotate(86 22.8 46.4)" fill="#4fe01c"/>
<ellipse cx="70.8" cy="16.5" rx="1.31" ry="0.92" transform="rotate(107 70.8 16.5)" fill="#66ff22"/>
<ellipse cx="0.8" cy="14.3" rx="1.41" ry="1.24" transform="rotate(117 0.8 14.3)" fill="#66ff22"/>
<ellipse cx="52.7" cy="17.4" rx="0.94" ry="0.60" transform="rotate(46 52.7 17.4)" fill="#66ff22"/>
<ellipse cx="35.6" cy="38.6" rx="0.97" ry="0.60" transform="rotate(29 35.6 38.6)" fill="#66ff22"/>
<ellipse cx="9.9" cy="61.8" rx="0.93" ry="0.81" transform="rotate(42 9.9 61.8)" fill="#4fe01c"/>
<ellipse cx="40.7" cy="24.9" rx="1.18" ry="0.65" transform="rotate(133 40.7 24.9)" fill="#66ff22"/>
<ellipse cx="37.0" cy="33.7" rx="1.01" ry="0.84" transform="rotate(3 37.0 33.7)" fill="#66ff22"/>
<ellipse cx="65.0" cy="31.9" rx="1.24" ry="0.82" transform="rotate(14 65.0 31.9)" fill="#66ff22"/>
<ellipse cx="67.7" cy="22.8" rx="0.93" ry="0.60" transform="rotate(116 67.7 22.8)" fill="#4fe01c"/>
<ellipse cx="37.1" cy="4.2" rx="0.96" ry="0.72" transform="rotate(36 37.1 4.2)" fill="#35a814"/>
<ellipse cx="60.8" cy="40.0" rx="1.33" ry="0.82" transform="rotate(163 60.8 40.0)" fill="#4fe01c"/>
<ellipse cx="35.6" cy="51.3" rx="1.10" ry="0.71" transform="rotate(113 35.6 51.3)" fill="#66ff22"/>
<ellipse cx="53.1" cy="24.8" rx="0.92" ry="0.76" transform="rotate(85 53.1 24.8)" fill="#66ff22"/>
<ellipse cx="45.2" cy="6.3" rx="1.40" ry="0.85" transform="rotate(88 45.2 6.3)" fill="#66ff22"/>
<ellipse cx="78.6" cy="59.6" rx="1.36" ry="1.18" transform="rotate(48 78.6 59.6)" fill="#4fe01c"/>
<ellipse cx="77.7" cy="1.8" rx="0.93" ry="0.60" transform="rotate(144 77.7 1.8)" fill="#66ff22"/>
<ellipse cx="61.9" cy="21.8" rx="1.10" ry="0.62" transform="rotate(53 61.9 21.8)" fill="#35a814"/>
<ellipse cx="49.4" cy="3.4" rx="1.35" ry="1.00" transform="rotate(110 49.4 3.4)" fill="#66ff22"/>
<ellipse cx="33.2" cy="24.8" rx="1.01" ry="0.71" transform="rotate(40 33.2 24.8)" fill="#66ff22"/>
<ellipse cx="10.1" cy="56.2" rx="0.98" ry="0.60" transform="rotate(176 10.1 56.2)" fill="#40c818"/>
<ellipse cx="9.4" cy="23.4" rx="0.98" ry="0.60" transform="rotate(71 9.4 23.4)" fill="#66ff22"/>
<ellipse cx="76.3" cy="63.2" rx="1.03" ry="0.69" transform="rotate(49 76.3 63.2)" fill="#35a814"/>
<ellipse cx="37.0" cy="56.5" rx="0.91" ry="0.60" transform="rotate(36 37.0 56.5)" fill="#66ff22"/>
<ellipse cx="63.8" cy="27.1" rx="1.10" ry="0.91" transform="rotate(119 63.8 27.1)" fill="#66ff22"/>
<ellipse cx="76.5" cy="31.3" rx="1.20" ry="0.97" transform="rotate(152 76.5 31.3)" fill="#66ff22"/>
<ellipse cx="14.0" cy="5.8" rx="1.00" ry="0.67" transform="rotate(111 14.0 5.8)" fill="#66ff22"/>
<ellipse cx="52.6" cy="49.9" rx="1.23" ry="0.85" transform="rotate(10 52.6 49.9)" fill="#66ff22"/>
<ellipse cx="0.6" cy="65.8" rx="1.43" ry="0.94" transform="rotate(180 0.6 65.8)" fill="#4fe01c"/>
<ellipse cx="71.4" cy="47.9" rx="1.11" ry="0.83" transform="rotate(119 71.4 47.9)" fill="#40c818"/>
<ellipse cx="41.7" cy="21.5" rx="0.90" ry="0.79" transform="rotate(120 41.7 21.5)" fill="#66ff22"/>
<ellipse cx="58.9" cy="23.6" rx="1.21" ry="0.93" transform="rotate(30 58.9 23.6)" fill="#66ff22"/>
<ellipse cx="34.4" cy="65.0" rx="1.36" ry="0.82" transform="rotate(30 34.4 65.0)" fill="#4fe01c"/>
<ellipse cx="52.5" cy="1.0" rx="0.92" ry="0.82" transform="rotate(106 52.5 1.0)" fill="#66ff22"/>
<ellipse cx="5.6" cy="53.0" rx="1.34" ry="0.76" transform="rotate(166 5.6 53.0)" fill="#66ff22"/>
<ellipse cx="85.6" cy="3.4" rx="1.19" ry="0.88" transform="rotate(31 85.6 3.4)" fill="#35a814"/>
<ellipse cx="40.5" cy="30.3" rx="1.13" ry="0.86" transform="rotate(104 40.5 30.3)" fill="#35a814"/>
<ellipse cx="26.3" cy="17.0" rx="0.96" ry="0.78" transform="rotate(24 26.3 17.0)" fill="#40c818"/>
<ellipse cx="45.6" cy="64.7" rx="1.38" ry="0.92" transform="rotate(74 45.6 64.7)" fill="#66ff22"/>
<ellipse cx="9.9" cy="50.1" rx="1.00" ry="0.68" transform="rotate(50 9.9 50.1)" fill="#35a814"/>
<ellipse cx="50.7" cy="35.2" rx="0.98" ry="0.65" transform="rotate(64 50.7 35.2)" fill="#66ff22"/>
<ellipse cx="10.6" cy="3.1" rx="0.94" ry="0.60" transform="rotate(121 10.6 3.1)" fill="#40c818"/>
<ellipse cx="58.8" cy="58.6" rx="1.42" ry="0.99" transform="rotate(92 58.8 58.6)" fill="#40c818"/>
<ellipse cx="13.8" cy="30.9" rx="1.43" ry="0.81" transform="rotate(79 13.8 30.9)" fill="#66ff22"/>
<ellipse cx="14.9" cy="54.7" rx="0.90" ry="0.71" transform="rotate(47 14.9 54.7)" fill="#66ff22"/>
<ellipse cx="8.0" cy="43.4" rx="0.90" ry="0.63" transform="rotate(86 8.0 43.4)" fill="#4fe01c"/>
<ellipse cx="4.2" cy="39.3" rx="1.20" ry="0.75" transform="rotate(174 4.2 39.3)" fill="#66ff22"/>
<ellipse cx="67.9" cy="7.9" rx="1.02" ry="0.85" transform="rotate(24 67.9 7.9)" fill="#35a814"/>
<ellipse cx="5.0" cy="8.3" rx="1.26" ry="0.96" transform="rotate(53 5.0 8.3)" fill="#66ff22"/>
<ellipse cx="88.0" cy="22.7" rx="1.01" ry="0.62" transform="rotate(133 88.0 22.7)" fill="#66ff22"/>
<ellipse cx="22.4" cy="10.6" rx="0.91" ry="0.61" transform="rotate(17 22.4 10.6)" fill="#40c818"/>
<ellipse cx="1.2" cy="59.2" rx="0.96" ry="0.86" transform="rotate(86 1.2 59.2)" fill="#40c818"/>
<ellipse cx="85.8" cy="45.1" rx="1.13" ry="0.82" transform="rotate(145 85.8 45.1)" fill="#66ff22"/>
<ellipse cx="87.8" cy="64.0" rx="0.98" ry="0.66" transform="rotate(53 87.8 64.0)" fill="#66ff22"/>
<ellipse cx="19.4" cy="8.8" rx="1.17" ry="0.85" transform="rotate(95 19.4 8.8)" fill="#66ff22"/>
<ellipse cx="71.9" cy="12.3" rx="0.97" ry="0.82" transform="rotate(3 71.9 12.3)" fill="#66ff22"/>
<ellipse cx="22.6" cy="65.7" rx="0.99" ry="0.76" transform="rotate(134 22.6 65.7)" fill="#4fe01c"/>
<ellipse cx="70.9" cy="27.8" rx="1.27" ry="0.99" transform="rotate(10 70.9 27.8)" fill="#35a814"/>
<ellipse cx="48.4" cy="18.4" rx="0.91" ry="0.60" transform="rotate(122 48.4 18.4)" fill="#66ff22"/>
<ellipse cx="13.2" cy="16.9" rx="1.09" ry="0.64" transform="rotate(138 13.2 16.9)" fill="#66ff22"/>
<ellipse cx="53.8" cy="13.8" rx="1.04" ry="0.91" transform="rotate(35 53.8 13.8)" fill="#66ff22"/>
<ellipse cx="15.3" cy="46.2" rx="0.93" ry="0.60" transform="rotate(160 15.3 46.2)" fill="#35a814"/>
<ellipse cx="63.1" cy="9.5" rx="0.90" ry="0.71" transform="rotate(156 63.1 9.5)" fill="#66ff22"/>
<ellipse cx="44.1" cy="51.4" rx="0.91" ry="0.60" transform="rotate(62 44.1 51.4)" fill="#66ff22"/>
<ellipse cx="24.7" cy="33.4" rx="1.31" ry="0.74" transform="rotate(40 24.7 33.4)" fill="#4fe01c"/>
<ellipse cx="33.6" cy="15.2" rx="0.94" ry="0.74" transform="rotate(169 33.6 15.2)" fill="#4fe01c"/>
<ellipse cx="14.3" cy="39.3" rx="1.01" ry="0.64" transform="rotate(104 14.3 39.3)" fill="#4fe01c"/>
<ellipse cx="64.4" cy="49.2" rx="0.92" ry="0.74" transform="rotate(121 64.4 49.2)" fill="#4fe01c"/>
<ellipse cx="16.2" cy="18.9" rx="0.93" ry="0.60" transform="rotate(180 16.2 18.9)" fill="#66ff22"/>
<ellipse cx="25.7" cy="22.8" rx="1.00" ry="0.60" transform="rotate(6 25.7 22.8)" fill="#40c818"/>
<ellipse cx="72.5" cy="24.4" rx="1.18" ry="0.81" transform="rotate(139 72.5 24.4)" fill="#35a814"/>
<ellipse cx="55.1" cy="5.4" rx="1.02" ry="0.83" transform="rotate(166 55.1 5.4)" fill="#4fe01c"/>
<ellipse cx="50.5" cy="14.7" rx="1.26" ry="1.13" transform="rotate(111 50.5 14.7)" fill="#66ff22"/>
<ellipse cx="32.1" cy="41.5" rx="1.10" ry="0.83" transform="rotate(127 32.1 41.5)" fill="#35a814"/>
<ellipse cx="0.7" cy="39.3" rx="0.94" ry="0.60" transform="rotate(150 0.7 39.3)" fill="#35a814"/>
<ellipse cx="76.5" cy="16.5" rx="0.93" ry="0.70" transform="rotate(30 76.5 16.5)" fill="#66ff22"/>
<ellipse cx="58.4" cy="53.5" rx="1.01" ry="0.88" transform="rotate(35 58.4 53.5)" fill="#40c818"/>
<ellipse cx="56.4" cy="1.8" rx="1.30" ry="0.90" transform="rotate(175 56.4 1.8)" fill="#66ff22"/>
<ellipse cx="75.2" cy="38.5" rx="1.39" ry="0.87" transform="rotate(169 75.2 38.5)" fill="#66ff22"/>
<ellipse cx="2.0" cy="62.5" rx="0.91" ry="0.60" transform="rotate(8 2.0 62.5)" fill="#40c818"/>
<ellipse cx="25.9" cy="36.9" rx="1.38" ry="1.08" transform="rotate(95 25.9 36.9)" fill="#4fe01c"/>
<ellipse cx="84.1" cy="59.2" rx="0.94" ry="0.67" transform="rotate(130 84.1 59.2)" fill="#35a814"/>
<ellipse cx="79.6" cy="51.1" rx="1.10" ry="0.88" transform="rotate(147 79.6 51.1)" fill="#66ff22"/>
<ellipse cx="82.6" cy="43.5" rx="0.92" ry="0.60" transform="rotate(135 82.6 43.5)" fill="#4fe01c"/>
<ellipse cx="51.8" cy="55.4" rx="1.22" ry="0.89" transform="rotate(179 51.8 55.4)" fill="#35a814"/>
<ellipse cx="28.1" cy="57.9" rx="1.42" ry="1.18" transform="rotate(139 28.1 57.9)" fill="#66ff22"/>
<ellipse cx="21.8" cy="40.3" rx="0.92" ry="0.60" transform="rotate(33 21.8 40.3)" fill="#66ff22"/>
<ellipse cx="66.4" cy="54.4" rx="1.23" ry="0.75" transform="rotate(122 66.4 54.4)" fill="#35a814"/>
<ellipse cx="50.9" cy="31.2" rx="1.08" ry="0.73" transform="rotate(15 50.9 31.2)" fill="#40c818"/>
<ellipse cx="13.4" cy="61.6" rx="1.10" ry="0.90" transform="rotate(133 13.4 61.6)" fill="#66ff22"/>
<ellipse cx="76.2" cy="52.1" rx="1.14" ry="0.65" transform="rotate(160 76.2 52.1)" fill="#4fe01c"/>
<ellipse cx="73.0" cy="51.1" rx="0.90" ry="0.60" transform="rotate(98 73.0 51.1)" fill="#35a814"/>
<ellipse cx="36.1" cy="9.7" rx="1.06" ry="0.66" transform="rotate(96 36.1 9.7)" fill="#66ff22"/>
<ellipse cx="1.6" cy="10.3" rx="0.95" ry="0.72" transform="rotate(35 1.6 10.3)" fill="#35a814"/>
<ellipse cx="39.4" cy="36.3" rx="1.00" ry="0.61" transform="rotate(95 39.4 36.3)" fill="#66ff22"/>
<ellipse cx="86.5" cy="35.1" rx="0.94" ry="0.60" transform="rotate(153 86.5 35.1)" fill="#40c818"/>
<ellipse cx="61.7" cy="1.4" rx="0.99" ry="0.85" transform="rotate(81 61.7 1.4)" fill="#66ff22"/>
<ellipse cx="46.6" cy="54.5" rx="0.97" ry="0.60" transform="rotate(180 46.6 54.5)" fill="#66ff22"/>
<ellipse cx="1.2" cy="27.0" rx="0.90" ry="0.60" transform="rotate(138 1.2 27.0)" fill="#35a814"/>
<ellipse cx="23.2" cy="7.3" rx="1.12" ry="0.75" transform="rotate(178 23.2 7.3)" fill="#66ff22"/>
<ellipse cx="63.2" cy="36.6" rx="0.96" ry="0.67" transform="rotate(77 63.2 36.6)" fill="#66ff22"/>
<ellipse cx="78.1" cy="13.1" rx="1.38" ry="0.77" transform="rotate(45 78.1 13.1)" fill="#4fe01c"/>
<ellipse cx="43.4" cy="16.2" rx="1.12" ry="0.95" transform="rotate(33 43.4 16.2)" fill="#66ff22"/>
<ellipse cx="56.1" cy="44.6" rx="1.37" ry="0.85" transform="rotate(97 56.1 44.6)" fill="#66ff22"/>
<circle cx="15.0" cy="33.0" r="0.7" fill="#e01010"/>
<circle cx="12.0" cy="66.1" r="0.7" fill="#e01010"/>
</g></svg>
<text x="176.85" y="505.09999999999997" font-size="6.1" text-anchor="middle" font-weight="normal">APC+T cells+CMC</text>
<svg x="130.50" y="507.00" width="89.50" height="66.50" viewBox="0 0 89.50 66.50">
<rect width="89.50" height="66.50" fill="#000"/>
<g filter="url(#bl)">
<circle cx="51.4" cy="39.7" r="0.44" fill="rgb(25,100,12)"/>
<circle cx="27.7" cy="6.4" r="0.42" fill="rgb(36,146,18)"/>
<circle cx="59.8" cy="42.6" r="0.65" fill="rgb(37,148,18)"/>
<circle cx="62.6" cy="46.6" r="0.58" fill="rgb(29,119,14)"/>
<circle cx="18.1" cy="6.8" r="0.68" fill="rgb(41,164,20)"/>
<circle cx="47.9" cy="39.8" r="0.54" fill="rgb(31,125,15)"/>
<circle cx="78.7" cy="6.3" r="0.63" fill="rgb(37,150,18)"/>
<circle cx="54.3" cy="14.6" r="0.58" fill="rgb(32,129,16)"/>
<circle cx="44.7" cy="34.8" r="0.59" fill="rgb(28,115,14)"/>
<circle cx="15.9" cy="18.3" r="0.67" fill="rgb(22,90,11)"/>
<circle cx="37.7" cy="18.0" r="0.58" fill="rgb(26,106,13)"/>
<circle cx="37.9" cy="37.2" r="0.46" fill="rgb(29,116,14)"/>
<circle cx="68.5" cy="26.1" r="0.64" fill="rgb(35,141,17)"/>
<circle cx="50.6" cy="64.8" r="0.49" fill="rgb(33,133,16)"/>
<circle cx="52.3" cy="2.8" r="0.44" fill="rgb(40,162,20)"/>
<circle cx="76.3" cy="5.8" r="0.57" fill="rgb(39,158,19)"/>
<circle cx="26.6" cy="49.5" r="0.40" fill="rgb(38,153,19)"/>
<circle cx="32.5" cy="7.3" r="0.47" fill="rgb(23,95,11)"/>
<circle cx="47.0" cy="57.9" r="0.70" fill="rgb(36,145,18)"/>
<circle cx="20.0" cy="15.0" r="0.49" fill="rgb(34,136,17)"/>
<circle cx="3.1" cy="46.7" r="0.41" fill="rgb(36,145,18)"/>
<circle cx="79.9" cy="23.9" r="0.53" fill="rgb(37,148,18)"/>
<circle cx="37.0" cy="46.8" r="0.57" fill="rgb(30,121,15)"/>
<circle cx="11.5" cy="45.2" r="0.44" fill="rgb(31,127,15)"/>
<circle cx="35.5" cy="44.7" r="0.52" fill="rgb(42,169,21)"/>
<circle cx="12.4" cy="20.7" r="0.44" fill="rgb(25,101,12)"/>
<circle cx="62.6" cy="32.4" r="0.62" fill="rgb(27,108,13)"/>
<circle cx="62.3" cy="49.4" r="0.59" fill="rgb(22,90,11)"/>
<circle cx="82.7" cy="9.1" r="0.56" fill="rgb(39,159,19)"/>
<circle cx="3.7" cy="40.2" r="0.59" fill="rgb(26,106,13)"/>
<circle cx="40.1" cy="56.1" r="0.56" fill="rgb(42,170,21)"/>
<circle cx="76.6" cy="60.3" r="0.56" fill="rgb(23,93,11)"/>
<circle cx="74.6" cy="42.4" r="0.42" fill="rgb(32,129,16)"/>
<circle cx="86.3" cy="0.1" r="0.41" fill="rgb(42,169,21)"/>
<circle cx="84.7" cy="14.2" r="0.45" fill="rgb(35,141,17)"/>
<polygon points="11.6,-0.7 10.7,1.4 10.0,2.3 9.5,1.5 9.4,0.1 11.1,-1.5" fill="#35a814"/>
<polygon points="20.8,1.2 22.2,0.6 22.9,2.0 21.3,3.7 20.2,3.4 20.0,2.3" fill="#66ff22"/>
<polygon points="20.7,38.2 19.8,37.2 19.7,36.4 20.4,35.8 21.1,36.7 21.2,37.4" fill="#66ff22"/>
<polygon points="1.2,46.4 3.2,47.9 4.1,49.2 2.9,50.9 1.2,50.9 -1.0,47.2" fill="#66ff22"/>
<ellipse cx="78.7" cy="1.4" rx="1.15" ry="0.60" transform="rotate(54 78.7 1.4)" fill="#66ff22"/>
<polygon points="77.7,37.3 79.4,36.9 80.5,37.1 80.7,38.9 78.7,38.7 77.2,38.6" fill="#40c818"/>
<polygon points="7.6,24.9 9.2,25.0 9.0,25.9 7.8,26.8 6.3,26.5 6.7,25.5" fill="#66ff22"/>
<polygon points="51.9,41.3 52.9,38.7 54.0,37.4 54.3,39.0 53.8,40.8 52.6,41.4" fill="#4fe01c"/>
<polygon points="61.9,43.2 61.3,42.1 62.0,41.1 62.7,41.9 62.9,43.4 62.5,43.9" fill="#40c818"/>
<polygon points="80.9,27.9 81.5,28.6 81.8,29.7 81.0,30.7 80.3,31.1 80.5,29.2" fill="#66ff22"/>
<polygon points="75.7,49.8 74.2,50.0 73.0,49.5 73.3,48.9 75.2,48.6 75.5,49.1" fill="#66ff22"/>
<polygon points="72.8,57.0 72.3,57.5 71.8,56.9 72.2,55.2 72.9,55.3 73.0,55.9" fill="#66ff22"/>
<polygon points="7.5,10.3 7.0,9.7 6.8,8.6 8.5,8.1 8.9,9.0 9.1,10.0" fill="#35a814"/>
<polygon points="78.8,49.0 77.0,50.1 75.3,48.4 77.2,45.9 80.3,44.0 81.3,46.2" fill="#66ff22"/>
<polygon points="38.2,62.1 39.2,64.1 38.7,65.6 36.9,65.7 34.0,63.6 35.8,61.6" fill="#66ff22"/>
<ellipse cx="2.2" cy="10.8" rx="1.00" ry="0.60" transform="rotate(178 2.2 10.8)" fill="#4fe01c"/>
<ellipse cx="14.4" cy="33.0" rx="1.01" ry="0.63" transform="rotate(102 14.4 33.0)" fill="#40c818"/>
<ellipse cx="22.7" cy="34.3" rx="1.05" ry="0.65" transform="rotate(15 22.7 34.3)" fill="#66ff22"/>
<polygon points="47.1,13.7 48.2,12.6 49.3,12.5 49.6,13.4 48.9,14.0 48.0,14.1" fill="#66ff22"/>
<ellipse cx="3.0" cy="34.0" rx="1.14" ry="0.60" transform="rotate(161 3.0 34.0)" fill="#4fe01c"/>
<ellipse cx="56.6" cy="42.4" rx="1.11" ry="0.60" transform="rotate(173 56.6 42.4)" fill="#66ff22"/>
<polygon points="47.0,18.4 47.3,18.9 47.3,19.7 46.6,20.3 46.0,20.7 46.1,19.5" fill="#66ff22"/>
<polygon points="54.1,55.7 54.0,57.5 51.8,57.8 50.3,57.3 49.6,56.0 51.4,55.7" fill="#40c818"/>
<ellipse cx="18.3" cy="46.5" rx="1.02" ry="0.65" transform="rotate(94 18.3 46.5)" fill="#4fe01c"/>
<polygon points="72.0,3.6 71.2,5.2 69.8,5.8 69.6,5.1 70.2,4.0 71.1,3.0" fill="#66ff22"/>
<polygon points="48.6,62.4 47.9,63.8 46.6,64.6 44.6,61.9 45.4,60.8 46.5,60.4" fill="#66ff22"/>
<ellipse cx="57.0" cy="6.6" rx="1.11" ry="0.60" transform="rotate(166 57.0 6.6)" fill="#40c818"/>
<polygon points="52.6,52.0 52.0,53.2 50.6,53.1 48.8,52.0 48.5,50.8 50.0,50.7" fill="#40c818"/>
<polygon points="23.8,42.8 25.3,41.3 26.9,40.7 27.0,43.3 25.3,45.6 24.0,45.5" fill="#66ff22"/>
<polygon points="5.2,62.9 4.3,63.8 3.2,64.4 2.3,63.7 3.8,62.4 5.5,61.9" fill="#40c818"/>
<polygon points="13.3,19.0 13.9,18.0 14.5,18.6 14.5,19.4 13.5,20.0 13.0,19.9" fill="#4fe01c"/>
<ellipse cx="76.1" cy="55.6" rx="1.12" ry="0.60" transform="rotate(32 76.1 55.6)" fill="#35a814"/>
<polygon points="14.7,42.3 13.5,42.0 14.6,41.0 15.6,40.6 16.4,40.6 15.9,41.3" fill="#66ff22"/>
<polygon points="85.4,26.7 82.6,26.2 81.9,25.2 82.1,23.7 85.1,23.9 87.7,25.9" fill="#66ff22"/>
<ellipse cx="83.6" cy="57.7" rx="1.08" ry="0.75" transform="rotate(79 83.6 57.7)" fill="#66ff22"/>
<polygon points="55.3,52.5 56.5,53.4 57.1,54.5 55.8,54.6 54.6,53.4 54.6,52.6" fill="#66ff22"/>
<polygon points="73.4,29.8 72.8,29.5 73.3,27.8 74.5,27.7 75.2,27.9 74.9,28.9" fill="#66ff22"/>
<polygon points="63.4,33.5 62.2,35.0 62.2,33.1 62.7,30.9 64.4,29.8 63.7,32.5" fill="#35a814"/>
<ellipse cx="1.5" cy="55.0" rx="1.06" ry="0.60" transform="rotate(145 1.5 55.0)" fill="#66ff22"/>
<polygon points="50.5,10.3 49.9,9.5 51.5,9.2 53.1,9.1 53.6,9.9 51.5,10.4" fill="#66ff22"/>
<ellipse cx="88.0" cy="42.8" rx="1.06" ry="0.60" transform="rotate(163 88.0 42.8)" fill="#4fe01c"/>
<polygon points="66.2,26.3 66.3,23.2 68.3,21.7 70.2,20.9 68.8,24.6 67.2,26.7" fill="#66ff22"/>
<polygon points="36.4,16.1 37.2,14.6 38.0,13.7 38.9,14.3 38.4,15.5 36.9,16.6" fill="#66ff22"/>
<polygon points="7.9,15.3 5.8,14.3 6.5,12.1 9.7,11.4 11.6,11.8 9.9,13.6" fill="#35a814"/>
<ellipse cx="19.3" cy="65.7" rx="1.09" ry="0.60" transform="rotate(65 19.3 65.7)" fill="#4fe01c"/>
<polygon points="66.6,11.2 68.2,10.3 72.5,9.5 72.0,11.0 72.5,12.0 69.2,11.9" fill="#66ff22"/>
<polygon points="49.7,45.7 48.7,45.8 47.5,45.5 48.2,44.6 50.0,44.2 50.0,45.0" fill="#35a814"/>
<polygon points="8.0,44.3 9.0,45.0 9.9,46.7 8.8,46.7 7.3,45.8 6.4,44.5" fill="#66ff22"/>
<ellipse cx="66.4" cy="63.7" rx="1.18" ry="0.60" transform="rotate(23 66.4 63.7)" fill="#66ff22"/>
<ellipse cx="58.5" cy="65.2" rx="1.05" ry="0.64" transform="rotate(119 58.5 65.2)" fill="#40c818"/>
<polygon points="35.3,30.3 36.6,30.9 37.5,32.3 36.5,32.1 35.3,31.9 34.6,30.5" fill="#35a814"/>
<ellipse cx="47.0" cy="57.0" rx="1.01" ry="0.60" transform="rotate(40 47.0 57.0)" fill="#35a814"/>
<polygon points="27.7,16.4 29.0,17.1 29.5,19.7 28.1,21.3 26.8,19.4 26.1,16.6" fill="#66ff22"/>
<polygon points="83.2,11.2 83.0,13.1 82.0,13.3 81.7,11.0 82.3,9.3 83.2,9.0" fill="#66ff22"/>
<polygon points="11.5,39.7 12.3,40.4 10.6,41.6 9.4,41.7 8.8,40.8 9.8,39.4" fill="#66ff22"/>
<polygon points="31.5,65.5 31.1,63.7 33.7,62.8 34.4,64.7 34.2,66.5 31.9,67.1" fill="#35a814"/>
<polygon points="16.1,25.9 17.3,26.5 18.0,27.2 16.2,27.6 15.1,27.7 14.8,26.6" fill="#66ff22"/>
<polygon points="8.5,51.2 8.0,49.4 8.1,47.4 9.2,47.3 10.7,49.7 10.0,51.3" fill="#4fe01c"/>
<polygon points="71.8,19.8 73.5,20.9 73.3,23.4 72.1,25.5 68.9,24.9 70.2,23.0" fill="#66ff22"/>
<polygon points="70.3,40.2 69.3,43.2 67.9,44.0 66.9,43.5 67.7,41.0 68.9,40.1" fill="#66ff22"/>
<polygon points="80.4,62.2 83.1,61.3 85.5,61.8 84.1,64.3 82.6,66.1 80.8,64.7" fill="#35a814"/>
<ellipse cx="20.2" cy="7.8" rx="1.00" ry="0.60" transform="rotate(16 20.2 7.8)" fill="#66ff22"/>
<polygon points="65.5,15.4 67.3,15.7 67.4,16.2 67.6,17.1 65.8,16.9 64.5,16.2" fill="#35a814"/>
<polygon points="34.4,33.8 34.6,36.2 33.1,36.5 31.4,34.3 31.9,33.0 33.2,33.2" fill="#66ff22"/>
<polygon points="40.8,61.5 40.1,59.5 41.3,58.3 42.1,58.4 42.7,59.6 41.6,61.0" fill="#66ff22"/>
<polygon points="79.4,23.8 78.2,23.7 77.1,23.2 78.6,21.7 80.2,21.3 81.1,21.4" fill="#35a814"/>
<polygon points="85.8,36.7 85.4,36.2 85.0,34.8 86.1,34.5 86.9,35.7 86.5,36.6" fill="#66ff22"/>
<polygon points="29.6,24.7 29.3,25.5 27.4,26.1 27.1,25.2 28.6,23.8 30.1,23.7" fill="#35a814"/>
<polygon points="45.9,48.4 45.5,49.5 43.7,49.3 43.9,47.3 44.6,45.6 46.1,46.9" fill="#35a814"/>
<ellipse cx="59.4" cy="45.1" rx="1.20" ry="0.81" transform="rotate(59 59.4 45.1)" fill="#40c818"/>
<polygon points="44.0,49.4 41.0,50.2 39.5,49.2 39.9,48.4 41.3,47.7 43.7,48.0" fill="#66ff22"/>
<polygon points="37.6,42.5 36.8,41.1 37.0,38.9 38.6,39.5 39.8,40.2 39.5,42.7" fill="#35a814"/>
<polygon points="50.2,31.4 49.6,29.1 50.2,27.2 51.4,26.9 53.2,27.2 52.2,30.0" fill="#66ff22"/>
<polygon points="55.6,17.3 54.4,19.6 52.8,19.1 52.8,17.5 53.8,16.1 56.1,15.7" fill="#66ff22"/>
<polygon points="82.5,59.1 81.7,60.5 79.6,60.8 77.8,60.5 77.8,59.1 79.5,58.7" fill="#35a814"/>
<polygon points="61.3,40.7 60.4,40.0 60.0,39.2 61.1,37.4 62.6,37.7 62.3,39.6" fill="#66ff22"/>
<polygon points="61.7,22.8 61.0,22.5 61.9,21.1 63.0,19.8 64.0,20.3 63.8,21.7" fill="#4fe01c"/>
<polygon points="48.3,13.9 50.9,15.6 52.3,17.1 51.5,18.5 49.3,17.9 48.0,15.9" fill="#66ff22"/>
<ellipse cx="4.9" cy="15.9" rx="1.00" ry="0.65" transform="rotate(178 4.9 15.9)" fill="#66ff22"/>
<polygon points="32.4,40.5 33.2,39.9 34.3,40.0 34.7,40.3 33.9,41.1 32.5,41.3" fill="#66ff22"/>
<polygon points="68.7,34.5 66.9,36.1 65.3,34.7 65.5,32.8 67.6,31.0 68.4,32.9" fill="#66ff22"/>
<ellipse cx="27.6" cy="13.8" rx="1.02" ry="0.60" transform="rotate(57 27.6 13.8)" fill="#40c818"/>
<polygon points="72.1,9.7 72.0,9.0 73.4,8.4 74.4,8.9 75.9,9.6 74.4,10.1" fill="#66ff22"/>
<polygon points="74.5,3.4 75.3,4.0 76.1,5.0 74.0,5.4 72.7,5.1 72.7,3.9" fill="#4fe01c"/>
<ellipse cx="79.7" cy="56.0" rx="1.10" ry="0.60" transform="rotate(54 79.7 56.0)" fill="#66ff22"/>
<polygon points="18.3,35.3 17.7,34.1 17.9,33.1 19.2,32.9 20.1,33.3 19.6,34.2" fill="#66ff22"/>
<ellipse cx="27.1" cy="31.1" rx="1.03" ry="0.60" transform="rotate(77 27.1 31.1)" fill="#66ff22"/>
<polygon points="30.6,38.5 31.2,40.1 28.5,40.9 27.1,40.2 29.0,38.0 30.3,37.3" fill="#4fe01c"/>
<ellipse cx="31.1" cy="3.9" rx="1.14" ry="0.60" transform="rotate(65 31.1 3.9)" fill="#66ff22"/>
<polygon points="18.9,53.1 20.7,52.4 21.0,53.3 21.3,53.9 19.8,54.6 18.1,54.5" fill="#4fe01c"/>
<ellipse cx="59.1" cy="26.9" rx="1.17" ry="0.65" transform="rotate(177 59.1 26.9)" fill="#66ff22"/>
<polygon points="25.9,54.4 28.2,52.8 29.6,53.7 29.0,55.4 27.8,56.3 25.9,55.8" fill="#66ff22"/>
<polygon points="45.5,40.1 44.7,39.5 44.4,38.8 45.1,37.9 45.8,37.6 45.8,39.4" fill="#66ff22"/>
<polygon points="86.1,46.4 87.4,45.6 88.3,45.5 89.0,46.5 88.0,47.4 86.7,47.1" fill="#66ff22"/>
<ellipse cx="3.7" cy="52.4" rx="1.08" ry="0.63" transform="rotate(93 3.7 52.4)" fill="#66ff22"/>
<ellipse cx="60.0" cy="60.0" rx="1.04" ry="0.60" transform="rotate(56 60.0 60.0)" fill="#4fe01c"/>
<polygon points="76.3,13.7 78.1,14.1 79.4,16.6 78.3,16.5 76.5,16.1 75.3,14.4" fill="#40c818"/>
<polygon points="54.2,46.1 53.0,44.7 53.8,44.3 54.7,44.8 55.6,45.4 55.3,46.3" fill="#35a814"/>
<polygon points="2.0,37.3 2.1,37.8 1.7,38.2 0.7,37.5 0.0,36.6 1.0,36.7" fill="#66ff22"/>
<polygon points="8.5,40.6 5.7,42.4 4.8,41.5 5.7,40.1 8.0,38.2 9.3,39.1" fill="#66ff22"/>
<polygon points="17.3,58.5 18.5,58.6 20.5,59.0 19.1,59.6 18.2,59.8 17.5,59.3" fill="#66ff22"/>
<polygon points="58.4,55.1 59.6,54.3 61.9,54.9 60.4,56.6 59.0,57.0 56.8,56.9" fill="#66ff22"/>
<polygon points="21.8,10.9 22.9,8.7 25.8,8.1 27.5,9.0 25.0,12.0 22.1,13.2" fill="#66ff22"/>
<polygon points="8.2,58.5 6.6,58.2 4.8,56.9 5.4,56.0 7.1,56.4 9.4,57.9" fill="#4fe01c"/>
<polygon points="66.6,0.8 68.4,1.1 68.2,2.6 66.9,3.4 65.7,2.5 65.1,1.0" fill="#35a814"/>
<polygon points="52.3,0.0 54.0,-1.0 54.4,1.9 54.4,5.0 52.8,4.8 52.2,3.7" fill="#66ff22"/>
<ellipse cx="11.8" cy="24.8" rx="1.08" ry="0.60" transform="rotate(48 11.8 24.8)" fill="#66ff22"/>
<ellipse cx="68.8" cy="61.2" rx="1.00" ry="0.60" transform="rotate(20 68.8 61.2)" fill="#4fe01c"/>
<polygon points="24.6,24.9 22.4,23.0 23.8,22.1 25.0,22.2 26.8,23.8 26.5,25.6" fill="#66ff22"/>
<polygon points="24.0,58.0 25.5,59.1 25.6,61.9 23.6,62.7 22.4,59.0 22.3,57.1" fill="#40c818"/>
<polygon points="42.6,26.2 43.9,26.7 45.4,28.4 44.2,28.7 42.0,28.2 42.0,27.3" fill="#66ff22"/>
<polygon points="29.3,60.7 27.9,62.3 25.8,61.1 25.4,59.8 26.8,58.9 28.8,59.7" fill="#35a814"/>
<polygon points="24.3,51.6 24.6,50.7 26.6,50.5 27.4,51.3 26.3,52.1 25.2,52.3" fill="#40c818"/>
<polygon points="24.3,28.0 23.8,26.6 24.9,26.7 25.6,27.7 27.1,29.3 25.1,29.0" fill="#66ff22"/>
<polygon points="42.0,8.2 44.6,8.6 43.2,9.8 42.0,11.0 39.9,10.2 39.4,8.5" fill="#66ff22"/>
<polygon points="55.2,14.9 55.6,13.3 56.0,11.8 58.3,11.9 58.5,13.5 57.3,14.6" fill="#66ff22"/>
<polygon points="32.4,32.2 30.6,30.5 30.3,29.4 31.4,29.0 33.5,29.7 34.2,31.1" fill="#4fe01c"/>
<polygon points="35.5,19.6 36.7,19.2 36.5,20.2 35.4,21.4 34.8,21.0 34.5,19.6" fill="#66ff22"/>
<polygon points="10.9,61.5 11.9,62.5 11.8,63.9 11.0,65.2 9.8,64.1 9.8,62.2" fill="#66ff22"/>
<polygon points="40.7,48.3 38.4,48.2 35.0,48.3 35.2,46.0 37.5,45.4 40.7,46.0" fill="#4fe01c"/>
<ellipse cx="86.5" cy="61.2" rx="1.04" ry="0.63" transform="rotate(82 86.5 61.2)" fill="#66ff22"/>
<polygon points="36.8,24.4 35.1,24.6 33.9,24.5 34.1,23.0 35.4,23.1 36.6,23.2" fill="#66ff22"/>
<polygon points="33.6,56.8 35.3,59.4 34.4,59.9 31.8,57.7 30.1,54.8 31.1,54.4" fill="#66ff22"/>
<ellipse cx="37.4" cy="4.3" rx="1.00" ry="0.60" transform="rotate(112 37.4 4.3)" fill="#66ff22"/>
<ellipse cx="36.8" cy="60.3" rx="1.18" ry="0.77" transform="rotate(24 36.8 60.3)" fill="#66ff22"/>
<polygon points="88.4,3.7 87.6,2.0 87.0,0.5 88.2,0.8 88.9,1.6 89.2,3.5" fill="#40c818"/>
<polygon points="54.0,30.8 53.6,33.1 52.4,32.7 50.5,31.1 51.5,30.2 52.6,29.5" fill="#66ff22"/>
<polygon points="82.4,8.4 82.0,6.7 83.3,4.7 86.9,5.6 86.1,7.5 84.9,9.3" fill="#66ff22"/>
<polygon points="19.9,29.4 18.5,29.6 19.1,27.2 19.7,24.6 21.2,25.1 21.1,27.9" fill="#4fe01c"/>
<polygon points="32.5,50.0 30.8,51.4 30.3,49.7 30.9,48.4 32.7,46.8 33.0,47.9" fill="#40c818"/>
<polygon points="4.4,0.7 5.7,1.2 4.5,1.6 3.6,1.7 2.9,1.1 3.7,0.6" fill="#40c818"/>
<polygon points="15.4,10.4 13.4,13.2 12.8,12.0 11.6,10.9 13.6,9.2 14.8,9.2" fill="#66ff22"/>
<polygon points="6.6,29.5 5.9,30.6 2.2,30.9 1.7,29.6 3.5,28.3 6.1,28.0" fill="#4fe01c"/>
<polygon points="31.0,46.2 30.4,45.6 30.0,45.0 31.9,44.7 32.0,45.2 31.8,45.8" fill="#66ff22"/>
<polygon points="84.7,39.9 83.4,39.8 83.4,38.6 84.3,38.0 85.4,38.9 85.7,39.6" fill="#66ff22"/>
<polygon points="21.0,15.0 21.9,15.1 22.3,16.4 22.2,17.0 21.1,16.3 20.3,15.6" fill="#66ff22"/>
<polygon points="73.8,47.3 70.8,46.8 69.3,45.0 70.4,43.0 72.0,42.0 72.8,44.5" fill="#66ff22"/>
<polygon points="14.1,44.6 15.0,44.0 15.7,44.3 16.1,45.6 14.7,45.7 13.8,45.4" fill="#4fe01c"/>
<polygon points="1.6,21.8 3.2,22.7 4.1,23.4 2.1,24.3 0.5,24.3 0.2,23.0" fill="#66ff22"/>
<polygon points="35.7,38.7 34.7,38.3 35.6,37.3 36.7,36.6 37.0,37.1 37.2,37.9" fill="#35a814"/>
<polygon points="1.8,40.1 3.3,40.6 3.6,41.6 1.6,43.4 0.1,42.9 0.3,41.1" fill="#66ff22"/>
<ellipse cx="65.5" cy="48.7" rx="1.10" ry="0.63" transform="rotate(84 65.5 48.7)" fill="#66ff22"/>
<polygon points="44.4,5.6 45.2,6.6 44.9,7.7 44.2,7.6 43.1,6.3 42.9,5.1" fill="#66ff22"/>
<polygon points="45.5,22.1 46.2,24.0 45.7,25.1 45.3,25.8 44.6,25.0 44.7,23.3" fill="#66ff22"/>
<ellipse cx="76.6" cy="34.6" rx="1.12" ry="0.60" transform="rotate(75 76.6 34.6)" fill="#66ff22"/>
<polygon points="78.2,51.2 79.3,51.8 79.5,53.0 77.5,53.5 75.5,52.3 76.7,51.5" fill="#40c818"/>
<polygon points="22.8,46.6 25.0,47.2 24.1,50.1 22.3,50.5 20.7,50.1 20.9,47.8" fill="#66ff22"/>
<ellipse cx="41.6" cy="64.0" rx="1.02" ry="0.60" transform="rotate(135 41.6 64.0)" fill="#66ff22"/>
<polygon points="72.9,40.0 73.7,41.6 72.5,42.9 70.3,41.8 68.8,40.5 71.2,40.1" fill="#66ff22"/>
<polygon points="3.9,18.8 4.9,19.5 3.5,20.3 2.1,20.0 1.1,19.5 1.8,18.9" fill="#40c818"/>
<polygon points="54.3,61.7 55.8,60.7 57.4,61.6 56.7,63.0 54.2,63.7 53.1,62.7" fill="#40c818"/>
<polygon points="85.2,21.2 82.6,21.9 80.8,20.9 81.2,20.2 83.1,19.2 86.0,19.5" fill="#66ff22"/>
<ellipse cx="74.0" cy="60.7" rx="1.18" ry="0.60" transform="rotate(172 74.0 60.7)" fill="#35a814"/>
<polygon points="20.2,42.1 21.1,41.7 22.8,42.4 21.9,44.1 21.2,45.2 20.3,43.6" fill="#66ff22"/>
<polygon points="55.0,32.9 55.4,32.1 55.7,31.2 57.5,32.2 58.3,32.8 56.7,33.5" fill="#35a814"/>
<polygon points="57.8,-1.0 57.8,2.0 56.7,3.3 55.4,2.7 55.2,0.4 56.2,-0.7" fill="#4fe01c"/>
<polygon points="38.0,55.7 36.7,52.9 38.4,51.8 40.4,54.1 40.9,56.1 39.4,57.1" fill="#66ff22"/>
<polygon points="31.6,7.1 32.5,4.5 34.4,4.1 35.1,6.8 33.1,8.6 31.3,9.9" fill="#35a814"/>
<ellipse cx="88.4" cy="53.6" rx="1.13" ry="0.67" transform="rotate(79 88.4 53.6)" fill="#35a814"/>
<polygon points="43.7,33.6 44.9,34.8 44.0,35.7 42.8,35.0 42.1,33.7 42.3,32.8" fill="#35a814"/>
<polygon points="26.4,4.8 25.4,6.1 23.2,6.0 23.6,4.9 24.0,3.7 25.8,3.9" fill="#40c818"/>
<polygon points="78.4,44.3 77.0,45.1 75.9,44.7 76.8,43.1 79.2,42.0 79.8,43.4" fill="#4fe01c"/>
<ellipse cx="16.1" cy="54.3" rx="1.10" ry="0.71" transform="rotate(127 16.1 54.3)" fill="#66ff22"/>
<polygon points="74.2,50.5 74.4,52.0 73.1,53.4 71.4,53.3 70.9,52.4 72.2,51.5" fill="#66ff22"/>
<polygon points="82.0,36.1 80.6,36.0 79.7,35.4 79.0,33.4 80.5,33.3 81.2,34.3" fill="#66ff22"/>
<circle cx="64.2" cy="4.2" r="0.7" fill="#e01010"/>
<circle cx="57.1" cy="9.5" r="0.7" fill="#e01010"/>
<circle cx="45.1" cy="4.2" r="0.7" fill="#e01010"/>
<circle cx="50.9" cy="63.8" r="0.7" fill="#e01010"/>
</g></svg>
<text x="267.775" y="505.09999999999997" font-size="6.1" text-anchor="middle" font-weight="normal">APC+T cells+CMC+IgG4</text>
<svg x="223.25" y="507.00" width="88.65" height="66.50" viewBox="0 0 88.65 66.50">
<rect width="88.65" height="66.50" fill="#000"/>
<g filter="url(#bl)">
<circle cx="22.3" cy="39.2" r="0.41" fill="rgb(25,102,12)"/>
<circle cx="36.0" cy="64.7" r="0.57" fill="rgb(27,109,13)"/>
<circle cx="76.2" cy="21.1" r="0.52" fill="rgb(23,93,11)"/>
<circle cx="34.2" cy="63.2" r="0.62" fill="rgb(26,104,13)"/>
<circle cx="46.7" cy="51.7" r="0.59" fill="rgb(26,107,13)"/>
<circle cx="61.8" cy="40.6" r="0.54" fill="rgb(42,169,21)"/>
<circle cx="43.1" cy="3.3" r="0.46" fill="rgb(32,131,16)"/>
<circle cx="58.8" cy="54.8" r="0.63" fill="rgb(30,120,15)"/>
<circle cx="56.8" cy="48.2" r="0.63" fill="rgb(38,154,19)"/>
<circle cx="70.4" cy="47.4" r="0.64" fill="rgb(27,111,13)"/>
<circle cx="85.8" cy="23.0" r="0.52" fill="rgb(33,133,16)"/>
<circle cx="63.3" cy="51.8" r="0.59" fill="rgb(40,160,20)"/>
<circle cx="57.7" cy="45.5" r="0.48" fill="rgb(40,163,20)"/>
<circle cx="29.3" cy="46.1" r="0.45" fill="rgb(36,145,18)"/>
<circle cx="53.8" cy="26.5" r="0.60" fill="rgb(40,162,20)"/>
<circle cx="18.4" cy="16.8" r="0.47" fill="rgb(28,115,14)"/>
<circle cx="28.1" cy="59.7" r="0.48" fill="rgb(30,121,15)"/>
<circle cx="45.0" cy="23.8" r="0.62" fill="rgb(27,108,13)"/>
<circle cx="56.3" cy="55.6" r="0.69" fill="rgb(37,151,18)"/>
<circle cx="21.3" cy="56.1" r="0.51" fill="rgb(33,135,16)"/>
<circle cx="66.1" cy="50.4" r="0.48" fill="rgb(34,138,17)"/>
<circle cx="70.5" cy="19.4" r="0.69" fill="rgb(29,117,14)"/>
<circle cx="7.6" cy="9.6" r="0.59" fill="rgb(23,94,11)"/>
<circle cx="27.4" cy="52.5" r="0.64" fill="rgb(38,153,19)"/>
<circle cx="86.7" cy="63.2" r="0.58" fill="rgb(26,104,13)"/>
<circle cx="25.8" cy="6.0" r="0.49" fill="rgb(31,125,15)"/>
<circle cx="58.1" cy="36.9" r="0.48" fill="rgb(40,161,20)"/>
<circle cx="55.6" cy="30.5" r="0.45" fill="rgb(30,123,15)"/>
<circle cx="79.8" cy="29.8" r="0.62" fill="rgb(36,147,18)"/>
<circle cx="48.5" cy="22.3" r="0.54" fill="rgb(24,99,12)"/>
<circle cx="48.6" cy="47.5" r="0.65" fill="rgb(32,130,16)"/>
<circle cx="53.1" cy="10.8" r="0.48" fill="rgb(38,152,19)"/>
<circle cx="5.6" cy="10.8" r="0.57" fill="rgb(38,154,19)"/>
<circle cx="43.0" cy="63.9" r="0.57" fill="rgb(33,133,16)"/>
<circle cx="66.6" cy="42.6" r="0.55" fill="rgb(40,160,20)"/>
<polygon points="73.3,50.2 70.8,50.7 69.4,51.2 68.6,50.1 69.4,49.5 71.5,49.1" fill="#35a814"/>
<polygon points="40.0,18.9 38.7,16.8 39.2,15.7 40.0,16.5 40.8,17.7 41.1,19.5" fill="#66ff22"/>
<polygon points="62.8,23.2 64.1,23.9 64.1,26.0 62.3,28.3 61.2,26.1 61.3,23.3" fill="#66ff22"/>
<ellipse cx="37.2" cy="9.6" rx="1.06" ry="0.60" transform="rotate(107 37.2 9.6)" fill="#66ff22"/>
<polygon points="11.9,42.2 14.4,41.5 13.6,44.1 10.7,46.3 8.7,45.8 10.2,43.9" fill="#4fe01c"/>
<polygon points="47.7,55.8 49.8,55.5 51.5,56.3 51.0,57.7 48.9,57.0 47.8,56.5" fill="#66ff22"/>
<ellipse cx="53.5" cy="5.9" rx="1.00" ry="0.60" transform="rotate(123 53.5 5.9)" fill="#35a814"/>
<polygon points="20.1,33.4 20.3,34.2 20.0,34.8 18.4,35.0 17.9,34.1 17.9,33.7" fill="#4fe01c"/>
<polygon points="61.5,36.6 61.3,37.9 60.3,37.2 60.0,36.0 60.4,34.6 61.0,35.5" fill="#35a814"/>
<polygon points="56.4,12.6 56.0,14.3 54.8,14.8 51.7,13.1 51.9,11.8 53.4,11.7" fill="#40c818"/>
<polygon points="9.2,18.9 9.4,19.5 7.9,21.1 7.3,21.0 7.3,19.5 8.8,18.0" fill="#66ff22"/>
<ellipse cx="83.1" cy="43.1" rx="1.05" ry="0.60" transform="rotate(68 83.1 43.1)" fill="#66ff22"/>
<ellipse cx="80.3" cy="40.8" rx="0.99" ry="0.60" transform="rotate(156 80.3 40.8)" fill="#40c818"/>
<polygon points="78.8,60.6 81.3,60.6 80.7,62.5 77.4,62.7 76.6,62.0 76.9,60.3" fill="#66ff22"/>
<polygon points="5.5,3.7 8.2,4.4 9.8,5.5 8.7,5.8 7.7,5.6 5.3,4.6" fill="#66ff22"/>
<polygon points="13.0,8.5 14.9,6.9 16.4,6.7 16.8,7.8 16.0,8.7 14.2,8.8" fill="#40c818"/>
<polygon points="49.8,50.2 50.3,51.0 50.4,53.0 49.9,53.9 49.2,52.1 49.2,50.9" fill="#66ff22"/>
<polygon points="1.4,26.7 2.8,25.3 5.2,23.6 7.0,23.8 7.3,25.2 4.4,26.8" fill="#66ff22"/>
<polygon points="58.0,65.4 57.3,64.4 57.8,63.5 58.5,63.5 59.0,64.7 58.6,65.5" fill="#66ff22"/>
<polygon points="24.3,52.6 25.8,52.9 25.6,53.8 23.9,54.6 22.2,53.8 22.8,52.5" fill="#4fe01c"/>
<polygon points="66.7,34.1 65.9,34.0 65.2,32.5 65.8,31.6 66.5,31.5 67.0,32.5" fill="#66ff22"/>
<polygon points="23.3,36.8 23.2,36.0 24.8,35.4 26.7,35.9 26.1,37.0 24.7,37.2" fill="#66ff22"/>
<polygon points="52.6,1.6 52.6,1.1 54.2,0.5 55.4,1.1 55.0,1.6 53.7,1.8" fill="#66ff22"/>
<polygon points="67.6,42.6 66.4,42.4 65.8,41.6 67.1,41.0 68.4,41.4 68.7,42.1" fill="#35a814"/>
<ellipse cx="56.6" cy="10.5" rx="0.90" ry="0.60" transform="rotate(132 56.6 10.5)" fill="#40c818"/>
<polygon points="71.4,9.7 72.3,9.5 73.5,10.9 73.9,13.0 73.3,14.1 72.1,11.9" fill="#35a814"/>
<polygon points="46.8,15.1 46.7,16.7 46.2,17.7 45.1,16.9 45.0,14.8 46.5,14.1" fill="#66ff22"/>
<polygon points="77.6,51.0 78.0,51.5 79.0,53.6 78.8,54.6 77.6,53.2 77.4,52.1" fill="#4fe01c"/>
<polygon points="21.1,18.6 19.7,17.9 18.1,16.1 20.4,15.9 22.0,17.1 22.7,18.4" fill="#66ff22"/>
<polygon points="48.5,48.7 49.9,46.9 51.7,46.1 51.2,48.3 49.7,50.0 48.0,50.9" fill="#66ff22"/>
<polygon points="38.5,27.9 38.1,26.8 37.6,25.2 39.8,23.2 40.3,24.5 40.1,26.3" fill="#4fe01c"/>
<ellipse cx="36.0" cy="37.6" rx="0.94" ry="0.60" transform="rotate(177 36.0 37.6)" fill="#66ff22"/>
<polygon points="3.2,59.9 2.5,59.2 3.2,58.5 5.0,57.6 6.0,58.6 5.0,59.3" fill="#66ff22"/>
<polygon points="0.4,17.2 1.6,17.9 3.9,19.0 3.0,20.2 0.7,19.2 -0.8,18.3" fill="#66ff22"/>
<ellipse cx="73.2" cy="17.4" rx="1.02" ry="0.60" transform="rotate(6 73.2 17.4)" fill="#66ff22"/>
<polygon points="36.7,34.0 34.0,33.7 31.3,32.9 29.2,31.6 31.9,31.2 35.2,32.1" fill="#66ff22"/>
<polygon points="32.2,56.2 34.5,54.8 34.9,55.7 34.9,56.1 33.2,57.0 32.1,57.0" fill="#35a814"/>
<ellipse cx="6.1" cy="33.1" rx="0.92" ry="0.60" transform="rotate(112 6.1 33.1)" fill="#40c818"/>
<polygon points="41.8,37.4 42.7,36.8 43.0,37.1 42.0,38.4 40.4,39.7 40.3,38.6" fill="#66ff22"/>
<ellipse cx="76.6" cy="9.7" rx="1.09" ry="0.60" transform="rotate(7 76.6 9.7)" fill="#66ff22"/>
<polygon points="6.8,49.0 5.0,47.3 6.1,47.2 7.7,48.1 8.7,48.9 8.4,49.6" fill="#66ff22"/>
<polygon points="87.4,13.2 87.5,14.2 86.3,15.5 85.8,14.9 85.7,13.8 86.5,13.1" fill="#66ff22"/>
<polygon points="64.9,10.5 66.4,9.0 67.3,8.8 68.0,10.1 66.8,12.6 65.9,11.8" fill="#40c818"/>
<polygon points="28.9,3.7 28.1,2.6 28.3,1.6 28.9,0.6 30.1,2.4 30.0,3.9" fill="#35a814"/>
<polygon points="74.4,58.2 75.1,57.3 76.0,57.0 76.8,58.8 77.4,61.2 75.5,59.7" fill="#66ff22"/>
<ellipse cx="78.5" cy="14.8" rx="1.04" ry="0.60" transform="rotate(163 78.5 14.8)" fill="#66ff22"/>
<ellipse cx="58.6" cy="46.0" rx="1.10" ry="0.60" transform="rotate(166 58.6 46.0)" fill="#35a814"/>
<polygon points="22.0,2.0 22.2,3.3 21.7,3.2 20.9,2.5 20.6,1.3 21.0,1.0" fill="#35a814"/>
<ellipse cx="4.2" cy="44.5" rx="0.96" ry="0.60" transform="rotate(84 4.2 44.5)" fill="#4fe01c"/>
<ellipse cx="38.8" cy="44.9" rx="0.92" ry="0.60" transform="rotate(33 38.8 44.9)" fill="#66ff22"/>
<polygon points="50.6,9.0 51.1,8.8 52.2,10.9 51.8,11.6 51.1,11.7 50.5,10.0" fill="#66ff22"/>
<polygon points="86.2,47.6 85.3,48.3 83.7,45.9 84.3,43.6 85.8,43.5 86.7,46.3" fill="#40c818"/>
<polygon points="44.8,63.3 45.8,64.7 45.9,65.6 45.2,65.0 44.2,63.9 44.0,63.0" fill="#4fe01c"/>
<ellipse cx="28.1" cy="21.4" rx="0.92" ry="0.60" transform="rotate(75 28.1 21.4)" fill="#66ff22"/>
<polygon points="1.3,62.6 3.6,61.7 5.6,62.3 4.6,63.8 1.0,64.6 -0.6,64.4" fill="#66ff22"/>
<polygon points="50.2,61.5 50.6,62.8 49.8,62.8 49.3,62.4 48.8,61.7 49.2,61.1" fill="#66ff22"/>
<polygon points="47.2,40.0 46.5,39.0 46.1,38.0 46.5,37.1 47.5,38.9 47.7,39.8" fill="#66ff22"/>
<ellipse cx="16.3" cy="16.5" rx="0.95" ry="0.60" transform="rotate(152 16.3 16.5)" fill="#35a814"/>
<polygon points="73.8,39.6 74.1,38.4 75.8,38.3 77.3,38.8 76.7,39.8 74.5,40.4" fill="#66ff22"/>
<ellipse cx="75.0" cy="1.3" rx="1.16" ry="0.60" transform="rotate(91 75.0 1.3)" fill="#35a814"/>
<ellipse cx="29.4" cy="64.7" rx="0.90" ry="0.60" transform="rotate(73 29.4 64.7)" fill="#66ff22"/>
<ellipse cx="2.1" cy="48.4" rx="1.19" ry="0.60" transform="rotate(47 2.1 48.4)" fill="#35a814"/>
<polygon points="73.5,22.5 74.3,22.1 75.0,23.2 74.2,25.9 73.2,26.2 72.4,25.3" fill="#66ff22"/>
<polygon points="28.8,11.9 27.0,12.6 26.7,11.8 27.9,10.5 29.8,9.8 29.2,11.2" fill="#66ff22"/>
<polygon points="46.1,28.8 46.0,27.5 48.0,26.9 50.6,28.3 50.1,30.0 48.4,30.5" fill="#35a814"/>
<ellipse cx="48.8" cy="3.3" rx="1.05" ry="0.60" transform="rotate(79 48.8 3.3)" fill="#4fe01c"/>
<polygon points="69.7,57.0 70.5,57.6 69.6,58.1 67.2,57.8 66.3,57.1 67.6,56.3" fill="#40c818"/>
<ellipse cx="59.0" cy="13.3" rx="1.18" ry="0.60" transform="rotate(138 59.0 13.3)" fill="#66ff22"/>
<ellipse cx="47.8" cy="44.0" rx="1.05" ry="0.60" transform="rotate(142 47.8 44.0)" fill="#66ff22"/>
<ellipse cx="30.1" cy="52.1" rx="1.09" ry="0.60" transform="rotate(118 30.1 52.1)" fill="#4fe01c"/>
<ellipse cx="16.7" cy="21.1" rx="0.93" ry="0.60" transform="rotate(177 16.7 21.1)" fill="#35a814"/>
<polygon points="33.4,56.8 31.9,58.0 28.3,58.0 27.9,57.1 29.0,56.0 32.0,55.4" fill="#66ff22"/>
<polygon points="32.7,37.7 32.2,38.7 31.7,38.6 31.2,37.5 31.8,36.6 32.6,36.3" fill="#35a814"/>
<polygon points="20.3,9.3 20.0,8.9 19.9,7.5 20.9,5.8 21.6,7.0 20.9,9.2" fill="#66ff22"/>
<polygon points="85.2,31.5 85.2,33.1 84.6,34.4 83.6,35.4 83.7,34.0 84.2,32.3" fill="#66ff22"/>
<polygon points="65.7,44.2 68.2,45.0 68.3,47.2 68.0,48.1 66.6,47.4 65.5,46.0" fill="#4fe01c"/>
<polygon points="40.4,53.9 39.8,52.7 39.2,50.7 39.8,49.3 40.5,51.3 41.2,53.3" fill="#66ff22"/>
<polygon points="16.0,45.7 14.2,46.0 11.7,45.3 14.1,44.5 17.2,43.8 18.2,44.7" fill="#40c818"/>
<polygon points="86.6,52.8 87.3,51.4 87.7,51.7 88.5,52.0 87.1,53.9 86.4,54.1" fill="#66ff22"/>
<polygon points="76.2,45.8 75.9,46.9 75.1,47.1 74.8,46.1 75.5,45.1 75.9,44.9" fill="#66ff22"/>
<polygon points="84.4,50.2 86.0,53.7 85.0,56.0 83.2,57.2 82.9,53.9 82.4,51.2" fill="#66ff22"/>
<polygon points="45.3,5.6 48.2,6.0 47.1,6.9 45.3,7.9 43.2,7.0 44.2,6.1" fill="#66ff22"/>
<polygon points="30.5,31.8 28.9,33.1 28.0,33.2 28.0,32.4 29.5,30.3 29.9,30.9" fill="#66ff22"/>
<polygon points="5.1,10.8 3.8,8.2 3.2,5.8 5.1,5.8 5.7,7.7 6.3,10.0" fill="#66ff22"/>
<ellipse cx="40.4" cy="56.8" rx="0.98" ry="0.60" transform="rotate(32 40.4 56.8)" fill="#66ff22"/>
<polygon points="70.8,20.8 70.7,22.4 69.8,23.8 68.8,21.6 69.4,19.9 70.3,18.0" fill="#66ff22"/>
<polygon points="10.1,42.0 6.9,42.6 5.4,41.6 6.9,40.3 10.6,39.7 11.3,41.0" fill="#66ff22"/>
<polygon points="17.7,30.3 18.7,29.5 19.2,30.1 18.5,31.5 17.6,31.7 17.3,31.2" fill="#66ff22"/>
<polygon points="65.0,58.0 63.9,58.8 62.7,59.5 62.1,59.1 62.4,58.1 63.7,57.8" fill="#66ff22"/>
<ellipse cx="71.9" cy="32.6" rx="1.04" ry="0.60" transform="rotate(35 71.9 32.6)" fill="#66ff22"/>
<polygon points="7.2,3.0 6.1,3.2 4.2,2.7 4.0,2.2 4.4,1.3 6.3,1.9" fill="#66ff22"/>
<polygon points="63.9,48.2 62.4,49.0 60.2,49.2 60.0,47.9 62.1,47.5 63.7,47.7" fill="#66ff22"/>
<ellipse cx="85.6" cy="18.2" rx="1.11" ry="0.60" transform="rotate(11 85.6 18.2)" fill="#66ff22"/>
<polygon points="59.7,31.6 62.1,29.4 62.5,30.8 62.1,32.5 61.0,33.2 58.9,33.6" fill="#35a814"/>
<polygon points="30.8,8.7 29.1,10.8 28.5,9.3 29.5,7.6 31.2,5.7 31.0,7.3" fill="#40c818"/>
<polygon points="70.7,1.8 68.6,0.7 69.6,-0.2 71.6,0.4 73.0,1.4 72.4,1.9" fill="#66ff22"/>
<ellipse cx="55.4" cy="56.4" rx="1.13" ry="0.60" transform="rotate(116 55.4 56.4)" fill="#66ff22"/>
<polygon points="23.8,29.0 24.2,28.5 24.8,28.3 25.5,30.4 24.8,31.1 24.4,30.7" fill="#35a814"/>
<polygon points="68.3,0.0 68.4,1.0 68.3,1.7 67.4,1.3 66.9,0.3 66.7,-0.9" fill="#40c818"/>
<ellipse cx="39.6" cy="29.5" rx="1.09" ry="0.60" transform="rotate(16 39.6 29.5)" fill="#66ff22"/>
<polygon points="72.2,61.6 73.9,61.4 76.6,62.2 77.0,64.9 76.0,66.1 73.9,64.0" fill="#66ff22"/>
<polygon points="25.7,46.0 24.9,45.6 26.5,44.3 29.1,43.4 29.7,44.5 27.5,45.9" fill="#66ff22"/>
<polygon points="38.0,20.9 37.0,20.2 36.8,19.3 37.4,18.7 38.5,19.5 38.6,20.9" fill="#66ff22"/>
<ellipse cx="35.9" cy="63.6" rx="1.10" ry="0.60" transform="rotate(158 35.9 63.6)" fill="#4fe01c"/>
<ellipse cx="51.1" cy="66.0" rx="0.91" ry="0.60" transform="rotate(1 51.1 66.0)" fill="#4fe01c"/>
<ellipse cx="54.9" cy="52.9" rx="1.08" ry="0.60" transform="rotate(89 54.9 52.9)" fill="#35a814"/>
<polygon points="22.2,60.2 23.5,61.1 23.2,61.6 21.6,61.7 20.4,60.8 20.9,60.1" fill="#35a814"/>
<ellipse cx="66.2" cy="37.1" rx="0.91" ry="0.60" transform="rotate(92 66.2 37.1)" fill="#66ff22"/>
<polygon points="26.7,42.6 26.2,41.1 29.1,39.7 31.7,38.9 31.0,40.5 28.9,41.7" fill="#40c818"/>
<polygon points="15.0,60.5 15.5,58.9 16.4,59.1 16.5,59.7 16.2,60.9 14.8,62.0" fill="#40c818"/>
<ellipse cx="16.8" cy="48.0" rx="0.93" ry="0.60" transform="rotate(79 16.8 48.0)" fill="#66ff22"/>
<polygon points="61.9,12.6 60.8,10.8 62.6,11.4 63.7,12.5 64.5,14.6 62.8,13.4" fill="#66ff22"/>
<ellipse cx="65.4" cy="62.4" rx="0.90" ry="0.60" transform="rotate(122 65.4 62.4)" fill="#66ff22"/>
<polygon points="72.1,25.6 72.5,27.7 71.0,28.5 68.1,27.3 68.0,25.7 68.5,23.1" fill="#66ff22"/>
<polygon points="42.5,60.7 42.5,60.0 43.5,59.9 45.0,60.3 45.7,61.3 44.9,61.7" fill="#66ff22"/>
<ellipse cx="3.7" cy="52.7" rx="1.12" ry="0.60" transform="rotate(150 3.7 52.7)" fill="#66ff22"/>
<polygon points="87.0,10.5 86.3,11.0 84.0,10.4 83.8,9.5 84.1,8.9 85.5,9.6" fill="#66ff22"/>
<polygon points="28.2,16.2 29.7,16.9 28.8,18.3 27.3,17.7 25.1,17.3 25.7,15.5" fill="#66ff22"/>
<polygon points="56.2,29.0 57.4,27.8 57.8,29.4 58.2,31.3 57.1,31.7 56.2,31.1" fill="#35a814"/>
<polygon points="20.2,47.3 21.1,48.5 20.9,49.6 20.6,50.4 20.1,49.3 19.9,48.3" fill="#66ff22"/>
<polygon points="87.6,36.8 85.7,38.1 84.9,37.2 85.4,36.1 86.2,35.5 88.0,34.4" fill="#40c818"/>
<polygon points="59.1,3.7 58.1,4.5 57.1,0.2 58.0,-1.5 59.1,0.4 60.1,2.2" fill="#4fe01c"/>
<polygon points="63.5,19.6 63.0,21.0 62.5,21.2 61.9,21.2 62.2,19.6 63.6,18.7" fill="#66ff22"/>
<ellipse cx="51.1" cy="42.7" rx="0.96" ry="0.60" transform="rotate(175 51.1 42.7)" fill="#40c818"/>
<polygon points="52.7,44.3 52.8,43.4 54.3,42.3 56.1,42.7 57.6,43.6 56.1,44.3" fill="#66ff22"/>
<polygon points="14.4,59.9 12.1,60.4 11.0,59.8 10.5,59.1 11.9,58.5 14.0,58.7" fill="#4fe01c"/>
<polygon points="76.5,28.0 76.4,29.5 75.3,28.6 74.6,27.5 74.8,25.6 75.9,26.8" fill="#66ff22"/>
<polygon points="57.7,35.8 59.5,35.3 59.9,37.4 59.0,40.0 57.4,40.4 57.2,39.5" fill="#66ff22"/>
<polygon points="83.0,22.9 83.7,20.4 84.5,20.3 85.5,23.5 85.1,24.1 84.1,24.8" fill="#35a814"/>
<ellipse cx="3.9" cy="30.0" rx="1.04" ry="0.60" transform="rotate(44 3.9 30.0)" fill="#40c818"/>
<ellipse cx="22.5" cy="24.9" rx="0.90" ry="0.60" transform="rotate(40 22.5 24.9)" fill="#66ff22"/>
<polygon points="58.0,22.9 57.6,22.3 57.6,20.0 58.0,18.0 58.7,18.3 59.0,20.3" fill="#66ff22"/>
<ellipse cx="53.8" cy="48.7" rx="0.90" ry="0.60" transform="rotate(63 53.8 48.7)" fill="#40c818"/>
<polygon points="13.3,14.2 12.6,14.9 11.5,14.1 11.1,12.2 12.0,12.3 12.8,13.0" fill="#4fe01c"/>
<ellipse cx="23.5" cy="64.2" rx="1.14" ry="0.60" transform="rotate(87 23.5 64.2)" fill="#66ff22"/>
<polygon points="45.1,33.5 43.5,32.4 42.1,30.1 43.4,29.8 44.4,30.4 45.1,31.8" fill="#66ff22"/>
<polygon points="71.2,3.4 72.9,2.5 74.3,3.2 73.8,6.5 71.1,7.6 69.6,6.2" fill="#66ff22"/>
<ellipse cx="35.4" cy="52.9" rx="1.13" ry="0.60" transform="rotate(103 35.4 52.9)" fill="#35a814"/>
<polygon points="24.3,49.0 25.5,48.1 27.0,48.1 25.7,49.6 23.4,50.9 22.9,50.5" fill="#66ff22"/>
<ellipse cx="86.9" cy="43.4" rx="1.14" ry="0.60" transform="rotate(119 86.9 43.4)" fill="#66ff22"/>
<circle cx="30.9" cy="44.4" r="0.7" fill="#e01010"/>
<circle cx="34.1" cy="49.3" r="0.7" fill="#e01010"/>
</g></svg>
<text x="358.75" y="505.09999999999997" font-size="6.1" text-anchor="middle" font-weight="normal">APC+T cells+CMC+TTI-CD200</text>
<svg x="314.50" y="507.00" width="88.80" height="66.50" viewBox="0 0 88.80 66.50">
<rect width="88.80" height="66.50" fill="#000"/>
<g filter="url(#bl)">
<circle cx="14.4" cy="65.6" r="0.69" fill="rgb(22,89,11)"/>
<circle cx="9.0" cy="4.3" r="0.66" fill="rgb(40,160,20)"/>
<circle cx="12.1" cy="23.4" r="0.62" fill="rgb(29,119,14)"/>
<circle cx="22.3" cy="3.3" r="0.48" fill="rgb(24,99,12)"/>
<circle cx="78.7" cy="48.3" r="0.48" fill="rgb(28,113,14)"/>
<circle cx="59.5" cy="34.7" r="0.55" fill="rgb(37,150,18)"/>
<circle cx="37.0" cy="27.5" r="0.55" fill="rgb(29,118,14)"/>
<circle cx="78.3" cy="32.8" r="0.54" fill="rgb(37,149,18)"/>
<circle cx="50.0" cy="57.8" r="0.64" fill="rgb(32,129,16)"/>
<circle cx="60.5" cy="4.1" r="0.44" fill="rgb(41,164,20)"/>
<circle cx="23.4" cy="57.9" r="0.59" fill="rgb(29,118,14)"/>
<circle cx="41.2" cy="24.8" r="0.53" fill="rgb(27,110,13)"/>
<circle cx="53.7" cy="21.9" r="0.44" fill="rgb(29,118,14)"/>
<circle cx="9.8" cy="46.0" r="0.56" fill="rgb(39,156,19)"/>
<circle cx="0.3" cy="34.3" r="0.57" fill="rgb(39,158,19)"/>
<circle cx="52.5" cy="36.6" r="0.57" fill="rgb(28,113,14)"/>
<circle cx="46.6" cy="43.4" r="0.62" fill="rgb(25,101,12)"/>
<circle cx="67.1" cy="17.2" r="0.59" fill="rgb(37,151,18)"/>
<circle cx="59.2" cy="56.2" r="0.61" fill="rgb(36,144,18)"/>
<circle cx="26.6" cy="27.2" r="0.59" fill="rgb(44,176,22)"/>
<circle cx="35.8" cy="64.0" r="0.58" fill="rgb(38,154,19)"/>
<circle cx="42.4" cy="14.5" r="0.66" fill="rgb(44,178,22)"/>
<circle cx="45.9" cy="3.9" r="0.53" fill="rgb(42,170,21)"/>
<circle cx="40.8" cy="21.1" r="0.58" fill="rgb(29,119,14)"/>
<circle cx="25.5" cy="18.8" r="0.59" fill="rgb(29,116,14)"/>
<circle cx="83.2" cy="25.7" r="0.56" fill="rgb(39,156,19)"/>
<circle cx="55.0" cy="47.6" r="0.63" fill="rgb(30,121,15)"/>
<circle cx="39.1" cy="8.5" r="0.55" fill="rgb(44,176,22)"/>
<circle cx="36.7" cy="22.2" r="0.52" fill="rgb(28,113,14)"/>
<circle cx="23.7" cy="40.6" r="0.55" fill="rgb(31,126,15)"/>
<circle cx="47.0" cy="64.9" r="0.54" fill="rgb(41,164,20)"/>
<circle cx="30.0" cy="35.9" r="0.54" fill="rgb(23,92,11)"/>
<circle cx="2.7" cy="65.2" r="0.47" fill="rgb(23,93,11)"/>
<circle cx="60.2" cy="56.5" r="0.65" fill="rgb(36,147,18)"/>
<circle cx="14.5" cy="14.6" r="0.65" fill="rgb(29,119,14)"/>
<circle cx="61.7" cy="9.8" r="0.58" fill="rgb(24,96,12)"/>
<circle cx="19.5" cy="8.7" r="0.68" fill="rgb(42,171,21)"/>
<circle cx="14.2" cy="59.5" r="0.48" fill="rgb(35,140,17)"/>
<circle cx="57.0" cy="23.6" r="0.50" fill="rgb(45,180,22)"/>
<circle cx="33.3" cy="46.0" r="0.45" fill="rgb(29,116,14)"/>
<circle cx="1.5" cy="39.2" r="0.40" fill="rgb(23,95,11)"/>
<circle cx="48.4" cy="4.0" r="0.48" fill="rgb(37,148,18)"/>
<circle cx="39.0" cy="59.6" r="0.47" fill="rgb(27,111,13)"/>
<circle cx="3.0" cy="23.5" r="0.67" fill="rgb(27,110,13)"/>
<circle cx="29.4" cy="21.8" r="0.61" fill="rgb(30,121,15)"/>
<circle cx="17.7" cy="51.1" r="0.47" fill="rgb(31,127,15)"/>
<circle cx="24.0" cy="29.6" r="0.43" fill="rgb(34,139,17)"/>
<circle cx="77.5" cy="61.3" r="0.49" fill="rgb(38,152,19)"/>
<circle cx="24.7" cy="58.6" r="0.62" fill="rgb(21,86,10)"/>
<circle cx="15.5" cy="8.7" r="0.41" fill="rgb(32,130,16)"/>
<circle cx="61.4" cy="34.6" r="0.46" fill="rgb(38,152,19)"/>
<circle cx="27.7" cy="45.2" r="0.46" fill="rgb(40,163,20)"/>
<circle cx="25.8" cy="59.8" r="0.58" fill="rgb(35,141,17)"/>
<circle cx="18.8" cy="34.4" r="0.60" fill="rgb(42,171,21)"/>
<circle cx="73.1" cy="31.3" r="0.49" fill="rgb(22,90,11)"/>
<circle cx="71.8" cy="52.6" r="0.57" fill="rgb(33,132,16)"/>
<circle cx="41.2" cy="21.0" r="0.66" fill="rgb(40,160,20)"/>
<circle cx="11.5" cy="11.0" r="0.49" fill="rgb(21,87,10)"/>
<circle cx="59.8" cy="24.2" r="0.54" fill="rgb(44,178,22)"/>
<circle cx="55.3" cy="57.1" r="0.45" fill="rgb(34,137,17)"/>
<circle cx="82.8" cy="25.3" r="0.52" fill="rgb(37,148,18)"/>
<circle cx="88.0" cy="59.2" r="0.53" fill="rgb(38,152,19)"/>
<circle cx="81.4" cy="44.2" r="0.51" fill="rgb(36,144,18)"/>
<circle cx="83.3" cy="52.0" r="0.70" fill="rgb(43,173,21)"/>
<circle cx="51.0" cy="1.7" r="0.69" fill="rgb(24,96,12)"/>
<circle cx="28.4" cy="14.7" r="0.60" fill="rgb(21,85,10)"/>
<circle cx="7.2" cy="26.4" r="0.53" fill="rgb(23,93,11)"/>
<circle cx="5.9" cy="38.5" r="0.60" fill="rgb(43,175,21)"/>
<circle cx="52.2" cy="12.9" r="0.49" fill="rgb(33,135,16)"/>
<circle cx="23.5" cy="37.9" r="0.54" fill="rgb(35,140,17)"/>
<circle cx="55.4" cy="46.7" r="0.51" fill="rgb(41,164,20)"/>
<circle cx="6.4" cy="20.2" r="0.63" fill="rgb(36,146,18)"/>
<circle cx="27.6" cy="43.3" r="0.42" fill="rgb(40,161,20)"/>
<circle cx="58.4" cy="0.4" r="0.52" fill="rgb(27,109,13)"/>
<circle cx="64.8" cy="54.1" r="0.50" fill="rgb(40,160,20)"/>
<circle cx="16.4" cy="46.4" r="0.67" fill="rgb(33,132,16)"/>
<circle cx="33.6" cy="65.1" r="0.66" fill="rgb(34,139,17)"/>
<circle cx="49.3" cy="27.7" r="0.45" fill="rgb(21,87,10)"/>
<circle cx="50.4" cy="10.0" r="0.60" fill="rgb(24,98,12)"/>
<circle cx="33.9" cy="28.9" r="0.47" fill="rgb(43,175,21)"/>
<circle cx="68.6" cy="56.8" r="0.49" fill="rgb(31,127,15)"/>
<circle cx="55.0" cy="33.7" r="0.69" fill="rgb(36,144,18)"/>
<circle cx="55.3" cy="26.0" r="0.64" fill="rgb(23,94,11)"/>
<circle cx="0.7" cy="14.4" r="0.68" fill="rgb(31,125,15)"/>
<circle cx="71.3" cy="63.4" r="0.41" fill="rgb(23,93,11)"/>
<circle cx="5.5" cy="55.1" r="0.59" fill="rgb(32,129,16)"/>
<circle cx="32.8" cy="21.3" r="0.67" fill="rgb(42,171,21)"/>
<circle cx="65.5" cy="12.4" r="0.51" fill="rgb(25,100,12)"/>
<circle cx="1.2" cy="28.6" r="0.50" fill="rgb(38,155,19)"/>
<circle cx="83.9" cy="37.9" r="0.62" fill="rgb(28,113,14)"/>
<circle cx="6.8" cy="34.4" r="0.69" fill="rgb(45,182,22)"/>
<circle cx="21.8" cy="26.1" r="0.48" fill="rgb(28,113,14)"/>
<circle cx="55.0" cy="34.3" r="0.53" fill="rgb(33,134,16)"/>
<circle cx="6.8" cy="14.1" r="0.46" fill="rgb(41,165,20)"/>
<circle cx="85.1" cy="7.5" r="0.45" fill="rgb(28,113,14)"/>
<circle cx="35.6" cy="57.7" r="0.69" fill="rgb(33,133,16)"/>
<circle cx="86.1" cy="13.0" r="0.50" fill="rgb(36,147,18)"/>
<circle cx="12.8" cy="19.7" r="0.62" fill="rgb(36,147,18)"/>
<circle cx="73.4" cy="14.2" r="0.59" fill="rgb(34,138,17)"/>
<circle cx="76.3" cy="51.5" r="0.63" fill="rgb(43,173,21)"/>
<circle cx="58.8" cy="61.6" r="0.40" fill="rgb(42,171,21)"/>
<circle cx="77.5" cy="19.1" r="0.67" fill="rgb(28,113,14)"/>
<circle cx="81.0" cy="47.8" r="0.60" fill="rgb(34,137,17)"/>
<circle cx="34.5" cy="48.1" r="0.64" fill="rgb(31,124,15)"/>
<circle cx="73.5" cy="31.5" r="0.65" fill="rgb(36,147,18)"/>
<circle cx="12.9" cy="65.5" r="0.57" fill="rgb(22,90,11)"/>
<circle cx="81.2" cy="45.0" r="0.44" fill="rgb(22,90,11)"/>
<circle cx="71.5" cy="62.6" r="0.51" fill="rgb(28,115,14)"/>
<circle cx="14.7" cy="39.8" r="0.42" fill="rgb(27,109,13)"/>
<circle cx="69.0" cy="46.1" r="0.68" fill="rgb(38,153,19)"/>
<circle cx="72.6" cy="50.2" r="0.55" fill="rgb(31,124,15)"/>
<circle cx="33.6" cy="29.5" r="0.70" fill="rgb(24,98,12)"/>
<circle cx="7.5" cy="18.0" r="0.54" fill="rgb(33,132,16)"/>
<circle cx="43.0" cy="35.8" r="0.65" fill="rgb(31,125,15)"/>
<circle cx="26.7" cy="52.3" r="0.58" fill="rgb(45,182,22)"/>
<circle cx="38.4" cy="13.4" r="0.49" fill="rgb(46,185,23)"/>
<circle cx="66.6" cy="37.8" r="0.56" fill="rgb(35,142,17)"/>
<circle cx="17.0" cy="12.7" r="0.58" fill="rgb(42,170,21)"/>
<circle cx="29.7" cy="7.7" r="0.55" fill="rgb(39,157,19)"/>
<circle cx="16.6" cy="29.7" r="0.66" fill="rgb(41,167,20)"/>
<circle cx="62.5" cy="29.3" r="0.66" fill="rgb(25,103,12)"/>
<circle cx="22.7" cy="66.2" r="0.54" fill="rgb(41,164,20)"/>
<circle cx="22.8" cy="4.9" r="0.67" fill="rgb(42,168,21)"/>
<circle cx="74.7" cy="40.1" r="0.60" fill="rgb(31,124,15)"/>
<circle cx="11.6" cy="21.3" r="0.68" fill="rgb(30,122,15)"/>
<circle cx="42.6" cy="8.4" r="0.69" fill="rgb(34,139,17)"/>
<circle cx="45.9" cy="56.1" r="0.69" fill="rgb(40,162,20)"/>
<circle cx="18.3" cy="30.6" r="0.68" fill="rgb(34,138,17)"/>
<circle cx="48.6" cy="28.1" r="0.62" fill="rgb(37,149,18)"/>
<circle cx="33.3" cy="64.8" r="0.64" fill="rgb(26,104,13)"/>
<circle cx="69.3" cy="37.1" r="0.50" fill="rgb(34,138,17)"/>
<circle cx="8.1" cy="41.1" r="0.62" fill="rgb(42,169,21)"/>
<circle cx="57.6" cy="4.7" r="0.46" fill="rgb(30,122,15)"/>
<circle cx="43.6" cy="11.8" r="0.43" fill="rgb(32,129,16)"/>
<circle cx="44.3" cy="39.5" r="0.69" fill="rgb(39,156,19)"/>
<circle cx="25.3" cy="50.9" r="0.44" fill="rgb(42,170,21)"/>
<circle cx="46.0" cy="33.5" r="0.46" fill="rgb(21,87,10)"/>
<circle cx="55.7" cy="31.6" r="0.54" fill="rgb(44,177,22)"/>
<circle cx="14.0" cy="54.3" r="0.59" fill="rgb(36,146,18)"/>
<circle cx="25.1" cy="29.3" r="0.50" fill="rgb(44,179,22)"/>
<ellipse cx="74.7" cy="13.0" rx="0.78" ry="0.49" transform="rotate(39 74.7 13.0)" fill="#3ed818"/>
<ellipse cx="45.2" cy="0.1" rx="0.82" ry="0.58" transform="rotate(136 45.2 0.1)" fill="#3ed818"/>
<ellipse cx="39.7" cy="47.3" rx="0.99" ry="0.75" transform="rotate(105 39.7 47.3)" fill="#3ed818"/>
<ellipse cx="50.8" cy="3.4" rx="0.88" ry="0.78" transform="rotate(102 50.8 3.4)" fill="#3ed818"/>
<ellipse cx="44.5" cy="6.6" rx="0.76" ry="0.60" transform="rotate(52 44.5 6.6)" fill="#3ed818"/>
<ellipse cx="49.0" cy="11.6" rx="1.06" ry="0.90" transform="rotate(27 49.0 11.6)" fill="#3ed818"/>
<ellipse cx="19.5" cy="21.7" rx="1.08" ry="0.72" transform="rotate(114 19.5 21.7)" fill="#3ed818"/>
<ellipse cx="79.4" cy="60.4" rx="0.78" ry="0.68" transform="rotate(125 79.4 60.4)" fill="#3ed818"/>
<ellipse cx="22.0" cy="45.9" rx="1.07" ry="0.68" transform="rotate(32 22.0 45.9)" fill="#3ed818"/>
<ellipse cx="85.9" cy="61.6" rx="0.77" ry="0.65" transform="rotate(114 85.9 61.6)" fill="#3ed818"/>
<ellipse cx="72.2" cy="65.8" rx="0.86" ry="0.64" transform="rotate(175 72.2 65.8)" fill="#3ed818"/>
<ellipse cx="7.6" cy="38.0" rx="1.00" ry="0.68" transform="rotate(45 7.6 38.0)" fill="#3ed818"/>
<ellipse cx="65.4" cy="53.3" rx="0.75" ry="0.62" transform="rotate(146 65.4 53.3)" fill="#3ed818"/>
<ellipse cx="69.4" cy="42.1" rx="0.70" ry="0.56" transform="rotate(87 69.4 42.1)" fill="#3ed818"/>
<ellipse cx="20.4" cy="3.0" rx="0.77" ry="0.55" transform="rotate(154 20.4 3.0)" fill="#3ed818"/>
<ellipse cx="34.0" cy="40.8" rx="1.01" ry="0.77" transform="rotate(7 34.0 40.8)" fill="#3ed818"/>
<ellipse cx="24.8" cy="35.2" rx="1.00" ry="0.66" transform="rotate(139 24.8 35.2)" fill="#3ed818"/>
<ellipse cx="75.8" cy="39.4" rx="0.88" ry="0.72" transform="rotate(69 75.8 39.4)" fill="#3ed818"/>
<ellipse cx="5.2" cy="6.0" rx="1.51" ry="1.51" fill="#185f0a"/>
<ellipse cx="11.2" cy="1.9" rx="1.08" ry="1.51" fill="#185f0a"/>
<ellipse cx="8.2" cy="11.3" rx="1.51" ry="1.94" fill="#185f0a"/>
<ellipse cx="11.2" cy="9.0" rx="1.08" ry="1.08" fill="#185f0a"/>
<ellipse cx="4.7" cy="24.5" rx="1.51" ry="1.73" fill="#185f0a"/>
<ellipse cx="1.7" cy="29.0" rx="1.08" ry="1.73" fill="#185f0a"/>
<ellipse cx="16.2" cy="34.8" rx="1.51" ry="1.51" fill="#185f0a"/>
<ellipse cx="5.9" cy="36.0" rx="1.30" ry="1.30" fill="#185f0a"/>
<ellipse cx="27.7" cy="16.6" rx="1.30" ry="2.37" fill="#185f0a"/>
<ellipse cx="31.2" cy="14.3" rx="0.86" ry="0.86" fill="#185f0a"/>
<ellipse cx="29.5" cy="24.2" rx="3.78" ry="1.73" transform="rotate(-20 29.5 24.2)" fill="#185f0a"/>
<ellipse cx="27.7" cy="29.8" rx="2.16" ry="2.70" fill="#185f0a"/>
<ellipse cx="32.1" cy="28.4" rx="2.16" ry="1.30" fill="#185f0a"/>
<ellipse cx="41.0" cy="19.2" rx="1.51" ry="2.37" fill="#185f0a"/>
<ellipse cx="42.7" cy="21.4" rx="1.08" ry="1.08" fill="#185f0a"/>
<ellipse cx="45.9" cy="13.9" rx="4.32" ry="2.16" transform="rotate(60 45.9 13.9)" fill="#185f0a"/>
<ellipse cx="48.0" cy="9.5" rx="1.73" ry="1.30" fill="#185f0a"/>
<ellipse cx="52.5" cy="18.3" rx="3.78" ry="2.37" fill="#185f0a"/>
<ellipse cx="51.6" cy="5.4" rx="2.16" ry="1.51" fill="#185f0a"/>
<ellipse cx="55.1" cy="4.2" rx="1.51" ry="1.30" fill="#185f0a"/>
<ellipse cx="62.2" cy="7.7" rx="1.51" ry="1.08" fill="#185f0a"/>
<ellipse cx="64.3" cy="15.7" rx="2.16" ry="1.51" transform="rotate(30 64.3 15.7)" fill="#185f0a"/>
<ellipse cx="58.7" cy="21.4" rx="1.30" ry="1.30" fill="#185f0a"/>
<ellipse cx="62.2" cy="24.5" rx="1.51" ry="1.51" fill="#185f0a"/>
<ellipse cx="67.1" cy="26.3" rx="2.37" ry="2.70" fill="#185f0a"/>
<ellipse cx="70.2" cy="28.4" rx="1.30" ry="1.94" fill="#185f0a"/>
<ellipse cx="74.6" cy="29.8" rx="1.08" ry="1.08" fill="#185f0a"/>
<ellipse cx="45.4" cy="29.0" rx="1.94" ry="1.30" fill="#185f0a"/>
<ellipse cx="41.0" cy="35.5" rx="1.94" ry="1.73" fill="#185f0a"/>
<ellipse cx="50.7" cy="35.2" rx="1.30" ry="1.30" fill="#185f0a"/>
<ellipse cx="60.1" cy="36.0" rx="1.51" ry="1.08" fill="#185f0a"/>
<ellipse cx="71.0" cy="33.4" rx="1.08" ry="1.08" fill="#185f0a"/>
<ellipse cx="78.1" cy="10.4" rx="1.51" ry="1.30" fill="#185f0a"/>
<ellipse cx="81.7" cy="7.7" rx="1.73" ry="1.30" fill="#185f0a"/>
<ellipse cx="85.2" cy="18.3" rx="1.30" ry="1.73" fill="#185f0a"/>
<ellipse cx="86.1" cy="24.5" rx="1.08" ry="1.51" fill="#185f0a"/>
<ellipse cx="86.1" cy="41.3" rx="1.30" ry="1.30" fill="#185f0a"/>
<ellipse cx="86.6" cy="54.3" rx="1.08" ry="1.94" fill="#185f0a"/>
<ellipse cx="16.2" cy="45.8" rx="2.70" ry="1.51" fill="#185f0a"/>
<ellipse cx="21.5" cy="45.8" rx="1.73" ry="1.73" fill="#185f0a"/>
<ellipse cx="19.7" cy="49.3" rx="1.30" ry="1.30" fill="#185f0a"/>
<ellipse cx="57.8" cy="47.9" rx="2.70" ry="1.51" fill="#185f0a"/>
<ellipse cx="62.5" cy="48.4" rx="1.51" ry="1.51" fill="#185f0a"/>
<ellipse cx="68.9" cy="49.0" rx="1.51" ry="1.30" fill="#185f0a"/>
<ellipse cx="40.1" cy="53.2" rx="1.73" ry="1.30" fill="#185f0a"/>
<ellipse cx="45.9" cy="54.3" rx="1.94" ry="2.70" fill="#185f0a"/>
<ellipse cx="51.6" cy="57.3" rx="2.70" ry="2.70" fill="#185f0a"/>
<ellipse cx="30.7" cy="55.0" rx="1.94" ry="2.37" fill="#185f0a"/>
<ellipse cx="28.2" cy="57.3" rx="1.30" ry="1.30" fill="#185f0a"/>
<ellipse cx="25.0" cy="59.0" rx="2.16" ry="1.51" fill="#185f0a"/>
<ellipse cx="21.5" cy="60.8" rx="2.37" ry="1.73" fill="#185f0a"/>
<ellipse cx="18.3" cy="62.6" rx="1.51" ry="1.30" fill="#185f0a"/>
<ellipse cx="37.4" cy="59.0" rx="2.16" ry="2.16" fill="#185f0a"/>
<ellipse cx="38.8" cy="63.5" rx="1.30" ry="1.30" fill="#185f0a"/>
<ellipse cx="62.2" cy="64.3" rx="1.08" ry="1.94" fill="#185f0a"/>
<ellipse cx="79.9" cy="61.3" rx="1.51" ry="1.51" fill="#185f0a"/>
<ellipse cx="83.8" cy="62.0" rx="0.86" ry="0.86" fill="#185f0a"/>
<ellipse cx="3.8" cy="65.2" rx="1.08" ry="1.08" fill="#185f0a"/>
<ellipse cx="33.5" cy="44.4" rx="0.86" ry="0.86" fill="#185f0a"/>
<ellipse cx="49.5" cy="44.4" rx="0.86" ry="0.86" fill="#185f0a"/>
<ellipse cx="9.5" cy="34.8" rx="0.86" ry="0.86" fill="#185f0a"/>
<ellipse cx="34.8" cy="40.5" rx="0.86" ry="0.86" fill="#185f0a"/>
<ellipse cx="-0.1" cy="16.6" rx="0.65" ry="1.51" fill="#185f0a"/>
<ellipse cx="42.4" cy="9.5" rx="0.86" ry="0.86" fill="#185f0a"/>
<ellipse cx="20.1" cy="8.6" rx="0.65" ry="0.65" fill="#185f0a"/>
<polygon points="4.7,5.1 5.6,5.1 6.0,5.9 6.5,7.0 4.7,7.6 4.1,6.7 4.7,5.8" fill="#66ff22"/>
<polygon points="11.5,1.5 12.3,2.2 11.7,3.0 10.7,2.9 10.1,2.1 10.4,0.8 11.2,1.0" fill="#66ff22"/>
<polygon points="7.0,11.0 7.7,9.3 8.5,9.1 9.0,10.6 9.3,11.8 8.4,13.1 7.4,12.8" fill="#66ff22"/>
<ellipse cx="11.2" cy="9.0" rx="0.80" ry="0.80" fill="#66ff22"/>
<polygon points="3.4,25.7 3.4,24.3 3.9,22.9 4.8,23.0 6.0,24.0 5.9,25.5 5.1,26.3" fill="#66ff22"/>
<polygon points="2.2,30.2 1.4,30.1 0.7,29.3 1.3,28.5 1.7,28.1 2.2,28.4 2.4,29.1" fill="#66ff22"/>
<polygon points="14.8,35.4 15.0,34.3 15.7,33.1 16.8,33.7 17.9,34.8 16.9,35.4 15.9,36.3" fill="#66ff22"/>
<ellipse cx="5.9" cy="36.0" rx="0.96" ry="0.96" fill="#66ff22"/>
<polygon points="27.3,17.5 26.7,16.9 27.3,15.6 27.9,14.1 28.2,16.1 28.4,17.7 28.0,18.5" fill="#66ff22"/>
<ellipse cx="31.2" cy="14.3" rx="0.64" ry="0.64" fill="#66ff22"/>
<polygon points="31.2,23.9 30.1,24.8 29.0,25.2 25.5,25.6 26.8,24.2 29.1,23.5 31.0,22.8" fill="#66ff22"/>
<polygon points="28.8,29.8 28.4,31.2 27.4,32.9 26.8,30.1 27.0,29.2 27.0,27.8 28.7,28.3" fill="#66ff22"/>
<polygon points="31.2,27.9 32.0,27.9 33.0,27.4 33.4,28.5 32.9,28.9 31.3,29.8 30.7,28.8" fill="#66ff22"/>
<polygon points="42.2,18.4 41.9,20.2 40.8,21.3 40.5,19.7 39.6,18.6 40.5,17.2 41.6,17.9" fill="#66ff22"/>
<ellipse cx="42.7" cy="21.4" rx="0.80" ry="0.80" fill="#66ff22"/>
<polygon points="44.6,16.1 43.3,11.9 44.5,10.7 46.4,11.7 47.4,14.5 48.2,16.3 46.3,17.1" fill="#66ff22"/>
<polygon points="47.4,10.6 47.2,9.7 46.9,8.6 48.0,8.8 48.7,9.1 48.6,9.7 48.9,10.7" fill="#66ff22"/>
<polygon points="49.2,18.2 51.8,17.3 53.1,17.3 55.8,17.4 54.7,19.8 53.2,19.8 50.0,19.4" fill="#66ff22"/>
<polygon points="49.4,6.2 49.9,5.1 50.5,4.0 53.0,4.3 53.6,5.5 52.2,6.2 51.2,6.3" fill="#66ff22"/>
<polygon points="56.4,3.4 55.9,4.5 55.2,5.3 54.6,4.8 54.3,4.2 54.9,3.7 55.4,3.6" fill="#66ff22"/>
<polygon points="62.9,7.2 63.1,7.9 62.8,8.3 62.0,8.5 61.3,8.0 61.2,7.3 62.1,7.0" fill="#66ff22"/>
<polygon points="66.2,15.9 65.1,17.2 63.6,16.7 62.8,15.9 63.3,14.9 64.1,14.5 64.8,15.3" fill="#66ff22"/>
<ellipse cx="58.7" cy="21.4" rx="0.96" ry="0.96" fill="#66ff22"/>
<polygon points="62.8,24.6 62.5,25.3 62.0,25.1 61.7,24.7 61.3,23.7 61.7,23.1 63.3,23.4" fill="#66ff22"/>
<polygon points="66.4,27.0 65.9,25.2 67.0,23.5 67.7,25.5 69.0,26.0 67.9,27.9 67.1,27.5" fill="#66ff22"/>
<polygon points="70.2,29.6 69.0,29.4 69.0,27.7 69.6,27.1 70.8,27.0 70.6,28.3 70.8,29.2" fill="#66ff22"/>
<ellipse cx="74.6" cy="29.8" rx="0.80" ry="0.80" fill="#66ff22"/>
<polygon points="45.9,27.7 46.7,28.9 46.5,29.3 45.3,29.7 44.0,29.6 44.7,28.8 44.6,28.1" fill="#66ff22"/>
<polygon points="41.7,34.5 42.5,35.6 42.1,36.8 40.8,36.8 39.4,36.5 39.6,35.5 40.5,34.0" fill="#66ff22"/>
<ellipse cx="50.7" cy="35.2" rx="0.96" ry="0.96" fill="#66ff22"/>
<polygon points="60.3,36.6 59.5,36.6 59.5,36.1 59.4,35.4 60.5,35.4 61.3,35.8 60.9,36.2" fill="#66ff22"/>
<ellipse cx="71.0" cy="33.4" rx="0.80" ry="0.80" fill="#66ff22"/>
<polygon points="78.5,11.0 77.5,11.4 77.0,10.6 77.7,10.0 78.2,9.7 78.8,10.1 78.9,10.4" fill="#66ff22"/>
<polygon points="83.0,7.3 82.9,8.3 81.7,8.4 80.6,8.4 80.8,7.6 80.9,7.0 82.1,6.5" fill="#66ff22"/>
<polygon points="85.0,18.9 84.7,18.5 84.4,17.2 85.2,17.3 86.1,17.8 86.0,18.6 85.5,19.9" fill="#66ff22"/>
<polygon points="86.4,25.2 85.8,26.2 85.6,24.8 85.4,23.9 86.0,24.0 86.4,23.7 86.5,24.5" fill="#66ff22"/>
<ellipse cx="86.1" cy="41.3" rx="0.96" ry="0.96" fill="#66ff22"/>
<polygon points="86.2,52.3 87.0,53.1 87.7,54.0 87.5,55.3 86.7,56.1 85.9,55.1 85.7,53.9" fill="#66ff22"/>
<polygon points="16.8,47.1 14.2,46.6 15.3,45.8 15.4,45.0 17.1,44.6 17.2,45.7 17.6,46.3" fill="#66ff22"/>
<polygon points="20.7,45.8 21.0,44.4 21.8,45.1 23.1,44.9 22.2,46.6 21.7,46.9 20.6,46.7" fill="#66ff22"/>
<ellipse cx="19.7" cy="49.3" rx="0.96" ry="0.96" fill="#66ff22"/>
<polygon points="55.1,47.2 57.6,46.3 60.2,46.9 59.8,48.2 58.3,48.3 56.8,49.3 55.4,48.3" fill="#66ff22"/>
<polygon points="61.6,47.7 62.7,47.8 63.8,47.7 63.2,48.7 63.2,49.7 62.3,49.0 61.5,48.4" fill="#66ff22"/>
<polygon points="68.7,48.5 69.9,48.0 69.9,48.8 70.2,49.9 68.7,49.8 67.9,49.7 67.4,48.5" fill="#66ff22"/>
<polygon points="39.0,53.7 38.2,53.0 39.3,52.2 40.5,52.6 41.3,53.0 41.3,54.0 40.0,54.2" fill="#66ff22"/>
<polygon points="46.4,52.9 47.2,53.5 46.5,55.2 46.0,57.0 45.2,55.0 44.2,53.8 45.1,51.6" fill="#66ff22"/>
<polygon points="50.2,59.3 48.6,57.4 50.4,55.5 52.0,56.3 53.7,56.4 53.9,59.1 51.5,60.0" fill="#66ff22"/>
<polygon points="30.1,53.6 31.0,53.8 32.7,54.7 31.2,55.5 31.1,56.8 30.2,55.5 29.3,54.3" fill="#66ff22"/>
<ellipse cx="28.2" cy="57.3" rx="0.96" ry="0.96" fill="#66ff22"/>
<polygon points="26.9,58.2 26.1,59.4 25.2,60.3 24.3,59.8 23.8,59.0 24.7,58.4 25.5,58.3" fill="#66ff22"/>
<polygon points="22.7,59.3 22.5,60.6 22.5,61.9 21.3,61.4 19.3,61.4 19.9,60.5 20.9,59.8" fill="#66ff22"/>
<polygon points="19.1,63.7 18.2,63.2 17.5,62.9 17.9,62.2 18.5,61.2 18.9,62.0 19.0,62.8" fill="#66ff22"/>
<polygon points="37.0,60.3 35.6,59.7 36.5,58.0 37.4,58.0 38.5,57.5 39.5,59.4 38.3,60.9" fill="#66ff22"/>
<ellipse cx="38.8" cy="63.5" rx="0.96" ry="0.96" fill="#66ff22"/>
<polygon points="62.9,63.2 63.3,64.4 62.8,65.9 61.9,66.3 61.8,64.6 61.1,63.6 62.0,63.3" fill="#66ff22"/>
<polygon points="80.8,60.2 81.3,61.1 80.3,61.8 79.8,62.2 78.8,61.7 79.2,61.0 79.4,59.9" fill="#66ff22"/>
<ellipse cx="83.8" cy="62.0" rx="0.64" ry="0.64" fill="#66ff22"/>
<ellipse cx="3.8" cy="65.2" rx="0.80" ry="0.80" fill="#66ff22"/>
<ellipse cx="33.5" cy="44.4" rx="0.64" ry="0.64" fill="#66ff22"/>
<ellipse cx="49.5" cy="44.4" rx="0.64" ry="0.64" fill="#66ff22"/>
<ellipse cx="9.5" cy="34.8" rx="0.64" ry="0.64" fill="#66ff22"/>
<ellipse cx="34.8" cy="40.5" rx="0.64" ry="0.64" fill="#66ff22"/>
<polygon points="-0.5,16.9 -0.4,16.3 -0.3,15.7 0.4,15.5 0.5,16.3 0.2,16.9 -0.4,18.1" fill="#66ff22"/>
<ellipse cx="42.4" cy="9.5" rx="0.64" ry="0.64" fill="#66ff22"/>
<ellipse cx="20.1" cy="8.6" rx="0.55" ry="0.50" fill="#66ff22"/>
<circle cx="51.9" cy="50.7" r="0.72" fill="rgb(218,15,15)"/>
</g></svg>
<text x="449.975" y="505.09999999999997" font-size="6.1" text-anchor="middle" font-weight="normal">APC+T cells+CMC+Vincristine</text>
<svg x="406.25" y="507.00" width="87.95" height="66.50" viewBox="0 0 87.95 66.50">
<rect width="87.95" height="66.50" fill="#000"/>
<g filter="url(#bl)">
<circle cx="8.2" cy="7.2" r="0.66" fill="rgb(215,15,15)"/>
<circle cx="46.8" cy="3.5" r="0.77" fill="rgb(180,12,12)"/>
<circle cx="65.8" cy="3.5" r="0.60" fill="rgb(196,14,14)"/>
<circle cx="45.0" cy="10.8" r="0.92" fill="rgb(215,15,15)"/>
<circle cx="68.8" cy="9.5" r="0.70" fill="rgb(194,13,13)"/>
<circle cx="18.8" cy="21.5" r="0.77" fill="rgb(188,13,13)"/>
<circle cx="23.2" cy="22.2" r="0.77" fill="rgb(194,13,13)"/>
<circle cx="45.5" cy="21.0" r="0.67" fill="rgb(193,13,13)"/>
<circle cx="76.2" cy="26.0" r="0.78" fill="rgb(240,17,17)"/>
<circle cx="13.2" cy="30.2" r="0.88" fill="rgb(200,14,14)"/>
<circle cx="18.8" cy="31.0" r="0.80" fill="rgb(201,14,14)"/>
<circle cx="68.2" cy="30.2" r="0.79" fill="rgb(221,15,15)"/>
<circle cx="26.8" cy="43.2" r="0.93" fill="rgb(207,14,14)"/>
<circle cx="30.5" cy="42.8" r="0.79" fill="rgb(227,16,16)"/>
<circle cx="36.8" cy="43.5" r="0.63" fill="rgb(191,13,13)"/>
<circle cx="48.0" cy="45.2" r="0.93" fill="rgb(190,13,13)"/>
<circle cx="8.8" cy="45.8" r="0.79" fill="rgb(184,13,13)"/>
<circle cx="6.8" cy="50.2" r="0.63" fill="rgb(185,13,13)"/>
<circle cx="42.5" cy="53.2" r="0.70" fill="rgb(185,13,13)"/>
<circle cx="13.2" cy="59.5" r="0.60" fill="rgb(205,14,14)"/>
<circle cx="45.5" cy="63.2" r="0.81" fill="rgb(173,12,12)"/>
</g></svg>
<rect x="0.6" y="0.6" width="518.8" height="579.8" fill="none" stroke="#000" stroke-width="1.3"/>
</svg>
</body></html>
